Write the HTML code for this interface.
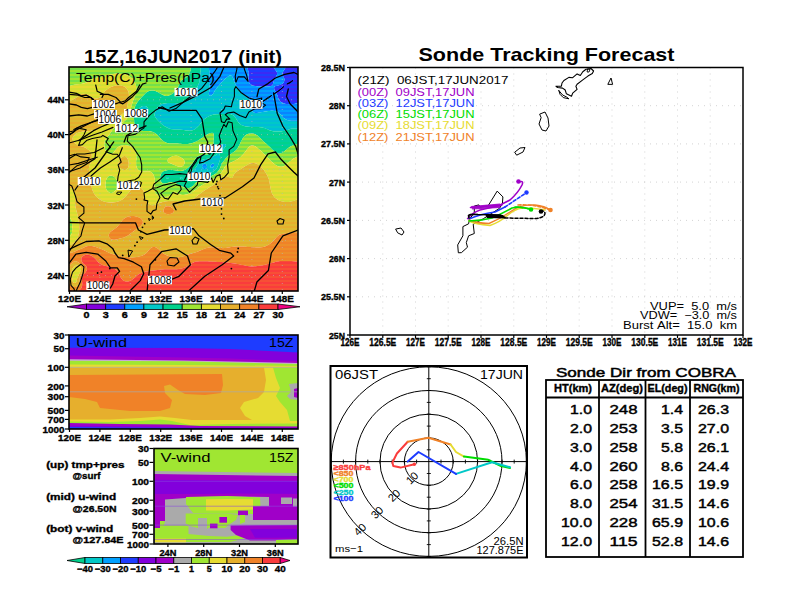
<!DOCTYPE html>
<html><head><meta charset="utf-8"><style>
html,body{margin:0;padding:0;background:#fff;width:792px;height:612px;overflow:hidden;position:relative}
text{font-family:"Liberation Sans", sans-serif}
</style></head><body>
<svg width="792" height="612" viewBox="0 0 792 612" style="position:absolute;left:0;top:0">
<g font-family='"Liberation Sans", sans-serif'>
<clipPath id="cm"><rect x="69" y="67" width="229" height="224"/></clipPath>
<g clip-path="url(#cm)">
<path d="M248.0,65.0L249.0,65.0L250.0,65.0L251.0,65.0L252.0,65.0L253.0,65.0L254.0,65.0L255.0,65.0L256.0,65.0L257.0,65.0L258.0,65.0L259.0,65.0L260.0,65.0L261.0,65.0L262.0,65.0L263.0,65.0L264.0,65.0L265.0,65.0L266.0,65.0L267.0,65.0L268.0,65.0L269.0,65.0L270.0,65.0L271.0,65.0L271.6,65.0L272.0,65.5L272.4,66.0L273.0,66.8L273.2,67.0L274.0,68.0L274.0,68.1L274.7,69.0L275.0,69.3L275.5,70.0L276.0,70.7L276.2,71.0L276.8,72.0L277.0,72.8L277.1,73.0L277.1,74.0L277.0,74.4L276.9,75.0L276.4,76.0L276.0,76.6L275.8,77.0L275.2,78.0L275.0,78.3L274.6,79.0L274.1,80.0L274.0,80.2L273.7,81.0L273.3,82.0L273.1,83.0L273.0,83.5L272.9,84.0L272.6,85.0L272.0,85.6L271.0,86.0L270.8,86.0L270.0,86.2L269.0,86.3L268.0,86.4L267.0,86.5L266.0,86.6L265.0,86.6L264.0,86.6L263.0,86.5L262.0,86.5L261.0,86.4L260.0,86.4L259.0,86.3L258.0,86.3L257.0,86.2L256.0,86.1L255.4,86.0L255.0,85.9L254.0,85.7L253.0,85.4L252.0,85.1L251.9,85.0L251.0,84.5L250.4,84.0L250.0,83.7L249.4,83.0L249.0,82.3L248.9,82.0L248.6,81.0L248.4,80.0L248.4,79.0L248.5,78.0L248.6,77.0L248.7,76.0L248.7,75.0L248.7,74.0L248.6,73.0L248.5,72.0L248.3,71.0L248.0,70.0L248.0,69.9L247.8,69.0L247.5,68.0L247.3,67.0L247.2,66.0L247.1,65.0ZM287.0,65.0L288.0,65.0L289.0,65.0L290.0,65.0L291.0,65.0L292.0,65.0L293.0,65.0L294.0,65.0L295.0,65.0L296.0,65.0L297.0,65.0L298.0,65.0L299.0,65.0L300.0,65.0L300.0,66.0L300.0,67.0L300.0,68.0L300.0,69.0L300.0,70.0L300.0,71.0L300.0,72.0L300.0,73.0L300.0,74.0L300.0,75.0L300.0,76.0L300.0,77.0L300.0,78.0L300.0,79.0L300.0,80.0L300.0,81.0L300.0,82.0L300.0,83.0L300.0,84.0L300.0,85.0L300.0,86.0L300.0,87.0L300.0,88.0L300.0,89.0L300.0,90.0L300.0,91.0L300.0,92.0L300.0,93.0L300.0,94.0L300.0,95.0L300.0,96.0L300.0,97.0L300.0,98.0L300.0,99.0L300.0,100.0L300.0,101.0L300.0,102.0L300.0,102.3L299.0,102.7L298.1,103.0L298.0,103.0L297.0,103.3L296.0,103.6L295.0,103.8L294.0,104.0L293.7,104.0L293.0,104.1L292.0,104.1L291.0,104.1L290.0,104.1L289.0,104.2L288.0,104.1L287.0,104.1L286.2,104.0L286.0,104.0L285.0,103.8L284.0,103.4L283.0,103.0L282.9,103.0L282.0,102.5L281.0,102.0L281.0,102.0L280.0,101.2L279.8,101.0L279.0,100.0L279.0,99.9L278.6,99.0L278.2,98.0L278.0,97.2L277.9,97.0L277.6,96.0L277.2,95.0L277.0,94.6L276.7,94.0L276.1,93.0L276.0,92.7L275.6,92.0L275.1,91.0L275.0,90.8L274.7,90.0L274.3,89.0L274.1,88.0L274.2,87.0L275.0,86.3L275.7,86.0L276.0,85.9L277.0,85.7L278.0,85.4L279.0,85.2L279.6,85.0L280.0,84.9L281.0,84.5L281.8,84.0L282.0,83.9L283.0,83.0L283.0,83.0L283.8,82.0L284.0,81.6L284.3,81.0L284.5,80.0L284.4,79.0L284.1,78.0L284.0,77.8L283.6,77.0L283.2,76.0L283.0,75.6L282.7,75.0L282.5,74.0L282.6,73.0L282.9,72.0L283.0,71.8L283.4,71.0L284.0,70.2L284.1,70.0L284.8,69.0L285.0,68.6L285.4,68.0L286.0,67.0L286.0,66.9L286.5,66.0L286.9,65.0Z" fill="#1e3cff" fill-rule="evenodd"/>
<path d="M210.0,65.0L211.0,65.0L212.0,65.0L213.0,65.0L214.0,65.0L215.0,65.0L216.0,65.0L217.0,65.0L218.0,65.0L219.0,65.0L220.0,65.0L221.0,65.0L222.0,65.0L223.0,65.0L224.0,65.0L225.0,65.0L226.0,65.0L227.0,65.0L228.0,65.0L229.0,65.0L230.0,65.0L231.0,65.0L232.0,65.0L233.0,65.0L234.0,65.0L235.0,65.0L236.0,65.0L237.0,65.0L238.0,65.0L239.0,65.0L240.0,65.0L241.0,65.0L242.0,65.0L243.0,65.0L244.0,65.0L245.0,65.0L246.0,65.0L247.0,65.0L247.1,65.0L247.2,66.0L247.3,67.0L247.5,68.0L247.8,69.0L248.0,69.9L248.0,70.0L248.3,71.0L248.5,72.0L248.6,73.0L248.7,74.0L248.7,75.0L248.7,76.0L248.6,77.0L248.5,78.0L248.4,79.0L248.4,80.0L248.6,81.0L248.9,82.0L249.0,82.3L249.4,83.0L250.0,83.7L250.4,84.0L251.0,84.5L251.9,85.0L252.0,85.1L253.0,85.4L254.0,85.7L255.0,85.9L255.4,86.0L256.0,86.1L257.0,86.2L258.0,86.3L259.0,86.3L260.0,86.4L261.0,86.4L262.0,86.5L263.0,86.5L264.0,86.6L265.0,86.6L266.0,86.6L267.0,86.5L268.0,86.4L269.0,86.3L270.0,86.2L270.8,86.0L271.0,86.0L272.0,85.6L272.6,85.0L272.9,84.0L273.0,83.5L273.1,83.0L273.3,82.0L273.7,81.0L274.0,80.2L274.1,80.0L274.6,79.0L275.0,78.3L275.2,78.0L275.8,77.0L276.0,76.6L276.4,76.0L276.9,75.0L277.0,74.4L277.1,74.0L277.1,73.0L277.0,72.8L276.8,72.0L276.2,71.0L276.0,70.7L275.5,70.0L275.0,69.3L274.7,69.0L274.0,68.1L274.0,68.0L273.2,67.0L273.0,66.8L272.4,66.0L272.0,65.5L271.6,65.0L272.0,65.0L273.0,65.0L274.0,65.0L275.0,65.0L276.0,65.0L277.0,65.0L278.0,65.0L279.0,65.0L280.0,65.0L281.0,65.0L282.0,65.0L283.0,65.0L284.0,65.0L285.0,65.0L286.0,65.0L286.9,65.0L286.5,66.0L286.0,66.9L286.0,67.0L285.4,68.0L285.0,68.6L284.8,69.0L284.1,70.0L284.0,70.2L283.4,71.0L283.0,71.8L282.9,72.0L282.6,73.0L282.5,74.0L282.7,75.0L283.0,75.6L283.2,76.0L283.6,77.0L284.0,77.8L284.1,78.0L284.4,79.0L284.5,80.0L284.3,81.0L284.0,81.6L283.8,82.0L283.0,83.0L283.0,83.0L282.0,83.9L281.8,84.0L281.0,84.5L280.0,84.9L279.6,85.0L279.0,85.2L278.0,85.4L277.0,85.7L276.0,85.9L275.7,86.0L275.0,86.3L274.2,87.0L274.1,88.0L274.3,89.0L274.7,90.0L275.0,90.8L275.1,91.0L275.6,92.0L276.0,92.7L276.1,93.0L276.7,94.0L277.0,94.6L277.2,95.0L277.6,96.0L277.9,97.0L278.0,97.2L278.2,98.0L278.6,99.0L279.0,99.9L279.0,100.0L279.8,101.0L280.0,101.2L281.0,102.0L281.0,102.0L282.0,102.5L282.9,103.0L283.0,103.0L284.0,103.4L285.0,103.8L286.0,104.0L286.2,104.0L287.0,104.1L288.0,104.1L289.0,104.2L290.0,104.1L291.0,104.1L292.0,104.1L293.0,104.1L293.7,104.0L294.0,104.0L295.0,103.8L296.0,103.6L297.0,103.3L298.0,103.0L298.1,103.0L299.0,102.7L300.0,102.3L300.0,103.0L300.0,104.0L300.0,105.0L300.0,106.0L300.0,107.0L300.0,108.0L300.0,109.0L300.0,110.0L300.0,111.0L300.0,112.0L300.0,113.0L300.0,114.0L300.0,115.0L300.0,116.0L300.0,117.0L300.0,118.0L300.0,119.0L300.0,120.0L300.0,120.4L299.0,120.6L298.0,120.7L297.0,120.8L296.0,120.8L295.0,120.8L294.0,120.8L293.0,120.7L292.0,120.7L291.0,120.7L290.0,120.6L289.0,120.4L288.0,120.2L287.3,120.0L287.0,119.9L286.0,119.5L285.1,119.0L285.0,118.9L284.0,118.2L283.7,118.0L283.0,117.4L282.6,117.0L282.0,116.3L281.7,116.0L281.0,115.2L280.9,115.0L280.0,114.0L280.0,113.9L279.1,113.0L279.0,112.9L278.0,112.1L277.9,112.0L277.0,111.6L276.0,111.2L275.0,111.0L274.7,111.0L274.0,110.9L273.0,110.8L272.0,110.8L271.0,110.8L270.0,110.9L269.0,111.0L268.8,111.0L268.0,111.1L267.0,111.3L266.0,111.4L265.0,111.6L264.0,111.8L263.0,111.9L262.4,112.0L262.0,112.1L261.0,112.2L260.0,112.4L259.0,112.5L258.0,112.7L257.0,112.9L256.0,112.9L255.0,112.9L254.0,112.6L253.0,112.1L252.9,112.0L252.0,111.1L251.9,111.0L251.4,110.0L251.0,109.0L251.0,109.0L250.9,108.0L250.9,107.0L250.9,106.0L250.9,105.0L250.8,104.0L250.7,103.0L250.5,102.0L250.0,101.0L250.0,100.9L249.5,100.0L249.0,99.4L248.7,99.0L248.0,98.3L247.7,98.0L247.0,97.4L246.6,97.0L246.0,96.5L245.4,96.0L245.0,95.7L244.1,95.0L244.0,94.9L243.0,94.0L243.0,94.0L242.0,93.1L241.9,93.0L241.0,92.1L240.9,92.0L240.0,91.1L239.9,91.0L239.1,90.0L239.0,89.9L238.3,89.0L238.0,88.6L237.6,88.0L237.0,87.1L237.0,87.0L236.3,86.0L236.0,85.3L235.8,85.0L235.3,84.0L235.0,83.3L234.9,83.0L234.4,82.0L234.1,81.0L234.0,80.8L233.7,80.0L233.3,79.0L233.0,78.0L233.0,78.0L232.5,77.0L232.0,76.2L231.7,76.0L231.0,75.5L230.0,75.5L229.0,75.8L228.8,76.0L228.0,76.5L227.4,77.0L227.0,77.3L226.2,78.0L226.0,78.1L225.1,79.0L225.0,79.1L224.0,80.0L224.0,80.0L223.0,81.0L223.0,81.0L222.1,82.0L222.0,82.1L221.1,83.0L221.0,83.2L220.2,84.0L220.0,84.2L219.3,85.0L219.0,85.4L218.4,86.0L218.0,86.5L217.6,87.0L217.0,87.7L216.7,88.0L216.0,89.0L216.0,89.0L215.3,90.0L215.0,90.5L214.6,91.0L214.1,92.0L214.0,92.2L213.5,93.0L213.0,94.0L213.0,94.0L212.2,95.0L212.0,95.2L211.0,95.8L210.0,95.8L209.0,95.0L209.0,95.0L208.9,94.0L208.9,93.0L209.0,92.6L209.1,92.0L209.3,91.0L209.4,90.0L209.5,89.0L209.5,88.0L209.5,87.0L209.5,86.0L209.4,85.0L209.3,84.0L209.1,83.0L209.0,82.0L209.0,81.0L209.1,80.0L209.2,79.0L209.3,78.0L209.4,77.0L209.4,76.0L209.4,75.0L209.4,74.0L209.4,73.0L209.3,72.0L209.2,71.0L209.1,70.0L209.0,69.0L209.0,69.0L209.0,68.0L209.0,67.0L209.0,67.0L209.3,66.0L209.6,65.0ZM204.0,163.8L205.0,163.7L205.7,164.0L206.0,164.2L206.5,165.0L206.9,166.0L207.0,166.6L207.1,167.0L207.0,167.5L206.8,168.0L206.0,168.6L205.0,169.0L204.0,169.0L203.0,168.6L202.4,168.0L202.0,167.0L202.1,166.0L202.5,165.0L203.0,164.4L203.6,164.0ZM212.0,163.9L213.0,163.6L213.7,164.0L214.0,164.4L214.1,165.0L214.0,166.0L214.0,166.0L213.4,167.0L213.0,167.4L212.0,167.8L211.0,167.7L210.3,167.0L210.5,166.0L211.0,165.0L211.0,165.0L211.9,164.0Z" fill="#00a0ff" fill-rule="evenodd"/>
<path d="M201.0,65.0L202.0,65.0L203.0,65.0L204.0,65.0L205.0,65.0L206.0,65.0L207.0,65.0L208.0,65.0L209.0,65.0L209.6,65.0L209.3,66.0L209.0,67.0L209.0,67.0L209.0,68.0L209.0,69.0L209.0,69.0L209.1,70.0L209.2,71.0L209.3,72.0L209.4,73.0L209.4,74.0L209.4,75.0L209.4,76.0L209.4,77.0L209.3,78.0L209.2,79.0L209.1,80.0L209.0,81.0L209.0,82.0L209.1,83.0L209.3,84.0L209.4,85.0L209.5,86.0L209.5,87.0L209.5,88.0L209.5,89.0L209.4,90.0L209.3,91.0L209.1,92.0L209.0,92.6L208.9,93.0L208.9,94.0L209.0,95.0L209.0,95.0L210.0,95.8L211.0,95.8L212.0,95.2L212.2,95.0L213.0,94.0L213.0,94.0L213.5,93.0L214.0,92.2L214.1,92.0L214.6,91.0L215.0,90.5L215.3,90.0L216.0,89.0L216.0,89.0L216.7,88.0L217.0,87.7L217.6,87.0L218.0,86.5L218.4,86.0L219.0,85.4L219.3,85.0L220.0,84.2L220.2,84.0L221.0,83.2L221.1,83.0L222.0,82.1L222.1,82.0L223.0,81.0L223.0,81.0L224.0,80.0L224.0,80.0L225.0,79.1L225.1,79.0L226.0,78.1L226.2,78.0L227.0,77.3L227.4,77.0L228.0,76.5L228.8,76.0L229.0,75.8L230.0,75.5L231.0,75.5L231.7,76.0L232.0,76.2L232.5,77.0L233.0,78.0L233.0,78.0L233.3,79.0L233.7,80.0L234.0,80.8L234.1,81.0L234.4,82.0L234.9,83.0L235.0,83.3L235.3,84.0L235.8,85.0L236.0,85.3L236.3,86.0L237.0,87.0L237.0,87.1L237.6,88.0L238.0,88.6L238.3,89.0L239.0,89.9L239.1,90.0L239.9,91.0L240.0,91.1L240.9,92.0L241.0,92.1L241.9,93.0L242.0,93.1L243.0,94.0L243.0,94.0L244.0,94.9L244.1,95.0L245.0,95.7L245.4,96.0L246.0,96.5L246.6,97.0L247.0,97.4L247.7,98.0L248.0,98.3L248.7,99.0L249.0,99.4L249.5,100.0L250.0,100.9L250.0,101.0L250.5,102.0L250.7,103.0L250.8,104.0L250.9,105.0L250.9,106.0L250.9,107.0L250.9,108.0L251.0,109.0L251.0,109.0L251.4,110.0L251.9,111.0L252.0,111.1L252.9,112.0L253.0,112.1L254.0,112.6L255.0,112.9L256.0,112.9L257.0,112.9L258.0,112.7L259.0,112.5L260.0,112.4L261.0,112.2L262.0,112.1L262.4,112.0L263.0,111.9L264.0,111.8L265.0,111.6L266.0,111.4L267.0,111.3L268.0,111.1L268.8,111.0L269.0,111.0L270.0,110.9L271.0,110.8L272.0,110.8L273.0,110.8L274.0,110.9L274.7,111.0L275.0,111.0L276.0,111.2L277.0,111.6L277.9,112.0L278.0,112.1L279.0,112.9L279.1,113.0L280.0,113.9L280.0,114.0L280.9,115.0L281.0,115.2L281.7,116.0L282.0,116.3L282.6,117.0L283.0,117.4L283.7,118.0L284.0,118.2L285.0,118.9L285.1,119.0L286.0,119.5L287.0,119.9L287.3,120.0L288.0,120.2L289.0,120.4L290.0,120.6L291.0,120.7L292.0,120.7L293.0,120.7L294.0,120.8L295.0,120.8L296.0,120.8L297.0,120.8L298.0,120.7L299.0,120.6L300.0,120.4L300.0,121.0L300.0,122.0L300.0,123.0L300.0,124.0L300.0,125.0L300.0,126.0L300.0,127.0L300.0,128.0L300.0,129.0L300.0,129.3L299.0,129.1L298.1,129.0L298.0,129.0L297.0,128.8L296.0,128.6L295.0,128.5L294.0,128.4L293.0,128.4L292.0,128.5L291.0,128.7L290.1,129.0L290.0,129.1L289.0,129.4L288.0,129.8L287.3,130.0L287.0,130.1L286.0,130.4L285.0,130.7L284.0,130.9L283.6,131.0L283.0,131.1L282.0,131.3L281.0,131.4L280.0,131.5L279.0,131.5L278.0,131.6L277.0,131.6L276.0,131.6L275.0,131.5L274.0,131.4L273.0,131.2L272.0,131.0L272.0,131.0L271.0,130.7L270.0,130.4L269.0,130.0L269.0,130.0L268.0,129.5L267.0,129.1L266.8,129.0L266.0,128.7L265.0,128.3L264.2,128.0L264.0,127.9L263.0,127.7L262.0,127.5L261.0,127.3L260.0,127.2L259.0,127.1L258.0,127.1L257.0,127.0L256.0,127.0L255.0,127.0L254.0,127.0L253.6,127.0L253.0,127.0L252.0,127.0L251.0,126.9L250.0,126.9L249.0,126.8L248.0,126.7L247.0,126.5L246.0,126.4L245.0,126.2L244.2,126.0L244.0,125.9L243.0,125.6L242.0,125.2L241.6,125.0L241.0,124.7L240.0,124.0L240.0,124.0L239.0,123.0L239.0,123.0L238.2,122.0L238.0,121.7L237.5,121.0L237.0,120.1L236.9,120.0L236.3,119.0L236.0,118.5L235.7,118.0L235.0,117.1L234.9,117.0L234.0,116.0L234.0,116.0L233.0,115.2L232.6,115.0L232.0,114.7L231.0,114.3L230.0,114.1L229.0,114.0L228.3,114.0L228.0,114.0L227.0,114.0L226.0,114.0L225.4,114.0L225.0,114.0L224.0,114.0L223.0,114.1L222.0,114.1L221.0,114.1L220.0,114.1L219.0,114.1L218.0,114.2L217.0,114.3L216.0,114.3L215.0,114.5L214.0,114.6L213.0,114.8L212.4,115.0L212.0,115.1L211.0,115.4L210.0,115.7L209.4,116.0L209.0,116.2L208.0,116.7L207.4,117.0L207.0,117.2L206.0,117.9L205.9,118.0L205.0,118.7L204.6,119.0L204.0,119.6L203.6,120.0L203.0,120.6L202.6,121.0L202.0,121.8L201.8,122.0L201.0,123.0L201.0,123.0L200.2,124.0L200.0,124.2L199.4,125.0L199.0,125.4L198.5,126.0L198.0,126.5L197.5,127.0L197.0,127.5L196.4,128.0L196.0,128.3L195.1,129.0L195.0,129.1L194.0,129.7L193.2,130.0L193.0,130.1L192.0,130.4L191.0,130.6L190.0,130.7L189.0,130.7L188.0,130.6L187.0,130.5L186.0,130.4L185.0,130.2L184.0,130.0L183.7,130.0L183.0,129.9L182.0,129.8L181.0,129.7L180.0,129.6L179.0,129.5L178.0,129.5L177.0,129.5L176.0,129.5L175.0,129.5L174.0,129.4L173.0,129.3L172.0,129.2L171.0,129.0L171.0,129.0L170.0,128.8L169.0,128.4L168.0,128.0L167.9,128.0L167.0,127.6L166.0,127.0L165.9,127.0L165.0,126.4L164.3,126.0L164.0,125.8L163.0,125.1L162.9,125.0L162.0,124.3L161.6,124.0L161.0,123.5L160.5,123.0L160.0,122.6L159.4,122.0L159.0,121.6L158.4,121.0L158.0,120.6L157.4,120.0L157.0,119.5L156.6,119.0L156.0,118.2L155.8,118.0L155.2,117.0L155.0,116.5L154.8,116.0L154.5,115.0L154.5,114.0L154.8,113.0L155.0,112.7L155.3,112.0L155.7,111.0L156.0,110.5L156.2,110.0L156.7,109.0L157.0,108.4L157.2,108.0L157.8,107.0L158.0,106.8L158.7,106.0L159.0,105.7L160.0,105.0L160.0,105.0L161.0,104.5L162.0,104.0L162.1,104.0L163.0,103.7L164.0,103.5L165.0,103.3L166.0,103.2L167.0,103.1L167.9,103.0L168.0,103.0L169.0,103.0L170.0,102.9L171.0,103.0L172.0,103.0L172.6,103.0L173.0,103.0L174.0,103.1L175.0,103.1L176.0,103.2L177.0,103.2L178.0,103.2L179.0,103.1L180.0,103.1L180.3,103.0L181.0,102.9L182.0,102.6L183.0,102.2L183.5,102.0L184.0,101.8L185.0,101.2L185.3,101.0L186.0,100.5L186.6,100.0L187.0,99.7L187.8,99.0L188.0,98.8L188.9,98.0L189.0,97.9L189.8,97.0L190.0,96.8L190.8,96.0L191.0,95.7L191.6,95.0L192.0,94.5L192.4,94.0L193.0,93.3L193.2,93.0L194.0,92.0L194.0,92.0L194.7,91.0L195.0,90.5L195.4,90.0L196.0,89.0L196.0,89.0L196.6,88.0L197.0,87.4L197.2,87.0L197.7,86.0L198.0,85.5L198.2,85.0L198.6,84.0L199.0,83.0L199.0,83.0L199.3,82.0L199.5,81.0L199.7,80.0L199.9,79.0L200.0,78.4L200.0,78.0L200.2,77.0L200.3,76.0L200.3,75.0L200.4,74.0L200.5,73.0L200.5,72.0L200.6,71.0L200.6,70.0L200.7,69.0L200.7,68.0L200.7,67.0L200.7,66.0L200.7,65.0ZM144.0,105.9L145.0,106.0L145.0,106.0L146.0,106.3L147.0,107.0L147.0,107.0L147.7,108.0L148.0,108.5L148.2,109.0L148.6,110.0L148.8,111.0L148.9,112.0L148.8,113.0L148.2,114.0L148.0,114.2L147.0,114.9L146.8,115.0L146.0,115.2L145.0,115.4L144.0,115.4L143.0,115.1L142.7,115.0L142.0,114.7L141.0,114.0L141.0,114.0L140.1,113.0L140.0,112.9L139.5,112.0L139.1,111.0L139.0,110.5L138.9,110.0L139.0,109.0L139.0,109.0L139.6,108.0L140.0,107.6L140.7,107.0L141.0,106.8L142.0,106.3L143.0,106.0L143.1,106.0ZM224.0,143.9L225.0,143.9L225.2,144.0L226.0,145.0L225.8,146.0L225.2,147.0L225.0,147.3L224.5,148.0L224.0,148.6L223.7,149.0L223.0,149.8L222.8,150.0L222.0,150.8L221.7,151.0L221.0,151.7L220.4,152.0L220.0,152.6L219.4,153.0L219.6,154.0L219.8,155.0L220.0,155.8L220.0,156.0L220.1,157.0L220.2,158.0L220.1,159.0L220.0,159.6L219.9,160.0L219.6,161.0L219.3,162.0L219.0,162.8L218.9,163.0L218.6,164.0L218.2,165.0L218.0,165.6L217.8,166.0L217.4,167.0L217.0,167.8L216.9,168.0L216.2,169.0L216.0,169.3L215.3,170.0L215.0,170.3L214.1,171.0L214.0,171.1L213.0,171.7L212.4,172.0L212.0,172.2L211.0,172.6L210.0,173.0L210.0,173.0L209.0,173.3L208.0,173.6L207.0,173.9L206.6,174.0L206.0,174.2L205.0,174.4L204.0,174.6L203.0,174.7L202.0,174.9L201.0,175.0L200.2,175.0L200.0,175.0L199.0,175.0L198.0,175.1L197.0,175.1L196.0,175.2L195.0,175.3L194.0,175.4L193.0,175.7L192.0,175.9L191.1,176.0L191.0,176.0L190.5,176.0L190.0,175.9L189.6,175.0L189.8,174.0L190.0,173.7L190.3,173.0L190.9,172.0L191.0,171.9L191.9,171.0L192.0,170.9L193.0,170.2L193.2,170.0L194.0,169.4L194.5,169.0L195.0,168.5L195.4,168.0L196.0,167.3L196.2,167.0L196.9,166.0L197.0,165.8L197.4,165.0L198.0,164.0L198.0,164.0L198.6,163.0L199.0,162.4L199.3,162.0L200.0,161.3L200.3,161.0L201.0,160.5L201.8,160.0L202.0,159.9L203.0,159.5L204.0,159.3L205.0,159.1L205.6,159.0L206.0,158.9L207.0,158.8L208.0,158.7L209.0,158.4L210.0,158.0L210.1,158.0L211.0,157.6L212.0,157.1L212.2,157.0L213.0,156.6L214.0,156.0L214.0,156.0L215.0,155.4L215.6,155.0L216.0,154.7L217.0,154.1L217.3,154.0L218.0,153.4L218.8,153.0L219.0,152.0L218.9,151.0L218.9,150.0L219.0,149.5L219.1,149.0L219.4,148.0L219.9,147.0L220.0,146.7L220.6,146.0L221.0,145.5L221.6,145.0L222.0,144.7L223.0,144.2L223.6,144.0ZM203.6,164.0L203.0,164.4L202.5,165.0L202.1,166.0L202.0,167.0L202.4,168.0L203.0,168.6L204.0,169.0L205.0,169.0L206.0,168.6L206.8,168.0L207.0,167.5L207.1,167.0L207.0,166.6L206.9,166.0L206.5,165.0L206.0,164.2L205.7,164.0L205.0,163.7L204.0,163.8ZM211.9,164.0L211.0,165.0L211.0,165.0L210.5,166.0L210.3,167.0L211.0,167.7L212.0,167.8L213.0,167.4L213.4,167.0L214.0,166.0L214.0,166.0L214.1,165.0L214.0,164.4L213.7,164.0L213.0,163.6L212.0,163.9ZM168.0,176.9L168.9,177.0L168.9,178.0L168.0,178.5L167.0,179.0L166.5,178.0L167.0,177.2L167.5,177.0ZM180.0,177.7L181.0,177.5L182.0,177.7L183.0,177.9L183.2,178.0L183.0,178.4L182.5,179.0L182.0,179.0L181.1,179.0L181.0,179.0L180.0,178.2L179.7,178.0Z" fill="#00c8c8" fill-rule="evenodd"/>
<path d="M93.0,65.0L94.0,65.0L95.0,65.0L96.0,65.0L97.0,65.0L98.0,65.0L99.0,65.0L100.0,65.0L101.0,65.0L101.4,65.0L101.0,65.3L100.0,65.9L99.8,66.0L99.0,66.4L98.0,66.8L97.0,67.0L96.0,66.8L95.0,66.4L94.2,66.0L94.0,65.9L93.0,65.0L93.0,65.0ZM191.0,65.0L192.0,65.0L193.0,65.0L194.0,65.0L195.0,65.0L196.0,65.0L197.0,65.0L198.0,65.0L199.0,65.0L200.0,65.0L200.7,65.0L200.7,66.0L200.7,67.0L200.7,68.0L200.7,69.0L200.6,70.0L200.6,71.0L200.5,72.0L200.5,73.0L200.4,74.0L200.3,75.0L200.3,76.0L200.2,77.0L200.0,78.0L200.0,78.4L199.9,79.0L199.7,80.0L199.5,81.0L199.3,82.0L199.0,83.0L199.0,83.0L198.6,84.0L198.2,85.0L198.0,85.5L197.7,86.0L197.2,87.0L197.0,87.4L196.6,88.0L196.0,89.0L196.0,89.0L195.4,90.0L195.0,90.5L194.7,91.0L194.0,92.0L194.0,92.0L193.2,93.0L193.0,93.3L192.4,94.0L192.0,94.5L191.6,95.0L191.0,95.7L190.8,96.0L190.0,96.8L189.8,97.0L189.0,97.9L188.9,98.0L188.0,98.8L187.8,99.0L187.0,99.7L186.6,100.0L186.0,100.5L185.3,101.0L185.0,101.2L184.0,101.8L183.5,102.0L183.0,102.2L182.0,102.6L181.0,102.9L180.3,103.0L180.0,103.1L179.0,103.1L178.0,103.2L177.0,103.2L176.0,103.2L175.0,103.1L174.0,103.1L173.0,103.0L172.6,103.0L172.0,103.0L171.0,103.0L170.0,102.9L169.0,103.0L168.0,103.0L167.9,103.0L167.0,103.1L166.0,103.2L165.0,103.3L164.0,103.5L163.0,103.7L162.1,104.0L162.0,104.0L161.0,104.5L160.0,105.0L160.0,105.0L159.0,105.7L158.7,106.0L158.0,106.8L157.8,107.0L157.2,108.0L157.0,108.4L156.7,109.0L156.2,110.0L156.0,110.5L155.7,111.0L155.3,112.0L155.0,112.7L154.8,113.0L154.5,114.0L154.5,115.0L154.8,116.0L155.0,116.5L155.2,117.0L155.8,118.0L156.0,118.2L156.6,119.0L157.0,119.5L157.4,120.0L158.0,120.6L158.4,121.0L159.0,121.6L159.4,122.0L160.0,122.6L160.5,123.0L161.0,123.5L161.6,124.0L162.0,124.3L162.9,125.0L163.0,125.1L164.0,125.8L164.3,126.0L165.0,126.4L165.9,127.0L166.0,127.0L167.0,127.6L167.9,128.0L168.0,128.0L169.0,128.4L170.0,128.8L171.0,129.0L171.0,129.0L172.0,129.2L173.0,129.3L174.0,129.4L175.0,129.5L176.0,129.5L177.0,129.5L178.0,129.5L179.0,129.5L180.0,129.6L181.0,129.7L182.0,129.8L183.0,129.9L183.7,130.0L184.0,130.0L185.0,130.2L186.0,130.4L187.0,130.5L188.0,130.6L189.0,130.7L190.0,130.7L191.0,130.6L192.0,130.4L193.0,130.1L193.2,130.0L194.0,129.7L195.0,129.1L195.1,129.0L196.0,128.3L196.4,128.0L197.0,127.5L197.5,127.0L198.0,126.5L198.5,126.0L199.0,125.4L199.4,125.0L200.0,124.2L200.2,124.0L201.0,123.0L201.0,123.0L201.8,122.0L202.0,121.8L202.6,121.0L203.0,120.6L203.6,120.0L204.0,119.6L204.6,119.0L205.0,118.7L205.9,118.0L206.0,117.9L207.0,117.2L207.4,117.0L208.0,116.7L209.0,116.2L209.4,116.0L210.0,115.7L211.0,115.4L212.0,115.1L212.4,115.0L213.0,114.8L214.0,114.6L215.0,114.5L216.0,114.3L217.0,114.3L218.0,114.2L219.0,114.1L220.0,114.1L221.0,114.1L222.0,114.1L223.0,114.1L224.0,114.0L225.0,114.0L225.4,114.0L226.0,114.0L227.0,114.0L228.0,114.0L228.3,114.0L229.0,114.0L230.0,114.1L231.0,114.3L232.0,114.7L232.6,115.0L233.0,115.2L234.0,116.0L234.0,116.0L234.9,117.0L235.0,117.1L235.7,118.0L236.0,118.5L236.3,119.0L236.9,120.0L237.0,120.1L237.5,121.0L238.0,121.7L238.2,122.0L239.0,123.0L239.0,123.0L240.0,124.0L240.0,124.0L241.0,124.7L241.6,125.0L242.0,125.2L243.0,125.6L244.0,125.9L244.2,126.0L245.0,126.2L246.0,126.4L247.0,126.5L248.0,126.7L249.0,126.8L250.0,126.9L251.0,126.9L252.0,127.0L253.0,127.0L253.6,127.0L254.0,127.0L255.0,127.0L256.0,127.0L257.0,127.0L258.0,127.1L259.0,127.1L260.0,127.2L261.0,127.3L262.0,127.5L263.0,127.7L264.0,127.9L264.2,128.0L265.0,128.3L266.0,128.7L266.8,129.0L267.0,129.1L268.0,129.5L269.0,130.0L269.0,130.0L270.0,130.4L271.0,130.7L272.0,131.0L272.0,131.0L273.0,131.2L274.0,131.4L275.0,131.5L276.0,131.6L277.0,131.6L278.0,131.6L279.0,131.5L280.0,131.5L281.0,131.4L282.0,131.3L283.0,131.1L283.6,131.0L284.0,130.9L285.0,130.7L286.0,130.4L287.0,130.1L287.3,130.0L288.0,129.8L289.0,129.4L290.0,129.1L290.1,129.0L291.0,128.7L292.0,128.5L293.0,128.4L294.0,128.4L295.0,128.5L296.0,128.6L297.0,128.8L298.0,129.0L298.1,129.0L299.0,129.1L300.0,129.3L300.0,130.0L300.0,131.0L300.0,132.0L300.0,133.0L300.0,134.0L300.0,135.0L300.0,136.0L300.0,137.0L300.0,138.0L300.0,139.0L300.0,140.0L300.0,141.0L300.0,142.0L300.0,143.0L300.0,143.1L299.0,143.4L298.0,143.7L297.0,143.9L296.8,144.0L296.0,144.3L295.0,144.6L294.0,144.9L293.9,145.0L293.0,145.3L292.0,145.8L291.5,146.0L291.0,146.3L290.0,146.8L289.7,147.0L289.0,147.5L288.3,148.0L288.0,148.2L287.0,149.0L287.0,149.0L286.0,149.9L285.9,150.0L285.0,150.7L284.7,151.0L284.0,151.5L283.4,152.0L283.0,152.2L282.0,152.8L281.5,153.0L281.0,153.2L280.0,153.4L279.0,153.5L278.0,153.4L277.0,153.0L276.9,153.0L276.0,152.5L275.2,152.0L275.0,151.9L274.0,151.1L273.9,151.0L273.0,150.2L272.8,150.0L272.0,149.2L271.8,149.0L271.0,148.2L270.8,148.0L270.0,147.2L269.7,147.0L269.0,146.3L268.7,146.0L268.0,145.4L267.6,145.0L267.0,144.5L266.5,144.0L266.0,143.6L265.3,143.0L265.0,142.7L264.2,142.0L264.0,141.8L263.1,141.0L263.0,140.9L262.1,140.0L262.0,139.9L261.1,139.0L261.0,138.9L260.1,138.0L260.0,137.9L259.1,137.0L259.0,136.9L258.0,136.0L258.0,136.0L257.0,135.3L256.5,135.0L256.0,134.7L255.0,134.2L254.5,134.0L254.0,133.8L253.0,133.6L252.0,133.4L251.0,133.4L250.0,133.4L249.0,133.6L248.0,133.9L247.7,134.0L247.0,134.3L246.0,134.9L245.8,135.0L245.0,135.7L244.6,136.0L244.0,136.7L243.7,137.0L243.0,138.0L243.0,138.0L242.4,139.0L242.0,139.7L241.8,140.0L241.3,141.0L241.0,141.6L240.8,142.0L240.3,143.0L240.0,143.7L239.8,144.0L239.4,145.0L239.0,145.7L238.8,146.0L238.3,147.0L238.0,147.5L237.7,148.0L237.0,149.0L237.0,149.0L236.2,150.0L236.0,150.2L235.2,151.0L235.0,151.1L234.0,151.9L233.9,152.0L233.0,152.6L232.4,153.0L232.0,153.2L231.0,153.9L230.8,154.0L230.0,154.5L229.3,155.0L229.0,155.2L228.0,156.0L228.0,156.0L227.0,156.9L226.9,157.0L226.0,158.0L226.0,158.0L225.2,159.0L225.0,159.3L224.5,160.0L224.0,160.6L223.7,161.0L223.0,162.0L223.0,162.0L222.3,163.0L222.0,163.5L221.8,164.0L221.3,165.0L221.0,165.7L220.9,166.0L220.5,167.0L220.1,168.0L220.0,168.2L219.6,169.0L219.0,170.0L219.0,170.0L218.3,171.0L218.0,171.3L217.4,172.0L217.0,172.4L216.3,173.0L216.0,173.3L215.1,174.0L215.0,174.1L214.0,174.7L213.5,175.0L213.0,175.3L212.0,175.8L211.5,176.0L211.0,176.2L210.0,176.7L209.1,177.0L209.0,177.1L208.0,177.4L207.0,177.8L206.5,178.0L206.0,178.2L205.0,178.6L204.0,179.0L203.9,179.0L203.0,179.3L202.0,179.7L201.1,180.0L201.0,180.0L200.0,180.4L199.0,180.8L198.5,181.0L198.0,181.3L197.0,181.9L196.8,182.0L196.0,182.6L195.6,183.0L195.0,183.6L194.6,184.0L194.0,184.6L193.7,185.0L193.0,185.7L192.7,186.0L192.0,186.6L191.4,187.0L191.0,187.3L190.0,187.8L189.2,188.0L189.0,188.1L188.0,188.2L187.0,188.2L186.0,188.1L185.6,188.0L185.0,187.8L184.0,187.4L183.1,187.0L183.0,187.0L182.0,186.4L181.2,186.0L181.0,185.9L180.0,185.4L179.2,185.0L179.0,184.9L178.0,184.4L177.3,184.0L177.0,183.9L176.0,183.4L175.1,183.0L175.0,183.0L174.0,182.6L173.0,182.3L172.0,182.2L171.0,182.1L170.0,182.2L169.0,182.4L168.0,182.7L167.2,183.0L167.0,183.1L166.0,183.4L165.0,183.6L164.0,183.6L163.0,183.4L162.3,183.0L162.0,182.8L161.4,182.0L161.0,181.4L160.8,181.0L160.5,180.0L160.3,179.0L160.2,178.0L160.2,177.0L160.3,176.0L160.5,175.0L160.9,174.0L161.0,173.9L161.6,173.0L162.0,172.5L162.5,172.0L163.0,171.6L164.0,171.1L164.2,171.0L165.0,170.7L166.0,170.4L167.0,170.3L168.0,170.1L169.0,170.0L170.0,170.0L170.0,170.0L171.0,170.0L171.3,170.0L172.0,170.0L173.0,170.1L174.0,170.2L175.0,170.3L176.0,170.5L177.0,170.6L178.0,170.8L179.0,170.9L180.0,170.9L181.0,170.9L182.0,170.8L183.0,170.6L184.0,170.3L184.6,170.0L185.0,169.8L186.0,169.2L186.3,169.0L187.0,168.5L187.6,168.0L188.0,167.7L188.8,167.0L189.0,166.8L189.9,166.0L190.0,165.9L191.0,165.0L191.0,165.0L192.0,164.0L192.0,164.0L192.8,163.0L193.0,162.6L193.4,162.0L193.9,161.0L194.0,160.9L194.5,160.0L195.0,159.2L195.2,159.0L196.0,158.0L196.0,158.0L197.0,157.1L197.1,157.0L198.0,156.4L198.7,156.0L199.0,155.8L200.0,155.4L201.0,155.1L201.6,155.0L202.0,154.9L203.0,154.8L204.0,154.7L205.0,154.6L206.0,154.5L207.0,154.4L208.0,154.2L208.5,154.0L209.0,153.8L210.0,153.3L210.4,153.0L211.0,152.5L211.5,152.0L212.0,151.2L212.2,151.0L212.6,150.0L212.9,149.0L213.0,148.4L213.1,148.0L213.2,147.0L213.3,146.0L213.3,145.0L213.4,144.0L213.4,143.0L213.5,142.0L213.5,141.0L213.6,140.0L213.6,139.0L213.7,138.0L213.7,137.0L213.8,136.0L213.8,135.0L213.7,134.0L213.2,133.0L213.0,132.9L212.0,132.7L211.0,132.9L210.7,133.0L210.0,133.2L209.0,133.6L208.1,134.0L208.0,134.1L207.0,134.6L206.3,135.0L206.0,135.2L205.0,135.8L204.7,136.0L204.0,136.5L203.2,137.0L203.0,137.2L202.0,137.9L201.8,138.0L201.0,138.6L200.4,139.0L200.0,139.3L199.0,140.0L198.9,140.0L198.0,140.6L197.3,141.0L197.0,141.1L196.0,141.6L195.2,142.0L195.0,142.1L194.0,142.5L193.0,142.8L192.3,143.0L192.0,143.1L191.0,143.4L190.0,143.6L189.0,143.8L188.0,143.9L187.5,144.0L187.0,144.1L186.0,144.1L185.0,144.1L184.0,144.1L183.0,144.0L183.0,144.0L182.0,143.9L181.0,143.8L180.0,143.7L179.0,143.7L178.0,143.6L177.0,143.6L176.0,143.6L175.0,143.6L174.0,143.6L173.0,143.6L172.0,143.6L171.0,143.5L170.0,143.5L169.0,143.4L168.0,143.2L167.3,143.0L167.0,142.9L166.0,142.6L165.0,142.1L164.8,142.0L164.0,141.5L163.3,141.0L163.0,140.8L162.1,140.0L162.0,139.9L161.1,139.0L161.0,138.9L160.2,138.0L160.0,137.8L159.3,137.0L159.0,136.6L158.4,136.0L158.0,135.5L157.5,135.0L157.0,134.6L156.3,134.0L156.0,133.8L155.0,133.1L154.9,133.0L154.0,132.5L153.0,132.0L152.9,132.0L152.0,131.7L151.0,131.4L150.0,131.2L149.0,131.1L148.1,131.0L148.0,131.0L147.0,130.9L146.0,130.9L145.0,130.9L144.0,130.9L143.0,130.9L142.0,130.8L141.0,130.8L140.0,130.6L139.0,130.4L138.0,130.1L137.7,130.0L137.0,129.7L136.2,129.0L136.0,128.8L135.5,128.0L135.1,127.0L135.0,126.8L134.8,126.0L134.6,125.0L134.5,124.0L134.3,123.0L134.2,122.0L134.2,121.0L134.1,120.0L134.0,119.0L134.0,118.7L134.0,118.0L133.9,117.0L133.9,116.0L133.9,115.0L133.9,114.0L133.9,113.0L134.0,112.0L134.0,112.0L134.1,111.0L134.2,110.0L134.4,109.0L134.6,108.0L134.9,107.0L135.0,106.8L135.3,106.0L135.7,105.0L136.0,104.5L136.3,104.0L136.9,103.0L137.0,102.8L137.6,102.0L138.0,101.4L138.3,101.0L139.0,100.2L139.2,100.0L140.0,99.0L140.0,99.0L141.0,98.0L141.0,98.0L141.9,97.0L142.0,96.9L142.8,96.0L143.0,95.8L143.8,95.0L144.0,94.8L144.8,94.0L145.0,93.8L145.9,93.0L146.0,92.9L147.0,92.1L147.2,92.0L148.0,91.5L149.0,91.0L149.0,91.0L150.0,90.7L151.0,90.5L152.0,90.4L153.0,90.4L154.0,90.6L155.0,90.9L155.4,91.0L156.0,91.2L157.0,91.7L157.6,92.0L158.0,92.2L159.0,92.8L159.3,93.0L160.0,93.4L161.0,94.0L161.0,94.0L162.0,94.5L163.0,95.0L163.0,95.0L164.0,95.4L165.0,95.7L166.0,95.9L167.0,95.9L168.0,95.8L169.0,95.5L170.0,95.1L170.3,95.0L171.0,94.6L172.0,94.0L172.1,94.0L173.0,93.3L173.4,93.0L174.0,92.4L174.4,92.0L175.0,91.4L175.3,91.0L176.0,90.2L176.1,90.0L176.8,89.0L177.0,88.7L177.4,88.0L178.0,87.0L178.0,86.9L178.5,86.0L178.9,85.0L179.0,84.8L179.4,84.0L179.8,83.0L180.0,82.7L180.4,82.0L181.0,81.0L181.0,81.0L182.0,80.1L182.2,80.0L183.0,79.5L183.8,79.0L184.0,78.9L185.0,78.3L185.5,78.0L186.0,77.6L186.9,77.0L187.0,76.9L187.9,76.0L188.0,75.9L188.6,75.0L189.0,74.4L189.2,74.0L189.7,73.0L190.0,72.1L190.0,72.0L190.3,71.0L190.5,70.0L190.7,69.0L190.7,68.0L190.7,67.0L190.5,66.0L190.2,65.0ZM143.1,106.0L143.0,106.0L142.0,106.3L141.0,106.8L140.7,107.0L140.0,107.6L139.6,108.0L139.0,109.0L139.0,109.0L138.9,110.0L139.0,110.5L139.1,111.0L139.5,112.0L140.0,112.9L140.1,113.0L141.0,114.0L141.0,114.0L142.0,114.7L142.7,115.0L143.0,115.1L144.0,115.4L145.0,115.4L146.0,115.2L146.8,115.0L147.0,114.9L148.0,114.2L148.2,114.0L148.8,113.0L148.9,112.0L148.8,111.0L148.6,110.0L148.2,109.0L148.0,108.5L147.7,108.0L147.0,107.0L147.0,107.0L146.0,106.3L145.0,106.0L145.0,106.0L144.0,105.9ZM223.6,144.0L223.0,144.2L222.0,144.7L221.6,145.0L221.0,145.5L220.6,146.0L220.0,146.7L219.9,147.0L219.4,148.0L219.1,149.0L219.0,149.5L218.9,150.0L218.9,151.0L219.0,152.0L218.8,153.0L218.0,153.4L217.3,154.0L217.0,154.1L216.0,154.7L215.6,155.0L215.0,155.4L214.0,156.0L214.0,156.0L213.0,156.6L212.2,157.0L212.0,157.1L211.0,157.6L210.1,158.0L210.0,158.0L209.0,158.4L208.0,158.7L207.0,158.8L206.0,158.9L205.6,159.0L205.0,159.1L204.0,159.3L203.0,159.5L202.0,159.9L201.8,160.0L201.0,160.5L200.3,161.0L200.0,161.3L199.3,162.0L199.0,162.4L198.6,163.0L198.0,164.0L198.0,164.0L197.4,165.0L197.0,165.8L196.9,166.0L196.2,167.0L196.0,167.3L195.4,168.0L195.0,168.5L194.5,169.0L194.0,169.4L193.2,170.0L193.0,170.2L192.0,170.9L191.9,171.0L191.0,171.9L190.9,172.0L190.3,173.0L190.0,173.7L189.8,174.0L189.6,175.0L190.0,175.9L190.5,176.0L191.0,176.0L191.1,176.0L192.0,175.9L193.0,175.7L194.0,175.4L195.0,175.3L196.0,175.2L197.0,175.1L198.0,175.1L199.0,175.0L200.0,175.0L200.2,175.0L201.0,175.0L202.0,174.9L203.0,174.7L204.0,174.6L205.0,174.4L206.0,174.2L206.6,174.0L207.0,173.9L208.0,173.6L209.0,173.3L210.0,173.0L210.0,173.0L211.0,172.6L212.0,172.2L212.4,172.0L213.0,171.7L214.0,171.1L214.1,171.0L215.0,170.3L215.3,170.0L216.0,169.3L216.2,169.0L216.9,168.0L217.0,167.8L217.4,167.0L217.8,166.0L218.0,165.6L218.2,165.0L218.6,164.0L218.9,163.0L219.0,162.8L219.3,162.0L219.6,161.0L219.9,160.0L220.0,159.6L220.1,159.0L220.2,158.0L220.1,157.0L220.0,156.0L220.0,155.8L219.8,155.0L219.6,154.0L219.4,153.0L220.0,152.6L220.4,152.0L221.0,151.7L221.7,151.0L222.0,150.8L222.8,150.0L223.0,149.8L223.7,149.0L224.0,148.6L224.5,148.0L225.0,147.3L225.2,147.0L225.8,146.0L226.0,145.0L225.2,144.0L225.0,143.9L224.0,143.9ZM167.5,177.0L167.0,177.2L166.5,178.0L167.0,179.0L168.0,178.5L168.9,178.0L168.9,177.0L168.0,176.9ZM179.7,178.0L180.0,178.2L181.0,179.0L181.1,179.0L182.0,179.0L182.5,179.0L183.0,178.4L183.2,178.0L183.0,177.9L182.0,177.7L181.0,177.5L180.0,177.7Z" fill="#00d28c" fill-rule="evenodd"/>
<path d="M68.0,65.0L69.0,65.0L70.0,65.0L71.0,65.0L72.0,65.0L73.0,65.0L74.0,65.0L75.0,65.0L76.0,65.0L77.0,65.0L78.0,65.0L79.0,65.0L80.0,65.0L81.0,65.0L82.0,65.0L83.0,65.0L84.0,65.0L85.0,65.0L86.0,65.0L87.0,65.0L88.0,65.0L89.0,65.0L90.0,65.0L91.0,65.0L92.0,65.0L93.0,65.0L93.0,65.0L94.0,65.9L94.2,66.0L95.0,66.4L96.0,66.8L97.0,67.0L98.0,66.8L99.0,66.4L99.8,66.0L100.0,65.9L101.0,65.3L101.4,65.0L102.0,65.0L103.0,65.0L104.0,65.0L105.0,65.0L106.0,65.0L107.0,65.0L108.0,65.0L109.0,65.0L110.0,65.0L111.0,65.0L112.0,65.0L113.0,65.0L114.0,65.0L115.0,65.0L116.0,65.0L117.0,65.0L118.0,65.0L119.0,65.0L120.0,65.0L121.0,65.0L122.0,65.0L123.0,65.0L124.0,65.0L125.0,65.0L126.0,65.0L127.0,65.0L128.0,65.0L129.0,65.0L130.0,65.0L131.0,65.0L132.0,65.0L133.0,65.0L134.0,65.0L135.0,65.0L136.0,65.0L137.0,65.0L138.0,65.0L139.0,65.0L140.0,65.0L141.0,65.0L142.0,65.0L143.0,65.0L144.0,65.0L145.0,65.0L146.0,65.0L147.0,65.0L148.0,65.0L149.0,65.0L150.0,65.0L151.0,65.0L152.0,65.0L153.0,65.0L154.0,65.0L155.0,65.0L156.0,65.0L157.0,65.0L158.0,65.0L159.0,65.0L160.0,65.0L161.0,65.0L162.0,65.0L163.0,65.0L164.0,65.0L165.0,65.0L166.0,65.0L167.0,65.0L168.0,65.0L169.0,65.0L170.0,65.0L171.0,65.0L172.0,65.0L173.0,65.0L174.0,65.0L175.0,65.0L176.0,65.0L177.0,65.0L178.0,65.0L179.0,65.0L180.0,65.0L181.0,65.0L182.0,65.0L183.0,65.0L184.0,65.0L185.0,65.0L186.0,65.0L187.0,65.0L188.0,65.0L189.0,65.0L190.0,65.0L190.2,65.0L190.5,66.0L190.7,67.0L190.7,68.0L190.7,69.0L190.5,70.0L190.3,71.0L190.0,72.0L190.0,72.1L189.7,73.0L189.2,74.0L189.0,74.4L188.6,75.0L188.0,75.9L187.9,76.0L187.0,76.9L186.9,77.0L186.0,77.6L185.5,78.0L185.0,78.3L184.0,78.9L183.8,79.0L183.0,79.5L182.2,80.0L182.0,80.1L181.0,81.0L181.0,81.0L180.4,82.0L180.0,82.7L179.8,83.0L179.4,84.0L179.0,84.8L178.9,85.0L178.5,86.0L178.0,86.9L178.0,87.0L177.4,88.0L177.0,88.7L176.8,89.0L176.1,90.0L176.0,90.2L175.3,91.0L175.0,91.4L174.4,92.0L174.0,92.4L173.4,93.0L173.0,93.3L172.1,94.0L172.0,94.0L171.0,94.6L170.3,95.0L170.0,95.1L169.0,95.5L168.0,95.8L167.0,95.9L166.0,95.9L165.0,95.7L164.0,95.4L163.0,95.0L163.0,95.0L162.0,94.5L161.0,94.0L161.0,94.0L160.0,93.4L159.3,93.0L159.0,92.8L158.0,92.2L157.6,92.0L157.0,91.7L156.0,91.2L155.4,91.0L155.0,90.9L154.0,90.6L153.0,90.4L152.0,90.4L151.0,90.5L150.0,90.7L149.0,91.0L149.0,91.0L148.0,91.5L147.2,92.0L147.0,92.1L146.0,92.9L145.9,93.0L145.0,93.8L144.8,94.0L144.0,94.8L143.8,95.0L143.0,95.8L142.8,96.0L142.0,96.9L141.9,97.0L141.0,98.0L141.0,98.0L140.0,99.0L140.0,99.0L139.2,100.0L139.0,100.2L138.3,101.0L138.0,101.4L137.6,102.0L137.0,102.8L136.9,103.0L136.3,104.0L136.0,104.5L135.7,105.0L135.3,106.0L135.0,106.8L134.9,107.0L134.6,108.0L134.4,109.0L134.2,110.0L134.1,111.0L134.0,112.0L134.0,112.0L133.9,113.0L133.9,114.0L133.9,115.0L133.9,116.0L133.9,117.0L134.0,118.0L134.0,118.7L134.0,119.0L134.1,120.0L134.2,121.0L134.2,122.0L134.3,123.0L134.5,124.0L134.6,125.0L134.8,126.0L135.0,126.8L135.1,127.0L135.5,128.0L136.0,128.8L136.2,129.0L137.0,129.7L137.7,130.0L138.0,130.1L139.0,130.4L140.0,130.6L141.0,130.8L142.0,130.8L143.0,130.9L144.0,130.9L145.0,130.9L146.0,130.9L147.0,130.9L148.0,131.0L148.1,131.0L149.0,131.1L150.0,131.2L151.0,131.4L152.0,131.7L152.9,132.0L153.0,132.0L154.0,132.5L154.9,133.0L155.0,133.1L156.0,133.8L156.3,134.0L157.0,134.6L157.5,135.0L158.0,135.5L158.4,136.0L159.0,136.6L159.3,137.0L160.0,137.8L160.2,138.0L161.0,138.9L161.1,139.0L162.0,139.9L162.1,140.0L163.0,140.8L163.3,141.0L164.0,141.5L164.8,142.0L165.0,142.1L166.0,142.6L167.0,142.9L167.3,143.0L168.0,143.2L169.0,143.4L170.0,143.5L171.0,143.5L172.0,143.6L173.0,143.6L174.0,143.6L175.0,143.6L176.0,143.6L177.0,143.6L178.0,143.6L179.0,143.7L180.0,143.7L181.0,143.8L182.0,143.9L183.0,144.0L183.0,144.0L184.0,144.1L185.0,144.1L186.0,144.1L187.0,144.1L187.5,144.0L188.0,143.9L189.0,143.8L190.0,143.6L191.0,143.4L192.0,143.1L192.3,143.0L193.0,142.8L194.0,142.5L195.0,142.1L195.2,142.0L196.0,141.6L197.0,141.1L197.3,141.0L198.0,140.6L198.9,140.0L199.0,140.0L200.0,139.3L200.4,139.0L201.0,138.6L201.8,138.0L202.0,137.9L203.0,137.2L203.2,137.0L204.0,136.5L204.7,136.0L205.0,135.8L206.0,135.2L206.3,135.0L207.0,134.6L208.0,134.1L208.1,134.0L209.0,133.6L210.0,133.2L210.7,133.0L211.0,132.9L212.0,132.7L213.0,132.9L213.2,133.0L213.7,134.0L213.8,135.0L213.8,136.0L213.7,137.0L213.7,138.0L213.6,139.0L213.6,140.0L213.5,141.0L213.5,142.0L213.4,143.0L213.4,144.0L213.3,145.0L213.3,146.0L213.2,147.0L213.1,148.0L213.0,148.4L212.9,149.0L212.6,150.0L212.2,151.0L212.0,151.2L211.5,152.0L211.0,152.5L210.4,153.0L210.0,153.3L209.0,153.8L208.5,154.0L208.0,154.2L207.0,154.4L206.0,154.5L205.0,154.6L204.0,154.7L203.0,154.8L202.0,154.9L201.6,155.0L201.0,155.1L200.0,155.4L199.0,155.8L198.7,156.0L198.0,156.4L197.1,157.0L197.0,157.1L196.0,158.0L196.0,158.0L195.2,159.0L195.0,159.2L194.5,160.0L194.0,160.9L193.9,161.0L193.4,162.0L193.0,162.6L192.8,163.0L192.0,164.0L192.0,164.0L191.0,165.0L191.0,165.0L190.0,165.9L189.9,166.0L189.0,166.8L188.8,167.0L188.0,167.7L187.6,168.0L187.0,168.5L186.3,169.0L186.0,169.2L185.0,169.8L184.6,170.0L184.0,170.3L183.0,170.6L182.0,170.8L181.0,170.9L180.0,170.9L179.0,170.9L178.0,170.8L177.0,170.6L176.0,170.5L175.0,170.3L174.0,170.2L173.0,170.1L172.0,170.0L171.3,170.0L171.0,170.0L170.0,170.0L170.0,170.0L169.0,170.0L168.0,170.1L167.0,170.3L166.0,170.4L165.0,170.7L164.2,171.0L164.0,171.1L163.0,171.6L162.5,172.0L162.0,172.5L161.6,173.0L161.0,173.9L160.9,174.0L160.5,175.0L160.3,176.0L160.2,177.0L160.2,178.0L160.3,179.0L160.5,180.0L160.8,181.0L161.0,181.4L161.4,182.0L162.0,182.8L162.3,183.0L163.0,183.4L164.0,183.6L165.0,183.6L166.0,183.4L167.0,183.1L167.2,183.0L168.0,182.7L169.0,182.4L170.0,182.2L171.0,182.1L172.0,182.2L173.0,182.3L174.0,182.6L175.0,183.0L175.1,183.0L176.0,183.4L177.0,183.9L177.3,184.0L178.0,184.4L179.0,184.9L179.2,185.0L180.0,185.4L181.0,185.9L181.2,186.0L182.0,186.4L183.0,187.0L183.1,187.0L184.0,187.4L185.0,187.8L185.6,188.0L186.0,188.1L187.0,188.2L188.0,188.2L189.0,188.1L189.2,188.0L190.0,187.8L191.0,187.3L191.4,187.0L192.0,186.6L192.7,186.0L193.0,185.7L193.7,185.0L194.0,184.6L194.6,184.0L195.0,183.6L195.6,183.0L196.0,182.6L196.8,182.0L197.0,181.9L198.0,181.3L198.5,181.0L199.0,180.8L200.0,180.4L201.0,180.0L201.1,180.0L202.0,179.7L203.0,179.3L203.9,179.0L204.0,179.0L205.0,178.6L206.0,178.2L206.5,178.0L207.0,177.8L208.0,177.4L209.0,177.1L209.1,177.0L210.0,176.7L211.0,176.2L211.5,176.0L212.0,175.8L213.0,175.3L213.5,175.0L214.0,174.7L215.0,174.1L215.1,174.0L216.0,173.3L216.3,173.0L217.0,172.4L217.4,172.0L218.0,171.3L218.3,171.0L219.0,170.0L219.0,170.0L219.6,169.0L220.0,168.2L220.1,168.0L220.5,167.0L220.9,166.0L221.0,165.7L221.3,165.0L221.8,164.0L222.0,163.5L222.3,163.0L223.0,162.0L223.0,162.0L223.7,161.0L224.0,160.6L224.5,160.0L225.0,159.3L225.2,159.0L226.0,158.0L226.0,158.0L226.9,157.0L227.0,156.9L228.0,156.0L228.0,156.0L229.0,155.2L229.3,155.0L230.0,154.5L230.8,154.0L231.0,153.9L232.0,153.2L232.4,153.0L233.0,152.6L233.9,152.0L234.0,151.9L235.0,151.1L235.2,151.0L236.0,150.2L236.2,150.0L237.0,149.0L237.0,149.0L237.7,148.0L238.0,147.5L238.3,147.0L238.8,146.0L239.0,145.7L239.4,145.0L239.8,144.0L240.0,143.7L240.3,143.0L240.8,142.0L241.0,141.6L241.3,141.0L241.8,140.0L242.0,139.7L242.4,139.0L243.0,138.0L243.0,138.0L243.7,137.0L244.0,136.7L244.6,136.0L245.0,135.7L245.8,135.0L246.0,134.9L247.0,134.3L247.7,134.0L248.0,133.9L249.0,133.6L250.0,133.4L251.0,133.4L252.0,133.4L253.0,133.6L254.0,133.8L254.5,134.0L255.0,134.2L256.0,134.7L256.5,135.0L257.0,135.3L258.0,136.0L258.0,136.0L259.0,136.9L259.1,137.0L260.0,137.9L260.1,138.0L261.0,138.9L261.1,139.0L262.0,139.9L262.1,140.0L263.0,140.9L263.1,141.0L264.0,141.8L264.2,142.0L265.0,142.7L265.3,143.0L266.0,143.6L266.5,144.0L267.0,144.5L267.6,145.0L268.0,145.4L268.7,146.0L269.0,146.3L269.7,147.0L270.0,147.2L270.8,148.0L271.0,148.2L271.8,149.0L272.0,149.2L272.8,150.0L273.0,150.2L273.9,151.0L274.0,151.1L275.0,151.9L275.2,152.0L276.0,152.5L276.9,153.0L277.0,153.0L278.0,153.4L279.0,153.5L280.0,153.4L281.0,153.2L281.5,153.0L282.0,152.8L283.0,152.2L283.4,152.0L284.0,151.5L284.7,151.0L285.0,150.7L285.9,150.0L286.0,149.9L287.0,149.0L287.0,149.0L288.0,148.2L288.3,148.0L289.0,147.5L289.7,147.0L290.0,146.8L291.0,146.3L291.5,146.0L292.0,145.8L293.0,145.3L293.9,145.0L294.0,144.9L295.0,144.6L296.0,144.3L296.8,144.0L297.0,143.9L298.0,143.7L299.0,143.4L300.0,143.1L300.0,144.0L300.0,145.0L300.0,146.0L300.0,147.0L300.0,148.0L300.0,149.0L300.0,150.0L300.0,151.0L300.0,152.0L300.0,153.0L300.0,154.0L300.0,155.0L300.0,156.0L300.0,156.0L299.0,156.2L298.0,156.5L297.0,156.8L296.5,157.0L296.0,157.2L295.0,157.7L294.5,158.0L294.0,158.3L293.0,158.9L292.9,159.0L292.0,159.7L291.6,160.0L291.0,160.5L290.4,161.0L290.0,161.3L289.2,162.0L289.0,162.2L288.1,163.0L288.0,163.1L287.0,164.0L287.0,164.0L286.0,164.8L285.6,165.0L285.0,165.4L284.0,166.0L283.9,166.0L283.0,166.4L282.0,166.7L281.0,166.8L280.0,166.7L279.0,166.6L278.0,166.2L277.6,166.0L277.0,165.7L276.0,165.1L275.8,165.0L275.0,164.5L274.4,164.0L274.0,163.7L273.2,163.0L273.0,162.8L272.0,162.0L272.0,162.0L271.0,161.0L271.0,161.0L270.0,160.1L269.9,160.0L269.0,159.1L268.9,159.0L268.0,158.1L267.9,158.0L267.0,157.0L267.0,157.0L266.0,156.0L266.0,156.0L265.0,155.0L265.0,155.0L264.1,154.0L264.0,153.9L263.1,153.0L263.0,152.9L262.1,152.0L262.0,151.9L261.0,151.0L261.0,151.0L260.0,150.1L259.9,150.0L259.0,149.2L258.8,149.0L258.0,148.4L257.5,148.0L257.0,147.6L256.2,147.0L256.0,146.8L255.0,146.2L254.6,146.0L254.0,145.7L253.0,145.4L252.0,145.3L251.0,145.6L250.3,146.0L250.0,146.2L249.0,147.0L249.0,147.0L248.1,148.0L248.0,148.1L247.3,149.0L247.0,149.3L246.5,150.0L246.0,150.7L245.8,151.0L245.0,152.0L245.0,152.0L244.2,153.0L244.0,153.3L243.4,154.0L243.0,154.4L242.5,155.0L242.0,155.5L241.5,156.0L241.0,156.5L240.4,157.0L240.0,157.3L239.2,158.0L239.0,158.1L238.0,158.8L237.8,159.0L237.0,159.5L236.1,160.0L236.0,160.1L235.0,160.6L234.2,161.0L234.0,161.1L233.0,161.5L232.0,162.0L231.9,162.0L231.0,162.4L230.0,162.9L229.8,163.0L229.0,163.4L228.0,163.9L227.9,164.0L227.0,164.6L226.4,165.0L226.0,165.4L225.4,166.0L225.0,166.5L224.7,167.0L224.1,168.0L224.0,168.2L223.6,169.0L223.1,170.0L223.0,170.1L222.4,171.0L222.0,171.6L221.7,172.0L221.0,172.8L220.8,173.0L220.0,173.8L219.8,174.0L219.0,174.8L218.8,175.0L218.0,175.7L217.6,176.0L217.0,176.5L216.4,177.0L216.0,177.3L215.0,178.0L215.0,178.0L214.0,178.6L213.4,179.0L213.0,179.2L212.0,179.8L211.6,180.0L211.0,180.3L210.0,180.8L209.6,181.0L209.0,181.3L208.0,181.8L207.7,182.0L207.0,182.4L206.0,182.9L205.8,183.0L205.0,183.4L204.0,184.0L204.0,184.0L203.0,184.6L202.2,185.0L202.0,185.1L201.0,185.8L200.7,186.0L200.0,186.4L199.2,187.0L199.0,187.1L198.0,187.9L197.8,188.0L197.0,188.6L196.5,189.0L196.0,189.3L195.1,190.0L195.0,190.0L194.0,190.7L193.6,191.0L193.0,191.4L192.1,192.0L192.0,192.0L191.0,192.6L190.3,193.0L190.0,193.2L189.0,193.6L188.1,194.0L188.0,194.0L187.0,194.4L186.0,194.6L185.0,194.8L184.0,194.9L183.0,195.0L182.0,194.9L181.0,194.8L180.0,194.4L179.2,194.0L179.0,193.9L178.0,193.2L177.7,193.0L177.0,192.5L176.0,192.0L176.0,192.0L175.0,191.7L174.0,191.7L173.7,192.0L173.0,192.6L172.8,193.0L172.0,193.8L171.8,194.0L171.0,194.7L170.6,195.0L170.0,195.4L169.0,195.9L168.8,196.0L168.0,196.3L167.0,196.5L166.0,196.7L165.0,196.7L164.0,196.7L163.0,196.6L162.0,196.5L161.0,196.3L160.0,196.1L159.8,196.0L159.0,195.7L158.0,195.2L157.6,195.0L157.0,194.6L156.3,194.0L156.0,193.6L155.5,193.0L155.0,192.0L155.0,191.9L154.7,191.0L154.6,190.0L154.5,189.0L154.5,188.0L154.5,187.0L154.5,186.0L154.6,185.0L154.7,184.0L154.7,183.0L154.8,182.0L154.9,181.0L154.9,180.0L154.8,179.0L154.6,178.0L154.4,177.0L154.0,176.0L154.0,175.9L153.6,175.0L153.0,174.0L153.0,174.0L152.3,173.0L152.0,172.7L151.1,172.0L151.0,171.9L150.0,171.5L149.0,171.3L148.0,171.3L147.0,171.3L146.0,171.4L145.0,171.5L144.0,171.5L143.0,171.6L142.0,171.5L141.0,171.3L140.1,171.0L140.0,171.0L139.0,170.4L138.6,170.0L138.0,169.5L137.6,169.0L137.0,168.0L137.0,168.0L136.6,167.0L136.3,166.0L136.2,165.0L136.1,164.0L136.1,163.0L136.1,162.0L136.2,161.0L136.3,160.0L136.3,159.0L136.4,158.0L136.4,157.0L136.3,156.0L136.2,155.0L136.0,154.2L136.0,154.0L135.7,153.0L135.4,152.0L135.0,151.1L135.0,151.0L134.4,150.0L134.0,149.4L133.7,149.0L133.0,148.2L132.8,148.0L132.0,147.3L131.6,147.0L131.0,146.7L130.0,146.1L129.6,146.0L129.0,145.8L128.0,145.5L127.0,145.3L126.0,145.2L125.0,145.1L124.0,145.1L123.0,145.2L122.0,145.4L121.0,145.6L120.1,146.0L120.0,146.0L119.0,146.5L118.3,147.0L118.0,147.2L117.2,148.0L117.0,148.2L116.2,149.0L116.0,149.3L115.4,150.0L115.0,150.6L114.7,151.0L114.0,151.8L113.8,152.0L113.0,152.8L112.7,153.0L112.0,153.5L111.0,153.9L110.2,154.0L110.0,154.0L109.6,154.0L109.0,153.9L108.0,153.5L107.3,153.0L107.0,152.7L106.5,152.0L106.0,151.3L105.9,151.0L105.4,150.0L105.1,149.0L105.0,148.7L104.8,148.0L104.6,147.0L104.5,146.0L104.4,145.0L104.3,144.0L104.4,143.0L104.5,142.0L104.8,141.0L105.0,140.5L105.2,140.0L105.8,139.0L106.0,138.7L106.5,138.0L107.0,137.4L107.3,137.0L108.0,136.2L108.1,136.0L108.9,135.0L109.0,134.9L109.6,134.0L110.0,133.4L110.3,133.0L111.0,132.0L111.0,132.0L111.7,131.0L112.0,130.6L112.4,130.0L113.0,129.3L113.3,129.0L114.0,128.3L114.3,128.0L115.0,127.4L115.5,127.0L116.0,126.6L116.9,126.0L117.0,126.0L118.0,125.4L118.6,125.0L119.0,124.8L120.0,124.2L120.4,124.0L121.0,123.7L122.0,123.1L122.1,123.0L123.0,122.4L123.5,122.0L124.0,121.6L124.7,121.0L125.0,120.7L125.7,120.0L126.0,119.7L126.5,119.0L127.0,118.4L127.3,118.0L127.9,117.0L128.0,116.8L128.4,116.0L128.8,115.0L129.0,114.6L129.2,114.0L129.6,113.0L129.9,112.0L130.0,111.7L130.2,111.0L130.4,110.0L130.7,109.0L130.9,108.0L131.0,107.7L131.2,107.0L131.4,106.0L131.7,105.0L132.0,104.0L132.0,104.0L132.3,103.0L132.7,102.0L133.0,101.1L133.0,101.0L133.4,100.0L133.8,99.0L134.0,98.5L134.2,98.0L134.6,97.0L135.0,96.0L135.0,96.0L135.3,95.0L135.6,94.0L135.9,93.0L136.0,92.5L136.1,92.0L136.3,91.0L136.3,90.0L136.4,89.0L136.3,88.0L136.2,87.0L136.0,86.0L136.0,85.9L135.8,85.0L135.4,84.0L135.0,83.0L135.0,82.9L134.6,82.0L134.0,81.0L134.0,80.9L133.4,80.0L133.0,79.5L132.6,79.0L132.0,78.3L131.7,78.0L131.0,77.4L130.4,77.0L130.0,76.7L129.0,76.1L128.8,76.0L128.0,75.6L127.0,75.2L126.4,75.0L126.0,74.9L125.0,74.6L124.0,74.3L123.0,74.1L122.5,74.0L122.0,73.9L121.0,73.8L120.0,73.7L119.0,73.6L118.0,73.5L117.0,73.5L116.0,73.6L115.0,73.7L114.0,73.8L113.0,74.0L112.9,74.0L112.0,74.2L111.0,74.4L110.0,74.7L109.0,75.0L109.0,75.0L108.0,75.3L107.0,75.6L106.0,75.8L105.3,76.0L105.0,76.1L104.0,76.3L103.0,76.5L102.0,76.7L101.0,76.9L100.3,77.0L100.0,77.0L99.0,77.2L98.0,77.4L97.0,77.6L96.0,77.8L95.4,78.0L95.0,78.1L94.0,78.5L93.0,78.9L92.8,79.0L92.0,79.4L91.0,79.9L90.9,80.0L90.0,80.5L89.1,81.0L89.0,81.1L88.0,81.6L87.3,82.0L87.0,82.2L86.0,82.6L85.1,83.0L85.0,83.0L84.0,83.3L83.0,83.6L82.0,83.7L81.0,83.9L80.0,84.0L79.7,84.0L79.0,84.1L78.0,84.2L77.0,84.3L76.0,84.4L75.0,84.6L74.0,84.7L73.0,85.0L72.8,85.0L72.0,85.2L71.0,85.4L70.0,85.7L69.0,85.9L68.5,86.0L68.0,86.1L67.0,86.3L67.0,86.0L67.0,85.0L67.0,84.0L67.0,83.0L67.0,82.0L67.0,81.0L67.0,80.0L67.0,79.0L67.0,78.0L67.0,77.0L67.0,76.0L67.0,75.0L67.0,74.0L67.0,73.0L67.0,72.0L67.0,71.0L67.0,70.0L67.0,69.0L67.0,68.0L67.0,67.0L67.0,66.0L67.0,65.0ZM173.4,156.0L173.0,156.1L172.0,156.5L171.0,156.9L170.8,157.0L170.0,157.5L169.2,158.0L169.0,158.2L168.1,159.0L168.0,159.2L167.6,160.0L167.5,161.0L168.0,162.0L168.0,162.0L169.0,162.7L169.5,163.0L170.0,163.2L171.0,163.6L171.9,164.0L172.0,164.0L173.0,164.4L174.0,164.9L174.3,165.0L175.0,165.3L176.0,165.7L176.7,166.0L177.0,166.1L178.0,166.4L179.0,166.7L180.0,166.8L181.0,166.7L182.0,166.4L182.7,166.0L183.0,165.8L183.8,165.0L184.0,164.6L184.3,164.0L184.6,163.0L184.7,162.0L184.5,161.0L184.0,160.1L183.9,160.0L183.0,159.0L183.0,159.0L182.0,158.2L181.8,158.0L181.0,157.5L180.2,157.0L180.0,156.9L179.0,156.4L178.0,156.0L177.8,156.0L177.0,155.8L176.0,155.7L175.0,155.7L174.0,155.9ZM110.0,175.7L111.0,175.7L112.0,175.8L112.4,176.0L113.0,176.2L114.0,176.8L114.2,177.0L115.0,177.6L115.4,178.0L116.0,178.7L116.2,179.0L116.9,180.0L117.0,180.3L117.3,181.0L117.7,182.0L117.9,183.0L117.9,184.0L117.9,185.0L117.7,186.0L117.4,187.0L117.0,188.0L117.0,188.0L116.5,189.0L116.0,189.7L115.8,190.0L115.0,191.0L115.0,191.0L114.0,191.8L113.7,192.0L113.0,192.4L112.0,192.8L111.0,193.0L110.0,192.8L109.0,192.3L108.6,192.0L108.0,191.5L107.5,191.0L107.0,190.4L106.8,190.0L106.2,189.0L106.0,188.4L105.9,188.0L105.7,187.0L105.5,186.0L105.5,185.0L105.5,184.0L105.5,183.0L105.7,182.0L105.9,181.0L106.0,180.5L106.1,180.0L106.5,179.0L107.0,178.1L107.0,178.0L107.8,177.0L108.0,176.8L109.0,176.1L109.2,176.0ZM67.5,214.0L68.0,214.6L68.3,215.0L69.0,215.9L69.1,216.0L69.7,217.0L70.0,217.4L70.3,218.0L70.8,219.0L71.0,219.4L71.2,220.0L71.5,221.0L71.8,222.0L71.9,223.0L72.0,223.4L72.1,224.0L72.2,225.0L72.2,226.0L72.3,227.0L72.3,228.0L72.3,229.0L72.2,230.0L72.1,231.0L72.0,231.8L72.0,232.0L71.8,233.0L71.4,234.0L71.0,235.0L71.0,235.0L70.4,236.0L70.0,236.4L69.3,237.0L69.0,237.2L68.0,237.8L67.4,238.0L67.0,238.1L67.0,238.0L67.0,237.0L67.0,236.0L67.0,235.0L67.0,234.0L67.0,233.0L67.0,232.0L67.0,231.0L67.0,230.0L67.0,229.0L67.0,228.0L67.0,227.0L67.0,226.0L67.0,225.0L67.0,224.0L67.0,223.0L67.0,222.0L67.0,221.0L67.0,220.0L67.0,219.0L67.0,218.0L67.0,217.0L67.0,216.0L67.0,215.0L67.0,214.0L67.0,213.4Z" fill="#a0e632" fill-rule="evenodd"/>
<path d="M113.0,74.0L114.0,73.8L115.0,73.7L116.0,73.6L117.0,73.5L118.0,73.5L119.0,73.6L120.0,73.7L121.0,73.8L122.0,73.9L122.5,74.0L123.0,74.1L124.0,74.3L125.0,74.6L126.0,74.9L126.4,75.0L127.0,75.2L128.0,75.6L128.8,76.0L129.0,76.1L130.0,76.7L130.4,77.0L131.0,77.4L131.7,78.0L132.0,78.3L132.6,79.0L133.0,79.5L133.4,80.0L134.0,80.9L134.0,81.0L134.6,82.0L135.0,82.9L135.0,83.0L135.4,84.0L135.8,85.0L136.0,85.9L136.0,86.0L136.2,87.0L136.3,88.0L136.4,89.0L136.3,90.0L136.3,91.0L136.1,92.0L136.0,92.5L135.9,93.0L135.6,94.0L135.3,95.0L135.0,96.0L135.0,96.0L134.6,97.0L134.2,98.0L134.0,98.5L133.8,99.0L133.4,100.0L133.0,101.0L133.0,101.1L132.7,102.0L132.3,103.0L132.0,104.0L132.0,104.0L131.7,105.0L131.4,106.0L131.2,107.0L131.0,107.7L130.9,108.0L130.7,109.0L130.4,110.0L130.2,111.0L130.0,111.7L129.9,112.0L129.6,113.0L129.2,114.0L129.0,114.6L128.8,115.0L128.4,116.0L128.0,116.8L127.9,117.0L127.3,118.0L127.0,118.4L126.5,119.0L126.0,119.7L125.7,120.0L125.0,120.7L124.7,121.0L124.0,121.6L123.5,122.0L123.0,122.4L122.1,123.0L122.0,123.1L121.0,123.7L120.4,124.0L120.0,124.2L119.0,124.8L118.6,125.0L118.0,125.4L117.0,126.0L116.9,126.0L116.0,126.6L115.5,127.0L115.0,127.4L114.3,128.0L114.0,128.3L113.3,129.0L113.0,129.3L112.4,130.0L112.0,130.6L111.7,131.0L111.0,132.0L111.0,132.0L110.3,133.0L110.0,133.4L109.6,134.0L109.0,134.9L108.9,135.0L108.1,136.0L108.0,136.2L107.3,137.0L107.0,137.4L106.5,138.0L106.0,138.7L105.8,139.0L105.2,140.0L105.0,140.5L104.8,141.0L104.5,142.0L104.4,143.0L104.3,144.0L104.4,145.0L104.5,146.0L104.6,147.0L104.8,148.0L105.0,148.7L105.1,149.0L105.4,150.0L105.9,151.0L106.0,151.3L106.5,152.0L107.0,152.7L107.3,153.0L108.0,153.5L109.0,153.9L109.6,154.0L110.0,154.0L110.2,154.0L111.0,153.9L112.0,153.5L112.7,153.0L113.0,152.8L113.8,152.0L114.0,151.8L114.7,151.0L115.0,150.6L115.4,150.0L116.0,149.3L116.2,149.0L117.0,148.2L117.2,148.0L118.0,147.2L118.3,147.0L119.0,146.5L120.0,146.0L120.1,146.0L121.0,145.6L122.0,145.4L123.0,145.2L124.0,145.1L125.0,145.1L126.0,145.2L127.0,145.3L128.0,145.5L129.0,145.8L129.6,146.0L130.0,146.1L131.0,146.7L131.6,147.0L132.0,147.3L132.8,148.0L133.0,148.2L133.7,149.0L134.0,149.4L134.4,150.0L135.0,151.0L135.0,151.1L135.4,152.0L135.7,153.0L136.0,154.0L136.0,154.2L136.2,155.0L136.3,156.0L136.4,157.0L136.4,158.0L136.3,159.0L136.3,160.0L136.2,161.0L136.1,162.0L136.1,163.0L136.1,164.0L136.2,165.0L136.3,166.0L136.6,167.0L137.0,168.0L137.0,168.0L137.6,169.0L138.0,169.5L138.6,170.0L139.0,170.4L140.0,171.0L140.1,171.0L141.0,171.3L142.0,171.5L143.0,171.6L144.0,171.5L145.0,171.5L146.0,171.4L147.0,171.3L148.0,171.3L149.0,171.3L150.0,171.5L151.0,171.9L151.1,172.0L152.0,172.7L152.3,173.0L153.0,174.0L153.0,174.0L153.6,175.0L154.0,175.9L154.0,176.0L154.4,177.0L154.6,178.0L154.8,179.0L154.9,180.0L154.9,181.0L154.8,182.0L154.7,183.0L154.7,184.0L154.6,185.0L154.5,186.0L154.5,187.0L154.5,188.0L154.5,189.0L154.6,190.0L154.7,191.0L155.0,191.9L155.0,192.0L155.5,193.0L156.0,193.6L156.3,194.0L157.0,194.6L157.6,195.0L158.0,195.2L159.0,195.7L159.8,196.0L160.0,196.1L161.0,196.3L162.0,196.5L163.0,196.6L164.0,196.7L165.0,196.7L166.0,196.7L167.0,196.5L168.0,196.3L168.8,196.0L169.0,195.9L170.0,195.4L170.6,195.0L171.0,194.7L171.8,194.0L172.0,193.8L172.8,193.0L173.0,192.6L173.7,192.0L174.0,191.7L175.0,191.7L176.0,192.0L176.0,192.0L177.0,192.5L177.7,193.0L178.0,193.2L179.0,193.9L179.2,194.0L180.0,194.4L181.0,194.8L182.0,194.9L183.0,195.0L184.0,194.9L185.0,194.8L186.0,194.6L187.0,194.4L188.0,194.0L188.1,194.0L189.0,193.6L190.0,193.2L190.3,193.0L191.0,192.6L192.0,192.0L192.1,192.0L193.0,191.4L193.6,191.0L194.0,190.7L195.0,190.0L195.1,190.0L196.0,189.3L196.5,189.0L197.0,188.6L197.8,188.0L198.0,187.9L199.0,187.1L199.2,187.0L200.0,186.4L200.7,186.0L201.0,185.8L202.0,185.1L202.2,185.0L203.0,184.6L204.0,184.0L204.0,184.0L205.0,183.4L205.8,183.0L206.0,182.9L207.0,182.4L207.7,182.0L208.0,181.8L209.0,181.3L209.6,181.0L210.0,180.8L211.0,180.3L211.6,180.0L212.0,179.8L213.0,179.2L213.4,179.0L214.0,178.6L215.0,178.0L215.0,178.0L216.0,177.3L216.4,177.0L217.0,176.5L217.6,176.0L218.0,175.7L218.8,175.0L219.0,174.8L219.8,174.0L220.0,173.8L220.8,173.0L221.0,172.8L221.7,172.0L222.0,171.6L222.4,171.0L223.0,170.1L223.1,170.0L223.6,169.0L224.0,168.2L224.1,168.0L224.7,167.0L225.0,166.5L225.4,166.0L226.0,165.4L226.4,165.0L227.0,164.6L227.9,164.0L228.0,163.9L229.0,163.4L229.8,163.0L230.0,162.9L231.0,162.4L231.9,162.0L232.0,162.0L233.0,161.5L234.0,161.1L234.2,161.0L235.0,160.6L236.0,160.1L236.1,160.0L237.0,159.5L237.8,159.0L238.0,158.8L239.0,158.1L239.2,158.0L240.0,157.3L240.4,157.0L241.0,156.5L241.5,156.0L242.0,155.5L242.5,155.0L243.0,154.4L243.4,154.0L244.0,153.3L244.2,153.0L245.0,152.0L245.0,152.0L245.8,151.0L246.0,150.7L246.5,150.0L247.0,149.3L247.3,149.0L248.0,148.1L248.1,148.0L249.0,147.0L249.0,147.0L250.0,146.2L250.3,146.0L251.0,145.6L252.0,145.3L253.0,145.4L254.0,145.7L254.6,146.0L255.0,146.2L256.0,146.8L256.2,147.0L257.0,147.6L257.5,148.0L258.0,148.4L258.8,149.0L259.0,149.2L259.9,150.0L260.0,150.1L261.0,151.0L261.0,151.0L262.0,151.9L262.1,152.0L263.0,152.9L263.1,153.0L264.0,153.9L264.1,154.0L265.0,155.0L265.0,155.0L266.0,156.0L266.0,156.0L267.0,157.0L267.0,157.0L267.9,158.0L268.0,158.1L268.9,159.0L269.0,159.1L269.9,160.0L270.0,160.1L271.0,161.0L271.0,161.0L272.0,162.0L272.0,162.0L273.0,162.8L273.2,163.0L274.0,163.7L274.4,164.0L275.0,164.5L275.8,165.0L276.0,165.1L277.0,165.7L277.6,166.0L278.0,166.2L279.0,166.6L280.0,166.7L281.0,166.8L282.0,166.7L283.0,166.4L283.9,166.0L284.0,166.0L285.0,165.4L285.6,165.0L286.0,164.8L287.0,164.0L287.0,164.0L288.0,163.1L288.1,163.0L289.0,162.2L289.2,162.0L290.0,161.3L290.4,161.0L291.0,160.5L291.6,160.0L292.0,159.7L292.9,159.0L293.0,158.9L294.0,158.3L294.5,158.0L295.0,157.7L296.0,157.2L296.5,157.0L297.0,156.8L298.0,156.5L299.0,156.2L300.0,156.0L300.0,157.0L300.0,158.0L300.0,159.0L300.0,160.0L300.0,161.0L300.0,162.0L300.0,163.0L300.0,164.0L300.0,165.0L300.0,166.0L300.0,167.0L300.0,168.0L300.0,169.0L300.0,170.0L300.0,171.0L300.0,172.0L300.0,173.0L300.0,174.0L300.0,175.0L300.0,176.0L300.0,177.0L300.0,178.0L300.0,179.0L300.0,180.0L300.0,181.0L300.0,182.0L300.0,183.0L300.0,184.0L300.0,185.0L300.0,186.0L300.0,187.0L300.0,188.0L300.0,189.0L300.0,190.0L300.0,191.0L300.0,192.0L300.0,193.0L300.0,194.0L300.0,195.0L300.0,196.0L300.0,197.0L300.0,198.0L300.0,198.2L299.0,198.7L298.3,199.0L298.0,199.1L297.0,199.6L296.0,200.0L295.9,200.0L295.0,200.3L294.0,200.7L293.1,201.0L293.0,201.0L292.0,201.3L291.0,201.6L290.0,201.8L289.0,201.9L288.1,202.0L288.0,202.0L287.0,202.0L286.0,202.0L285.7,202.0L285.0,201.9L284.0,201.8L283.0,201.6L282.0,201.4L281.0,201.1L280.7,201.0L280.0,200.8L279.0,200.4L278.3,200.0L278.0,199.9L277.0,199.3L276.6,199.0L276.0,198.6L275.3,198.0L275.0,197.7L274.3,197.0L274.0,196.6L273.5,196.0L273.0,195.2L272.9,195.0L272.3,194.0L272.0,193.3L271.9,193.0L271.5,192.0L271.2,191.0L271.0,190.3L270.9,190.0L270.7,189.0L270.5,188.0L270.3,187.0L270.1,186.0L270.0,185.0L270.0,185.0L269.8,184.0L269.7,183.0L269.5,182.0L269.3,181.0L269.0,180.0L269.0,179.8L268.8,179.0L268.4,178.0L268.0,177.0L268.0,177.0L267.5,176.0L267.0,175.0L267.0,175.0L266.4,174.0L266.0,173.3L265.8,173.0L265.2,172.0L265.0,171.7L264.5,171.0L264.0,170.3L263.8,170.0L263.0,169.0L263.0,169.0L262.1,168.0L262.0,167.9L261.1,167.0L261.0,166.9L260.0,166.0L260.0,166.0L259.0,165.2L258.7,165.0L258.0,164.5L257.1,164.0L257.0,164.0L256.0,163.5L255.0,163.2L254.1,163.0L254.0,163.0L253.0,162.9L252.0,163.0L251.9,163.0L251.0,163.2L250.0,163.5L249.0,163.9L248.9,164.0L248.0,164.5L247.1,165.0L247.0,165.1L246.0,165.7L245.5,166.0L245.0,166.3L244.0,167.0L244.0,167.0L243.0,167.6L242.4,168.0L242.0,168.2L241.0,168.8L240.7,169.0L240.0,169.4L239.0,170.0L239.0,170.0L238.0,170.7L237.5,171.0L237.0,171.4L236.2,172.0L236.0,172.2L235.1,173.0L235.0,173.2L234.3,174.0L234.0,174.5L233.7,175.0L233.2,176.0L233.0,176.5L232.7,177.0L232.0,178.0L231.9,178.0L231.0,178.0L230.9,178.0L230.0,177.6L229.0,177.0L229.0,177.0L228.0,176.5L227.0,176.2L226.0,176.1L225.0,176.2L224.0,176.5L223.0,176.9L222.8,177.0L222.0,177.5L221.3,178.0L221.0,178.3L220.2,179.0L220.0,179.2L219.2,180.0L219.0,180.2L218.2,181.0L218.0,181.2L217.2,182.0L217.0,182.1L216.0,183.0L216.0,183.0L215.0,183.8L214.7,184.0L214.0,184.5L213.3,185.0L213.0,185.2L212.0,185.8L211.7,186.0L211.0,186.4L210.0,187.0L210.0,187.0L209.0,187.6L208.3,188.0L208.0,188.2L207.0,188.8L206.7,189.0L206.0,189.5L205.2,190.0L205.0,190.1L204.0,190.9L203.8,191.0L203.0,191.6L202.4,192.0L202.0,192.3L201.1,193.0L201.0,193.0L200.0,193.8L199.7,194.0L199.0,194.5L198.3,195.0L198.0,195.2L197.0,196.0L197.0,196.0L196.0,196.8L195.7,197.0L195.0,197.6L194.5,198.0L194.0,198.4L193.2,199.0L193.0,199.1L192.0,199.8L191.6,200.0L191.0,200.3L190.0,200.8L189.3,201.0L189.0,201.1L188.0,201.4L187.0,201.6L186.0,201.7L185.0,201.8L184.0,201.8L183.0,201.8L182.0,201.7L181.0,201.6L180.0,201.5L179.0,201.4L178.0,201.2L177.0,201.1L176.4,201.0L176.0,201.0L175.0,200.9L174.0,200.8L173.0,200.8L172.0,200.8L171.0,200.8L170.0,200.9L169.0,200.9L168.3,201.0L168.0,201.0L167.0,201.2L166.0,201.3L165.0,201.5L164.0,201.7L163.0,201.9L162.6,202.0L162.0,202.2L161.0,202.5L160.0,202.8L159.4,203.0L159.0,203.2L158.0,203.6L157.0,204.0L156.9,204.0L156.0,204.4L155.0,204.7L154.1,205.0L154.0,205.0L153.0,205.2L152.0,205.2L151.2,205.0L151.0,204.9L150.0,204.5L149.3,204.0L149.0,203.8L148.1,203.0L148.0,202.9L147.3,202.0L147.0,201.6L146.6,201.0L146.1,200.0L146.0,199.7L145.7,199.0L145.4,198.0L145.1,197.0L145.0,196.4L144.9,196.0L144.7,195.0L144.4,194.0L144.2,193.0L144.0,192.3L143.9,192.0L143.5,191.0L143.0,190.0L143.0,189.9L142.3,189.0L142.0,188.6L141.2,188.0L141.0,187.9L140.0,187.4L139.0,187.1L138.2,187.0L138.0,187.0L137.0,187.0L136.7,187.0L136.0,187.1L135.0,187.3L134.0,187.7L133.5,188.0L133.0,188.3L132.0,189.0L132.0,189.0L131.0,189.9L130.9,190.0L130.0,191.0L130.0,191.0L129.1,192.0L129.0,192.2L128.3,193.0L128.0,193.4L127.6,194.0L127.0,194.7L126.8,195.0L126.0,195.9L126.0,196.0L125.1,197.0L125.0,197.1L124.1,198.0L124.0,198.1L123.0,198.9L122.9,199.0L122.0,199.7L121.5,200.0L121.0,200.3L120.0,200.8L119.5,201.0L119.0,201.2L118.0,201.6L117.0,201.8L116.1,202.0L116.0,202.0L115.0,202.2L114.0,202.3L113.0,202.4L112.0,202.4L111.0,202.4L110.0,202.4L109.0,202.4L108.0,202.3L107.0,202.2L106.0,202.0L105.9,202.0L105.0,201.8L104.0,201.5L103.0,201.2L102.7,201.0L102.0,200.7L101.0,200.2L100.7,200.0L100.0,199.6L99.2,199.0L99.0,198.9L98.0,198.1L97.9,198.0L97.0,197.2L96.8,197.0L96.0,196.1L95.9,196.0L95.1,195.0L95.0,194.9L94.4,194.0L94.0,193.4L93.8,193.0L93.3,192.0L93.0,191.4L92.8,191.0L92.5,190.0L92.1,189.0L92.0,188.5L91.9,188.0L91.6,187.0L91.5,186.0L91.3,185.0L91.2,184.0L91.2,183.0L91.1,182.0L91.1,181.0L91.1,180.0L91.0,179.0L91.0,178.8L90.9,178.0L90.6,177.0L90.3,176.0L90.0,175.0L90.0,174.9L89.7,174.0L89.5,173.0L89.2,172.0L89.1,171.0L89.0,170.5L88.9,170.0L88.9,169.0L88.9,168.0L89.0,167.4L89.1,167.0L89.3,166.0L89.7,165.0L90.0,164.2L90.1,164.0L90.5,163.0L90.9,162.0L91.0,161.6L91.2,161.0L91.4,160.0L91.6,159.0L91.8,158.0L91.9,157.0L91.9,156.0L91.7,155.0L91.5,154.0L91.1,153.0L91.0,152.8L90.5,152.0L90.0,151.4L89.7,151.0L89.0,150.3L88.7,150.0L88.0,149.4L87.4,149.0L87.0,148.7L86.0,148.1L85.8,148.0L85.0,147.6L84.0,147.2L83.5,147.0L83.0,146.8L82.0,146.5L81.0,146.2L80.4,146.0L80.0,145.9L79.0,145.5L78.0,145.1L77.7,145.0L77.0,144.6L76.0,144.1L75.9,144.0L75.0,143.3L74.6,143.0L74.0,142.3L73.7,142.0L73.1,141.0L73.0,140.8L72.7,140.0L72.6,139.0L72.6,138.0L73.0,137.0L73.0,136.9L73.6,136.0L74.0,135.5L74.5,135.0L75.0,134.6L75.7,134.0L76.0,133.8L77.0,133.3L77.6,133.0L78.0,132.8L79.0,132.5L80.0,132.2L80.7,132.0L81.0,131.9L82.0,131.7L83.0,131.6L84.0,131.5L85.0,131.4L86.0,131.3L87.0,131.2L88.0,131.2L89.0,131.0L89.3,131.0L90.0,130.9L91.0,130.7L92.0,130.5L93.0,130.3L94.0,130.0L94.1,130.0L95.0,129.7L96.0,129.4L96.8,129.0L97.0,128.9L98.0,128.4L98.8,128.0L99.0,127.9L100.0,127.2L100.2,127.0L101.0,126.4L101.4,126.0L102.0,125.4L102.4,125.0L103.0,124.3L103.2,124.0L104.0,123.1L104.1,123.0L104.9,122.0L105.0,121.8L105.7,121.0L106.0,120.7L106.7,120.0L107.0,119.7L107.8,119.0L108.0,118.8L109.0,118.1L109.3,118.0L110.0,117.6L111.0,117.2L111.7,117.0L112.0,116.9L113.0,116.7L114.0,116.5L115.0,116.3L116.0,116.1L116.7,116.0L117.0,116.0L118.0,115.7L119.0,115.5L120.0,115.2L120.4,115.0L121.0,114.8L122.0,114.3L122.4,114.0L123.0,113.6L123.8,113.0L124.0,112.9L124.8,112.0L125.0,111.8L125.6,111.0L126.0,110.4L126.2,110.0L126.6,109.0L126.9,108.0L127.0,107.6L127.1,107.0L127.3,106.0L127.5,105.0L127.7,104.0L127.8,103.0L128.0,102.1L128.0,102.0L128.2,101.0L128.4,100.0L128.6,99.0L128.7,98.0L128.8,97.0L128.9,96.0L128.9,95.0L128.9,94.0L128.7,93.0L128.5,92.0L128.1,91.0L128.0,90.7L127.6,90.0L127.0,89.1L126.9,89.0L126.0,88.0L126.0,88.0L125.0,87.1L124.8,87.0L124.0,86.5L123.0,86.1L122.8,86.0L122.0,85.7L121.0,85.5L120.0,85.3L119.0,85.3L118.0,85.3L117.0,85.4L116.0,85.5L115.0,85.7L114.0,86.0L114.0,86.0L113.0,86.3L112.0,86.7L111.2,87.0L111.0,87.1L110.0,87.5L109.1,88.0L109.0,88.1L108.0,88.7L107.5,89.0L107.0,89.4L106.3,90.0L106.0,90.2L105.2,91.0L105.0,91.3L104.4,92.0L104.0,92.5L103.6,93.0L103.0,93.8L102.9,94.0L102.1,95.0L102.0,95.2L101.3,96.0L101.0,96.4L100.3,97.0L100.0,97.3L99.0,97.9L98.8,98.0L98.0,98.3L97.0,98.5L96.0,98.6L95.0,98.5L94.0,98.2L93.4,98.0L93.0,97.8L92.0,97.3L91.4,97.0L91.0,96.8L90.0,96.1L89.8,96.0L89.0,95.5L88.1,95.0L88.0,95.0L87.0,94.5L86.0,94.1L85.6,94.0L85.0,93.9L84.0,93.7L83.0,93.7L82.0,93.9L81.9,94.0L81.0,94.3L80.0,94.9L79.8,95.0L79.0,95.5L78.3,96.0L78.0,96.2L77.0,97.0L76.9,97.0L76.0,97.7L75.6,98.0L75.0,98.4L74.0,99.0L74.0,99.0L73.0,99.6L72.2,100.0L72.0,100.1L71.0,100.5L70.0,100.9L69.8,101.0L69.0,101.3L68.0,101.6L67.0,101.9L67.0,101.0L67.0,100.0L67.0,99.0L67.0,98.0L67.0,97.0L67.0,96.0L67.0,95.0L67.0,94.0L67.0,93.0L67.0,92.0L67.0,91.0L67.0,90.0L67.0,89.0L67.0,88.0L67.0,87.0L67.0,86.3L68.0,86.1L68.5,86.0L69.0,85.9L70.0,85.7L71.0,85.4L72.0,85.2L72.8,85.0L73.0,85.0L74.0,84.7L75.0,84.6L76.0,84.4L77.0,84.3L78.0,84.2L79.0,84.1L79.7,84.0L80.0,84.0L81.0,83.9L82.0,83.7L83.0,83.6L84.0,83.3L85.0,83.0L85.1,83.0L86.0,82.6L87.0,82.2L87.3,82.0L88.0,81.6L89.0,81.1L89.1,81.0L90.0,80.5L90.9,80.0L91.0,79.9L92.0,79.4L92.8,79.0L93.0,78.9L94.0,78.5L95.0,78.1L95.4,78.0L96.0,77.8L97.0,77.6L98.0,77.4L99.0,77.2L100.0,77.0L100.3,77.0L101.0,76.9L102.0,76.7L103.0,76.5L104.0,76.3L105.0,76.1L105.3,76.0L106.0,75.8L107.0,75.6L108.0,75.3L109.0,75.0L109.0,75.0L110.0,74.7L111.0,74.4L112.0,74.2L112.9,74.0ZM122.2,157.0L122.0,157.1L121.1,158.0L121.0,158.1L120.3,159.0L120.0,159.4L119.6,160.0L119.1,161.0L119.0,161.3L118.8,162.0L118.6,163.0L118.5,164.0L118.7,165.0L119.0,166.0L119.0,166.1L119.5,167.0L120.0,167.7L120.3,168.0L121.0,168.7L121.5,169.0L122.0,169.3L123.0,169.8L124.0,170.0L124.0,170.0L125.0,170.0L125.0,170.0L126.0,169.7L127.0,169.0L127.0,169.0L127.8,168.0L128.0,167.7L128.3,167.0L128.6,166.0L128.7,165.0L128.8,164.0L128.7,163.0L128.6,162.0L128.4,161.0L128.1,160.0L128.0,159.7L127.7,159.0L127.2,158.0L127.0,157.7L126.4,157.0L126.0,156.6L125.0,156.1L124.0,156.0L123.0,156.4ZM109.2,176.0L109.0,176.1L108.0,176.8L107.8,177.0L107.0,178.0L107.0,178.1L106.5,179.0L106.1,180.0L106.0,180.5L105.9,181.0L105.7,182.0L105.5,183.0L105.5,184.0L105.5,185.0L105.5,186.0L105.7,187.0L105.9,188.0L106.0,188.4L106.2,189.0L106.8,190.0L107.0,190.4L107.5,191.0L108.0,191.5L108.6,192.0L109.0,192.3L110.0,192.8L111.0,193.0L112.0,192.8L113.0,192.4L113.7,192.0L114.0,191.8L115.0,191.0L115.0,191.0L115.8,190.0L116.0,189.7L116.5,189.0L117.0,188.0L117.0,188.0L117.4,187.0L117.7,186.0L117.9,185.0L117.9,184.0L117.9,183.0L117.7,182.0L117.3,181.0L117.0,180.3L116.9,180.0L116.2,179.0L116.0,178.7L115.4,178.0L115.0,177.6L114.2,177.0L114.0,176.8L113.0,176.2L112.4,176.0L112.0,175.8L111.0,175.7L110.0,175.7ZM174.0,155.9L175.0,155.7L176.0,155.7L177.0,155.8L177.8,156.0L178.0,156.0L179.0,156.4L180.0,156.9L180.2,157.0L181.0,157.5L181.8,158.0L182.0,158.2L183.0,159.0L183.0,159.0L183.9,160.0L184.0,160.1L184.5,161.0L184.7,162.0L184.6,163.0L184.3,164.0L184.0,164.6L183.8,165.0L183.0,165.8L182.7,166.0L182.0,166.4L181.0,166.7L180.0,166.8L179.0,166.7L178.0,166.4L177.0,166.1L176.7,166.0L176.0,165.7L175.0,165.3L174.3,165.0L174.0,164.9L173.0,164.4L172.0,164.0L171.9,164.0L171.0,163.6L170.0,163.2L169.5,163.0L169.0,162.7L168.0,162.0L168.0,162.0L167.5,161.0L167.6,160.0L168.0,159.2L168.1,159.0L169.0,158.2L169.2,158.0L170.0,157.5L170.8,157.0L171.0,156.9L172.0,156.5L173.0,156.1L173.4,156.0ZM68.0,187.3L69.0,187.6L70.0,187.9L70.2,188.0L71.0,188.4L72.0,188.9L72.1,189.0L73.0,189.7L73.3,190.0L74.0,191.0L74.0,191.0L74.5,192.0L74.8,193.0L75.0,193.8L75.0,194.0L75.2,195.0L75.2,196.0L75.2,197.0L75.2,198.0L75.2,199.0L75.1,200.0L75.1,201.0L75.1,202.0L75.1,203.0L75.1,204.0L75.2,205.0L75.3,206.0L75.5,207.0L75.7,208.0L75.9,209.0L76.0,209.2L76.2,210.0L76.5,211.0L76.7,212.0L77.0,213.0L77.0,213.0L77.3,214.0L77.5,215.0L77.7,216.0L77.9,217.0L78.0,217.6L78.1,218.0L78.2,219.0L78.4,220.0L78.5,221.0L78.7,222.0L78.8,223.0L79.0,224.0L79.0,224.3L79.1,225.0L79.2,226.0L79.3,227.0L79.3,228.0L79.3,229.0L79.2,230.0L79.1,231.0L79.0,231.9L79.0,232.0L78.8,233.0L78.7,234.0L78.4,235.0L78.2,236.0L78.0,236.8L77.9,237.0L77.6,238.0L77.2,239.0L77.0,239.3L76.6,240.0L76.0,240.9L75.9,241.0L75.1,242.0L75.0,242.1L74.0,242.9L73.9,243.0L73.0,243.6L72.4,244.0L72.0,244.2L71.0,244.7L70.1,245.0L70.0,245.0L69.0,245.3L68.0,245.5L67.0,245.7L67.0,245.0L67.0,244.0L67.0,243.0L67.0,242.0L67.0,241.0L67.0,240.0L67.0,239.0L67.0,238.1L67.4,238.0L68.0,237.8L69.0,237.2L69.3,237.0L70.0,236.4L70.4,236.0L71.0,235.0L71.0,235.0L71.4,234.0L71.8,233.0L72.0,232.0L72.0,231.8L72.1,231.0L72.2,230.0L72.3,229.0L72.3,228.0L72.3,227.0L72.2,226.0L72.2,225.0L72.1,224.0L72.0,223.4L71.9,223.0L71.8,222.0L71.5,221.0L71.2,220.0L71.0,219.4L70.8,219.0L70.3,218.0L70.0,217.4L69.7,217.0L69.1,216.0L69.0,215.9L68.3,215.0L68.0,214.6L67.5,214.0L67.0,213.4L67.0,213.0L67.0,212.0L67.0,211.0L67.0,210.0L67.0,209.0L67.0,208.0L67.0,207.0L67.0,206.0L67.0,205.0L67.0,204.0L67.0,203.0L67.0,202.0L67.0,201.0L67.0,200.0L67.0,199.0L67.0,198.0L67.0,197.0L67.0,196.0L67.0,195.0L67.0,194.0L67.0,193.0L67.0,192.0L67.0,191.0L67.0,190.0L67.0,189.0L67.0,188.0L67.0,187.1ZM75.0,265.9L76.0,265.5L77.0,265.3L78.0,265.4L79.0,265.7L79.5,266.0L80.0,266.3L80.6,267.0L80.9,268.0L81.0,269.0L81.0,269.0L81.0,269.0L80.8,270.0L80.5,271.0L80.1,272.0L80.0,272.2L79.6,273.0L79.2,274.0L79.0,274.4L78.7,275.0L78.2,276.0L78.0,276.4L77.7,277.0L77.3,278.0L77.1,279.0L77.0,279.3L76.8,280.0L76.6,281.0L76.3,282.0L76.0,282.4L75.2,283.0L75.0,283.1L74.0,283.0L74.0,283.0L73.0,282.1L72.9,282.0L72.6,281.0L72.4,280.0L72.3,279.0L72.3,278.0L72.2,277.0L72.0,276.0L72.0,276.0L71.9,275.0L71.7,274.0L71.6,273.0L71.6,272.0L71.7,271.0L72.0,270.0L72.0,269.9L72.3,269.0L72.9,268.0L73.0,267.8L73.6,267.0L74.0,266.6L74.8,266.0Z" fill="#e6dc32" fill-rule="evenodd"/>
<path d="M115.0,85.7L116.0,85.5L117.0,85.4L118.0,85.3L119.0,85.3L120.0,85.3L121.0,85.5L122.0,85.7L122.8,86.0L123.0,86.1L124.0,86.5L124.8,87.0L125.0,87.1L126.0,88.0L126.0,88.0L126.9,89.0L127.0,89.1L127.6,90.0L128.0,90.7L128.1,91.0L128.5,92.0L128.7,93.0L128.9,94.0L128.9,95.0L128.9,96.0L128.8,97.0L128.7,98.0L128.6,99.0L128.4,100.0L128.2,101.0L128.0,102.0L128.0,102.1L127.8,103.0L127.7,104.0L127.5,105.0L127.3,106.0L127.1,107.0L127.0,107.6L126.9,108.0L126.6,109.0L126.2,110.0L126.0,110.4L125.6,111.0L125.0,111.8L124.8,112.0L124.0,112.9L123.8,113.0L123.0,113.6L122.4,114.0L122.0,114.3L121.0,114.8L120.4,115.0L120.0,115.2L119.0,115.5L118.0,115.7L117.0,116.0L116.7,116.0L116.0,116.1L115.0,116.3L114.0,116.5L113.0,116.7L112.0,116.9L111.7,117.0L111.0,117.2L110.0,117.6L109.3,118.0L109.0,118.1L108.0,118.8L107.8,119.0L107.0,119.7L106.7,120.0L106.0,120.7L105.7,121.0L105.0,121.8L104.9,122.0L104.1,123.0L104.0,123.1L103.2,124.0L103.0,124.3L102.4,125.0L102.0,125.4L101.4,126.0L101.0,126.4L100.2,127.0L100.0,127.2L99.0,127.9L98.8,128.0L98.0,128.4L97.0,128.9L96.8,129.0L96.0,129.4L95.0,129.7L94.1,130.0L94.0,130.0L93.0,130.3L92.0,130.5L91.0,130.7L90.0,130.9L89.3,131.0L89.0,131.0L88.0,131.2L87.0,131.2L86.0,131.3L85.0,131.4L84.0,131.5L83.0,131.6L82.0,131.7L81.0,131.9L80.7,132.0L80.0,132.2L79.0,132.5L78.0,132.8L77.6,133.0L77.0,133.3L76.0,133.8L75.7,134.0L75.0,134.6L74.5,135.0L74.0,135.5L73.6,136.0L73.0,136.9L73.0,137.0L72.6,138.0L72.6,139.0L72.7,140.0L73.0,140.8L73.1,141.0L73.7,142.0L74.0,142.3L74.6,143.0L75.0,143.3L75.9,144.0L76.0,144.1L77.0,144.6L77.7,145.0L78.0,145.1L79.0,145.5L80.0,145.9L80.4,146.0L81.0,146.2L82.0,146.5L83.0,146.8L83.5,147.0L84.0,147.2L85.0,147.6L85.8,148.0L86.0,148.1L87.0,148.7L87.4,149.0L88.0,149.4L88.7,150.0L89.0,150.3L89.7,151.0L90.0,151.4L90.5,152.0L91.0,152.8L91.1,153.0L91.5,154.0L91.7,155.0L91.9,156.0L91.9,157.0L91.8,158.0L91.6,159.0L91.4,160.0L91.2,161.0L91.0,161.6L90.9,162.0L90.5,163.0L90.1,164.0L90.0,164.2L89.7,165.0L89.3,166.0L89.1,167.0L89.0,167.4L88.9,168.0L88.9,169.0L88.9,170.0L89.0,170.5L89.1,171.0L89.2,172.0L89.5,173.0L89.7,174.0L90.0,174.9L90.0,175.0L90.3,176.0L90.6,177.0L90.9,178.0L91.0,178.8L91.0,179.0L91.1,180.0L91.1,181.0L91.1,182.0L91.2,183.0L91.2,184.0L91.3,185.0L91.5,186.0L91.6,187.0L91.9,188.0L92.0,188.5L92.1,189.0L92.5,190.0L92.8,191.0L93.0,191.4L93.3,192.0L93.8,193.0L94.0,193.4L94.4,194.0L95.0,194.9L95.1,195.0L95.9,196.0L96.0,196.1L96.8,197.0L97.0,197.2L97.9,198.0L98.0,198.1L99.0,198.9L99.2,199.0L100.0,199.6L100.7,200.0L101.0,200.2L102.0,200.7L102.7,201.0L103.0,201.2L104.0,201.5L105.0,201.8L105.9,202.0L106.0,202.0L107.0,202.2L108.0,202.3L109.0,202.4L110.0,202.4L111.0,202.4L112.0,202.4L113.0,202.4L114.0,202.3L115.0,202.2L116.0,202.0L116.1,202.0L117.0,201.8L118.0,201.6L119.0,201.2L119.5,201.0L120.0,200.8L121.0,200.3L121.5,200.0L122.0,199.7L122.9,199.0L123.0,198.9L124.0,198.1L124.1,198.0L125.0,197.1L125.1,197.0L126.0,196.0L126.0,195.9L126.8,195.0L127.0,194.7L127.6,194.0L128.0,193.4L128.3,193.0L129.0,192.2L129.1,192.0L130.0,191.0L130.0,191.0L130.9,190.0L131.0,189.9L132.0,189.0L132.0,189.0L133.0,188.3L133.5,188.0L134.0,187.7L135.0,187.3L136.0,187.1L136.7,187.0L137.0,187.0L138.0,187.0L138.2,187.0L139.0,187.1L140.0,187.4L141.0,187.9L141.2,188.0L142.0,188.6L142.3,189.0L143.0,189.9L143.0,190.0L143.5,191.0L143.9,192.0L144.0,192.3L144.2,193.0L144.4,194.0L144.7,195.0L144.9,196.0L145.0,196.4L145.1,197.0L145.4,198.0L145.7,199.0L146.0,199.7L146.1,200.0L146.6,201.0L147.0,201.6L147.3,202.0L148.0,202.9L148.1,203.0L149.0,203.8L149.3,204.0L150.0,204.5L151.0,204.9L151.2,205.0L152.0,205.2L153.0,205.2L154.0,205.0L154.1,205.0L155.0,204.7L156.0,204.4L156.9,204.0L157.0,204.0L158.0,203.6L159.0,203.2L159.4,203.0L160.0,202.8L161.0,202.5L162.0,202.2L162.6,202.0L163.0,201.9L164.0,201.7L165.0,201.5L166.0,201.3L167.0,201.2L168.0,201.0L168.3,201.0L169.0,200.9L170.0,200.9L171.0,200.8L172.0,200.8L173.0,200.8L174.0,200.8L175.0,200.9L176.0,201.0L176.4,201.0L177.0,201.1L178.0,201.2L179.0,201.4L180.0,201.5L181.0,201.6L182.0,201.7L183.0,201.8L184.0,201.8L185.0,201.8L186.0,201.7L187.0,201.6L188.0,201.4L189.0,201.1L189.3,201.0L190.0,200.8L191.0,200.3L191.6,200.0L192.0,199.8L193.0,199.1L193.2,199.0L194.0,198.4L194.5,198.0L195.0,197.6L195.7,197.0L196.0,196.8L197.0,196.0L197.0,196.0L198.0,195.2L198.3,195.0L199.0,194.5L199.7,194.0L200.0,193.8L201.0,193.0L201.1,193.0L202.0,192.3L202.4,192.0L203.0,191.6L203.8,191.0L204.0,190.9L205.0,190.1L205.2,190.0L206.0,189.5L206.7,189.0L207.0,188.8L208.0,188.2L208.3,188.0L209.0,187.6L210.0,187.0L210.0,187.0L211.0,186.4L211.7,186.0L212.0,185.8L213.0,185.2L213.3,185.0L214.0,184.5L214.7,184.0L215.0,183.8L216.0,183.0L216.0,183.0L217.0,182.1L217.2,182.0L218.0,181.2L218.2,181.0L219.0,180.2L219.2,180.0L220.0,179.2L220.2,179.0L221.0,178.3L221.3,178.0L222.0,177.5L222.8,177.0L223.0,176.9L224.0,176.5L225.0,176.2L226.0,176.1L227.0,176.2L228.0,176.5L229.0,177.0L229.0,177.0L230.0,177.6L230.9,178.0L231.0,178.0L231.9,178.0L232.0,178.0L232.7,177.0L233.0,176.5L233.2,176.0L233.7,175.0L234.0,174.5L234.3,174.0L235.0,173.2L235.1,173.0L236.0,172.2L236.2,172.0L237.0,171.4L237.5,171.0L238.0,170.7L239.0,170.0L239.0,170.0L240.0,169.4L240.7,169.0L241.0,168.8L242.0,168.2L242.4,168.0L243.0,167.6L244.0,167.0L244.0,167.0L245.0,166.3L245.5,166.0L246.0,165.7L247.0,165.1L247.1,165.0L248.0,164.5L248.9,164.0L249.0,163.9L250.0,163.5L251.0,163.2L251.9,163.0L252.0,163.0L253.0,162.9L254.0,163.0L254.1,163.0L255.0,163.2L256.0,163.5L257.0,164.0L257.1,164.0L258.0,164.5L258.7,165.0L259.0,165.2L260.0,166.0L260.0,166.0L261.0,166.9L261.1,167.0L262.0,167.9L262.1,168.0L263.0,169.0L263.0,169.0L263.8,170.0L264.0,170.3L264.5,171.0L265.0,171.7L265.2,172.0L265.8,173.0L266.0,173.3L266.4,174.0L267.0,175.0L267.0,175.0L267.5,176.0L268.0,177.0L268.0,177.0L268.4,178.0L268.8,179.0L269.0,179.8L269.0,180.0L269.3,181.0L269.5,182.0L269.7,183.0L269.8,184.0L270.0,185.0L270.0,185.0L270.1,186.0L270.3,187.0L270.5,188.0L270.7,189.0L270.9,190.0L271.0,190.3L271.2,191.0L271.5,192.0L271.9,193.0L272.0,193.3L272.3,194.0L272.9,195.0L273.0,195.2L273.5,196.0L274.0,196.6L274.3,197.0L275.0,197.7L275.3,198.0L276.0,198.6L276.6,199.0L277.0,199.3L278.0,199.9L278.3,200.0L279.0,200.4L280.0,200.8L280.7,201.0L281.0,201.1L282.0,201.4L283.0,201.6L284.0,201.8L285.0,201.9L285.7,202.0L286.0,202.0L287.0,202.0L288.0,202.0L288.1,202.0L289.0,201.9L290.0,201.8L291.0,201.6L292.0,201.3L293.0,201.0L293.1,201.0L294.0,200.7L295.0,200.3L295.9,200.0L296.0,200.0L297.0,199.6L298.0,199.1L298.3,199.0L299.0,198.7L300.0,198.2L300.0,199.0L300.0,200.0L300.0,201.0L300.0,202.0L300.0,203.0L300.0,204.0L300.0,205.0L300.0,206.0L300.0,207.0L300.0,208.0L300.0,209.0L300.0,210.0L300.0,211.0L300.0,212.0L300.0,213.0L300.0,214.0L300.0,215.0L300.0,216.0L300.0,217.0L300.0,218.0L300.0,219.0L300.0,220.0L300.0,221.0L300.0,222.0L300.0,223.0L300.0,224.0L300.0,225.0L300.0,226.0L300.0,227.0L300.0,228.0L300.0,229.0L300.0,230.0L300.0,231.0L300.0,232.0L300.0,232.9L299.0,232.7L298.0,232.6L297.0,232.5L296.0,232.3L295.0,232.2L294.0,232.1L293.0,232.1L292.0,232.2L291.0,232.3L290.0,232.4L289.0,232.6L288.0,232.8L287.0,232.9L286.7,233.0L286.0,233.1L285.0,233.4L284.0,233.6L283.0,233.8L282.0,234.0L281.9,234.0L281.0,234.3L280.0,234.6L279.0,235.0L279.0,235.0L278.0,235.7L277.7,236.0L277.0,236.7L276.7,237.0L276.0,237.8L275.8,238.0L275.0,238.9L274.9,239.0L274.1,240.0L274.0,240.1L273.1,241.0L273.0,241.1L272.1,242.0L272.0,242.1L271.0,242.9L270.9,243.0L270.0,243.7L269.6,244.0L269.0,244.4L268.0,245.0L268.0,245.0L267.0,245.6L266.1,246.0L266.0,246.1L265.0,246.5L264.0,246.8L263.1,247.0L263.0,247.0L262.0,247.2L261.0,247.3L260.0,247.4L259.0,247.4L258.0,247.4L257.0,247.4L256.0,247.4L255.0,247.3L254.0,247.3L253.0,247.2L252.0,247.1L251.0,247.1L250.0,247.0L249.8,247.0L249.0,247.0L248.0,246.9L247.0,246.9L246.0,246.8L245.0,246.7L244.0,246.7L243.0,246.6L242.0,246.6L241.0,246.5L240.0,246.5L239.0,246.4L238.0,246.4L237.0,246.5L236.0,246.5L235.0,246.6L234.0,246.7L233.0,246.8L232.0,247.0L232.0,247.0L231.0,247.1L230.0,247.3L229.0,247.5L228.0,247.6L227.0,247.8L226.0,247.9L225.4,248.0L225.0,248.1L224.0,248.1L223.0,248.2L222.0,248.1L221.0,248.1L220.4,248.0L220.0,248.0L219.0,247.8L218.0,247.7L217.0,247.6L216.0,247.5L215.0,247.4L214.0,247.3L213.0,247.3L212.0,247.3L211.0,247.3L210.0,247.4L209.0,247.5L208.0,247.7L207.0,247.9L206.7,248.0L206.0,248.2L205.0,248.5L204.0,248.9L203.8,249.0L203.0,249.3L202.0,249.8L201.5,250.0L201.0,250.2L200.0,250.6L199.2,251.0L199.0,251.1L198.0,251.5L197.0,251.9L196.6,252.0L196.0,252.2L195.0,252.5L194.0,252.8L193.4,253.0L193.0,253.1L192.0,253.4L191.0,253.7L190.0,254.0L190.0,254.0L189.0,254.3L188.0,254.7L187.1,255.0L187.0,255.0L186.0,255.4L185.0,255.8L184.3,256.0L184.0,256.1L183.0,256.4L182.0,256.7L181.0,257.0L180.8,257.0L180.0,257.1L179.0,257.3L178.0,257.4L177.0,257.4L176.0,257.4L175.0,257.3L174.0,257.2L173.0,257.1L172.6,257.0L172.0,256.9L171.0,256.7L170.0,256.4L169.0,256.2L168.5,256.0L168.0,255.8L167.0,255.4L166.0,255.0L166.0,255.0L165.0,254.5L164.2,254.0L164.0,253.9L163.0,253.2L162.7,253.0L162.0,252.4L161.5,252.0L161.0,251.5L160.5,251.0L160.0,250.5L159.5,250.0L159.0,249.6L158.4,249.0L158.0,248.7L157.0,248.0L157.0,248.0L156.0,247.5L155.0,247.1L154.4,247.0L154.0,246.9L153.1,247.0L153.0,247.0L152.0,247.3L151.0,247.9L150.8,248.0L150.0,248.7L149.7,249.0L149.0,249.9L148.9,250.0L148.1,251.0L148.0,251.1L147.3,252.0L147.0,252.3L146.3,253.0L146.0,253.3L145.1,254.0L145.0,254.1L144.0,254.7L143.5,255.0L143.0,255.2L142.0,255.7L141.1,256.0L141.0,256.0L140.0,256.3L139.0,256.6L138.0,256.8L137.0,257.0L136.7,257.0L136.0,257.1L135.0,257.2L134.0,257.3L133.0,257.4L132.0,257.4L131.0,257.4L130.0,257.4L129.0,257.3L128.0,257.2L127.0,257.1L126.0,257.0L125.7,257.0L125.0,256.9L124.0,256.8L123.0,256.6L122.0,256.5L121.0,256.3L120.0,256.1L119.7,256.0L119.0,255.8L118.0,255.6L117.0,255.3L116.0,255.1L115.7,255.0L115.0,254.8L114.0,254.5L113.0,254.2L112.3,254.0L112.0,253.9L111.0,253.5L110.0,253.2L109.6,253.0L109.0,252.7L108.0,252.3L107.4,252.0L107.0,251.8L106.0,251.2L105.5,251.0L105.0,250.7L104.0,250.2L103.5,250.0L103.0,249.7L102.0,249.3L101.2,249.0L101.0,248.9L100.0,248.5L99.0,248.2L98.4,248.0L98.0,247.9L97.0,247.5L96.0,247.1L95.6,247.0L95.0,246.8L94.0,246.5L93.0,246.2L92.0,246.0L91.9,246.0L91.0,245.9L90.0,245.8L89.0,245.9L88.2,246.0L88.0,246.0L87.0,246.3L86.0,246.6L85.1,247.0L85.0,247.1L84.0,247.5L83.0,248.0L83.0,248.0L82.0,248.4L81.0,248.8L80.6,249.0L80.0,249.2L79.0,249.6L78.2,250.0L78.0,250.1L77.0,250.6L76.0,251.0L76.0,251.0L75.0,251.5L74.0,251.9L73.6,252.0L73.0,252.2L72.0,252.5L71.0,252.6L70.0,252.7L69.0,252.8L68.0,252.8L67.0,252.7L67.0,252.0L67.0,251.0L67.0,250.0L67.0,249.0L67.0,248.0L67.0,247.0L67.0,246.0L67.0,245.7L68.0,245.5L69.0,245.3L70.0,245.0L70.1,245.0L71.0,244.7L72.0,244.2L72.4,244.0L73.0,243.6L73.9,243.0L74.0,242.9L75.0,242.1L75.1,242.0L75.9,241.0L76.0,240.9L76.6,240.0L77.0,239.3L77.2,239.0L77.6,238.0L77.9,237.0L78.0,236.8L78.2,236.0L78.4,235.0L78.7,234.0L78.8,233.0L79.0,232.0L79.0,231.9L79.1,231.0L79.2,230.0L79.3,229.0L79.3,228.0L79.3,227.0L79.2,226.0L79.1,225.0L79.0,224.3L79.0,224.0L78.8,223.0L78.7,222.0L78.5,221.0L78.4,220.0L78.2,219.0L78.1,218.0L78.0,217.6L77.9,217.0L77.7,216.0L77.5,215.0L77.3,214.0L77.0,213.0L77.0,213.0L76.7,212.0L76.5,211.0L76.2,210.0L76.0,209.2L75.9,209.0L75.7,208.0L75.5,207.0L75.3,206.0L75.2,205.0L75.1,204.0L75.1,203.0L75.1,202.0L75.1,201.0L75.1,200.0L75.2,199.0L75.2,198.0L75.2,197.0L75.2,196.0L75.2,195.0L75.0,194.0L75.0,193.8L74.8,193.0L74.5,192.0L74.0,191.0L74.0,191.0L73.3,190.0L73.0,189.7L72.1,189.0L72.0,188.9L71.0,188.4L70.2,188.0L70.0,187.9L69.0,187.6L68.0,187.3L67.0,187.1L67.0,187.0L67.0,186.0L67.0,185.0L67.0,184.0L67.0,183.0L67.0,182.0L67.0,181.0L67.0,180.0L67.0,179.0L67.0,178.0L67.0,177.0L67.0,176.0L67.0,175.0L67.0,174.0L67.0,173.0L67.0,172.0L67.0,171.0L67.0,170.0L67.0,169.0L67.0,168.0L67.0,167.0L67.0,166.0L67.0,165.0L67.0,164.0L67.0,163.0L67.0,162.0L67.0,161.0L67.0,160.0L67.0,159.0L67.0,158.0L67.0,157.0L67.0,156.0L67.0,155.0L67.0,154.0L67.0,153.0L67.0,152.0L67.0,151.0L67.0,150.0L67.0,149.0L67.0,148.0L67.0,147.0L67.0,146.0L67.0,145.0L67.0,144.0L67.0,143.0L67.0,142.0L67.0,141.0L67.0,140.0L67.0,139.0L67.0,138.0L67.0,137.0L67.0,136.0L67.0,135.0L67.0,134.0L67.0,133.0L67.0,132.0L67.0,131.0L67.0,130.0L67.0,129.0L67.0,128.0L67.0,127.0L67.0,126.0L67.0,125.0L67.0,124.0L67.0,123.0L67.0,122.0L67.0,121.0L67.0,120.0L67.0,119.0L67.0,118.0L67.0,117.0L67.0,116.0L67.0,115.0L67.0,114.0L67.0,113.0L67.0,112.0L67.0,111.0L67.0,110.0L67.0,109.0L67.0,108.0L67.0,107.0L67.0,106.0L67.0,105.0L67.0,104.0L67.0,103.0L67.0,102.0L67.0,101.9L68.0,101.6L69.0,101.3L69.8,101.0L70.0,100.9L71.0,100.5L72.0,100.1L72.2,100.0L73.0,99.6L74.0,99.0L74.0,99.0L75.0,98.4L75.6,98.0L76.0,97.7L76.9,97.0L77.0,97.0L78.0,96.2L78.3,96.0L79.0,95.5L79.8,95.0L80.0,94.9L81.0,94.3L81.9,94.0L82.0,93.9L83.0,93.7L84.0,93.7L85.0,93.9L85.6,94.0L86.0,94.1L87.0,94.5L88.0,95.0L88.1,95.0L89.0,95.5L89.8,96.0L90.0,96.1L91.0,96.8L91.4,97.0L92.0,97.3L93.0,97.8L93.4,98.0L94.0,98.2L95.0,98.5L96.0,98.6L97.0,98.5L98.0,98.3L98.8,98.0L99.0,97.9L100.0,97.3L100.3,97.0L101.0,96.4L101.3,96.0L102.0,95.2L102.1,95.0L102.9,94.0L103.0,93.8L103.6,93.0L104.0,92.5L104.4,92.0L105.0,91.3L105.2,91.0L106.0,90.2L106.3,90.0L107.0,89.4L107.5,89.0L108.0,88.7L109.0,88.1L109.1,88.0L110.0,87.5L111.0,87.1L111.2,87.0L112.0,86.7L113.0,86.3L114.0,86.0L114.0,86.0ZM165.3,207.0L165.0,207.3L164.4,208.0L164.0,208.7L163.8,209.0L163.5,210.0L163.4,211.0L163.7,212.0L164.0,212.6L164.4,213.0L165.0,213.4L166.0,213.8L166.6,214.0L167.0,214.1L168.0,214.2L169.0,214.1L170.0,214.0L170.1,214.0L171.0,213.8L172.0,213.4L172.6,213.0L173.0,212.7L173.6,212.0L174.0,211.0L173.9,210.0L173.4,209.0L173.0,208.6L172.4,208.0L172.0,207.7L171.0,207.0L170.9,207.0L170.0,206.6L169.0,206.3L168.0,206.2L167.0,206.2L166.0,206.6ZM131.9,216.0L131.0,216.1L130.0,216.2L129.0,216.4L128.0,216.6L127.0,217.0L126.9,217.0L126.0,217.4L125.0,217.9L124.9,218.0L124.0,218.7L123.6,219.0L123.0,219.6L122.6,220.0L122.0,220.7L121.8,221.0L121.0,222.0L121.0,222.0L120.3,223.0L120.0,223.5L119.6,224.0L119.0,224.8L118.8,225.0L118.0,225.9L118.0,226.0L117.0,227.0L117.0,227.0L116.0,227.8L115.8,228.0L115.0,228.6L114.5,229.0L114.0,229.3L113.0,230.0L113.0,230.0L112.0,230.7L111.6,231.0L111.0,231.4L110.4,232.0L110.0,232.4L109.6,233.0L109.0,234.0L109.0,234.1L108.8,235.0L108.8,236.0L109.0,237.0L109.0,237.0L109.6,238.0L110.0,238.5L110.7,239.0L111.0,239.2L112.0,239.6L113.0,239.7L114.0,239.7L115.0,239.7L116.0,239.5L117.0,239.3L118.0,239.0L118.2,239.0L119.0,238.8L120.0,238.5L121.0,238.2L122.0,238.0L122.0,238.0L123.0,237.7L124.0,237.4L125.0,237.1L125.1,237.0L126.0,236.6L127.0,236.1L127.1,236.0L128.0,235.4L128.7,235.0L129.0,234.7L130.0,234.0L130.0,234.0L131.0,233.2L131.3,233.0L132.0,232.5L132.6,232.0L133.0,231.7L134.0,231.0L134.0,231.0L135.0,230.2L135.4,230.0L136.0,229.5L136.8,229.0L137.0,228.9L138.0,228.2L138.2,228.0L139.0,227.4L139.6,227.0L140.0,226.6L140.7,226.0L141.0,225.7L141.6,225.0L142.0,224.5L142.3,224.0L142.8,223.0L142.9,222.0L142.8,221.0L142.3,220.0L142.0,219.7L141.4,219.0L141.0,218.6L140.1,218.0L140.0,217.9L139.0,217.4L138.0,217.0L138.0,217.0L137.0,216.7L136.0,216.4L135.0,216.2L134.0,216.1L133.0,216.0L132.8,216.0L132.0,216.0ZM123.0,156.4L124.0,156.0L125.0,156.1L126.0,156.6L126.4,157.0L127.0,157.7L127.2,158.0L127.7,159.0L128.0,159.7L128.1,160.0L128.4,161.0L128.6,162.0L128.7,163.0L128.8,164.0L128.7,165.0L128.6,166.0L128.3,167.0L128.0,167.7L127.8,168.0L127.0,169.0L127.0,169.0L126.0,169.7L125.0,170.0L125.0,170.0L124.0,170.0L124.0,170.0L123.0,169.8L122.0,169.3L121.5,169.0L121.0,168.7L120.3,168.0L120.0,167.7L119.5,167.0L119.0,166.1L119.0,166.0L118.7,165.0L118.5,164.0L118.6,163.0L118.8,162.0L119.0,161.3L119.1,161.0L119.6,160.0L120.0,159.4L120.3,159.0L121.0,158.1L121.1,158.0L122.0,157.1L122.2,157.0ZM74.0,261.5L75.0,261.3L76.0,261.3L77.0,261.6L77.7,262.0L78.0,262.1L79.0,262.7L79.3,263.0L80.0,263.5L80.5,264.0L81.0,264.4L81.6,265.0L82.0,265.5L82.5,266.0L83.0,266.9L83.1,267.0L83.4,268.0L83.5,269.0L83.4,270.0L83.0,271.0L83.0,271.1L82.6,272.0L82.0,272.9L82.0,273.0L81.4,274.0L81.0,274.6L80.8,275.0L80.3,276.0L80.0,277.0L80.0,277.0L79.7,278.0L79.6,279.0L79.5,280.0L79.5,281.0L79.4,282.0L79.2,283.0L79.0,283.8L78.9,284.0L78.4,285.0L78.0,285.6L77.6,286.0L77.0,286.5L76.0,286.9L75.6,287.0L75.0,287.1L74.0,287.0L73.8,287.0L73.0,286.8L72.0,286.3L71.6,286.0L71.0,285.5L70.5,285.0L70.0,284.3L69.8,284.0L69.3,283.0L69.0,282.0L69.0,281.7L68.9,281.0L68.9,280.0L68.9,279.0L69.0,278.0L69.0,277.0L68.8,276.0L68.6,275.0L68.4,274.0L68.3,273.0L68.2,272.0L68.2,271.0L68.3,270.0L68.5,269.0L68.8,268.0L69.0,267.6L69.3,267.0L69.8,266.0L70.0,265.7L70.5,265.0L71.0,264.3L71.2,264.0L72.0,263.1L72.1,263.0L73.0,262.1L73.2,262.0ZM74.8,266.0L74.0,266.6L73.6,267.0L73.0,267.8L72.9,268.0L72.3,269.0L72.0,269.9L72.0,270.0L71.7,271.0L71.6,272.0L71.6,273.0L71.7,274.0L71.9,275.0L72.0,276.0L72.0,276.0L72.2,277.0L72.3,278.0L72.3,279.0L72.4,280.0L72.6,281.0L72.9,282.0L73.0,282.1L74.0,283.0L74.0,283.0L75.0,283.1L75.2,283.0L76.0,282.4L76.3,282.0L76.6,281.0L76.8,280.0L77.0,279.3L77.1,279.0L77.3,278.0L77.7,277.0L78.0,276.4L78.2,276.0L78.7,275.0L79.0,274.4L79.2,274.0L79.6,273.0L80.0,272.2L80.1,272.0L80.5,271.0L80.8,270.0L81.0,269.0L81.0,269.0L81.0,269.0L80.9,268.0L80.6,267.0L80.0,266.3L79.5,266.0L79.0,265.7L78.0,265.4L77.0,265.3L76.0,265.5L75.0,265.9Z" fill="#e6af2d" fill-rule="evenodd"/>
<path d="M166.0,206.6L167.0,206.2L168.0,206.2L169.0,206.3L170.0,206.6L170.9,207.0L171.0,207.0L172.0,207.7L172.4,208.0L173.0,208.6L173.4,209.0L173.9,210.0L174.0,211.0L173.6,212.0L173.0,212.7L172.6,213.0L172.0,213.4L171.0,213.8L170.1,214.0L170.0,214.0L169.0,214.1L168.0,214.2L167.0,214.1L166.6,214.0L166.0,213.8L165.0,213.4L164.4,213.0L164.0,212.6L163.7,212.0L163.4,211.0L163.5,210.0L163.8,209.0L164.0,208.7L164.4,208.0L165.0,207.3L165.3,207.0ZM132.0,216.0L132.8,216.0L133.0,216.0L134.0,216.1L135.0,216.2L136.0,216.4L137.0,216.7L138.0,217.0L138.0,217.0L139.0,217.4L140.0,217.9L140.1,218.0L141.0,218.6L141.4,219.0L142.0,219.7L142.3,220.0L142.8,221.0L142.9,222.0L142.8,223.0L142.3,224.0L142.0,224.5L141.6,225.0L141.0,225.7L140.7,226.0L140.0,226.6L139.6,227.0L139.0,227.4L138.2,228.0L138.0,228.2L137.0,228.9L136.8,229.0L136.0,229.5L135.4,230.0L135.0,230.2L134.0,231.0L134.0,231.0L133.0,231.7L132.6,232.0L132.0,232.5L131.3,233.0L131.0,233.2L130.0,234.0L130.0,234.0L129.0,234.7L128.7,235.0L128.0,235.4L127.1,236.0L127.0,236.1L126.0,236.6L125.1,237.0L125.0,237.1L124.0,237.4L123.0,237.7L122.0,238.0L122.0,238.0L121.0,238.2L120.0,238.5L119.0,238.8L118.2,239.0L118.0,239.0L117.0,239.3L116.0,239.5L115.0,239.7L114.0,239.7L113.0,239.7L112.0,239.6L111.0,239.2L110.7,239.0L110.0,238.5L109.6,238.0L109.0,237.0L109.0,237.0L108.8,236.0L108.8,235.0L109.0,234.1L109.0,234.0L109.6,233.0L110.0,232.4L110.4,232.0L111.0,231.4L111.6,231.0L112.0,230.7L113.0,230.0L113.0,230.0L114.0,229.3L114.5,229.0L115.0,228.6L115.8,228.0L116.0,227.8L117.0,227.0L117.0,227.0L118.0,226.0L118.0,225.9L118.8,225.0L119.0,224.8L119.6,224.0L120.0,223.5L120.3,223.0L121.0,222.0L121.0,222.0L121.8,221.0L122.0,220.7L122.6,220.0L123.0,219.6L123.6,219.0L124.0,218.7L124.9,218.0L125.0,217.9L126.0,217.4L126.9,217.0L127.0,217.0L128.0,216.6L129.0,216.4L130.0,216.2L131.0,216.1L131.9,216.0ZM287.0,232.9L288.0,232.8L289.0,232.6L290.0,232.4L291.0,232.3L292.0,232.2L293.0,232.1L294.0,232.1L295.0,232.2L296.0,232.3L297.0,232.5L298.0,232.6L299.0,232.7L300.0,232.9L300.0,233.0L300.0,234.0L300.0,235.0L300.0,236.0L300.0,237.0L300.0,238.0L300.0,239.0L300.0,240.0L300.0,241.0L300.0,242.0L300.0,243.0L300.0,244.0L300.0,245.0L300.0,246.0L300.0,247.0L300.0,248.0L300.0,249.0L300.0,250.0L300.0,251.0L300.0,252.0L300.0,253.0L300.0,254.0L300.0,255.0L300.0,256.0L300.0,257.0L300.0,258.0L300.0,259.0L300.0,260.0L300.0,261.0L300.0,262.0L300.0,262.3L299.0,262.1L298.5,262.0L298.0,261.9L297.0,261.7L296.0,261.6L295.0,261.4L294.0,261.3L293.0,261.2L292.0,261.1L291.0,261.1L290.0,261.0L289.0,261.0L288.1,261.0L288.0,261.0L287.0,261.0L286.0,261.0L285.0,261.0L284.0,261.0L283.0,261.0L282.0,261.0L281.9,261.0L281.0,261.0L280.0,261.1L279.0,261.2L278.0,261.4L277.0,261.6L276.0,261.8L275.4,262.0L275.0,262.1L274.0,262.4L273.0,262.7L272.0,263.0L271.9,263.0L271.0,263.3L270.0,263.5L269.0,263.8L268.2,264.0L268.0,264.1L267.0,264.3L266.0,264.5L265.0,264.8L264.0,265.0L263.8,265.0L263.0,265.2L262.0,265.4L261.0,265.5L260.0,265.7L259.0,265.8L258.0,266.0L257.8,266.0L257.0,266.1L256.0,266.2L255.0,266.3L254.0,266.3L253.0,266.4L252.0,266.4L251.0,266.4L250.0,266.3L249.0,266.2L248.0,266.1L247.5,266.0L247.0,265.9L246.0,265.7L245.0,265.5L244.0,265.3L243.0,265.1L242.4,265.0L242.0,264.9L241.0,264.7L240.0,264.5L239.0,264.3L238.0,264.1L237.4,264.0L237.0,263.9L236.0,263.8L235.0,263.6L234.0,263.5L233.0,263.3L232.0,263.2L231.0,263.1L230.4,263.0L230.0,262.9L229.0,262.8L228.0,262.7L227.0,262.6L226.0,262.5L225.0,262.4L224.0,262.3L223.0,262.2L222.0,262.1L221.0,262.1L220.0,262.0L219.2,262.0L219.0,262.0L218.0,262.0L217.0,261.9L216.0,261.8L215.0,261.8L214.0,261.7L213.0,261.7L212.0,261.6L211.0,261.5L210.0,261.5L209.0,261.4L208.0,261.3L207.0,261.3L206.0,261.3L205.0,261.3L204.0,261.2L203.0,261.2L202.0,261.2L201.0,261.2L200.0,261.3L199.0,261.3L198.0,261.4L197.0,261.5L196.0,261.6L195.0,261.9L194.6,262.0L194.0,262.2L193.0,262.7L192.5,263.0L192.0,263.3L191.0,263.9L190.9,264.0L190.0,264.6L189.3,265.0L189.0,265.2L188.0,265.8L187.7,266.0L187.0,266.4L186.0,266.9L185.9,267.0L185.0,267.4L184.0,267.8L183.4,268.0L183.0,268.1L182.0,268.4L181.0,268.7L180.0,268.8L179.0,269.0L179.0,269.0L178.0,269.1L177.0,269.2L176.0,269.3L175.0,269.3L174.0,269.3L173.0,269.3L172.0,269.3L171.0,269.3L170.0,269.3L169.0,269.2L168.0,269.2L167.0,269.2L166.0,269.3L165.0,269.3L164.0,269.3L163.0,269.4L162.0,269.5L161.0,269.6L160.0,269.7L159.0,269.8L158.0,269.9L157.6,270.0L157.0,270.1L156.0,270.2L155.0,270.3L154.0,270.5L153.0,270.6L152.0,270.7L151.0,270.8L150.0,271.0L149.7,271.0L149.0,271.1L148.0,271.3L147.0,271.4L146.0,271.6L145.0,271.8L144.1,272.0L144.0,272.0L143.0,272.3L142.0,272.7L141.1,273.0L141.0,273.1L140.0,273.5L139.2,274.0L139.0,274.1L138.0,274.8L137.7,275.0L137.0,275.6L136.5,276.0L136.0,276.5L135.4,277.0L135.0,277.4L134.3,278.0L134.0,278.3L133.2,279.0L133.0,279.1L132.0,279.8L131.7,280.0L131.0,280.4L130.0,280.8L129.6,281.0L129.0,281.2L128.0,281.4L127.0,281.4L126.0,281.4L125.0,281.2L124.5,281.0L124.0,280.8L123.0,280.2L122.7,280.0L122.0,279.3L121.8,279.0L121.1,278.0L121.0,277.9L120.5,277.0L120.1,276.0L120.0,275.8L119.7,275.0L119.2,274.0L119.0,273.6L118.7,273.0L118.1,272.0L118.0,271.9L117.3,271.0L117.0,270.7L116.2,270.0L116.0,269.8L115.0,269.1L114.8,269.0L114.0,268.6L113.0,268.1L112.8,268.0L112.0,267.7L111.0,267.4L110.0,267.1L109.7,267.0L109.0,266.8L108.0,266.6L107.0,266.3L106.0,266.1L105.6,266.0L105.0,265.8L104.0,265.5L103.0,265.2L102.6,265.0L102.0,264.7L101.0,264.2L100.7,264.0L100.0,263.6L99.2,263.0L99.0,262.9L98.1,262.0L98.0,261.9L97.2,261.0L97.0,260.8L96.4,260.0L96.0,259.6L95.5,259.0L95.0,258.5L94.5,258.0L94.0,257.5L93.4,257.0L93.0,256.7L92.0,256.1L91.9,256.0L91.0,255.6L90.0,255.2L89.3,255.0L89.0,254.9L88.0,254.8L87.0,254.7L86.0,254.8L85.2,255.0L85.0,255.0L84.0,255.4L83.0,255.9L82.9,256.0L82.0,256.9L81.9,257.0L81.4,258.0L81.3,259.0L81.4,260.0L81.6,261.0L82.0,261.9L82.1,262.0L82.7,263.0L83.0,263.4L83.8,264.0L84.0,264.2L85.0,265.0L85.0,265.0L85.9,266.0L86.0,266.1L86.6,267.0L86.9,268.0L87.0,269.0L86.8,270.0L86.4,271.0L86.0,271.5L85.7,272.0L85.0,272.7L84.8,273.0L84.0,273.8L83.9,274.0L83.0,275.0L83.0,275.0L82.3,276.0L82.0,276.7L81.9,277.0L81.7,278.0L81.7,279.0L81.8,280.0L81.9,281.0L82.0,281.7L82.1,282.0L82.2,283.0L82.2,284.0L82.2,285.0L82.0,286.0L82.0,286.0L81.7,287.0L81.3,288.0L81.0,288.4L80.6,289.0L80.0,289.6L79.5,290.0L79.0,290.3L78.0,290.9L77.5,291.0L77.0,291.2L76.0,291.3L75.0,291.3L74.0,291.1L73.5,291.0L73.0,290.9L72.0,290.5L71.2,290.0L71.0,289.9L70.0,289.3L69.6,289.0L69.0,288.5L68.4,288.0L68.0,287.6L67.4,287.0L67.0,286.4L67.0,286.0L67.0,285.0L67.0,284.0L67.0,283.0L67.0,282.0L67.0,281.0L67.0,280.0L67.0,279.0L67.0,278.0L67.0,277.0L67.0,276.0L67.0,275.0L67.0,274.0L67.0,273.0L67.0,272.0L67.0,271.0L67.0,270.0L67.0,269.0L67.0,268.0L67.0,267.0L67.0,266.0L67.0,265.0L67.0,264.0L67.0,263.0L67.0,262.0L67.0,261.0L67.0,260.0L67.0,259.0L67.0,258.0L67.0,257.0L67.0,256.0L67.0,255.0L67.0,254.0L67.0,253.0L67.0,252.7L68.0,252.8L69.0,252.8L70.0,252.7L71.0,252.6L72.0,252.5L73.0,252.2L73.6,252.0L74.0,251.9L75.0,251.5L76.0,251.0L76.0,251.0L77.0,250.6L78.0,250.1L78.2,250.0L79.0,249.6L80.0,249.2L80.6,249.0L81.0,248.8L82.0,248.4L83.0,248.0L83.0,248.0L84.0,247.5L85.0,247.1L85.1,247.0L86.0,246.6L87.0,246.3L88.0,246.0L88.2,246.0L89.0,245.9L90.0,245.8L91.0,245.9L91.9,246.0L92.0,246.0L93.0,246.2L94.0,246.5L95.0,246.8L95.6,247.0L96.0,247.1L97.0,247.5L98.0,247.9L98.4,248.0L99.0,248.2L100.0,248.5L101.0,248.9L101.2,249.0L102.0,249.3L103.0,249.7L103.5,250.0L104.0,250.2L105.0,250.7L105.5,251.0L106.0,251.2L107.0,251.8L107.4,252.0L108.0,252.3L109.0,252.7L109.6,253.0L110.0,253.2L111.0,253.5L112.0,253.9L112.3,254.0L113.0,254.2L114.0,254.5L115.0,254.8L115.7,255.0L116.0,255.1L117.0,255.3L118.0,255.6L119.0,255.8L119.7,256.0L120.0,256.1L121.0,256.3L122.0,256.5L123.0,256.6L124.0,256.8L125.0,256.9L125.7,257.0L126.0,257.0L127.0,257.1L128.0,257.2L129.0,257.3L130.0,257.4L131.0,257.4L132.0,257.4L133.0,257.4L134.0,257.3L135.0,257.2L136.0,257.1L136.7,257.0L137.0,257.0L138.0,256.8L139.0,256.6L140.0,256.3L141.0,256.0L141.1,256.0L142.0,255.7L143.0,255.2L143.5,255.0L144.0,254.7L145.0,254.1L145.1,254.0L146.0,253.3L146.3,253.0L147.0,252.3L147.3,252.0L148.0,251.1L148.1,251.0L148.9,250.0L149.0,249.9L149.7,249.0L150.0,248.7L150.8,248.0L151.0,247.9L152.0,247.3L153.0,247.0L153.1,247.0L154.0,246.9L154.4,247.0L155.0,247.1L156.0,247.5L157.0,248.0L157.0,248.0L158.0,248.7L158.4,249.0L159.0,249.6L159.5,250.0L160.0,250.5L160.5,251.0L161.0,251.5L161.5,252.0L162.0,252.4L162.7,253.0L163.0,253.2L164.0,253.9L164.2,254.0L165.0,254.5L166.0,255.0L166.0,255.0L167.0,255.4L168.0,255.8L168.5,256.0L169.0,256.2L170.0,256.4L171.0,256.7L172.0,256.9L172.6,257.0L173.0,257.1L174.0,257.2L175.0,257.3L176.0,257.4L177.0,257.4L178.0,257.4L179.0,257.3L180.0,257.1L180.8,257.0L181.0,257.0L182.0,256.7L183.0,256.4L184.0,256.1L184.3,256.0L185.0,255.8L186.0,255.4L187.0,255.0L187.1,255.0L188.0,254.7L189.0,254.3L190.0,254.0L190.0,254.0L191.0,253.7L192.0,253.4L193.0,253.1L193.4,253.0L194.0,252.8L195.0,252.5L196.0,252.2L196.6,252.0L197.0,251.9L198.0,251.5L199.0,251.1L199.2,251.0L200.0,250.6L201.0,250.2L201.5,250.0L202.0,249.8L203.0,249.3L203.8,249.0L204.0,248.9L205.0,248.5L206.0,248.2L206.7,248.0L207.0,247.9L208.0,247.7L209.0,247.5L210.0,247.4L211.0,247.3L212.0,247.3L213.0,247.3L214.0,247.3L215.0,247.4L216.0,247.5L217.0,247.6L218.0,247.7L219.0,247.8L220.0,248.0L220.4,248.0L221.0,248.1L222.0,248.1L223.0,248.2L224.0,248.1L225.0,248.1L225.4,248.0L226.0,247.9L227.0,247.8L228.0,247.6L229.0,247.5L230.0,247.3L231.0,247.1L232.0,247.0L232.0,247.0L233.0,246.8L234.0,246.7L235.0,246.6L236.0,246.5L237.0,246.5L238.0,246.4L239.0,246.4L240.0,246.5L241.0,246.5L242.0,246.6L243.0,246.6L244.0,246.7L245.0,246.7L246.0,246.8L247.0,246.9L248.0,246.9L249.0,247.0L249.8,247.0L250.0,247.0L251.0,247.1L252.0,247.1L253.0,247.2L254.0,247.3L255.0,247.3L256.0,247.4L257.0,247.4L258.0,247.4L259.0,247.4L260.0,247.4L261.0,247.3L262.0,247.2L263.0,247.0L263.1,247.0L264.0,246.8L265.0,246.5L266.0,246.1L266.1,246.0L267.0,245.6L268.0,245.0L268.0,245.0L269.0,244.4L269.6,244.0L270.0,243.7L270.9,243.0L271.0,242.9L272.0,242.1L272.1,242.0L273.0,241.1L273.1,241.0L274.0,240.1L274.1,240.0L274.9,239.0L275.0,238.9L275.8,238.0L276.0,237.8L276.7,237.0L277.0,236.7L277.7,236.0L278.0,235.7L279.0,235.0L279.0,235.0L280.0,234.6L281.0,234.3L281.9,234.0L282.0,234.0L283.0,233.8L284.0,233.6L285.0,233.4L286.0,233.1L286.7,233.0ZM73.2,262.0L73.0,262.1L72.1,263.0L72.0,263.1L71.2,264.0L71.0,264.3L70.5,265.0L70.0,265.7L69.8,266.0L69.3,267.0L69.0,267.6L68.8,268.0L68.5,269.0L68.3,270.0L68.2,271.0L68.2,272.0L68.3,273.0L68.4,274.0L68.6,275.0L68.8,276.0L69.0,277.0L69.0,278.0L68.9,279.0L68.9,280.0L68.9,281.0L69.0,281.7L69.0,282.0L69.3,283.0L69.8,284.0L70.0,284.3L70.5,285.0L71.0,285.5L71.6,286.0L72.0,286.3L73.0,286.8L73.8,287.0L74.0,287.0L75.0,287.1L75.6,287.0L76.0,286.9L77.0,286.5L77.6,286.0L78.0,285.6L78.4,285.0L78.9,284.0L79.0,283.8L79.2,283.0L79.4,282.0L79.5,281.0L79.5,280.0L79.6,279.0L79.7,278.0L80.0,277.0L80.0,277.0L80.3,276.0L80.8,275.0L81.0,274.6L81.4,274.0L82.0,273.0L82.0,272.9L82.6,272.0L83.0,271.1L83.0,271.0L83.4,270.0L83.5,269.0L83.4,268.0L83.1,267.0L83.0,266.9L82.5,266.0L82.0,265.5L81.6,265.0L81.0,264.4L80.5,264.0L80.0,263.5L79.3,263.0L79.0,262.7L78.0,262.1L77.7,262.0L77.0,261.6L76.0,261.3L75.0,261.3L74.0,261.5Z" fill="#f08228" fill-rule="evenodd"/>
<path d="M86.0,254.8L87.0,254.7L88.0,254.8L89.0,254.9L89.3,255.0L90.0,255.2L91.0,255.6L91.9,256.0L92.0,256.1L93.0,256.7L93.4,257.0L94.0,257.5L94.5,258.0L95.0,258.5L95.5,259.0L96.0,259.6L96.4,260.0L97.0,260.8L97.2,261.0L98.0,261.9L98.1,262.0L99.0,262.9L99.2,263.0L100.0,263.6L100.7,264.0L101.0,264.2L102.0,264.7L102.6,265.0L103.0,265.2L104.0,265.5L105.0,265.8L105.6,266.0L106.0,266.1L107.0,266.3L108.0,266.6L109.0,266.8L109.7,267.0L110.0,267.1L111.0,267.4L112.0,267.7L112.8,268.0L113.0,268.1L114.0,268.6L114.8,269.0L115.0,269.1L116.0,269.8L116.2,270.0L117.0,270.7L117.3,271.0L118.0,271.9L118.1,272.0L118.7,273.0L119.0,273.6L119.2,274.0L119.7,275.0L120.0,275.8L120.1,276.0L120.5,277.0L121.0,277.9L121.1,278.0L121.8,279.0L122.0,279.3L122.7,280.0L123.0,280.2L124.0,280.8L124.5,281.0L125.0,281.2L126.0,281.4L127.0,281.4L128.0,281.4L129.0,281.2L129.6,281.0L130.0,280.8L131.0,280.4L131.7,280.0L132.0,279.8L133.0,279.1L133.2,279.0L134.0,278.3L134.3,278.0L135.0,277.4L135.4,277.0L136.0,276.5L136.5,276.0L137.0,275.6L137.7,275.0L138.0,274.8L139.0,274.1L139.2,274.0L140.0,273.5L141.0,273.1L141.1,273.0L142.0,272.7L143.0,272.3L144.0,272.0L144.1,272.0L145.0,271.8L146.0,271.6L147.0,271.4L148.0,271.3L149.0,271.1L149.7,271.0L150.0,271.0L151.0,270.8L152.0,270.7L153.0,270.6L154.0,270.5L155.0,270.3L156.0,270.2L157.0,270.1L157.6,270.0L158.0,269.9L159.0,269.8L160.0,269.7L161.0,269.6L162.0,269.5L163.0,269.4L164.0,269.3L165.0,269.3L166.0,269.3L167.0,269.2L168.0,269.2L169.0,269.2L170.0,269.3L171.0,269.3L172.0,269.3L173.0,269.3L174.0,269.3L175.0,269.3L176.0,269.3L177.0,269.2L178.0,269.1L179.0,269.0L179.0,269.0L180.0,268.8L181.0,268.7L182.0,268.4L183.0,268.1L183.4,268.0L184.0,267.8L185.0,267.4L185.9,267.0L186.0,266.9L187.0,266.4L187.7,266.0L188.0,265.8L189.0,265.2L189.3,265.0L190.0,264.6L190.9,264.0L191.0,263.9L192.0,263.3L192.5,263.0L193.0,262.7L194.0,262.2L194.6,262.0L195.0,261.9L196.0,261.6L197.0,261.5L198.0,261.4L199.0,261.3L200.0,261.3L201.0,261.2L202.0,261.2L203.0,261.2L204.0,261.2L205.0,261.3L206.0,261.3L207.0,261.3L208.0,261.3L209.0,261.4L210.0,261.5L211.0,261.5L212.0,261.6L213.0,261.7L214.0,261.7L215.0,261.8L216.0,261.8L217.0,261.9L218.0,262.0L219.0,262.0L219.2,262.0L220.0,262.0L221.0,262.1L222.0,262.1L223.0,262.2L224.0,262.3L225.0,262.4L226.0,262.5L227.0,262.6L228.0,262.7L229.0,262.8L230.0,262.9L230.4,263.0L231.0,263.1L232.0,263.2L233.0,263.3L234.0,263.5L235.0,263.6L236.0,263.8L237.0,263.9L237.4,264.0L238.0,264.1L239.0,264.3L240.0,264.5L241.0,264.7L242.0,264.9L242.4,265.0L243.0,265.1L244.0,265.3L245.0,265.5L246.0,265.7L247.0,265.9L247.5,266.0L248.0,266.1L249.0,266.2L250.0,266.3L251.0,266.4L252.0,266.4L253.0,266.4L254.0,266.3L255.0,266.3L256.0,266.2L257.0,266.1L257.8,266.0L258.0,266.0L259.0,265.8L260.0,265.7L261.0,265.5L262.0,265.4L263.0,265.2L263.8,265.0L264.0,265.0L265.0,264.8L266.0,264.5L267.0,264.3L268.0,264.1L268.2,264.0L269.0,263.8L270.0,263.5L271.0,263.3L271.9,263.0L272.0,263.0L273.0,262.7L274.0,262.4L275.0,262.1L275.4,262.0L276.0,261.8L277.0,261.6L278.0,261.4L279.0,261.2L280.0,261.1L281.0,261.0L281.9,261.0L282.0,261.0L283.0,261.0L284.0,261.0L285.0,261.0L286.0,261.0L287.0,261.0L288.0,261.0L288.1,261.0L289.0,261.0L290.0,261.0L291.0,261.1L292.0,261.1L293.0,261.2L294.0,261.3L295.0,261.4L296.0,261.6L297.0,261.7L298.0,261.9L298.5,262.0L299.0,262.1L300.0,262.3L300.0,263.0L300.0,264.0L300.0,265.0L300.0,266.0L300.0,267.0L300.0,268.0L300.0,269.0L300.0,270.0L300.0,271.0L300.0,272.0L300.0,273.0L300.0,274.0L300.0,275.0L300.0,276.0L300.0,277.0L300.0,278.0L300.0,279.0L300.0,280.0L300.0,281.0L300.0,282.0L300.0,283.0L300.0,284.0L300.0,285.0L300.0,286.0L300.0,287.0L300.0,288.0L300.0,289.0L300.0,290.0L300.0,291.0L300.0,292.0L300.0,293.0L299.0,293.0L298.0,293.0L297.0,293.0L296.0,293.0L295.0,293.0L294.0,293.0L293.0,293.0L292.0,293.0L291.0,293.0L290.0,293.0L289.0,293.0L288.0,293.0L287.0,293.0L286.0,293.0L285.0,293.0L284.0,293.0L283.0,293.0L282.0,293.0L281.0,293.0L280.0,293.0L279.0,293.0L278.0,293.0L277.0,293.0L276.0,293.0L275.0,293.0L274.0,293.0L273.0,293.0L272.0,293.0L271.0,293.0L270.0,293.0L269.0,293.0L268.0,293.0L267.0,293.0L266.0,293.0L265.0,293.0L264.0,293.0L263.0,293.0L262.0,293.0L261.0,293.0L260.0,293.0L259.0,293.0L258.0,293.0L257.0,293.0L256.0,293.0L255.0,293.0L254.0,293.0L253.0,293.0L252.0,293.0L251.0,293.0L250.0,293.0L249.0,293.0L248.0,293.0L247.0,293.0L246.0,293.0L245.0,293.0L244.0,293.0L243.0,293.0L242.0,293.0L241.0,293.0L240.0,293.0L239.0,293.0L238.0,293.0L237.0,293.0L236.0,293.0L235.0,293.0L234.0,293.0L233.0,293.0L232.0,293.0L231.0,293.0L230.0,293.0L229.0,293.0L228.0,293.0L227.0,293.0L226.0,293.0L225.0,293.0L224.0,293.0L223.0,293.0L222.0,293.0L221.0,293.0L220.0,293.0L219.0,293.0L218.0,293.0L217.0,293.0L216.0,293.0L215.0,293.0L214.0,293.0L213.0,293.0L212.0,293.0L211.0,293.0L210.0,293.0L209.0,293.0L208.0,293.0L207.0,293.0L206.0,293.0L205.0,293.0L204.0,293.0L203.0,293.0L202.0,293.0L201.0,293.0L200.0,293.0L199.0,293.0L198.0,293.0L197.0,293.0L196.0,293.0L195.0,293.0L194.0,293.0L193.0,293.0L192.0,293.0L191.0,293.0L190.0,293.0L189.0,293.0L188.0,293.0L187.0,293.0L186.0,293.0L185.0,293.0L184.0,293.0L183.0,293.0L182.0,293.0L181.0,293.0L180.0,293.0L179.0,293.0L178.0,293.0L177.0,293.0L176.0,293.0L175.0,293.0L174.0,293.0L173.0,293.0L172.0,293.0L171.0,293.0L170.0,293.0L169.0,293.0L168.0,293.0L167.0,293.0L166.0,293.0L165.0,293.0L164.0,293.0L163.0,293.0L162.0,293.0L161.0,293.0L160.0,293.0L159.0,293.0L158.0,293.0L157.0,293.0L156.0,293.0L155.0,293.0L154.0,293.0L153.0,293.0L152.0,293.0L151.0,293.0L150.0,293.0L149.0,293.0L148.0,293.0L147.0,293.0L146.0,293.0L145.0,293.0L144.0,293.0L143.0,293.0L142.0,293.0L141.0,293.0L140.0,293.0L139.0,293.0L138.0,293.0L137.0,293.0L136.0,293.0L135.0,293.0L134.0,293.0L133.0,293.0L132.0,293.0L131.0,293.0L130.0,293.0L129.0,293.0L128.0,293.0L127.0,293.0L126.0,293.0L125.0,293.0L124.0,293.0L123.0,293.0L122.0,293.0L121.0,293.0L120.0,293.0L119.0,293.0L118.0,293.0L117.0,293.0L116.0,293.0L115.0,293.0L114.0,293.0L113.0,293.0L112.0,293.0L111.0,293.0L110.0,293.0L109.0,293.0L108.0,293.0L107.0,293.0L106.0,293.0L105.0,293.0L104.0,293.0L103.0,293.0L102.0,293.0L101.0,293.0L100.0,293.0L99.0,293.0L98.0,293.0L97.0,293.0L96.0,293.0L95.0,293.0L94.0,293.0L93.0,293.0L92.0,293.0L91.0,293.0L90.0,293.0L89.0,293.0L88.0,293.0L87.0,293.0L86.0,293.0L85.0,293.0L84.0,293.0L83.0,293.0L82.0,293.0L81.0,293.0L80.0,293.0L79.0,293.0L78.0,293.0L77.0,293.0L76.0,293.0L75.0,293.0L74.0,293.0L73.0,293.0L72.0,293.0L71.0,293.0L70.0,293.0L69.0,293.0L68.0,293.0L67.0,293.0L67.0,292.0L67.0,291.0L67.0,290.0L67.0,289.0L67.0,288.0L67.0,287.0L67.0,286.4L67.4,287.0L68.0,287.6L68.4,288.0L69.0,288.5L69.6,289.0L70.0,289.3L71.0,289.9L71.2,290.0L72.0,290.5L73.0,290.9L73.5,291.0L74.0,291.1L75.0,291.3L76.0,291.3L77.0,291.2L77.5,291.0L78.0,290.9L79.0,290.3L79.5,290.0L80.0,289.6L80.6,289.0L81.0,288.4L81.3,288.0L81.7,287.0L82.0,286.0L82.0,286.0L82.2,285.0L82.2,284.0L82.2,283.0L82.1,282.0L82.0,281.7L81.9,281.0L81.8,280.0L81.7,279.0L81.7,278.0L81.9,277.0L82.0,276.7L82.3,276.0L83.0,275.0L83.0,275.0L83.9,274.0L84.0,273.8L84.8,273.0L85.0,272.7L85.7,272.0L86.0,271.5L86.4,271.0L86.8,270.0L87.0,269.0L86.9,268.0L86.6,267.0L86.0,266.1L85.9,266.0L85.0,265.0L85.0,265.0L84.0,264.2L83.8,264.0L83.0,263.4L82.7,263.0L82.1,262.0L82.0,261.9L81.6,261.0L81.4,260.0L81.3,259.0L81.4,258.0L81.9,257.0L82.0,256.9L82.9,256.0L83.0,255.9L84.0,255.4L85.0,255.0L85.2,255.0Z" fill="#fa3c3c" fill-rule="evenodd"/>
<pattern id="stp" width="8" height="4" patternUnits="userSpaceOnUse" y="0.5"><rect x="0" y="0" width="8" height="1" fill="#fff"/></pattern>
<mask id="stm"><rect x="69" y="67" width="229" height="224" fill="url(#stp)"/></mask>
<g mask="url(#stm)" opacity="0.55">
<path d="M248.0,65.0L249.0,65.0L250.0,65.0L251.0,65.0L252.0,65.0L253.0,65.0L254.0,65.0L255.0,65.0L256.0,65.0L257.0,65.0L258.0,65.0L259.0,65.0L260.0,65.0L261.0,65.0L262.0,65.0L263.0,65.0L264.0,65.0L265.0,65.0L266.0,65.0L267.0,65.0L268.0,65.0L269.0,65.0L270.0,65.0L271.0,65.0L271.6,65.0L272.0,65.5L272.4,66.0L273.0,66.8L273.2,67.0L274.0,68.0L274.0,68.1L274.7,69.0L275.0,69.3L275.5,70.0L276.0,70.7L276.2,71.0L276.8,72.0L277.0,72.8L277.1,73.0L277.1,74.0L277.0,74.4L276.9,75.0L276.4,76.0L276.0,76.6L275.8,77.0L275.2,78.0L275.0,78.3L274.6,79.0L274.1,80.0L274.0,80.2L273.7,81.0L273.3,82.0L273.1,83.0L273.0,83.5L272.9,84.0L272.6,85.0L272.0,85.6L271.0,86.0L270.8,86.0L270.0,86.2L269.0,86.3L268.0,86.4L267.0,86.5L266.0,86.6L265.0,86.6L264.0,86.6L263.0,86.5L262.0,86.5L261.0,86.4L260.0,86.4L259.0,86.3L258.0,86.3L257.0,86.2L256.0,86.1L255.4,86.0L255.0,85.9L254.0,85.7L253.0,85.4L252.0,85.1L251.9,85.0L251.0,84.5L250.4,84.0L250.0,83.7L249.4,83.0L249.0,82.3L248.9,82.0L248.6,81.0L248.4,80.0L248.4,79.0L248.5,78.0L248.6,77.0L248.7,76.0L248.7,75.0L248.7,74.0L248.6,73.0L248.5,72.0L248.3,71.0L248.0,70.0L248.0,69.9L247.8,69.0L247.5,68.0L247.3,67.0L247.2,66.0L247.1,65.0ZM287.0,65.0L288.0,65.0L289.0,65.0L290.0,65.0L291.0,65.0L292.0,65.0L293.0,65.0L294.0,65.0L295.0,65.0L296.0,65.0L297.0,65.0L298.0,65.0L299.0,65.0L300.0,65.0L300.0,66.0L300.0,67.0L300.0,68.0L300.0,69.0L300.0,70.0L300.0,71.0L300.0,72.0L300.0,73.0L300.0,74.0L300.0,75.0L300.0,76.0L300.0,77.0L300.0,78.0L300.0,79.0L300.0,80.0L300.0,81.0L300.0,82.0L300.0,83.0L300.0,84.0L300.0,85.0L300.0,86.0L300.0,87.0L300.0,88.0L300.0,89.0L300.0,90.0L300.0,91.0L300.0,92.0L300.0,93.0L300.0,94.0L300.0,95.0L300.0,96.0L300.0,97.0L300.0,98.0L300.0,99.0L300.0,100.0L300.0,101.0L300.0,102.0L300.0,102.3L299.0,102.7L298.1,103.0L298.0,103.0L297.0,103.3L296.0,103.6L295.0,103.8L294.0,104.0L293.7,104.0L293.0,104.1L292.0,104.1L291.0,104.1L290.0,104.1L289.0,104.2L288.0,104.1L287.0,104.1L286.2,104.0L286.0,104.0L285.0,103.8L284.0,103.4L283.0,103.0L282.9,103.0L282.0,102.5L281.0,102.0L281.0,102.0L280.0,101.2L279.8,101.0L279.0,100.0L279.0,99.9L278.6,99.0L278.2,98.0L278.0,97.2L277.9,97.0L277.6,96.0L277.2,95.0L277.0,94.6L276.7,94.0L276.1,93.0L276.0,92.7L275.6,92.0L275.1,91.0L275.0,90.8L274.7,90.0L274.3,89.0L274.1,88.0L274.2,87.0L275.0,86.3L275.7,86.0L276.0,85.9L277.0,85.7L278.0,85.4L279.0,85.2L279.6,85.0L280.0,84.9L281.0,84.5L281.8,84.0L282.0,83.9L283.0,83.0L283.0,83.0L283.8,82.0L284.0,81.6L284.3,81.0L284.5,80.0L284.4,79.0L284.1,78.0L284.0,77.8L283.6,77.0L283.2,76.0L283.0,75.6L282.7,75.0L282.5,74.0L282.6,73.0L282.9,72.0L283.0,71.8L283.4,71.0L284.0,70.2L284.1,70.0L284.8,69.0L285.0,68.6L285.4,68.0L286.0,67.0L286.0,66.9L286.5,66.0L286.9,65.0Z" fill="#8200dc" fill-rule="evenodd"/>
<path d="M210.0,65.0L211.0,65.0L212.0,65.0L213.0,65.0L214.0,65.0L215.0,65.0L216.0,65.0L217.0,65.0L218.0,65.0L219.0,65.0L220.0,65.0L221.0,65.0L222.0,65.0L223.0,65.0L224.0,65.0L225.0,65.0L226.0,65.0L227.0,65.0L228.0,65.0L229.0,65.0L230.0,65.0L231.0,65.0L232.0,65.0L233.0,65.0L234.0,65.0L235.0,65.0L236.0,65.0L237.0,65.0L238.0,65.0L239.0,65.0L240.0,65.0L241.0,65.0L242.0,65.0L243.0,65.0L244.0,65.0L245.0,65.0L246.0,65.0L247.0,65.0L247.1,65.0L247.2,66.0L247.3,67.0L247.5,68.0L247.8,69.0L248.0,69.9L248.0,70.0L248.3,71.0L248.5,72.0L248.6,73.0L248.7,74.0L248.7,75.0L248.7,76.0L248.6,77.0L248.5,78.0L248.4,79.0L248.4,80.0L248.6,81.0L248.9,82.0L249.0,82.3L249.4,83.0L250.0,83.7L250.4,84.0L251.0,84.5L251.9,85.0L252.0,85.1L253.0,85.4L254.0,85.7L255.0,85.9L255.4,86.0L256.0,86.1L257.0,86.2L258.0,86.3L259.0,86.3L260.0,86.4L261.0,86.4L262.0,86.5L263.0,86.5L264.0,86.6L265.0,86.6L266.0,86.6L267.0,86.5L268.0,86.4L269.0,86.3L270.0,86.2L270.8,86.0L271.0,86.0L272.0,85.6L272.6,85.0L272.9,84.0L273.0,83.5L273.1,83.0L273.3,82.0L273.7,81.0L274.0,80.2L274.1,80.0L274.6,79.0L275.0,78.3L275.2,78.0L275.8,77.0L276.0,76.6L276.4,76.0L276.9,75.0L277.0,74.4L277.1,74.0L277.1,73.0L277.0,72.8L276.8,72.0L276.2,71.0L276.0,70.7L275.5,70.0L275.0,69.3L274.7,69.0L274.0,68.1L274.0,68.0L273.2,67.0L273.0,66.8L272.4,66.0L272.0,65.5L271.6,65.0L272.0,65.0L273.0,65.0L274.0,65.0L275.0,65.0L276.0,65.0L277.0,65.0L278.0,65.0L279.0,65.0L280.0,65.0L281.0,65.0L282.0,65.0L283.0,65.0L284.0,65.0L285.0,65.0L286.0,65.0L286.9,65.0L286.5,66.0L286.0,66.9L286.0,67.0L285.4,68.0L285.0,68.6L284.8,69.0L284.1,70.0L284.0,70.2L283.4,71.0L283.0,71.8L282.9,72.0L282.6,73.0L282.5,74.0L282.7,75.0L283.0,75.6L283.2,76.0L283.6,77.0L284.0,77.8L284.1,78.0L284.4,79.0L284.5,80.0L284.3,81.0L284.0,81.6L283.8,82.0L283.0,83.0L283.0,83.0L282.0,83.9L281.8,84.0L281.0,84.5L280.0,84.9L279.6,85.0L279.0,85.2L278.0,85.4L277.0,85.7L276.0,85.9L275.7,86.0L275.0,86.3L274.2,87.0L274.1,88.0L274.3,89.0L274.7,90.0L275.0,90.8L275.1,91.0L275.6,92.0L276.0,92.7L276.1,93.0L276.7,94.0L277.0,94.6L277.2,95.0L277.6,96.0L277.9,97.0L278.0,97.2L278.2,98.0L278.6,99.0L279.0,99.9L279.0,100.0L279.8,101.0L280.0,101.2L281.0,102.0L281.0,102.0L282.0,102.5L282.9,103.0L283.0,103.0L284.0,103.4L285.0,103.8L286.0,104.0L286.2,104.0L287.0,104.1L288.0,104.1L289.0,104.2L290.0,104.1L291.0,104.1L292.0,104.1L293.0,104.1L293.7,104.0L294.0,104.0L295.0,103.8L296.0,103.6L297.0,103.3L298.0,103.0L298.1,103.0L299.0,102.7L300.0,102.3L300.0,103.0L300.0,104.0L300.0,105.0L300.0,106.0L300.0,107.0L300.0,108.0L300.0,109.0L300.0,110.0L300.0,111.0L300.0,112.0L300.0,113.0L300.0,114.0L300.0,115.0L300.0,116.0L300.0,117.0L300.0,118.0L300.0,119.0L300.0,120.0L300.0,120.4L299.0,120.6L298.0,120.7L297.0,120.8L296.0,120.8L295.0,120.8L294.0,120.8L293.0,120.7L292.0,120.7L291.0,120.7L290.0,120.6L289.0,120.4L288.0,120.2L287.3,120.0L287.0,119.9L286.0,119.5L285.1,119.0L285.0,118.9L284.0,118.2L283.7,118.0L283.0,117.4L282.6,117.0L282.0,116.3L281.7,116.0L281.0,115.2L280.9,115.0L280.0,114.0L280.0,113.9L279.1,113.0L279.0,112.9L278.0,112.1L277.9,112.0L277.0,111.6L276.0,111.2L275.0,111.0L274.7,111.0L274.0,110.9L273.0,110.8L272.0,110.8L271.0,110.8L270.0,110.9L269.0,111.0L268.8,111.0L268.0,111.1L267.0,111.3L266.0,111.4L265.0,111.6L264.0,111.8L263.0,111.9L262.4,112.0L262.0,112.1L261.0,112.2L260.0,112.4L259.0,112.5L258.0,112.7L257.0,112.9L256.0,112.9L255.0,112.9L254.0,112.6L253.0,112.1L252.9,112.0L252.0,111.1L251.9,111.0L251.4,110.0L251.0,109.0L251.0,109.0L250.9,108.0L250.9,107.0L250.9,106.0L250.9,105.0L250.8,104.0L250.7,103.0L250.5,102.0L250.0,101.0L250.0,100.9L249.5,100.0L249.0,99.4L248.7,99.0L248.0,98.3L247.7,98.0L247.0,97.4L246.6,97.0L246.0,96.5L245.4,96.0L245.0,95.7L244.1,95.0L244.0,94.9L243.0,94.0L243.0,94.0L242.0,93.1L241.9,93.0L241.0,92.1L240.9,92.0L240.0,91.1L239.9,91.0L239.1,90.0L239.0,89.9L238.3,89.0L238.0,88.6L237.6,88.0L237.0,87.1L237.0,87.0L236.3,86.0L236.0,85.3L235.8,85.0L235.3,84.0L235.0,83.3L234.9,83.0L234.4,82.0L234.1,81.0L234.0,80.8L233.7,80.0L233.3,79.0L233.0,78.0L233.0,78.0L232.5,77.0L232.0,76.2L231.7,76.0L231.0,75.5L230.0,75.5L229.0,75.8L228.8,76.0L228.0,76.5L227.4,77.0L227.0,77.3L226.2,78.0L226.0,78.1L225.1,79.0L225.0,79.1L224.0,80.0L224.0,80.0L223.0,81.0L223.0,81.0L222.1,82.0L222.0,82.1L221.1,83.0L221.0,83.2L220.2,84.0L220.0,84.2L219.3,85.0L219.0,85.4L218.4,86.0L218.0,86.5L217.6,87.0L217.0,87.7L216.7,88.0L216.0,89.0L216.0,89.0L215.3,90.0L215.0,90.5L214.6,91.0L214.1,92.0L214.0,92.2L213.5,93.0L213.0,94.0L213.0,94.0L212.2,95.0L212.0,95.2L211.0,95.8L210.0,95.8L209.0,95.0L209.0,95.0L208.9,94.0L208.9,93.0L209.0,92.6L209.1,92.0L209.3,91.0L209.4,90.0L209.5,89.0L209.5,88.0L209.5,87.0L209.5,86.0L209.4,85.0L209.3,84.0L209.1,83.0L209.0,82.0L209.0,81.0L209.1,80.0L209.2,79.0L209.3,78.0L209.4,77.0L209.4,76.0L209.4,75.0L209.4,74.0L209.4,73.0L209.3,72.0L209.2,71.0L209.1,70.0L209.0,69.0L209.0,69.0L209.0,68.0L209.0,67.0L209.0,67.0L209.3,66.0L209.6,65.0ZM204.0,163.8L205.0,163.7L205.7,164.0L206.0,164.2L206.5,165.0L206.9,166.0L207.0,166.6L207.1,167.0L207.0,167.5L206.8,168.0L206.0,168.6L205.0,169.0L204.0,169.0L203.0,168.6L202.4,168.0L202.0,167.0L202.1,166.0L202.5,165.0L203.0,164.4L203.6,164.0ZM212.0,163.9L213.0,163.6L213.7,164.0L214.0,164.4L214.1,165.0L214.0,166.0L214.0,166.0L213.4,167.0L213.0,167.4L212.0,167.8L211.0,167.7L210.3,167.0L210.5,166.0L211.0,165.0L211.0,165.0L211.9,164.0Z" fill="#1e3cff" fill-rule="evenodd"/>
<path d="M201.0,65.0L202.0,65.0L203.0,65.0L204.0,65.0L205.0,65.0L206.0,65.0L207.0,65.0L208.0,65.0L209.0,65.0L209.6,65.0L209.3,66.0L209.0,67.0L209.0,67.0L209.0,68.0L209.0,69.0L209.0,69.0L209.1,70.0L209.2,71.0L209.3,72.0L209.4,73.0L209.4,74.0L209.4,75.0L209.4,76.0L209.4,77.0L209.3,78.0L209.2,79.0L209.1,80.0L209.0,81.0L209.0,82.0L209.1,83.0L209.3,84.0L209.4,85.0L209.5,86.0L209.5,87.0L209.5,88.0L209.5,89.0L209.4,90.0L209.3,91.0L209.1,92.0L209.0,92.6L208.9,93.0L208.9,94.0L209.0,95.0L209.0,95.0L210.0,95.8L211.0,95.8L212.0,95.2L212.2,95.0L213.0,94.0L213.0,94.0L213.5,93.0L214.0,92.2L214.1,92.0L214.6,91.0L215.0,90.5L215.3,90.0L216.0,89.0L216.0,89.0L216.7,88.0L217.0,87.7L217.6,87.0L218.0,86.5L218.4,86.0L219.0,85.4L219.3,85.0L220.0,84.2L220.2,84.0L221.0,83.2L221.1,83.0L222.0,82.1L222.1,82.0L223.0,81.0L223.0,81.0L224.0,80.0L224.0,80.0L225.0,79.1L225.1,79.0L226.0,78.1L226.2,78.0L227.0,77.3L227.4,77.0L228.0,76.5L228.8,76.0L229.0,75.8L230.0,75.5L231.0,75.5L231.7,76.0L232.0,76.2L232.5,77.0L233.0,78.0L233.0,78.0L233.3,79.0L233.7,80.0L234.0,80.8L234.1,81.0L234.4,82.0L234.9,83.0L235.0,83.3L235.3,84.0L235.8,85.0L236.0,85.3L236.3,86.0L237.0,87.0L237.0,87.1L237.6,88.0L238.0,88.6L238.3,89.0L239.0,89.9L239.1,90.0L239.9,91.0L240.0,91.1L240.9,92.0L241.0,92.1L241.9,93.0L242.0,93.1L243.0,94.0L243.0,94.0L244.0,94.9L244.1,95.0L245.0,95.7L245.4,96.0L246.0,96.5L246.6,97.0L247.0,97.4L247.7,98.0L248.0,98.3L248.7,99.0L249.0,99.4L249.5,100.0L250.0,100.9L250.0,101.0L250.5,102.0L250.7,103.0L250.8,104.0L250.9,105.0L250.9,106.0L250.9,107.0L250.9,108.0L251.0,109.0L251.0,109.0L251.4,110.0L251.9,111.0L252.0,111.1L252.9,112.0L253.0,112.1L254.0,112.6L255.0,112.9L256.0,112.9L257.0,112.9L258.0,112.7L259.0,112.5L260.0,112.4L261.0,112.2L262.0,112.1L262.4,112.0L263.0,111.9L264.0,111.8L265.0,111.6L266.0,111.4L267.0,111.3L268.0,111.1L268.8,111.0L269.0,111.0L270.0,110.9L271.0,110.8L272.0,110.8L273.0,110.8L274.0,110.9L274.7,111.0L275.0,111.0L276.0,111.2L277.0,111.6L277.9,112.0L278.0,112.1L279.0,112.9L279.1,113.0L280.0,113.9L280.0,114.0L280.9,115.0L281.0,115.2L281.7,116.0L282.0,116.3L282.6,117.0L283.0,117.4L283.7,118.0L284.0,118.2L285.0,118.9L285.1,119.0L286.0,119.5L287.0,119.9L287.3,120.0L288.0,120.2L289.0,120.4L290.0,120.6L291.0,120.7L292.0,120.7L293.0,120.7L294.0,120.8L295.0,120.8L296.0,120.8L297.0,120.8L298.0,120.7L299.0,120.6L300.0,120.4L300.0,121.0L300.0,122.0L300.0,123.0L300.0,124.0L300.0,125.0L300.0,126.0L300.0,127.0L300.0,128.0L300.0,129.0L300.0,129.3L299.0,129.1L298.1,129.0L298.0,129.0L297.0,128.8L296.0,128.6L295.0,128.5L294.0,128.4L293.0,128.4L292.0,128.5L291.0,128.7L290.1,129.0L290.0,129.1L289.0,129.4L288.0,129.8L287.3,130.0L287.0,130.1L286.0,130.4L285.0,130.7L284.0,130.9L283.6,131.0L283.0,131.1L282.0,131.3L281.0,131.4L280.0,131.5L279.0,131.5L278.0,131.6L277.0,131.6L276.0,131.6L275.0,131.5L274.0,131.4L273.0,131.2L272.0,131.0L272.0,131.0L271.0,130.7L270.0,130.4L269.0,130.0L269.0,130.0L268.0,129.5L267.0,129.1L266.8,129.0L266.0,128.7L265.0,128.3L264.2,128.0L264.0,127.9L263.0,127.7L262.0,127.5L261.0,127.3L260.0,127.2L259.0,127.1L258.0,127.1L257.0,127.0L256.0,127.0L255.0,127.0L254.0,127.0L253.6,127.0L253.0,127.0L252.0,127.0L251.0,126.9L250.0,126.9L249.0,126.8L248.0,126.7L247.0,126.5L246.0,126.4L245.0,126.2L244.2,126.0L244.0,125.9L243.0,125.6L242.0,125.2L241.6,125.0L241.0,124.7L240.0,124.0L240.0,124.0L239.0,123.0L239.0,123.0L238.2,122.0L238.0,121.7L237.5,121.0L237.0,120.1L236.9,120.0L236.3,119.0L236.0,118.5L235.7,118.0L235.0,117.1L234.9,117.0L234.0,116.0L234.0,116.0L233.0,115.2L232.6,115.0L232.0,114.7L231.0,114.3L230.0,114.1L229.0,114.0L228.3,114.0L228.0,114.0L227.0,114.0L226.0,114.0L225.4,114.0L225.0,114.0L224.0,114.0L223.0,114.1L222.0,114.1L221.0,114.1L220.0,114.1L219.0,114.1L218.0,114.2L217.0,114.3L216.0,114.3L215.0,114.5L214.0,114.6L213.0,114.8L212.4,115.0L212.0,115.1L211.0,115.4L210.0,115.7L209.4,116.0L209.0,116.2L208.0,116.7L207.4,117.0L207.0,117.2L206.0,117.9L205.9,118.0L205.0,118.7L204.6,119.0L204.0,119.6L203.6,120.0L203.0,120.6L202.6,121.0L202.0,121.8L201.8,122.0L201.0,123.0L201.0,123.0L200.2,124.0L200.0,124.2L199.4,125.0L199.0,125.4L198.5,126.0L198.0,126.5L197.5,127.0L197.0,127.5L196.4,128.0L196.0,128.3L195.1,129.0L195.0,129.1L194.0,129.7L193.2,130.0L193.0,130.1L192.0,130.4L191.0,130.6L190.0,130.7L189.0,130.7L188.0,130.6L187.0,130.5L186.0,130.4L185.0,130.2L184.0,130.0L183.7,130.0L183.0,129.9L182.0,129.8L181.0,129.7L180.0,129.6L179.0,129.5L178.0,129.5L177.0,129.5L176.0,129.5L175.0,129.5L174.0,129.4L173.0,129.3L172.0,129.2L171.0,129.0L171.0,129.0L170.0,128.8L169.0,128.4L168.0,128.0L167.9,128.0L167.0,127.6L166.0,127.0L165.9,127.0L165.0,126.4L164.3,126.0L164.0,125.8L163.0,125.1L162.9,125.0L162.0,124.3L161.6,124.0L161.0,123.5L160.5,123.0L160.0,122.6L159.4,122.0L159.0,121.6L158.4,121.0L158.0,120.6L157.4,120.0L157.0,119.5L156.6,119.0L156.0,118.2L155.8,118.0L155.2,117.0L155.0,116.5L154.8,116.0L154.5,115.0L154.5,114.0L154.8,113.0L155.0,112.7L155.3,112.0L155.7,111.0L156.0,110.5L156.2,110.0L156.7,109.0L157.0,108.4L157.2,108.0L157.8,107.0L158.0,106.8L158.7,106.0L159.0,105.7L160.0,105.0L160.0,105.0L161.0,104.5L162.0,104.0L162.1,104.0L163.0,103.7L164.0,103.5L165.0,103.3L166.0,103.2L167.0,103.1L167.9,103.0L168.0,103.0L169.0,103.0L170.0,102.9L171.0,103.0L172.0,103.0L172.6,103.0L173.0,103.0L174.0,103.1L175.0,103.1L176.0,103.2L177.0,103.2L178.0,103.2L179.0,103.1L180.0,103.1L180.3,103.0L181.0,102.9L182.0,102.6L183.0,102.2L183.5,102.0L184.0,101.8L185.0,101.2L185.3,101.0L186.0,100.5L186.6,100.0L187.0,99.7L187.8,99.0L188.0,98.8L188.9,98.0L189.0,97.9L189.8,97.0L190.0,96.8L190.8,96.0L191.0,95.7L191.6,95.0L192.0,94.5L192.4,94.0L193.0,93.3L193.2,93.0L194.0,92.0L194.0,92.0L194.7,91.0L195.0,90.5L195.4,90.0L196.0,89.0L196.0,89.0L196.6,88.0L197.0,87.4L197.2,87.0L197.7,86.0L198.0,85.5L198.2,85.0L198.6,84.0L199.0,83.0L199.0,83.0L199.3,82.0L199.5,81.0L199.7,80.0L199.9,79.0L200.0,78.4L200.0,78.0L200.2,77.0L200.3,76.0L200.3,75.0L200.4,74.0L200.5,73.0L200.5,72.0L200.6,71.0L200.6,70.0L200.7,69.0L200.7,68.0L200.7,67.0L200.7,66.0L200.7,65.0ZM144.0,105.9L145.0,106.0L145.0,106.0L146.0,106.3L147.0,107.0L147.0,107.0L147.7,108.0L148.0,108.5L148.2,109.0L148.6,110.0L148.8,111.0L148.9,112.0L148.8,113.0L148.2,114.0L148.0,114.2L147.0,114.9L146.8,115.0L146.0,115.2L145.0,115.4L144.0,115.4L143.0,115.1L142.7,115.0L142.0,114.7L141.0,114.0L141.0,114.0L140.1,113.0L140.0,112.9L139.5,112.0L139.1,111.0L139.0,110.5L138.9,110.0L139.0,109.0L139.0,109.0L139.6,108.0L140.0,107.6L140.7,107.0L141.0,106.8L142.0,106.3L143.0,106.0L143.1,106.0ZM224.0,143.9L225.0,143.9L225.2,144.0L226.0,145.0L225.8,146.0L225.2,147.0L225.0,147.3L224.5,148.0L224.0,148.6L223.7,149.0L223.0,149.8L222.8,150.0L222.0,150.8L221.7,151.0L221.0,151.7L220.4,152.0L220.0,152.6L219.4,153.0L219.6,154.0L219.8,155.0L220.0,155.8L220.0,156.0L220.1,157.0L220.2,158.0L220.1,159.0L220.0,159.6L219.9,160.0L219.6,161.0L219.3,162.0L219.0,162.8L218.9,163.0L218.6,164.0L218.2,165.0L218.0,165.6L217.8,166.0L217.4,167.0L217.0,167.8L216.9,168.0L216.2,169.0L216.0,169.3L215.3,170.0L215.0,170.3L214.1,171.0L214.0,171.1L213.0,171.7L212.4,172.0L212.0,172.2L211.0,172.6L210.0,173.0L210.0,173.0L209.0,173.3L208.0,173.6L207.0,173.9L206.6,174.0L206.0,174.2L205.0,174.4L204.0,174.6L203.0,174.7L202.0,174.9L201.0,175.0L200.2,175.0L200.0,175.0L199.0,175.0L198.0,175.1L197.0,175.1L196.0,175.2L195.0,175.3L194.0,175.4L193.0,175.7L192.0,175.9L191.1,176.0L191.0,176.0L190.5,176.0L190.0,175.9L189.6,175.0L189.8,174.0L190.0,173.7L190.3,173.0L190.9,172.0L191.0,171.9L191.9,171.0L192.0,170.9L193.0,170.2L193.2,170.0L194.0,169.4L194.5,169.0L195.0,168.5L195.4,168.0L196.0,167.3L196.2,167.0L196.9,166.0L197.0,165.8L197.4,165.0L198.0,164.0L198.0,164.0L198.6,163.0L199.0,162.4L199.3,162.0L200.0,161.3L200.3,161.0L201.0,160.5L201.8,160.0L202.0,159.9L203.0,159.5L204.0,159.3L205.0,159.1L205.6,159.0L206.0,158.9L207.0,158.8L208.0,158.7L209.0,158.4L210.0,158.0L210.1,158.0L211.0,157.6L212.0,157.1L212.2,157.0L213.0,156.6L214.0,156.0L214.0,156.0L215.0,155.4L215.6,155.0L216.0,154.7L217.0,154.1L217.3,154.0L218.0,153.4L218.8,153.0L219.0,152.0L218.9,151.0L218.9,150.0L219.0,149.5L219.1,149.0L219.4,148.0L219.9,147.0L220.0,146.7L220.6,146.0L221.0,145.5L221.6,145.0L222.0,144.7L223.0,144.2L223.6,144.0ZM203.6,164.0L203.0,164.4L202.5,165.0L202.1,166.0L202.0,167.0L202.4,168.0L203.0,168.6L204.0,169.0L205.0,169.0L206.0,168.6L206.8,168.0L207.0,167.5L207.1,167.0L207.0,166.6L206.9,166.0L206.5,165.0L206.0,164.2L205.7,164.0L205.0,163.7L204.0,163.8ZM211.9,164.0L211.0,165.0L211.0,165.0L210.5,166.0L210.3,167.0L211.0,167.7L212.0,167.8L213.0,167.4L213.4,167.0L214.0,166.0L214.0,166.0L214.1,165.0L214.0,164.4L213.7,164.0L213.0,163.6L212.0,163.9ZM168.0,176.9L168.9,177.0L168.9,178.0L168.0,178.5L167.0,179.0L166.5,178.0L167.0,177.2L167.5,177.0ZM180.0,177.7L181.0,177.5L182.0,177.7L183.0,177.9L183.2,178.0L183.0,178.4L182.5,179.0L182.0,179.0L181.1,179.0L181.0,179.0L180.0,178.2L179.7,178.0Z" fill="#00a0ff" fill-rule="evenodd"/>
<path d="M93.0,65.0L94.0,65.0L95.0,65.0L96.0,65.0L97.0,65.0L98.0,65.0L99.0,65.0L100.0,65.0L101.0,65.0L101.4,65.0L101.0,65.3L100.0,65.9L99.8,66.0L99.0,66.4L98.0,66.8L97.0,67.0L96.0,66.8L95.0,66.4L94.2,66.0L94.0,65.9L93.0,65.0L93.0,65.0ZM191.0,65.0L192.0,65.0L193.0,65.0L194.0,65.0L195.0,65.0L196.0,65.0L197.0,65.0L198.0,65.0L199.0,65.0L200.0,65.0L200.7,65.0L200.7,66.0L200.7,67.0L200.7,68.0L200.7,69.0L200.6,70.0L200.6,71.0L200.5,72.0L200.5,73.0L200.4,74.0L200.3,75.0L200.3,76.0L200.2,77.0L200.0,78.0L200.0,78.4L199.9,79.0L199.7,80.0L199.5,81.0L199.3,82.0L199.0,83.0L199.0,83.0L198.6,84.0L198.2,85.0L198.0,85.5L197.7,86.0L197.2,87.0L197.0,87.4L196.6,88.0L196.0,89.0L196.0,89.0L195.4,90.0L195.0,90.5L194.7,91.0L194.0,92.0L194.0,92.0L193.2,93.0L193.0,93.3L192.4,94.0L192.0,94.5L191.6,95.0L191.0,95.7L190.8,96.0L190.0,96.8L189.8,97.0L189.0,97.9L188.9,98.0L188.0,98.8L187.8,99.0L187.0,99.7L186.6,100.0L186.0,100.5L185.3,101.0L185.0,101.2L184.0,101.8L183.5,102.0L183.0,102.2L182.0,102.6L181.0,102.9L180.3,103.0L180.0,103.1L179.0,103.1L178.0,103.2L177.0,103.2L176.0,103.2L175.0,103.1L174.0,103.1L173.0,103.0L172.6,103.0L172.0,103.0L171.0,103.0L170.0,102.9L169.0,103.0L168.0,103.0L167.9,103.0L167.0,103.1L166.0,103.2L165.0,103.3L164.0,103.5L163.0,103.7L162.1,104.0L162.0,104.0L161.0,104.5L160.0,105.0L160.0,105.0L159.0,105.7L158.7,106.0L158.0,106.8L157.8,107.0L157.2,108.0L157.0,108.4L156.7,109.0L156.2,110.0L156.0,110.5L155.7,111.0L155.3,112.0L155.0,112.7L154.8,113.0L154.5,114.0L154.5,115.0L154.8,116.0L155.0,116.5L155.2,117.0L155.8,118.0L156.0,118.2L156.6,119.0L157.0,119.5L157.4,120.0L158.0,120.6L158.4,121.0L159.0,121.6L159.4,122.0L160.0,122.6L160.5,123.0L161.0,123.5L161.6,124.0L162.0,124.3L162.9,125.0L163.0,125.1L164.0,125.8L164.3,126.0L165.0,126.4L165.9,127.0L166.0,127.0L167.0,127.6L167.9,128.0L168.0,128.0L169.0,128.4L170.0,128.8L171.0,129.0L171.0,129.0L172.0,129.2L173.0,129.3L174.0,129.4L175.0,129.5L176.0,129.5L177.0,129.5L178.0,129.5L179.0,129.5L180.0,129.6L181.0,129.7L182.0,129.8L183.0,129.9L183.7,130.0L184.0,130.0L185.0,130.2L186.0,130.4L187.0,130.5L188.0,130.6L189.0,130.7L190.0,130.7L191.0,130.6L192.0,130.4L193.0,130.1L193.2,130.0L194.0,129.7L195.0,129.1L195.1,129.0L196.0,128.3L196.4,128.0L197.0,127.5L197.5,127.0L198.0,126.5L198.5,126.0L199.0,125.4L199.4,125.0L200.0,124.2L200.2,124.0L201.0,123.0L201.0,123.0L201.8,122.0L202.0,121.8L202.6,121.0L203.0,120.6L203.6,120.0L204.0,119.6L204.6,119.0L205.0,118.7L205.9,118.0L206.0,117.9L207.0,117.2L207.4,117.0L208.0,116.7L209.0,116.2L209.4,116.0L210.0,115.7L211.0,115.4L212.0,115.1L212.4,115.0L213.0,114.8L214.0,114.6L215.0,114.5L216.0,114.3L217.0,114.3L218.0,114.2L219.0,114.1L220.0,114.1L221.0,114.1L222.0,114.1L223.0,114.1L224.0,114.0L225.0,114.0L225.4,114.0L226.0,114.0L227.0,114.0L228.0,114.0L228.3,114.0L229.0,114.0L230.0,114.1L231.0,114.3L232.0,114.7L232.6,115.0L233.0,115.2L234.0,116.0L234.0,116.0L234.9,117.0L235.0,117.1L235.7,118.0L236.0,118.5L236.3,119.0L236.9,120.0L237.0,120.1L237.5,121.0L238.0,121.7L238.2,122.0L239.0,123.0L239.0,123.0L240.0,124.0L240.0,124.0L241.0,124.7L241.6,125.0L242.0,125.2L243.0,125.6L244.0,125.9L244.2,126.0L245.0,126.2L246.0,126.4L247.0,126.5L248.0,126.7L249.0,126.8L250.0,126.9L251.0,126.9L252.0,127.0L253.0,127.0L253.6,127.0L254.0,127.0L255.0,127.0L256.0,127.0L257.0,127.0L258.0,127.1L259.0,127.1L260.0,127.2L261.0,127.3L262.0,127.5L263.0,127.7L264.0,127.9L264.2,128.0L265.0,128.3L266.0,128.7L266.8,129.0L267.0,129.1L268.0,129.5L269.0,130.0L269.0,130.0L270.0,130.4L271.0,130.7L272.0,131.0L272.0,131.0L273.0,131.2L274.0,131.4L275.0,131.5L276.0,131.6L277.0,131.6L278.0,131.6L279.0,131.5L280.0,131.5L281.0,131.4L282.0,131.3L283.0,131.1L283.6,131.0L284.0,130.9L285.0,130.7L286.0,130.4L287.0,130.1L287.3,130.0L288.0,129.8L289.0,129.4L290.0,129.1L290.1,129.0L291.0,128.7L292.0,128.5L293.0,128.4L294.0,128.4L295.0,128.5L296.0,128.6L297.0,128.8L298.0,129.0L298.1,129.0L299.0,129.1L300.0,129.3L300.0,130.0L300.0,131.0L300.0,132.0L300.0,133.0L300.0,134.0L300.0,135.0L300.0,136.0L300.0,137.0L300.0,138.0L300.0,139.0L300.0,140.0L300.0,141.0L300.0,142.0L300.0,143.0L300.0,143.1L299.0,143.4L298.0,143.7L297.0,143.9L296.8,144.0L296.0,144.3L295.0,144.6L294.0,144.9L293.9,145.0L293.0,145.3L292.0,145.8L291.5,146.0L291.0,146.3L290.0,146.8L289.7,147.0L289.0,147.5L288.3,148.0L288.0,148.2L287.0,149.0L287.0,149.0L286.0,149.9L285.9,150.0L285.0,150.7L284.7,151.0L284.0,151.5L283.4,152.0L283.0,152.2L282.0,152.8L281.5,153.0L281.0,153.2L280.0,153.4L279.0,153.5L278.0,153.4L277.0,153.0L276.9,153.0L276.0,152.5L275.2,152.0L275.0,151.9L274.0,151.1L273.9,151.0L273.0,150.2L272.8,150.0L272.0,149.2L271.8,149.0L271.0,148.2L270.8,148.0L270.0,147.2L269.7,147.0L269.0,146.3L268.7,146.0L268.0,145.4L267.6,145.0L267.0,144.5L266.5,144.0L266.0,143.6L265.3,143.0L265.0,142.7L264.2,142.0L264.0,141.8L263.1,141.0L263.0,140.9L262.1,140.0L262.0,139.9L261.1,139.0L261.0,138.9L260.1,138.0L260.0,137.9L259.1,137.0L259.0,136.9L258.0,136.0L258.0,136.0L257.0,135.3L256.5,135.0L256.0,134.7L255.0,134.2L254.5,134.0L254.0,133.8L253.0,133.6L252.0,133.4L251.0,133.4L250.0,133.4L249.0,133.6L248.0,133.9L247.7,134.0L247.0,134.3L246.0,134.9L245.8,135.0L245.0,135.7L244.6,136.0L244.0,136.7L243.7,137.0L243.0,138.0L243.0,138.0L242.4,139.0L242.0,139.7L241.8,140.0L241.3,141.0L241.0,141.6L240.8,142.0L240.3,143.0L240.0,143.7L239.8,144.0L239.4,145.0L239.0,145.7L238.8,146.0L238.3,147.0L238.0,147.5L237.7,148.0L237.0,149.0L237.0,149.0L236.2,150.0L236.0,150.2L235.2,151.0L235.0,151.1L234.0,151.9L233.9,152.0L233.0,152.6L232.4,153.0L232.0,153.2L231.0,153.9L230.8,154.0L230.0,154.5L229.3,155.0L229.0,155.2L228.0,156.0L228.0,156.0L227.0,156.9L226.9,157.0L226.0,158.0L226.0,158.0L225.2,159.0L225.0,159.3L224.5,160.0L224.0,160.6L223.7,161.0L223.0,162.0L223.0,162.0L222.3,163.0L222.0,163.5L221.8,164.0L221.3,165.0L221.0,165.7L220.9,166.0L220.5,167.0L220.1,168.0L220.0,168.2L219.6,169.0L219.0,170.0L219.0,170.0L218.3,171.0L218.0,171.3L217.4,172.0L217.0,172.4L216.3,173.0L216.0,173.3L215.1,174.0L215.0,174.1L214.0,174.7L213.5,175.0L213.0,175.3L212.0,175.8L211.5,176.0L211.0,176.2L210.0,176.7L209.1,177.0L209.0,177.1L208.0,177.4L207.0,177.8L206.5,178.0L206.0,178.2L205.0,178.6L204.0,179.0L203.9,179.0L203.0,179.3L202.0,179.7L201.1,180.0L201.0,180.0L200.0,180.4L199.0,180.8L198.5,181.0L198.0,181.3L197.0,181.9L196.8,182.0L196.0,182.6L195.6,183.0L195.0,183.6L194.6,184.0L194.0,184.6L193.7,185.0L193.0,185.7L192.7,186.0L192.0,186.6L191.4,187.0L191.0,187.3L190.0,187.8L189.2,188.0L189.0,188.1L188.0,188.2L187.0,188.2L186.0,188.1L185.6,188.0L185.0,187.8L184.0,187.4L183.1,187.0L183.0,187.0L182.0,186.4L181.2,186.0L181.0,185.9L180.0,185.4L179.2,185.0L179.0,184.9L178.0,184.4L177.3,184.0L177.0,183.9L176.0,183.4L175.1,183.0L175.0,183.0L174.0,182.6L173.0,182.3L172.0,182.2L171.0,182.1L170.0,182.2L169.0,182.4L168.0,182.7L167.2,183.0L167.0,183.1L166.0,183.4L165.0,183.6L164.0,183.6L163.0,183.4L162.3,183.0L162.0,182.8L161.4,182.0L161.0,181.4L160.8,181.0L160.5,180.0L160.3,179.0L160.2,178.0L160.2,177.0L160.3,176.0L160.5,175.0L160.9,174.0L161.0,173.9L161.6,173.0L162.0,172.5L162.5,172.0L163.0,171.6L164.0,171.1L164.2,171.0L165.0,170.7L166.0,170.4L167.0,170.3L168.0,170.1L169.0,170.0L170.0,170.0L170.0,170.0L171.0,170.0L171.3,170.0L172.0,170.0L173.0,170.1L174.0,170.2L175.0,170.3L176.0,170.5L177.0,170.6L178.0,170.8L179.0,170.9L180.0,170.9L181.0,170.9L182.0,170.8L183.0,170.6L184.0,170.3L184.6,170.0L185.0,169.8L186.0,169.2L186.3,169.0L187.0,168.5L187.6,168.0L188.0,167.7L188.8,167.0L189.0,166.8L189.9,166.0L190.0,165.9L191.0,165.0L191.0,165.0L192.0,164.0L192.0,164.0L192.8,163.0L193.0,162.6L193.4,162.0L193.9,161.0L194.0,160.9L194.5,160.0L195.0,159.2L195.2,159.0L196.0,158.0L196.0,158.0L197.0,157.1L197.1,157.0L198.0,156.4L198.7,156.0L199.0,155.8L200.0,155.4L201.0,155.1L201.6,155.0L202.0,154.9L203.0,154.8L204.0,154.7L205.0,154.6L206.0,154.5L207.0,154.4L208.0,154.2L208.5,154.0L209.0,153.8L210.0,153.3L210.4,153.0L211.0,152.5L211.5,152.0L212.0,151.2L212.2,151.0L212.6,150.0L212.9,149.0L213.0,148.4L213.1,148.0L213.2,147.0L213.3,146.0L213.3,145.0L213.4,144.0L213.4,143.0L213.5,142.0L213.5,141.0L213.6,140.0L213.6,139.0L213.7,138.0L213.7,137.0L213.8,136.0L213.8,135.0L213.7,134.0L213.2,133.0L213.0,132.9L212.0,132.7L211.0,132.9L210.7,133.0L210.0,133.2L209.0,133.6L208.1,134.0L208.0,134.1L207.0,134.6L206.3,135.0L206.0,135.2L205.0,135.8L204.7,136.0L204.0,136.5L203.2,137.0L203.0,137.2L202.0,137.9L201.8,138.0L201.0,138.6L200.4,139.0L200.0,139.3L199.0,140.0L198.9,140.0L198.0,140.6L197.3,141.0L197.0,141.1L196.0,141.6L195.2,142.0L195.0,142.1L194.0,142.5L193.0,142.8L192.3,143.0L192.0,143.1L191.0,143.4L190.0,143.6L189.0,143.8L188.0,143.9L187.5,144.0L187.0,144.1L186.0,144.1L185.0,144.1L184.0,144.1L183.0,144.0L183.0,144.0L182.0,143.9L181.0,143.8L180.0,143.7L179.0,143.7L178.0,143.6L177.0,143.6L176.0,143.6L175.0,143.6L174.0,143.6L173.0,143.6L172.0,143.6L171.0,143.5L170.0,143.5L169.0,143.4L168.0,143.2L167.3,143.0L167.0,142.9L166.0,142.6L165.0,142.1L164.8,142.0L164.0,141.5L163.3,141.0L163.0,140.8L162.1,140.0L162.0,139.9L161.1,139.0L161.0,138.9L160.2,138.0L160.0,137.8L159.3,137.0L159.0,136.6L158.4,136.0L158.0,135.5L157.5,135.0L157.0,134.6L156.3,134.0L156.0,133.8L155.0,133.1L154.9,133.0L154.0,132.5L153.0,132.0L152.9,132.0L152.0,131.7L151.0,131.4L150.0,131.2L149.0,131.1L148.1,131.0L148.0,131.0L147.0,130.9L146.0,130.9L145.0,130.9L144.0,130.9L143.0,130.9L142.0,130.8L141.0,130.8L140.0,130.6L139.0,130.4L138.0,130.1L137.7,130.0L137.0,129.7L136.2,129.0L136.0,128.8L135.5,128.0L135.1,127.0L135.0,126.8L134.8,126.0L134.6,125.0L134.5,124.0L134.3,123.0L134.2,122.0L134.2,121.0L134.1,120.0L134.0,119.0L134.0,118.7L134.0,118.0L133.9,117.0L133.9,116.0L133.9,115.0L133.9,114.0L133.9,113.0L134.0,112.0L134.0,112.0L134.1,111.0L134.2,110.0L134.4,109.0L134.6,108.0L134.9,107.0L135.0,106.8L135.3,106.0L135.7,105.0L136.0,104.5L136.3,104.0L136.9,103.0L137.0,102.8L137.6,102.0L138.0,101.4L138.3,101.0L139.0,100.2L139.2,100.0L140.0,99.0L140.0,99.0L141.0,98.0L141.0,98.0L141.9,97.0L142.0,96.9L142.8,96.0L143.0,95.8L143.8,95.0L144.0,94.8L144.8,94.0L145.0,93.8L145.9,93.0L146.0,92.9L147.0,92.1L147.2,92.0L148.0,91.5L149.0,91.0L149.0,91.0L150.0,90.7L151.0,90.5L152.0,90.4L153.0,90.4L154.0,90.6L155.0,90.9L155.4,91.0L156.0,91.2L157.0,91.7L157.6,92.0L158.0,92.2L159.0,92.8L159.3,93.0L160.0,93.4L161.0,94.0L161.0,94.0L162.0,94.5L163.0,95.0L163.0,95.0L164.0,95.4L165.0,95.7L166.0,95.9L167.0,95.9L168.0,95.8L169.0,95.5L170.0,95.1L170.3,95.0L171.0,94.6L172.0,94.0L172.1,94.0L173.0,93.3L173.4,93.0L174.0,92.4L174.4,92.0L175.0,91.4L175.3,91.0L176.0,90.2L176.1,90.0L176.8,89.0L177.0,88.7L177.4,88.0L178.0,87.0L178.0,86.9L178.5,86.0L178.9,85.0L179.0,84.8L179.4,84.0L179.8,83.0L180.0,82.7L180.4,82.0L181.0,81.0L181.0,81.0L182.0,80.1L182.2,80.0L183.0,79.5L183.8,79.0L184.0,78.9L185.0,78.3L185.5,78.0L186.0,77.6L186.9,77.0L187.0,76.9L187.9,76.0L188.0,75.9L188.6,75.0L189.0,74.4L189.2,74.0L189.7,73.0L190.0,72.1L190.0,72.0L190.3,71.0L190.5,70.0L190.7,69.0L190.7,68.0L190.7,67.0L190.5,66.0L190.2,65.0ZM143.1,106.0L143.0,106.0L142.0,106.3L141.0,106.8L140.7,107.0L140.0,107.6L139.6,108.0L139.0,109.0L139.0,109.0L138.9,110.0L139.0,110.5L139.1,111.0L139.5,112.0L140.0,112.9L140.1,113.0L141.0,114.0L141.0,114.0L142.0,114.7L142.7,115.0L143.0,115.1L144.0,115.4L145.0,115.4L146.0,115.2L146.8,115.0L147.0,114.9L148.0,114.2L148.2,114.0L148.8,113.0L148.9,112.0L148.8,111.0L148.6,110.0L148.2,109.0L148.0,108.5L147.7,108.0L147.0,107.0L147.0,107.0L146.0,106.3L145.0,106.0L145.0,106.0L144.0,105.9ZM223.6,144.0L223.0,144.2L222.0,144.7L221.6,145.0L221.0,145.5L220.6,146.0L220.0,146.7L219.9,147.0L219.4,148.0L219.1,149.0L219.0,149.5L218.9,150.0L218.9,151.0L219.0,152.0L218.8,153.0L218.0,153.4L217.3,154.0L217.0,154.1L216.0,154.7L215.6,155.0L215.0,155.4L214.0,156.0L214.0,156.0L213.0,156.6L212.2,157.0L212.0,157.1L211.0,157.6L210.1,158.0L210.0,158.0L209.0,158.4L208.0,158.7L207.0,158.8L206.0,158.9L205.6,159.0L205.0,159.1L204.0,159.3L203.0,159.5L202.0,159.9L201.8,160.0L201.0,160.5L200.3,161.0L200.0,161.3L199.3,162.0L199.0,162.4L198.6,163.0L198.0,164.0L198.0,164.0L197.4,165.0L197.0,165.8L196.9,166.0L196.2,167.0L196.0,167.3L195.4,168.0L195.0,168.5L194.5,169.0L194.0,169.4L193.2,170.0L193.0,170.2L192.0,170.9L191.9,171.0L191.0,171.9L190.9,172.0L190.3,173.0L190.0,173.7L189.8,174.0L189.6,175.0L190.0,175.9L190.5,176.0L191.0,176.0L191.1,176.0L192.0,175.9L193.0,175.7L194.0,175.4L195.0,175.3L196.0,175.2L197.0,175.1L198.0,175.1L199.0,175.0L200.0,175.0L200.2,175.0L201.0,175.0L202.0,174.9L203.0,174.7L204.0,174.6L205.0,174.4L206.0,174.2L206.6,174.0L207.0,173.9L208.0,173.6L209.0,173.3L210.0,173.0L210.0,173.0L211.0,172.6L212.0,172.2L212.4,172.0L213.0,171.7L214.0,171.1L214.1,171.0L215.0,170.3L215.3,170.0L216.0,169.3L216.2,169.0L216.9,168.0L217.0,167.8L217.4,167.0L217.8,166.0L218.0,165.6L218.2,165.0L218.6,164.0L218.9,163.0L219.0,162.8L219.3,162.0L219.6,161.0L219.9,160.0L220.0,159.6L220.1,159.0L220.2,158.0L220.1,157.0L220.0,156.0L220.0,155.8L219.8,155.0L219.6,154.0L219.4,153.0L220.0,152.6L220.4,152.0L221.0,151.7L221.7,151.0L222.0,150.8L222.8,150.0L223.0,149.8L223.7,149.0L224.0,148.6L224.5,148.0L225.0,147.3L225.2,147.0L225.8,146.0L226.0,145.0L225.2,144.0L225.0,143.9L224.0,143.9ZM167.5,177.0L167.0,177.2L166.5,178.0L167.0,179.0L168.0,178.5L168.9,178.0L168.9,177.0L168.0,176.9ZM179.7,178.0L180.0,178.2L181.0,179.0L181.1,179.0L182.0,179.0L182.5,179.0L183.0,178.4L183.2,178.0L183.0,177.9L182.0,177.7L181.0,177.5L180.0,177.7Z" fill="#00c8c8" fill-rule="evenodd"/>
<path d="M68.0,65.0L69.0,65.0L70.0,65.0L71.0,65.0L72.0,65.0L73.0,65.0L74.0,65.0L75.0,65.0L76.0,65.0L77.0,65.0L78.0,65.0L79.0,65.0L80.0,65.0L81.0,65.0L82.0,65.0L83.0,65.0L84.0,65.0L85.0,65.0L86.0,65.0L87.0,65.0L88.0,65.0L89.0,65.0L90.0,65.0L91.0,65.0L92.0,65.0L93.0,65.0L93.0,65.0L94.0,65.9L94.2,66.0L95.0,66.4L96.0,66.8L97.0,67.0L98.0,66.8L99.0,66.4L99.8,66.0L100.0,65.9L101.0,65.3L101.4,65.0L102.0,65.0L103.0,65.0L104.0,65.0L105.0,65.0L106.0,65.0L107.0,65.0L108.0,65.0L109.0,65.0L110.0,65.0L111.0,65.0L112.0,65.0L113.0,65.0L114.0,65.0L115.0,65.0L116.0,65.0L117.0,65.0L118.0,65.0L119.0,65.0L120.0,65.0L121.0,65.0L122.0,65.0L123.0,65.0L124.0,65.0L125.0,65.0L126.0,65.0L127.0,65.0L128.0,65.0L129.0,65.0L130.0,65.0L131.0,65.0L132.0,65.0L133.0,65.0L134.0,65.0L135.0,65.0L136.0,65.0L137.0,65.0L138.0,65.0L139.0,65.0L140.0,65.0L141.0,65.0L142.0,65.0L143.0,65.0L144.0,65.0L145.0,65.0L146.0,65.0L147.0,65.0L148.0,65.0L149.0,65.0L150.0,65.0L151.0,65.0L152.0,65.0L153.0,65.0L154.0,65.0L155.0,65.0L156.0,65.0L157.0,65.0L158.0,65.0L159.0,65.0L160.0,65.0L161.0,65.0L162.0,65.0L163.0,65.0L164.0,65.0L165.0,65.0L166.0,65.0L167.0,65.0L168.0,65.0L169.0,65.0L170.0,65.0L171.0,65.0L172.0,65.0L173.0,65.0L174.0,65.0L175.0,65.0L176.0,65.0L177.0,65.0L178.0,65.0L179.0,65.0L180.0,65.0L181.0,65.0L182.0,65.0L183.0,65.0L184.0,65.0L185.0,65.0L186.0,65.0L187.0,65.0L188.0,65.0L189.0,65.0L190.0,65.0L190.2,65.0L190.5,66.0L190.7,67.0L190.7,68.0L190.7,69.0L190.5,70.0L190.3,71.0L190.0,72.0L190.0,72.1L189.7,73.0L189.2,74.0L189.0,74.4L188.6,75.0L188.0,75.9L187.9,76.0L187.0,76.9L186.9,77.0L186.0,77.6L185.5,78.0L185.0,78.3L184.0,78.9L183.8,79.0L183.0,79.5L182.2,80.0L182.0,80.1L181.0,81.0L181.0,81.0L180.4,82.0L180.0,82.7L179.8,83.0L179.4,84.0L179.0,84.8L178.9,85.0L178.5,86.0L178.0,86.9L178.0,87.0L177.4,88.0L177.0,88.7L176.8,89.0L176.1,90.0L176.0,90.2L175.3,91.0L175.0,91.4L174.4,92.0L174.0,92.4L173.4,93.0L173.0,93.3L172.1,94.0L172.0,94.0L171.0,94.6L170.3,95.0L170.0,95.1L169.0,95.5L168.0,95.8L167.0,95.9L166.0,95.9L165.0,95.7L164.0,95.4L163.0,95.0L163.0,95.0L162.0,94.5L161.0,94.0L161.0,94.0L160.0,93.4L159.3,93.0L159.0,92.8L158.0,92.2L157.6,92.0L157.0,91.7L156.0,91.2L155.4,91.0L155.0,90.9L154.0,90.6L153.0,90.4L152.0,90.4L151.0,90.5L150.0,90.7L149.0,91.0L149.0,91.0L148.0,91.5L147.2,92.0L147.0,92.1L146.0,92.9L145.9,93.0L145.0,93.8L144.8,94.0L144.0,94.8L143.8,95.0L143.0,95.8L142.8,96.0L142.0,96.9L141.9,97.0L141.0,98.0L141.0,98.0L140.0,99.0L140.0,99.0L139.2,100.0L139.0,100.2L138.3,101.0L138.0,101.4L137.6,102.0L137.0,102.8L136.9,103.0L136.3,104.0L136.0,104.5L135.7,105.0L135.3,106.0L135.0,106.8L134.9,107.0L134.6,108.0L134.4,109.0L134.2,110.0L134.1,111.0L134.0,112.0L134.0,112.0L133.9,113.0L133.9,114.0L133.9,115.0L133.9,116.0L133.9,117.0L134.0,118.0L134.0,118.7L134.0,119.0L134.1,120.0L134.2,121.0L134.2,122.0L134.3,123.0L134.5,124.0L134.6,125.0L134.8,126.0L135.0,126.8L135.1,127.0L135.5,128.0L136.0,128.8L136.2,129.0L137.0,129.7L137.7,130.0L138.0,130.1L139.0,130.4L140.0,130.6L141.0,130.8L142.0,130.8L143.0,130.9L144.0,130.9L145.0,130.9L146.0,130.9L147.0,130.9L148.0,131.0L148.1,131.0L149.0,131.1L150.0,131.2L151.0,131.4L152.0,131.7L152.9,132.0L153.0,132.0L154.0,132.5L154.9,133.0L155.0,133.1L156.0,133.8L156.3,134.0L157.0,134.6L157.5,135.0L158.0,135.5L158.4,136.0L159.0,136.6L159.3,137.0L160.0,137.8L160.2,138.0L161.0,138.9L161.1,139.0L162.0,139.9L162.1,140.0L163.0,140.8L163.3,141.0L164.0,141.5L164.8,142.0L165.0,142.1L166.0,142.6L167.0,142.9L167.3,143.0L168.0,143.2L169.0,143.4L170.0,143.5L171.0,143.5L172.0,143.6L173.0,143.6L174.0,143.6L175.0,143.6L176.0,143.6L177.0,143.6L178.0,143.6L179.0,143.7L180.0,143.7L181.0,143.8L182.0,143.9L183.0,144.0L183.0,144.0L184.0,144.1L185.0,144.1L186.0,144.1L187.0,144.1L187.5,144.0L188.0,143.9L189.0,143.8L190.0,143.6L191.0,143.4L192.0,143.1L192.3,143.0L193.0,142.8L194.0,142.5L195.0,142.1L195.2,142.0L196.0,141.6L197.0,141.1L197.3,141.0L198.0,140.6L198.9,140.0L199.0,140.0L200.0,139.3L200.4,139.0L201.0,138.6L201.8,138.0L202.0,137.9L203.0,137.2L203.2,137.0L204.0,136.5L204.7,136.0L205.0,135.8L206.0,135.2L206.3,135.0L207.0,134.6L208.0,134.1L208.1,134.0L209.0,133.6L210.0,133.2L210.7,133.0L211.0,132.9L212.0,132.7L213.0,132.9L213.2,133.0L213.7,134.0L213.8,135.0L213.8,136.0L213.7,137.0L213.7,138.0L213.6,139.0L213.6,140.0L213.5,141.0L213.5,142.0L213.4,143.0L213.4,144.0L213.3,145.0L213.3,146.0L213.2,147.0L213.1,148.0L213.0,148.4L212.9,149.0L212.6,150.0L212.2,151.0L212.0,151.2L211.5,152.0L211.0,152.5L210.4,153.0L210.0,153.3L209.0,153.8L208.5,154.0L208.0,154.2L207.0,154.4L206.0,154.5L205.0,154.6L204.0,154.7L203.0,154.8L202.0,154.9L201.6,155.0L201.0,155.1L200.0,155.4L199.0,155.8L198.7,156.0L198.0,156.4L197.1,157.0L197.0,157.1L196.0,158.0L196.0,158.0L195.2,159.0L195.0,159.2L194.5,160.0L194.0,160.9L193.9,161.0L193.4,162.0L193.0,162.6L192.8,163.0L192.0,164.0L192.0,164.0L191.0,165.0L191.0,165.0L190.0,165.9L189.9,166.0L189.0,166.8L188.8,167.0L188.0,167.7L187.6,168.0L187.0,168.5L186.3,169.0L186.0,169.2L185.0,169.8L184.6,170.0L184.0,170.3L183.0,170.6L182.0,170.8L181.0,170.9L180.0,170.9L179.0,170.9L178.0,170.8L177.0,170.6L176.0,170.5L175.0,170.3L174.0,170.2L173.0,170.1L172.0,170.0L171.3,170.0L171.0,170.0L170.0,170.0L170.0,170.0L169.0,170.0L168.0,170.1L167.0,170.3L166.0,170.4L165.0,170.7L164.2,171.0L164.0,171.1L163.0,171.6L162.5,172.0L162.0,172.5L161.6,173.0L161.0,173.9L160.9,174.0L160.5,175.0L160.3,176.0L160.2,177.0L160.2,178.0L160.3,179.0L160.5,180.0L160.8,181.0L161.0,181.4L161.4,182.0L162.0,182.8L162.3,183.0L163.0,183.4L164.0,183.6L165.0,183.6L166.0,183.4L167.0,183.1L167.2,183.0L168.0,182.7L169.0,182.4L170.0,182.2L171.0,182.1L172.0,182.2L173.0,182.3L174.0,182.6L175.0,183.0L175.1,183.0L176.0,183.4L177.0,183.9L177.3,184.0L178.0,184.4L179.0,184.9L179.2,185.0L180.0,185.4L181.0,185.9L181.2,186.0L182.0,186.4L183.0,187.0L183.1,187.0L184.0,187.4L185.0,187.8L185.6,188.0L186.0,188.1L187.0,188.2L188.0,188.2L189.0,188.1L189.2,188.0L190.0,187.8L191.0,187.3L191.4,187.0L192.0,186.6L192.7,186.0L193.0,185.7L193.7,185.0L194.0,184.6L194.6,184.0L195.0,183.6L195.6,183.0L196.0,182.6L196.8,182.0L197.0,181.9L198.0,181.3L198.5,181.0L199.0,180.8L200.0,180.4L201.0,180.0L201.1,180.0L202.0,179.7L203.0,179.3L203.9,179.0L204.0,179.0L205.0,178.6L206.0,178.2L206.5,178.0L207.0,177.8L208.0,177.4L209.0,177.1L209.1,177.0L210.0,176.7L211.0,176.2L211.5,176.0L212.0,175.8L213.0,175.3L213.5,175.0L214.0,174.7L215.0,174.1L215.1,174.0L216.0,173.3L216.3,173.0L217.0,172.4L217.4,172.0L218.0,171.3L218.3,171.0L219.0,170.0L219.0,170.0L219.6,169.0L220.0,168.2L220.1,168.0L220.5,167.0L220.9,166.0L221.0,165.7L221.3,165.0L221.8,164.0L222.0,163.5L222.3,163.0L223.0,162.0L223.0,162.0L223.7,161.0L224.0,160.6L224.5,160.0L225.0,159.3L225.2,159.0L226.0,158.0L226.0,158.0L226.9,157.0L227.0,156.9L228.0,156.0L228.0,156.0L229.0,155.2L229.3,155.0L230.0,154.5L230.8,154.0L231.0,153.9L232.0,153.2L232.4,153.0L233.0,152.6L233.9,152.0L234.0,151.9L235.0,151.1L235.2,151.0L236.0,150.2L236.2,150.0L237.0,149.0L237.0,149.0L237.7,148.0L238.0,147.5L238.3,147.0L238.8,146.0L239.0,145.7L239.4,145.0L239.8,144.0L240.0,143.7L240.3,143.0L240.8,142.0L241.0,141.6L241.3,141.0L241.8,140.0L242.0,139.7L242.4,139.0L243.0,138.0L243.0,138.0L243.7,137.0L244.0,136.7L244.6,136.0L245.0,135.7L245.8,135.0L246.0,134.9L247.0,134.3L247.7,134.0L248.0,133.9L249.0,133.6L250.0,133.4L251.0,133.4L252.0,133.4L253.0,133.6L254.0,133.8L254.5,134.0L255.0,134.2L256.0,134.7L256.5,135.0L257.0,135.3L258.0,136.0L258.0,136.0L259.0,136.9L259.1,137.0L260.0,137.9L260.1,138.0L261.0,138.9L261.1,139.0L262.0,139.9L262.1,140.0L263.0,140.9L263.1,141.0L264.0,141.8L264.2,142.0L265.0,142.7L265.3,143.0L266.0,143.6L266.5,144.0L267.0,144.5L267.6,145.0L268.0,145.4L268.7,146.0L269.0,146.3L269.7,147.0L270.0,147.2L270.8,148.0L271.0,148.2L271.8,149.0L272.0,149.2L272.8,150.0L273.0,150.2L273.9,151.0L274.0,151.1L275.0,151.9L275.2,152.0L276.0,152.5L276.9,153.0L277.0,153.0L278.0,153.4L279.0,153.5L280.0,153.4L281.0,153.2L281.5,153.0L282.0,152.8L283.0,152.2L283.4,152.0L284.0,151.5L284.7,151.0L285.0,150.7L285.9,150.0L286.0,149.9L287.0,149.0L287.0,149.0L288.0,148.2L288.3,148.0L289.0,147.5L289.7,147.0L290.0,146.8L291.0,146.3L291.5,146.0L292.0,145.8L293.0,145.3L293.9,145.0L294.0,144.9L295.0,144.6L296.0,144.3L296.8,144.0L297.0,143.9L298.0,143.7L299.0,143.4L300.0,143.1L300.0,144.0L300.0,145.0L300.0,146.0L300.0,147.0L300.0,148.0L300.0,149.0L300.0,150.0L300.0,151.0L300.0,152.0L300.0,153.0L300.0,154.0L300.0,155.0L300.0,156.0L300.0,156.0L299.0,156.2L298.0,156.5L297.0,156.8L296.5,157.0L296.0,157.2L295.0,157.7L294.5,158.0L294.0,158.3L293.0,158.9L292.9,159.0L292.0,159.7L291.6,160.0L291.0,160.5L290.4,161.0L290.0,161.3L289.2,162.0L289.0,162.2L288.1,163.0L288.0,163.1L287.0,164.0L287.0,164.0L286.0,164.8L285.6,165.0L285.0,165.4L284.0,166.0L283.9,166.0L283.0,166.4L282.0,166.7L281.0,166.8L280.0,166.7L279.0,166.6L278.0,166.2L277.6,166.0L277.0,165.7L276.0,165.1L275.8,165.0L275.0,164.5L274.4,164.0L274.0,163.7L273.2,163.0L273.0,162.8L272.0,162.0L272.0,162.0L271.0,161.0L271.0,161.0L270.0,160.1L269.9,160.0L269.0,159.1L268.9,159.0L268.0,158.1L267.9,158.0L267.0,157.0L267.0,157.0L266.0,156.0L266.0,156.0L265.0,155.0L265.0,155.0L264.1,154.0L264.0,153.9L263.1,153.0L263.0,152.9L262.1,152.0L262.0,151.9L261.0,151.0L261.0,151.0L260.0,150.1L259.9,150.0L259.0,149.2L258.8,149.0L258.0,148.4L257.5,148.0L257.0,147.6L256.2,147.0L256.0,146.8L255.0,146.2L254.6,146.0L254.0,145.7L253.0,145.4L252.0,145.3L251.0,145.6L250.3,146.0L250.0,146.2L249.0,147.0L249.0,147.0L248.1,148.0L248.0,148.1L247.3,149.0L247.0,149.3L246.5,150.0L246.0,150.7L245.8,151.0L245.0,152.0L245.0,152.0L244.2,153.0L244.0,153.3L243.4,154.0L243.0,154.4L242.5,155.0L242.0,155.5L241.5,156.0L241.0,156.5L240.4,157.0L240.0,157.3L239.2,158.0L239.0,158.1L238.0,158.8L237.8,159.0L237.0,159.5L236.1,160.0L236.0,160.1L235.0,160.6L234.2,161.0L234.0,161.1L233.0,161.5L232.0,162.0L231.9,162.0L231.0,162.4L230.0,162.9L229.8,163.0L229.0,163.4L228.0,163.9L227.9,164.0L227.0,164.6L226.4,165.0L226.0,165.4L225.4,166.0L225.0,166.5L224.7,167.0L224.1,168.0L224.0,168.2L223.6,169.0L223.1,170.0L223.0,170.1L222.4,171.0L222.0,171.6L221.7,172.0L221.0,172.8L220.8,173.0L220.0,173.8L219.8,174.0L219.0,174.8L218.8,175.0L218.0,175.7L217.6,176.0L217.0,176.5L216.4,177.0L216.0,177.3L215.0,178.0L215.0,178.0L214.0,178.6L213.4,179.0L213.0,179.2L212.0,179.8L211.6,180.0L211.0,180.3L210.0,180.8L209.6,181.0L209.0,181.3L208.0,181.8L207.7,182.0L207.0,182.4L206.0,182.9L205.8,183.0L205.0,183.4L204.0,184.0L204.0,184.0L203.0,184.6L202.2,185.0L202.0,185.1L201.0,185.8L200.7,186.0L200.0,186.4L199.2,187.0L199.0,187.1L198.0,187.9L197.8,188.0L197.0,188.6L196.5,189.0L196.0,189.3L195.1,190.0L195.0,190.0L194.0,190.7L193.6,191.0L193.0,191.4L192.1,192.0L192.0,192.0L191.0,192.6L190.3,193.0L190.0,193.2L189.0,193.6L188.1,194.0L188.0,194.0L187.0,194.4L186.0,194.6L185.0,194.8L184.0,194.9L183.0,195.0L182.0,194.9L181.0,194.8L180.0,194.4L179.2,194.0L179.0,193.9L178.0,193.2L177.7,193.0L177.0,192.5L176.0,192.0L176.0,192.0L175.0,191.7L174.0,191.7L173.7,192.0L173.0,192.6L172.8,193.0L172.0,193.8L171.8,194.0L171.0,194.7L170.6,195.0L170.0,195.4L169.0,195.9L168.8,196.0L168.0,196.3L167.0,196.5L166.0,196.7L165.0,196.7L164.0,196.7L163.0,196.6L162.0,196.5L161.0,196.3L160.0,196.1L159.8,196.0L159.0,195.7L158.0,195.2L157.6,195.0L157.0,194.6L156.3,194.0L156.0,193.6L155.5,193.0L155.0,192.0L155.0,191.9L154.7,191.0L154.6,190.0L154.5,189.0L154.5,188.0L154.5,187.0L154.5,186.0L154.6,185.0L154.7,184.0L154.7,183.0L154.8,182.0L154.9,181.0L154.9,180.0L154.8,179.0L154.6,178.0L154.4,177.0L154.0,176.0L154.0,175.9L153.6,175.0L153.0,174.0L153.0,174.0L152.3,173.0L152.0,172.7L151.1,172.0L151.0,171.9L150.0,171.5L149.0,171.3L148.0,171.3L147.0,171.3L146.0,171.4L145.0,171.5L144.0,171.5L143.0,171.6L142.0,171.5L141.0,171.3L140.1,171.0L140.0,171.0L139.0,170.4L138.6,170.0L138.0,169.5L137.6,169.0L137.0,168.0L137.0,168.0L136.6,167.0L136.3,166.0L136.2,165.0L136.1,164.0L136.1,163.0L136.1,162.0L136.2,161.0L136.3,160.0L136.3,159.0L136.4,158.0L136.4,157.0L136.3,156.0L136.2,155.0L136.0,154.2L136.0,154.0L135.7,153.0L135.4,152.0L135.0,151.1L135.0,151.0L134.4,150.0L134.0,149.4L133.7,149.0L133.0,148.2L132.8,148.0L132.0,147.3L131.6,147.0L131.0,146.7L130.0,146.1L129.6,146.0L129.0,145.8L128.0,145.5L127.0,145.3L126.0,145.2L125.0,145.1L124.0,145.1L123.0,145.2L122.0,145.4L121.0,145.6L120.1,146.0L120.0,146.0L119.0,146.5L118.3,147.0L118.0,147.2L117.2,148.0L117.0,148.2L116.2,149.0L116.0,149.3L115.4,150.0L115.0,150.6L114.7,151.0L114.0,151.8L113.8,152.0L113.0,152.8L112.7,153.0L112.0,153.5L111.0,153.9L110.2,154.0L110.0,154.0L109.6,154.0L109.0,153.9L108.0,153.5L107.3,153.0L107.0,152.7L106.5,152.0L106.0,151.3L105.9,151.0L105.4,150.0L105.1,149.0L105.0,148.7L104.8,148.0L104.6,147.0L104.5,146.0L104.4,145.0L104.3,144.0L104.4,143.0L104.5,142.0L104.8,141.0L105.0,140.5L105.2,140.0L105.8,139.0L106.0,138.7L106.5,138.0L107.0,137.4L107.3,137.0L108.0,136.2L108.1,136.0L108.9,135.0L109.0,134.9L109.6,134.0L110.0,133.4L110.3,133.0L111.0,132.0L111.0,132.0L111.7,131.0L112.0,130.6L112.4,130.0L113.0,129.3L113.3,129.0L114.0,128.3L114.3,128.0L115.0,127.4L115.5,127.0L116.0,126.6L116.9,126.0L117.0,126.0L118.0,125.4L118.6,125.0L119.0,124.8L120.0,124.2L120.4,124.0L121.0,123.7L122.0,123.1L122.1,123.0L123.0,122.4L123.5,122.0L124.0,121.6L124.7,121.0L125.0,120.7L125.7,120.0L126.0,119.7L126.5,119.0L127.0,118.4L127.3,118.0L127.9,117.0L128.0,116.8L128.4,116.0L128.8,115.0L129.0,114.6L129.2,114.0L129.6,113.0L129.9,112.0L130.0,111.7L130.2,111.0L130.4,110.0L130.7,109.0L130.9,108.0L131.0,107.7L131.2,107.0L131.4,106.0L131.7,105.0L132.0,104.0L132.0,104.0L132.3,103.0L132.7,102.0L133.0,101.1L133.0,101.0L133.4,100.0L133.8,99.0L134.0,98.5L134.2,98.0L134.6,97.0L135.0,96.0L135.0,96.0L135.3,95.0L135.6,94.0L135.9,93.0L136.0,92.5L136.1,92.0L136.3,91.0L136.3,90.0L136.4,89.0L136.3,88.0L136.2,87.0L136.0,86.0L136.0,85.9L135.8,85.0L135.4,84.0L135.0,83.0L135.0,82.9L134.6,82.0L134.0,81.0L134.0,80.9L133.4,80.0L133.0,79.5L132.6,79.0L132.0,78.3L131.7,78.0L131.0,77.4L130.4,77.0L130.0,76.7L129.0,76.1L128.8,76.0L128.0,75.6L127.0,75.2L126.4,75.0L126.0,74.9L125.0,74.6L124.0,74.3L123.0,74.1L122.5,74.0L122.0,73.9L121.0,73.8L120.0,73.7L119.0,73.6L118.0,73.5L117.0,73.5L116.0,73.6L115.0,73.7L114.0,73.8L113.0,74.0L112.9,74.0L112.0,74.2L111.0,74.4L110.0,74.7L109.0,75.0L109.0,75.0L108.0,75.3L107.0,75.6L106.0,75.8L105.3,76.0L105.0,76.1L104.0,76.3L103.0,76.5L102.0,76.7L101.0,76.9L100.3,77.0L100.0,77.0L99.0,77.2L98.0,77.4L97.0,77.6L96.0,77.8L95.4,78.0L95.0,78.1L94.0,78.5L93.0,78.9L92.8,79.0L92.0,79.4L91.0,79.9L90.9,80.0L90.0,80.5L89.1,81.0L89.0,81.1L88.0,81.6L87.3,82.0L87.0,82.2L86.0,82.6L85.1,83.0L85.0,83.0L84.0,83.3L83.0,83.6L82.0,83.7L81.0,83.9L80.0,84.0L79.7,84.0L79.0,84.1L78.0,84.2L77.0,84.3L76.0,84.4L75.0,84.6L74.0,84.7L73.0,85.0L72.8,85.0L72.0,85.2L71.0,85.4L70.0,85.7L69.0,85.9L68.5,86.0L68.0,86.1L67.0,86.3L67.0,86.0L67.0,85.0L67.0,84.0L67.0,83.0L67.0,82.0L67.0,81.0L67.0,80.0L67.0,79.0L67.0,78.0L67.0,77.0L67.0,76.0L67.0,75.0L67.0,74.0L67.0,73.0L67.0,72.0L67.0,71.0L67.0,70.0L67.0,69.0L67.0,68.0L67.0,67.0L67.0,66.0L67.0,65.0ZM173.4,156.0L173.0,156.1L172.0,156.5L171.0,156.9L170.8,157.0L170.0,157.5L169.2,158.0L169.0,158.2L168.1,159.0L168.0,159.2L167.6,160.0L167.5,161.0L168.0,162.0L168.0,162.0L169.0,162.7L169.5,163.0L170.0,163.2L171.0,163.6L171.9,164.0L172.0,164.0L173.0,164.4L174.0,164.9L174.3,165.0L175.0,165.3L176.0,165.7L176.7,166.0L177.0,166.1L178.0,166.4L179.0,166.7L180.0,166.8L181.0,166.7L182.0,166.4L182.7,166.0L183.0,165.8L183.8,165.0L184.0,164.6L184.3,164.0L184.6,163.0L184.7,162.0L184.5,161.0L184.0,160.1L183.9,160.0L183.0,159.0L183.0,159.0L182.0,158.2L181.8,158.0L181.0,157.5L180.2,157.0L180.0,156.9L179.0,156.4L178.0,156.0L177.8,156.0L177.0,155.8L176.0,155.7L175.0,155.7L174.0,155.9ZM110.0,175.7L111.0,175.7L112.0,175.8L112.4,176.0L113.0,176.2L114.0,176.8L114.2,177.0L115.0,177.6L115.4,178.0L116.0,178.7L116.2,179.0L116.9,180.0L117.0,180.3L117.3,181.0L117.7,182.0L117.9,183.0L117.9,184.0L117.9,185.0L117.7,186.0L117.4,187.0L117.0,188.0L117.0,188.0L116.5,189.0L116.0,189.7L115.8,190.0L115.0,191.0L115.0,191.0L114.0,191.8L113.7,192.0L113.0,192.4L112.0,192.8L111.0,193.0L110.0,192.8L109.0,192.3L108.6,192.0L108.0,191.5L107.5,191.0L107.0,190.4L106.8,190.0L106.2,189.0L106.0,188.4L105.9,188.0L105.7,187.0L105.5,186.0L105.5,185.0L105.5,184.0L105.5,183.0L105.7,182.0L105.9,181.0L106.0,180.5L106.1,180.0L106.5,179.0L107.0,178.1L107.0,178.0L107.8,177.0L108.0,176.8L109.0,176.1L109.2,176.0ZM67.5,214.0L68.0,214.6L68.3,215.0L69.0,215.9L69.1,216.0L69.7,217.0L70.0,217.4L70.3,218.0L70.8,219.0L71.0,219.4L71.2,220.0L71.5,221.0L71.8,222.0L71.9,223.0L72.0,223.4L72.1,224.0L72.2,225.0L72.2,226.0L72.3,227.0L72.3,228.0L72.3,229.0L72.2,230.0L72.1,231.0L72.0,231.8L72.0,232.0L71.8,233.0L71.4,234.0L71.0,235.0L71.0,235.0L70.4,236.0L70.0,236.4L69.3,237.0L69.0,237.2L68.0,237.8L67.4,238.0L67.0,238.1L67.0,238.0L67.0,237.0L67.0,236.0L67.0,235.0L67.0,234.0L67.0,233.0L67.0,232.0L67.0,231.0L67.0,230.0L67.0,229.0L67.0,228.0L67.0,227.0L67.0,226.0L67.0,225.0L67.0,224.0L67.0,223.0L67.0,222.0L67.0,221.0L67.0,220.0L67.0,219.0L67.0,218.0L67.0,217.0L67.0,216.0L67.0,215.0L67.0,214.0L67.0,213.4Z" fill="#00d28c" fill-rule="evenodd"/>
<path d="M113.0,74.0L114.0,73.8L115.0,73.7L116.0,73.6L117.0,73.5L118.0,73.5L119.0,73.6L120.0,73.7L121.0,73.8L122.0,73.9L122.5,74.0L123.0,74.1L124.0,74.3L125.0,74.6L126.0,74.9L126.4,75.0L127.0,75.2L128.0,75.6L128.8,76.0L129.0,76.1L130.0,76.7L130.4,77.0L131.0,77.4L131.7,78.0L132.0,78.3L132.6,79.0L133.0,79.5L133.4,80.0L134.0,80.9L134.0,81.0L134.6,82.0L135.0,82.9L135.0,83.0L135.4,84.0L135.8,85.0L136.0,85.9L136.0,86.0L136.2,87.0L136.3,88.0L136.4,89.0L136.3,90.0L136.3,91.0L136.1,92.0L136.0,92.5L135.9,93.0L135.6,94.0L135.3,95.0L135.0,96.0L135.0,96.0L134.6,97.0L134.2,98.0L134.0,98.5L133.8,99.0L133.4,100.0L133.0,101.0L133.0,101.1L132.7,102.0L132.3,103.0L132.0,104.0L132.0,104.0L131.7,105.0L131.4,106.0L131.2,107.0L131.0,107.7L130.9,108.0L130.7,109.0L130.4,110.0L130.2,111.0L130.0,111.7L129.9,112.0L129.6,113.0L129.2,114.0L129.0,114.6L128.8,115.0L128.4,116.0L128.0,116.8L127.9,117.0L127.3,118.0L127.0,118.4L126.5,119.0L126.0,119.7L125.7,120.0L125.0,120.7L124.7,121.0L124.0,121.6L123.5,122.0L123.0,122.4L122.1,123.0L122.0,123.1L121.0,123.7L120.4,124.0L120.0,124.2L119.0,124.8L118.6,125.0L118.0,125.4L117.0,126.0L116.9,126.0L116.0,126.6L115.5,127.0L115.0,127.4L114.3,128.0L114.0,128.3L113.3,129.0L113.0,129.3L112.4,130.0L112.0,130.6L111.7,131.0L111.0,132.0L111.0,132.0L110.3,133.0L110.0,133.4L109.6,134.0L109.0,134.9L108.9,135.0L108.1,136.0L108.0,136.2L107.3,137.0L107.0,137.4L106.5,138.0L106.0,138.7L105.8,139.0L105.2,140.0L105.0,140.5L104.8,141.0L104.5,142.0L104.4,143.0L104.3,144.0L104.4,145.0L104.5,146.0L104.6,147.0L104.8,148.0L105.0,148.7L105.1,149.0L105.4,150.0L105.9,151.0L106.0,151.3L106.5,152.0L107.0,152.7L107.3,153.0L108.0,153.5L109.0,153.9L109.6,154.0L110.0,154.0L110.2,154.0L111.0,153.9L112.0,153.5L112.7,153.0L113.0,152.8L113.8,152.0L114.0,151.8L114.7,151.0L115.0,150.6L115.4,150.0L116.0,149.3L116.2,149.0L117.0,148.2L117.2,148.0L118.0,147.2L118.3,147.0L119.0,146.5L120.0,146.0L120.1,146.0L121.0,145.6L122.0,145.4L123.0,145.2L124.0,145.1L125.0,145.1L126.0,145.2L127.0,145.3L128.0,145.5L129.0,145.8L129.6,146.0L130.0,146.1L131.0,146.7L131.6,147.0L132.0,147.3L132.8,148.0L133.0,148.2L133.7,149.0L134.0,149.4L134.4,150.0L135.0,151.0L135.0,151.1L135.4,152.0L135.7,153.0L136.0,154.0L136.0,154.2L136.2,155.0L136.3,156.0L136.4,157.0L136.4,158.0L136.3,159.0L136.3,160.0L136.2,161.0L136.1,162.0L136.1,163.0L136.1,164.0L136.2,165.0L136.3,166.0L136.6,167.0L137.0,168.0L137.0,168.0L137.6,169.0L138.0,169.5L138.6,170.0L139.0,170.4L140.0,171.0L140.1,171.0L141.0,171.3L142.0,171.5L143.0,171.6L144.0,171.5L145.0,171.5L146.0,171.4L147.0,171.3L148.0,171.3L149.0,171.3L150.0,171.5L151.0,171.9L151.1,172.0L152.0,172.7L152.3,173.0L153.0,174.0L153.0,174.0L153.6,175.0L154.0,175.9L154.0,176.0L154.4,177.0L154.6,178.0L154.8,179.0L154.9,180.0L154.9,181.0L154.8,182.0L154.7,183.0L154.7,184.0L154.6,185.0L154.5,186.0L154.5,187.0L154.5,188.0L154.5,189.0L154.6,190.0L154.7,191.0L155.0,191.9L155.0,192.0L155.5,193.0L156.0,193.6L156.3,194.0L157.0,194.6L157.6,195.0L158.0,195.2L159.0,195.7L159.8,196.0L160.0,196.1L161.0,196.3L162.0,196.5L163.0,196.6L164.0,196.7L165.0,196.7L166.0,196.7L167.0,196.5L168.0,196.3L168.8,196.0L169.0,195.9L170.0,195.4L170.6,195.0L171.0,194.7L171.8,194.0L172.0,193.8L172.8,193.0L173.0,192.6L173.7,192.0L174.0,191.7L175.0,191.7L176.0,192.0L176.0,192.0L177.0,192.5L177.7,193.0L178.0,193.2L179.0,193.9L179.2,194.0L180.0,194.4L181.0,194.8L182.0,194.9L183.0,195.0L184.0,194.9L185.0,194.8L186.0,194.6L187.0,194.4L188.0,194.0L188.1,194.0L189.0,193.6L190.0,193.2L190.3,193.0L191.0,192.6L192.0,192.0L192.1,192.0L193.0,191.4L193.6,191.0L194.0,190.7L195.0,190.0L195.1,190.0L196.0,189.3L196.5,189.0L197.0,188.6L197.8,188.0L198.0,187.9L199.0,187.1L199.2,187.0L200.0,186.4L200.7,186.0L201.0,185.8L202.0,185.1L202.2,185.0L203.0,184.6L204.0,184.0L204.0,184.0L205.0,183.4L205.8,183.0L206.0,182.9L207.0,182.4L207.7,182.0L208.0,181.8L209.0,181.3L209.6,181.0L210.0,180.8L211.0,180.3L211.6,180.0L212.0,179.8L213.0,179.2L213.4,179.0L214.0,178.6L215.0,178.0L215.0,178.0L216.0,177.3L216.4,177.0L217.0,176.5L217.6,176.0L218.0,175.7L218.8,175.0L219.0,174.8L219.8,174.0L220.0,173.8L220.8,173.0L221.0,172.8L221.7,172.0L222.0,171.6L222.4,171.0L223.0,170.1L223.1,170.0L223.6,169.0L224.0,168.2L224.1,168.0L224.7,167.0L225.0,166.5L225.4,166.0L226.0,165.4L226.4,165.0L227.0,164.6L227.9,164.0L228.0,163.9L229.0,163.4L229.8,163.0L230.0,162.9L231.0,162.4L231.9,162.0L232.0,162.0L233.0,161.5L234.0,161.1L234.2,161.0L235.0,160.6L236.0,160.1L236.1,160.0L237.0,159.5L237.8,159.0L238.0,158.8L239.0,158.1L239.2,158.0L240.0,157.3L240.4,157.0L241.0,156.5L241.5,156.0L242.0,155.5L242.5,155.0L243.0,154.4L243.4,154.0L244.0,153.3L244.2,153.0L245.0,152.0L245.0,152.0L245.8,151.0L246.0,150.7L246.5,150.0L247.0,149.3L247.3,149.0L248.0,148.1L248.1,148.0L249.0,147.0L249.0,147.0L250.0,146.2L250.3,146.0L251.0,145.6L252.0,145.3L253.0,145.4L254.0,145.7L254.6,146.0L255.0,146.2L256.0,146.8L256.2,147.0L257.0,147.6L257.5,148.0L258.0,148.4L258.8,149.0L259.0,149.2L259.9,150.0L260.0,150.1L261.0,151.0L261.0,151.0L262.0,151.9L262.1,152.0L263.0,152.9L263.1,153.0L264.0,153.9L264.1,154.0L265.0,155.0L265.0,155.0L266.0,156.0L266.0,156.0L267.0,157.0L267.0,157.0L267.9,158.0L268.0,158.1L268.9,159.0L269.0,159.1L269.9,160.0L270.0,160.1L271.0,161.0L271.0,161.0L272.0,162.0L272.0,162.0L273.0,162.8L273.2,163.0L274.0,163.7L274.4,164.0L275.0,164.5L275.8,165.0L276.0,165.1L277.0,165.7L277.6,166.0L278.0,166.2L279.0,166.6L280.0,166.7L281.0,166.8L282.0,166.7L283.0,166.4L283.9,166.0L284.0,166.0L285.0,165.4L285.6,165.0L286.0,164.8L287.0,164.0L287.0,164.0L288.0,163.1L288.1,163.0L289.0,162.2L289.2,162.0L290.0,161.3L290.4,161.0L291.0,160.5L291.6,160.0L292.0,159.7L292.9,159.0L293.0,158.9L294.0,158.3L294.5,158.0L295.0,157.7L296.0,157.2L296.5,157.0L297.0,156.8L298.0,156.5L299.0,156.2L300.0,156.0L300.0,157.0L300.0,158.0L300.0,159.0L300.0,160.0L300.0,161.0L300.0,162.0L300.0,163.0L300.0,164.0L300.0,165.0L300.0,166.0L300.0,167.0L300.0,168.0L300.0,169.0L300.0,170.0L300.0,171.0L300.0,172.0L300.0,173.0L300.0,174.0L300.0,175.0L300.0,176.0L300.0,177.0L300.0,178.0L300.0,179.0L300.0,180.0L300.0,181.0L300.0,182.0L300.0,183.0L300.0,184.0L300.0,185.0L300.0,186.0L300.0,187.0L300.0,188.0L300.0,189.0L300.0,190.0L300.0,191.0L300.0,192.0L300.0,193.0L300.0,194.0L300.0,195.0L300.0,196.0L300.0,197.0L300.0,198.0L300.0,198.2L299.0,198.7L298.3,199.0L298.0,199.1L297.0,199.6L296.0,200.0L295.9,200.0L295.0,200.3L294.0,200.7L293.1,201.0L293.0,201.0L292.0,201.3L291.0,201.6L290.0,201.8L289.0,201.9L288.1,202.0L288.0,202.0L287.0,202.0L286.0,202.0L285.7,202.0L285.0,201.9L284.0,201.8L283.0,201.6L282.0,201.4L281.0,201.1L280.7,201.0L280.0,200.8L279.0,200.4L278.3,200.0L278.0,199.9L277.0,199.3L276.6,199.0L276.0,198.6L275.3,198.0L275.0,197.7L274.3,197.0L274.0,196.6L273.5,196.0L273.0,195.2L272.9,195.0L272.3,194.0L272.0,193.3L271.9,193.0L271.5,192.0L271.2,191.0L271.0,190.3L270.9,190.0L270.7,189.0L270.5,188.0L270.3,187.0L270.1,186.0L270.0,185.0L270.0,185.0L269.8,184.0L269.7,183.0L269.5,182.0L269.3,181.0L269.0,180.0L269.0,179.8L268.8,179.0L268.4,178.0L268.0,177.0L268.0,177.0L267.5,176.0L267.0,175.0L267.0,175.0L266.4,174.0L266.0,173.3L265.8,173.0L265.2,172.0L265.0,171.7L264.5,171.0L264.0,170.3L263.8,170.0L263.0,169.0L263.0,169.0L262.1,168.0L262.0,167.9L261.1,167.0L261.0,166.9L260.0,166.0L260.0,166.0L259.0,165.2L258.7,165.0L258.0,164.5L257.1,164.0L257.0,164.0L256.0,163.5L255.0,163.2L254.1,163.0L254.0,163.0L253.0,162.9L252.0,163.0L251.9,163.0L251.0,163.2L250.0,163.5L249.0,163.9L248.9,164.0L248.0,164.5L247.1,165.0L247.0,165.1L246.0,165.7L245.5,166.0L245.0,166.3L244.0,167.0L244.0,167.0L243.0,167.6L242.4,168.0L242.0,168.2L241.0,168.8L240.7,169.0L240.0,169.4L239.0,170.0L239.0,170.0L238.0,170.7L237.5,171.0L237.0,171.4L236.2,172.0L236.0,172.2L235.1,173.0L235.0,173.2L234.3,174.0L234.0,174.5L233.7,175.0L233.2,176.0L233.0,176.5L232.7,177.0L232.0,178.0L231.9,178.0L231.0,178.0L230.9,178.0L230.0,177.6L229.0,177.0L229.0,177.0L228.0,176.5L227.0,176.2L226.0,176.1L225.0,176.2L224.0,176.5L223.0,176.9L222.8,177.0L222.0,177.5L221.3,178.0L221.0,178.3L220.2,179.0L220.0,179.2L219.2,180.0L219.0,180.2L218.2,181.0L218.0,181.2L217.2,182.0L217.0,182.1L216.0,183.0L216.0,183.0L215.0,183.8L214.7,184.0L214.0,184.5L213.3,185.0L213.0,185.2L212.0,185.8L211.7,186.0L211.0,186.4L210.0,187.0L210.0,187.0L209.0,187.6L208.3,188.0L208.0,188.2L207.0,188.8L206.7,189.0L206.0,189.5L205.2,190.0L205.0,190.1L204.0,190.9L203.8,191.0L203.0,191.6L202.4,192.0L202.0,192.3L201.1,193.0L201.0,193.0L200.0,193.8L199.7,194.0L199.0,194.5L198.3,195.0L198.0,195.2L197.0,196.0L197.0,196.0L196.0,196.8L195.7,197.0L195.0,197.6L194.5,198.0L194.0,198.4L193.2,199.0L193.0,199.1L192.0,199.8L191.6,200.0L191.0,200.3L190.0,200.8L189.3,201.0L189.0,201.1L188.0,201.4L187.0,201.6L186.0,201.7L185.0,201.8L184.0,201.8L183.0,201.8L182.0,201.7L181.0,201.6L180.0,201.5L179.0,201.4L178.0,201.2L177.0,201.1L176.4,201.0L176.0,201.0L175.0,200.9L174.0,200.8L173.0,200.8L172.0,200.8L171.0,200.8L170.0,200.9L169.0,200.9L168.3,201.0L168.0,201.0L167.0,201.2L166.0,201.3L165.0,201.5L164.0,201.7L163.0,201.9L162.6,202.0L162.0,202.2L161.0,202.5L160.0,202.8L159.4,203.0L159.0,203.2L158.0,203.6L157.0,204.0L156.9,204.0L156.0,204.4L155.0,204.7L154.1,205.0L154.0,205.0L153.0,205.2L152.0,205.2L151.2,205.0L151.0,204.9L150.0,204.5L149.3,204.0L149.0,203.8L148.1,203.0L148.0,202.9L147.3,202.0L147.0,201.6L146.6,201.0L146.1,200.0L146.0,199.7L145.7,199.0L145.4,198.0L145.1,197.0L145.0,196.4L144.9,196.0L144.7,195.0L144.4,194.0L144.2,193.0L144.0,192.3L143.9,192.0L143.5,191.0L143.0,190.0L143.0,189.9L142.3,189.0L142.0,188.6L141.2,188.0L141.0,187.9L140.0,187.4L139.0,187.1L138.2,187.0L138.0,187.0L137.0,187.0L136.7,187.0L136.0,187.1L135.0,187.3L134.0,187.7L133.5,188.0L133.0,188.3L132.0,189.0L132.0,189.0L131.0,189.9L130.9,190.0L130.0,191.0L130.0,191.0L129.1,192.0L129.0,192.2L128.3,193.0L128.0,193.4L127.6,194.0L127.0,194.7L126.8,195.0L126.0,195.9L126.0,196.0L125.1,197.0L125.0,197.1L124.1,198.0L124.0,198.1L123.0,198.9L122.9,199.0L122.0,199.7L121.5,200.0L121.0,200.3L120.0,200.8L119.5,201.0L119.0,201.2L118.0,201.6L117.0,201.8L116.1,202.0L116.0,202.0L115.0,202.2L114.0,202.3L113.0,202.4L112.0,202.4L111.0,202.4L110.0,202.4L109.0,202.4L108.0,202.3L107.0,202.2L106.0,202.0L105.9,202.0L105.0,201.8L104.0,201.5L103.0,201.2L102.7,201.0L102.0,200.7L101.0,200.2L100.7,200.0L100.0,199.6L99.2,199.0L99.0,198.9L98.0,198.1L97.9,198.0L97.0,197.2L96.8,197.0L96.0,196.1L95.9,196.0L95.1,195.0L95.0,194.9L94.4,194.0L94.0,193.4L93.8,193.0L93.3,192.0L93.0,191.4L92.8,191.0L92.5,190.0L92.1,189.0L92.0,188.5L91.9,188.0L91.6,187.0L91.5,186.0L91.3,185.0L91.2,184.0L91.2,183.0L91.1,182.0L91.1,181.0L91.1,180.0L91.0,179.0L91.0,178.8L90.9,178.0L90.6,177.0L90.3,176.0L90.0,175.0L90.0,174.9L89.7,174.0L89.5,173.0L89.2,172.0L89.1,171.0L89.0,170.5L88.9,170.0L88.9,169.0L88.9,168.0L89.0,167.4L89.1,167.0L89.3,166.0L89.7,165.0L90.0,164.2L90.1,164.0L90.5,163.0L90.9,162.0L91.0,161.6L91.2,161.0L91.4,160.0L91.6,159.0L91.8,158.0L91.9,157.0L91.9,156.0L91.7,155.0L91.5,154.0L91.1,153.0L91.0,152.8L90.5,152.0L90.0,151.4L89.7,151.0L89.0,150.3L88.7,150.0L88.0,149.4L87.4,149.0L87.0,148.7L86.0,148.1L85.8,148.0L85.0,147.6L84.0,147.2L83.5,147.0L83.0,146.8L82.0,146.5L81.0,146.2L80.4,146.0L80.0,145.9L79.0,145.5L78.0,145.1L77.7,145.0L77.0,144.6L76.0,144.1L75.9,144.0L75.0,143.3L74.6,143.0L74.0,142.3L73.7,142.0L73.1,141.0L73.0,140.8L72.7,140.0L72.6,139.0L72.6,138.0L73.0,137.0L73.0,136.9L73.6,136.0L74.0,135.5L74.5,135.0L75.0,134.6L75.7,134.0L76.0,133.8L77.0,133.3L77.6,133.0L78.0,132.8L79.0,132.5L80.0,132.2L80.7,132.0L81.0,131.9L82.0,131.7L83.0,131.6L84.0,131.5L85.0,131.4L86.0,131.3L87.0,131.2L88.0,131.2L89.0,131.0L89.3,131.0L90.0,130.9L91.0,130.7L92.0,130.5L93.0,130.3L94.0,130.0L94.1,130.0L95.0,129.7L96.0,129.4L96.8,129.0L97.0,128.9L98.0,128.4L98.8,128.0L99.0,127.9L100.0,127.2L100.2,127.0L101.0,126.4L101.4,126.0L102.0,125.4L102.4,125.0L103.0,124.3L103.2,124.0L104.0,123.1L104.1,123.0L104.9,122.0L105.0,121.8L105.7,121.0L106.0,120.7L106.7,120.0L107.0,119.7L107.8,119.0L108.0,118.8L109.0,118.1L109.3,118.0L110.0,117.6L111.0,117.2L111.7,117.0L112.0,116.9L113.0,116.7L114.0,116.5L115.0,116.3L116.0,116.1L116.7,116.0L117.0,116.0L118.0,115.7L119.0,115.5L120.0,115.2L120.4,115.0L121.0,114.8L122.0,114.3L122.4,114.0L123.0,113.6L123.8,113.0L124.0,112.9L124.8,112.0L125.0,111.8L125.6,111.0L126.0,110.4L126.2,110.0L126.6,109.0L126.9,108.0L127.0,107.6L127.1,107.0L127.3,106.0L127.5,105.0L127.7,104.0L127.8,103.0L128.0,102.1L128.0,102.0L128.2,101.0L128.4,100.0L128.6,99.0L128.7,98.0L128.8,97.0L128.9,96.0L128.9,95.0L128.9,94.0L128.7,93.0L128.5,92.0L128.1,91.0L128.0,90.7L127.6,90.0L127.0,89.1L126.9,89.0L126.0,88.0L126.0,88.0L125.0,87.1L124.8,87.0L124.0,86.5L123.0,86.1L122.8,86.0L122.0,85.7L121.0,85.5L120.0,85.3L119.0,85.3L118.0,85.3L117.0,85.4L116.0,85.5L115.0,85.7L114.0,86.0L114.0,86.0L113.0,86.3L112.0,86.7L111.2,87.0L111.0,87.1L110.0,87.5L109.1,88.0L109.0,88.1L108.0,88.7L107.5,89.0L107.0,89.4L106.3,90.0L106.0,90.2L105.2,91.0L105.0,91.3L104.4,92.0L104.0,92.5L103.6,93.0L103.0,93.8L102.9,94.0L102.1,95.0L102.0,95.2L101.3,96.0L101.0,96.4L100.3,97.0L100.0,97.3L99.0,97.9L98.8,98.0L98.0,98.3L97.0,98.5L96.0,98.6L95.0,98.5L94.0,98.2L93.4,98.0L93.0,97.8L92.0,97.3L91.4,97.0L91.0,96.8L90.0,96.1L89.8,96.0L89.0,95.5L88.1,95.0L88.0,95.0L87.0,94.5L86.0,94.1L85.6,94.0L85.0,93.9L84.0,93.7L83.0,93.7L82.0,93.9L81.9,94.0L81.0,94.3L80.0,94.9L79.8,95.0L79.0,95.5L78.3,96.0L78.0,96.2L77.0,97.0L76.9,97.0L76.0,97.7L75.6,98.0L75.0,98.4L74.0,99.0L74.0,99.0L73.0,99.6L72.2,100.0L72.0,100.1L71.0,100.5L70.0,100.9L69.8,101.0L69.0,101.3L68.0,101.6L67.0,101.9L67.0,101.0L67.0,100.0L67.0,99.0L67.0,98.0L67.0,97.0L67.0,96.0L67.0,95.0L67.0,94.0L67.0,93.0L67.0,92.0L67.0,91.0L67.0,90.0L67.0,89.0L67.0,88.0L67.0,87.0L67.0,86.3L68.0,86.1L68.5,86.0L69.0,85.9L70.0,85.7L71.0,85.4L72.0,85.2L72.8,85.0L73.0,85.0L74.0,84.7L75.0,84.6L76.0,84.4L77.0,84.3L78.0,84.2L79.0,84.1L79.7,84.0L80.0,84.0L81.0,83.9L82.0,83.7L83.0,83.6L84.0,83.3L85.0,83.0L85.1,83.0L86.0,82.6L87.0,82.2L87.3,82.0L88.0,81.6L89.0,81.1L89.1,81.0L90.0,80.5L90.9,80.0L91.0,79.9L92.0,79.4L92.8,79.0L93.0,78.9L94.0,78.5L95.0,78.1L95.4,78.0L96.0,77.8L97.0,77.6L98.0,77.4L99.0,77.2L100.0,77.0L100.3,77.0L101.0,76.9L102.0,76.7L103.0,76.5L104.0,76.3L105.0,76.1L105.3,76.0L106.0,75.8L107.0,75.6L108.0,75.3L109.0,75.0L109.0,75.0L110.0,74.7L111.0,74.4L112.0,74.2L112.9,74.0ZM122.2,157.0L122.0,157.1L121.1,158.0L121.0,158.1L120.3,159.0L120.0,159.4L119.6,160.0L119.1,161.0L119.0,161.3L118.8,162.0L118.6,163.0L118.5,164.0L118.7,165.0L119.0,166.0L119.0,166.1L119.5,167.0L120.0,167.7L120.3,168.0L121.0,168.7L121.5,169.0L122.0,169.3L123.0,169.8L124.0,170.0L124.0,170.0L125.0,170.0L125.0,170.0L126.0,169.7L127.0,169.0L127.0,169.0L127.8,168.0L128.0,167.7L128.3,167.0L128.6,166.0L128.7,165.0L128.8,164.0L128.7,163.0L128.6,162.0L128.4,161.0L128.1,160.0L128.0,159.7L127.7,159.0L127.2,158.0L127.0,157.7L126.4,157.0L126.0,156.6L125.0,156.1L124.0,156.0L123.0,156.4ZM109.2,176.0L109.0,176.1L108.0,176.8L107.8,177.0L107.0,178.0L107.0,178.1L106.5,179.0L106.1,180.0L106.0,180.5L105.9,181.0L105.7,182.0L105.5,183.0L105.5,184.0L105.5,185.0L105.5,186.0L105.7,187.0L105.9,188.0L106.0,188.4L106.2,189.0L106.8,190.0L107.0,190.4L107.5,191.0L108.0,191.5L108.6,192.0L109.0,192.3L110.0,192.8L111.0,193.0L112.0,192.8L113.0,192.4L113.7,192.0L114.0,191.8L115.0,191.0L115.0,191.0L115.8,190.0L116.0,189.7L116.5,189.0L117.0,188.0L117.0,188.0L117.4,187.0L117.7,186.0L117.9,185.0L117.9,184.0L117.9,183.0L117.7,182.0L117.3,181.0L117.0,180.3L116.9,180.0L116.2,179.0L116.0,178.7L115.4,178.0L115.0,177.6L114.2,177.0L114.0,176.8L113.0,176.2L112.4,176.0L112.0,175.8L111.0,175.7L110.0,175.7ZM174.0,155.9L175.0,155.7L176.0,155.7L177.0,155.8L177.8,156.0L178.0,156.0L179.0,156.4L180.0,156.9L180.2,157.0L181.0,157.5L181.8,158.0L182.0,158.2L183.0,159.0L183.0,159.0L183.9,160.0L184.0,160.1L184.5,161.0L184.7,162.0L184.6,163.0L184.3,164.0L184.0,164.6L183.8,165.0L183.0,165.8L182.7,166.0L182.0,166.4L181.0,166.7L180.0,166.8L179.0,166.7L178.0,166.4L177.0,166.1L176.7,166.0L176.0,165.7L175.0,165.3L174.3,165.0L174.0,164.9L173.0,164.4L172.0,164.0L171.9,164.0L171.0,163.6L170.0,163.2L169.5,163.0L169.0,162.7L168.0,162.0L168.0,162.0L167.5,161.0L167.6,160.0L168.0,159.2L168.1,159.0L169.0,158.2L169.2,158.0L170.0,157.5L170.8,157.0L171.0,156.9L172.0,156.5L173.0,156.1L173.4,156.0ZM68.0,187.3L69.0,187.6L70.0,187.9L70.2,188.0L71.0,188.4L72.0,188.9L72.1,189.0L73.0,189.7L73.3,190.0L74.0,191.0L74.0,191.0L74.5,192.0L74.8,193.0L75.0,193.8L75.0,194.0L75.2,195.0L75.2,196.0L75.2,197.0L75.2,198.0L75.2,199.0L75.1,200.0L75.1,201.0L75.1,202.0L75.1,203.0L75.1,204.0L75.2,205.0L75.3,206.0L75.5,207.0L75.7,208.0L75.9,209.0L76.0,209.2L76.2,210.0L76.5,211.0L76.7,212.0L77.0,213.0L77.0,213.0L77.3,214.0L77.5,215.0L77.7,216.0L77.9,217.0L78.0,217.6L78.1,218.0L78.2,219.0L78.4,220.0L78.5,221.0L78.7,222.0L78.8,223.0L79.0,224.0L79.0,224.3L79.1,225.0L79.2,226.0L79.3,227.0L79.3,228.0L79.3,229.0L79.2,230.0L79.1,231.0L79.0,231.9L79.0,232.0L78.8,233.0L78.7,234.0L78.4,235.0L78.2,236.0L78.0,236.8L77.9,237.0L77.6,238.0L77.2,239.0L77.0,239.3L76.6,240.0L76.0,240.9L75.9,241.0L75.1,242.0L75.0,242.1L74.0,242.9L73.9,243.0L73.0,243.6L72.4,244.0L72.0,244.2L71.0,244.7L70.1,245.0L70.0,245.0L69.0,245.3L68.0,245.5L67.0,245.7L67.0,245.0L67.0,244.0L67.0,243.0L67.0,242.0L67.0,241.0L67.0,240.0L67.0,239.0L67.0,238.1L67.4,238.0L68.0,237.8L69.0,237.2L69.3,237.0L70.0,236.4L70.4,236.0L71.0,235.0L71.0,235.0L71.4,234.0L71.8,233.0L72.0,232.0L72.0,231.8L72.1,231.0L72.2,230.0L72.3,229.0L72.3,228.0L72.3,227.0L72.2,226.0L72.2,225.0L72.1,224.0L72.0,223.4L71.9,223.0L71.8,222.0L71.5,221.0L71.2,220.0L71.0,219.4L70.8,219.0L70.3,218.0L70.0,217.4L69.7,217.0L69.1,216.0L69.0,215.9L68.3,215.0L68.0,214.6L67.5,214.0L67.0,213.4L67.0,213.0L67.0,212.0L67.0,211.0L67.0,210.0L67.0,209.0L67.0,208.0L67.0,207.0L67.0,206.0L67.0,205.0L67.0,204.0L67.0,203.0L67.0,202.0L67.0,201.0L67.0,200.0L67.0,199.0L67.0,198.0L67.0,197.0L67.0,196.0L67.0,195.0L67.0,194.0L67.0,193.0L67.0,192.0L67.0,191.0L67.0,190.0L67.0,189.0L67.0,188.0L67.0,187.1ZM75.0,265.9L76.0,265.5L77.0,265.3L78.0,265.4L79.0,265.7L79.5,266.0L80.0,266.3L80.6,267.0L80.9,268.0L81.0,269.0L81.0,269.0L81.0,269.0L80.8,270.0L80.5,271.0L80.1,272.0L80.0,272.2L79.6,273.0L79.2,274.0L79.0,274.4L78.7,275.0L78.2,276.0L78.0,276.4L77.7,277.0L77.3,278.0L77.1,279.0L77.0,279.3L76.8,280.0L76.6,281.0L76.3,282.0L76.0,282.4L75.2,283.0L75.0,283.1L74.0,283.0L74.0,283.0L73.0,282.1L72.9,282.0L72.6,281.0L72.4,280.0L72.3,279.0L72.3,278.0L72.2,277.0L72.0,276.0L72.0,276.0L71.9,275.0L71.7,274.0L71.6,273.0L71.6,272.0L71.7,271.0L72.0,270.0L72.0,269.9L72.3,269.0L72.9,268.0L73.0,267.8L73.6,267.0L74.0,266.6L74.8,266.0Z" fill="#a0e632" fill-rule="evenodd"/>
<path d="M115.0,85.7L116.0,85.5L117.0,85.4L118.0,85.3L119.0,85.3L120.0,85.3L121.0,85.5L122.0,85.7L122.8,86.0L123.0,86.1L124.0,86.5L124.8,87.0L125.0,87.1L126.0,88.0L126.0,88.0L126.9,89.0L127.0,89.1L127.6,90.0L128.0,90.7L128.1,91.0L128.5,92.0L128.7,93.0L128.9,94.0L128.9,95.0L128.9,96.0L128.8,97.0L128.7,98.0L128.6,99.0L128.4,100.0L128.2,101.0L128.0,102.0L128.0,102.1L127.8,103.0L127.7,104.0L127.5,105.0L127.3,106.0L127.1,107.0L127.0,107.6L126.9,108.0L126.6,109.0L126.2,110.0L126.0,110.4L125.6,111.0L125.0,111.8L124.8,112.0L124.0,112.9L123.8,113.0L123.0,113.6L122.4,114.0L122.0,114.3L121.0,114.8L120.4,115.0L120.0,115.2L119.0,115.5L118.0,115.7L117.0,116.0L116.7,116.0L116.0,116.1L115.0,116.3L114.0,116.5L113.0,116.7L112.0,116.9L111.7,117.0L111.0,117.2L110.0,117.6L109.3,118.0L109.0,118.1L108.0,118.8L107.8,119.0L107.0,119.7L106.7,120.0L106.0,120.7L105.7,121.0L105.0,121.8L104.9,122.0L104.1,123.0L104.0,123.1L103.2,124.0L103.0,124.3L102.4,125.0L102.0,125.4L101.4,126.0L101.0,126.4L100.2,127.0L100.0,127.2L99.0,127.9L98.8,128.0L98.0,128.4L97.0,128.9L96.8,129.0L96.0,129.4L95.0,129.7L94.1,130.0L94.0,130.0L93.0,130.3L92.0,130.5L91.0,130.7L90.0,130.9L89.3,131.0L89.0,131.0L88.0,131.2L87.0,131.2L86.0,131.3L85.0,131.4L84.0,131.5L83.0,131.6L82.0,131.7L81.0,131.9L80.7,132.0L80.0,132.2L79.0,132.5L78.0,132.8L77.6,133.0L77.0,133.3L76.0,133.8L75.7,134.0L75.0,134.6L74.5,135.0L74.0,135.5L73.6,136.0L73.0,136.9L73.0,137.0L72.6,138.0L72.6,139.0L72.7,140.0L73.0,140.8L73.1,141.0L73.7,142.0L74.0,142.3L74.6,143.0L75.0,143.3L75.9,144.0L76.0,144.1L77.0,144.6L77.7,145.0L78.0,145.1L79.0,145.5L80.0,145.9L80.4,146.0L81.0,146.2L82.0,146.5L83.0,146.8L83.5,147.0L84.0,147.2L85.0,147.6L85.8,148.0L86.0,148.1L87.0,148.7L87.4,149.0L88.0,149.4L88.7,150.0L89.0,150.3L89.7,151.0L90.0,151.4L90.5,152.0L91.0,152.8L91.1,153.0L91.5,154.0L91.7,155.0L91.9,156.0L91.9,157.0L91.8,158.0L91.6,159.0L91.4,160.0L91.2,161.0L91.0,161.6L90.9,162.0L90.5,163.0L90.1,164.0L90.0,164.2L89.7,165.0L89.3,166.0L89.1,167.0L89.0,167.4L88.9,168.0L88.9,169.0L88.9,170.0L89.0,170.5L89.1,171.0L89.2,172.0L89.5,173.0L89.7,174.0L90.0,174.9L90.0,175.0L90.3,176.0L90.6,177.0L90.9,178.0L91.0,178.8L91.0,179.0L91.1,180.0L91.1,181.0L91.1,182.0L91.2,183.0L91.2,184.0L91.3,185.0L91.5,186.0L91.6,187.0L91.9,188.0L92.0,188.5L92.1,189.0L92.5,190.0L92.8,191.0L93.0,191.4L93.3,192.0L93.8,193.0L94.0,193.4L94.4,194.0L95.0,194.9L95.1,195.0L95.9,196.0L96.0,196.1L96.8,197.0L97.0,197.2L97.9,198.0L98.0,198.1L99.0,198.9L99.2,199.0L100.0,199.6L100.7,200.0L101.0,200.2L102.0,200.7L102.7,201.0L103.0,201.2L104.0,201.5L105.0,201.8L105.9,202.0L106.0,202.0L107.0,202.2L108.0,202.3L109.0,202.4L110.0,202.4L111.0,202.4L112.0,202.4L113.0,202.4L114.0,202.3L115.0,202.2L116.0,202.0L116.1,202.0L117.0,201.8L118.0,201.6L119.0,201.2L119.5,201.0L120.0,200.8L121.0,200.3L121.5,200.0L122.0,199.7L122.9,199.0L123.0,198.9L124.0,198.1L124.1,198.0L125.0,197.1L125.1,197.0L126.0,196.0L126.0,195.9L126.8,195.0L127.0,194.7L127.6,194.0L128.0,193.4L128.3,193.0L129.0,192.2L129.1,192.0L130.0,191.0L130.0,191.0L130.9,190.0L131.0,189.9L132.0,189.0L132.0,189.0L133.0,188.3L133.5,188.0L134.0,187.7L135.0,187.3L136.0,187.1L136.7,187.0L137.0,187.0L138.0,187.0L138.2,187.0L139.0,187.1L140.0,187.4L141.0,187.9L141.2,188.0L142.0,188.6L142.3,189.0L143.0,189.9L143.0,190.0L143.5,191.0L143.9,192.0L144.0,192.3L144.2,193.0L144.4,194.0L144.7,195.0L144.9,196.0L145.0,196.4L145.1,197.0L145.4,198.0L145.7,199.0L146.0,199.7L146.1,200.0L146.6,201.0L147.0,201.6L147.3,202.0L148.0,202.9L148.1,203.0L149.0,203.8L149.3,204.0L150.0,204.5L151.0,204.9L151.2,205.0L152.0,205.2L153.0,205.2L154.0,205.0L154.1,205.0L155.0,204.7L156.0,204.4L156.9,204.0L157.0,204.0L158.0,203.6L159.0,203.2L159.4,203.0L160.0,202.8L161.0,202.5L162.0,202.2L162.6,202.0L163.0,201.9L164.0,201.7L165.0,201.5L166.0,201.3L167.0,201.2L168.0,201.0L168.3,201.0L169.0,200.9L170.0,200.9L171.0,200.8L172.0,200.8L173.0,200.8L174.0,200.8L175.0,200.9L176.0,201.0L176.4,201.0L177.0,201.1L178.0,201.2L179.0,201.4L180.0,201.5L181.0,201.6L182.0,201.7L183.0,201.8L184.0,201.8L185.0,201.8L186.0,201.7L187.0,201.6L188.0,201.4L189.0,201.1L189.3,201.0L190.0,200.8L191.0,200.3L191.6,200.0L192.0,199.8L193.0,199.1L193.2,199.0L194.0,198.4L194.5,198.0L195.0,197.6L195.7,197.0L196.0,196.8L197.0,196.0L197.0,196.0L198.0,195.2L198.3,195.0L199.0,194.5L199.7,194.0L200.0,193.8L201.0,193.0L201.1,193.0L202.0,192.3L202.4,192.0L203.0,191.6L203.8,191.0L204.0,190.9L205.0,190.1L205.2,190.0L206.0,189.5L206.7,189.0L207.0,188.8L208.0,188.2L208.3,188.0L209.0,187.6L210.0,187.0L210.0,187.0L211.0,186.4L211.7,186.0L212.0,185.8L213.0,185.2L213.3,185.0L214.0,184.5L214.7,184.0L215.0,183.8L216.0,183.0L216.0,183.0L217.0,182.1L217.2,182.0L218.0,181.2L218.2,181.0L219.0,180.2L219.2,180.0L220.0,179.2L220.2,179.0L221.0,178.3L221.3,178.0L222.0,177.5L222.8,177.0L223.0,176.9L224.0,176.5L225.0,176.2L226.0,176.1L227.0,176.2L228.0,176.5L229.0,177.0L229.0,177.0L230.0,177.6L230.9,178.0L231.0,178.0L231.9,178.0L232.0,178.0L232.7,177.0L233.0,176.5L233.2,176.0L233.7,175.0L234.0,174.5L234.3,174.0L235.0,173.2L235.1,173.0L236.0,172.2L236.2,172.0L237.0,171.4L237.5,171.0L238.0,170.7L239.0,170.0L239.0,170.0L240.0,169.4L240.7,169.0L241.0,168.8L242.0,168.2L242.4,168.0L243.0,167.6L244.0,167.0L244.0,167.0L245.0,166.3L245.5,166.0L246.0,165.7L247.0,165.1L247.1,165.0L248.0,164.5L248.9,164.0L249.0,163.9L250.0,163.5L251.0,163.2L251.9,163.0L252.0,163.0L253.0,162.9L254.0,163.0L254.1,163.0L255.0,163.2L256.0,163.5L257.0,164.0L257.1,164.0L258.0,164.5L258.7,165.0L259.0,165.2L260.0,166.0L260.0,166.0L261.0,166.9L261.1,167.0L262.0,167.9L262.1,168.0L263.0,169.0L263.0,169.0L263.8,170.0L264.0,170.3L264.5,171.0L265.0,171.7L265.2,172.0L265.8,173.0L266.0,173.3L266.4,174.0L267.0,175.0L267.0,175.0L267.5,176.0L268.0,177.0L268.0,177.0L268.4,178.0L268.8,179.0L269.0,179.8L269.0,180.0L269.3,181.0L269.5,182.0L269.7,183.0L269.8,184.0L270.0,185.0L270.0,185.0L270.1,186.0L270.3,187.0L270.5,188.0L270.7,189.0L270.9,190.0L271.0,190.3L271.2,191.0L271.5,192.0L271.9,193.0L272.0,193.3L272.3,194.0L272.9,195.0L273.0,195.2L273.5,196.0L274.0,196.6L274.3,197.0L275.0,197.7L275.3,198.0L276.0,198.6L276.6,199.0L277.0,199.3L278.0,199.9L278.3,200.0L279.0,200.4L280.0,200.8L280.7,201.0L281.0,201.1L282.0,201.4L283.0,201.6L284.0,201.8L285.0,201.9L285.7,202.0L286.0,202.0L287.0,202.0L288.0,202.0L288.1,202.0L289.0,201.9L290.0,201.8L291.0,201.6L292.0,201.3L293.0,201.0L293.1,201.0L294.0,200.7L295.0,200.3L295.9,200.0L296.0,200.0L297.0,199.6L298.0,199.1L298.3,199.0L299.0,198.7L300.0,198.2L300.0,199.0L300.0,200.0L300.0,201.0L300.0,202.0L300.0,203.0L300.0,204.0L300.0,205.0L300.0,206.0L300.0,207.0L300.0,208.0L300.0,209.0L300.0,210.0L300.0,211.0L300.0,212.0L300.0,213.0L300.0,214.0L300.0,215.0L300.0,216.0L300.0,217.0L300.0,218.0L300.0,219.0L300.0,220.0L300.0,221.0L300.0,222.0L300.0,223.0L300.0,224.0L300.0,225.0L300.0,226.0L300.0,227.0L300.0,228.0L300.0,229.0L300.0,230.0L300.0,231.0L300.0,232.0L300.0,232.9L299.0,232.7L298.0,232.6L297.0,232.5L296.0,232.3L295.0,232.2L294.0,232.1L293.0,232.1L292.0,232.2L291.0,232.3L290.0,232.4L289.0,232.6L288.0,232.8L287.0,232.9L286.7,233.0L286.0,233.1L285.0,233.4L284.0,233.6L283.0,233.8L282.0,234.0L281.9,234.0L281.0,234.3L280.0,234.6L279.0,235.0L279.0,235.0L278.0,235.7L277.7,236.0L277.0,236.7L276.7,237.0L276.0,237.8L275.8,238.0L275.0,238.9L274.9,239.0L274.1,240.0L274.0,240.1L273.1,241.0L273.0,241.1L272.1,242.0L272.0,242.1L271.0,242.9L270.9,243.0L270.0,243.7L269.6,244.0L269.0,244.4L268.0,245.0L268.0,245.0L267.0,245.6L266.1,246.0L266.0,246.1L265.0,246.5L264.0,246.8L263.1,247.0L263.0,247.0L262.0,247.2L261.0,247.3L260.0,247.4L259.0,247.4L258.0,247.4L257.0,247.4L256.0,247.4L255.0,247.3L254.0,247.3L253.0,247.2L252.0,247.1L251.0,247.1L250.0,247.0L249.8,247.0L249.0,247.0L248.0,246.9L247.0,246.9L246.0,246.8L245.0,246.7L244.0,246.7L243.0,246.6L242.0,246.6L241.0,246.5L240.0,246.5L239.0,246.4L238.0,246.4L237.0,246.5L236.0,246.5L235.0,246.6L234.0,246.7L233.0,246.8L232.0,247.0L232.0,247.0L231.0,247.1L230.0,247.3L229.0,247.5L228.0,247.6L227.0,247.8L226.0,247.9L225.4,248.0L225.0,248.1L224.0,248.1L223.0,248.2L222.0,248.1L221.0,248.1L220.4,248.0L220.0,248.0L219.0,247.8L218.0,247.7L217.0,247.6L216.0,247.5L215.0,247.4L214.0,247.3L213.0,247.3L212.0,247.3L211.0,247.3L210.0,247.4L209.0,247.5L208.0,247.7L207.0,247.9L206.7,248.0L206.0,248.2L205.0,248.5L204.0,248.9L203.8,249.0L203.0,249.3L202.0,249.8L201.5,250.0L201.0,250.2L200.0,250.6L199.2,251.0L199.0,251.1L198.0,251.5L197.0,251.9L196.6,252.0L196.0,252.2L195.0,252.5L194.0,252.8L193.4,253.0L193.0,253.1L192.0,253.4L191.0,253.7L190.0,254.0L190.0,254.0L189.0,254.3L188.0,254.7L187.1,255.0L187.0,255.0L186.0,255.4L185.0,255.8L184.3,256.0L184.0,256.1L183.0,256.4L182.0,256.7L181.0,257.0L180.8,257.0L180.0,257.1L179.0,257.3L178.0,257.4L177.0,257.4L176.0,257.4L175.0,257.3L174.0,257.2L173.0,257.1L172.6,257.0L172.0,256.9L171.0,256.7L170.0,256.4L169.0,256.2L168.5,256.0L168.0,255.8L167.0,255.4L166.0,255.0L166.0,255.0L165.0,254.5L164.2,254.0L164.0,253.9L163.0,253.2L162.7,253.0L162.0,252.4L161.5,252.0L161.0,251.5L160.5,251.0L160.0,250.5L159.5,250.0L159.0,249.6L158.4,249.0L158.0,248.7L157.0,248.0L157.0,248.0L156.0,247.5L155.0,247.1L154.4,247.0L154.0,246.9L153.1,247.0L153.0,247.0L152.0,247.3L151.0,247.9L150.8,248.0L150.0,248.7L149.7,249.0L149.0,249.9L148.9,250.0L148.1,251.0L148.0,251.1L147.3,252.0L147.0,252.3L146.3,253.0L146.0,253.3L145.1,254.0L145.0,254.1L144.0,254.7L143.5,255.0L143.0,255.2L142.0,255.7L141.1,256.0L141.0,256.0L140.0,256.3L139.0,256.6L138.0,256.8L137.0,257.0L136.7,257.0L136.0,257.1L135.0,257.2L134.0,257.3L133.0,257.4L132.0,257.4L131.0,257.4L130.0,257.4L129.0,257.3L128.0,257.2L127.0,257.1L126.0,257.0L125.7,257.0L125.0,256.9L124.0,256.8L123.0,256.6L122.0,256.5L121.0,256.3L120.0,256.1L119.7,256.0L119.0,255.8L118.0,255.6L117.0,255.3L116.0,255.1L115.7,255.0L115.0,254.8L114.0,254.5L113.0,254.2L112.3,254.0L112.0,253.9L111.0,253.5L110.0,253.2L109.6,253.0L109.0,252.7L108.0,252.3L107.4,252.0L107.0,251.8L106.0,251.2L105.5,251.0L105.0,250.7L104.0,250.2L103.5,250.0L103.0,249.7L102.0,249.3L101.2,249.0L101.0,248.9L100.0,248.5L99.0,248.2L98.4,248.0L98.0,247.9L97.0,247.5L96.0,247.1L95.6,247.0L95.0,246.8L94.0,246.5L93.0,246.2L92.0,246.0L91.9,246.0L91.0,245.9L90.0,245.8L89.0,245.9L88.2,246.0L88.0,246.0L87.0,246.3L86.0,246.6L85.1,247.0L85.0,247.1L84.0,247.5L83.0,248.0L83.0,248.0L82.0,248.4L81.0,248.8L80.6,249.0L80.0,249.2L79.0,249.6L78.2,250.0L78.0,250.1L77.0,250.6L76.0,251.0L76.0,251.0L75.0,251.5L74.0,251.9L73.6,252.0L73.0,252.2L72.0,252.5L71.0,252.6L70.0,252.7L69.0,252.8L68.0,252.8L67.0,252.7L67.0,252.0L67.0,251.0L67.0,250.0L67.0,249.0L67.0,248.0L67.0,247.0L67.0,246.0L67.0,245.7L68.0,245.5L69.0,245.3L70.0,245.0L70.1,245.0L71.0,244.7L72.0,244.2L72.4,244.0L73.0,243.6L73.9,243.0L74.0,242.9L75.0,242.1L75.1,242.0L75.9,241.0L76.0,240.9L76.6,240.0L77.0,239.3L77.2,239.0L77.6,238.0L77.9,237.0L78.0,236.8L78.2,236.0L78.4,235.0L78.7,234.0L78.8,233.0L79.0,232.0L79.0,231.9L79.1,231.0L79.2,230.0L79.3,229.0L79.3,228.0L79.3,227.0L79.2,226.0L79.1,225.0L79.0,224.3L79.0,224.0L78.8,223.0L78.7,222.0L78.5,221.0L78.4,220.0L78.2,219.0L78.1,218.0L78.0,217.6L77.9,217.0L77.7,216.0L77.5,215.0L77.3,214.0L77.0,213.0L77.0,213.0L76.7,212.0L76.5,211.0L76.2,210.0L76.0,209.2L75.9,209.0L75.7,208.0L75.5,207.0L75.3,206.0L75.2,205.0L75.1,204.0L75.1,203.0L75.1,202.0L75.1,201.0L75.1,200.0L75.2,199.0L75.2,198.0L75.2,197.0L75.2,196.0L75.2,195.0L75.0,194.0L75.0,193.8L74.8,193.0L74.5,192.0L74.0,191.0L74.0,191.0L73.3,190.0L73.0,189.7L72.1,189.0L72.0,188.9L71.0,188.4L70.2,188.0L70.0,187.9L69.0,187.6L68.0,187.3L67.0,187.1L67.0,187.0L67.0,186.0L67.0,185.0L67.0,184.0L67.0,183.0L67.0,182.0L67.0,181.0L67.0,180.0L67.0,179.0L67.0,178.0L67.0,177.0L67.0,176.0L67.0,175.0L67.0,174.0L67.0,173.0L67.0,172.0L67.0,171.0L67.0,170.0L67.0,169.0L67.0,168.0L67.0,167.0L67.0,166.0L67.0,165.0L67.0,164.0L67.0,163.0L67.0,162.0L67.0,161.0L67.0,160.0L67.0,159.0L67.0,158.0L67.0,157.0L67.0,156.0L67.0,155.0L67.0,154.0L67.0,153.0L67.0,152.0L67.0,151.0L67.0,150.0L67.0,149.0L67.0,148.0L67.0,147.0L67.0,146.0L67.0,145.0L67.0,144.0L67.0,143.0L67.0,142.0L67.0,141.0L67.0,140.0L67.0,139.0L67.0,138.0L67.0,137.0L67.0,136.0L67.0,135.0L67.0,134.0L67.0,133.0L67.0,132.0L67.0,131.0L67.0,130.0L67.0,129.0L67.0,128.0L67.0,127.0L67.0,126.0L67.0,125.0L67.0,124.0L67.0,123.0L67.0,122.0L67.0,121.0L67.0,120.0L67.0,119.0L67.0,118.0L67.0,117.0L67.0,116.0L67.0,115.0L67.0,114.0L67.0,113.0L67.0,112.0L67.0,111.0L67.0,110.0L67.0,109.0L67.0,108.0L67.0,107.0L67.0,106.0L67.0,105.0L67.0,104.0L67.0,103.0L67.0,102.0L67.0,101.9L68.0,101.6L69.0,101.3L69.8,101.0L70.0,100.9L71.0,100.5L72.0,100.1L72.2,100.0L73.0,99.6L74.0,99.0L74.0,99.0L75.0,98.4L75.6,98.0L76.0,97.7L76.9,97.0L77.0,97.0L78.0,96.2L78.3,96.0L79.0,95.5L79.8,95.0L80.0,94.9L81.0,94.3L81.9,94.0L82.0,93.9L83.0,93.7L84.0,93.7L85.0,93.9L85.6,94.0L86.0,94.1L87.0,94.5L88.0,95.0L88.1,95.0L89.0,95.5L89.8,96.0L90.0,96.1L91.0,96.8L91.4,97.0L92.0,97.3L93.0,97.8L93.4,98.0L94.0,98.2L95.0,98.5L96.0,98.6L97.0,98.5L98.0,98.3L98.8,98.0L99.0,97.9L100.0,97.3L100.3,97.0L101.0,96.4L101.3,96.0L102.0,95.2L102.1,95.0L102.9,94.0L103.0,93.8L103.6,93.0L104.0,92.5L104.4,92.0L105.0,91.3L105.2,91.0L106.0,90.2L106.3,90.0L107.0,89.4L107.5,89.0L108.0,88.7L109.0,88.1L109.1,88.0L110.0,87.5L111.0,87.1L111.2,87.0L112.0,86.7L113.0,86.3L114.0,86.0L114.0,86.0ZM165.3,207.0L165.0,207.3L164.4,208.0L164.0,208.7L163.8,209.0L163.5,210.0L163.4,211.0L163.7,212.0L164.0,212.6L164.4,213.0L165.0,213.4L166.0,213.8L166.6,214.0L167.0,214.1L168.0,214.2L169.0,214.1L170.0,214.0L170.1,214.0L171.0,213.8L172.0,213.4L172.6,213.0L173.0,212.7L173.6,212.0L174.0,211.0L173.9,210.0L173.4,209.0L173.0,208.6L172.4,208.0L172.0,207.7L171.0,207.0L170.9,207.0L170.0,206.6L169.0,206.3L168.0,206.2L167.0,206.2L166.0,206.6ZM131.9,216.0L131.0,216.1L130.0,216.2L129.0,216.4L128.0,216.6L127.0,217.0L126.9,217.0L126.0,217.4L125.0,217.9L124.9,218.0L124.0,218.7L123.6,219.0L123.0,219.6L122.6,220.0L122.0,220.7L121.8,221.0L121.0,222.0L121.0,222.0L120.3,223.0L120.0,223.5L119.6,224.0L119.0,224.8L118.8,225.0L118.0,225.9L118.0,226.0L117.0,227.0L117.0,227.0L116.0,227.8L115.8,228.0L115.0,228.6L114.5,229.0L114.0,229.3L113.0,230.0L113.0,230.0L112.0,230.7L111.6,231.0L111.0,231.4L110.4,232.0L110.0,232.4L109.6,233.0L109.0,234.0L109.0,234.1L108.8,235.0L108.8,236.0L109.0,237.0L109.0,237.0L109.6,238.0L110.0,238.5L110.7,239.0L111.0,239.2L112.0,239.6L113.0,239.7L114.0,239.7L115.0,239.7L116.0,239.5L117.0,239.3L118.0,239.0L118.2,239.0L119.0,238.8L120.0,238.5L121.0,238.2L122.0,238.0L122.0,238.0L123.0,237.7L124.0,237.4L125.0,237.1L125.1,237.0L126.0,236.6L127.0,236.1L127.1,236.0L128.0,235.4L128.7,235.0L129.0,234.7L130.0,234.0L130.0,234.0L131.0,233.2L131.3,233.0L132.0,232.5L132.6,232.0L133.0,231.7L134.0,231.0L134.0,231.0L135.0,230.2L135.4,230.0L136.0,229.5L136.8,229.0L137.0,228.9L138.0,228.2L138.2,228.0L139.0,227.4L139.6,227.0L140.0,226.6L140.7,226.0L141.0,225.7L141.6,225.0L142.0,224.5L142.3,224.0L142.8,223.0L142.9,222.0L142.8,221.0L142.3,220.0L142.0,219.7L141.4,219.0L141.0,218.6L140.1,218.0L140.0,217.9L139.0,217.4L138.0,217.0L138.0,217.0L137.0,216.7L136.0,216.4L135.0,216.2L134.0,216.1L133.0,216.0L132.8,216.0L132.0,216.0ZM123.0,156.4L124.0,156.0L125.0,156.1L126.0,156.6L126.4,157.0L127.0,157.7L127.2,158.0L127.7,159.0L128.0,159.7L128.1,160.0L128.4,161.0L128.6,162.0L128.7,163.0L128.8,164.0L128.7,165.0L128.6,166.0L128.3,167.0L128.0,167.7L127.8,168.0L127.0,169.0L127.0,169.0L126.0,169.7L125.0,170.0L125.0,170.0L124.0,170.0L124.0,170.0L123.0,169.8L122.0,169.3L121.5,169.0L121.0,168.7L120.3,168.0L120.0,167.7L119.5,167.0L119.0,166.1L119.0,166.0L118.7,165.0L118.5,164.0L118.6,163.0L118.8,162.0L119.0,161.3L119.1,161.0L119.6,160.0L120.0,159.4L120.3,159.0L121.0,158.1L121.1,158.0L122.0,157.1L122.2,157.0ZM74.0,261.5L75.0,261.3L76.0,261.3L77.0,261.6L77.7,262.0L78.0,262.1L79.0,262.7L79.3,263.0L80.0,263.5L80.5,264.0L81.0,264.4L81.6,265.0L82.0,265.5L82.5,266.0L83.0,266.9L83.1,267.0L83.4,268.0L83.5,269.0L83.4,270.0L83.0,271.0L83.0,271.1L82.6,272.0L82.0,272.9L82.0,273.0L81.4,274.0L81.0,274.6L80.8,275.0L80.3,276.0L80.0,277.0L80.0,277.0L79.7,278.0L79.6,279.0L79.5,280.0L79.5,281.0L79.4,282.0L79.2,283.0L79.0,283.8L78.9,284.0L78.4,285.0L78.0,285.6L77.6,286.0L77.0,286.5L76.0,286.9L75.6,287.0L75.0,287.1L74.0,287.0L73.8,287.0L73.0,286.8L72.0,286.3L71.6,286.0L71.0,285.5L70.5,285.0L70.0,284.3L69.8,284.0L69.3,283.0L69.0,282.0L69.0,281.7L68.9,281.0L68.9,280.0L68.9,279.0L69.0,278.0L69.0,277.0L68.8,276.0L68.6,275.0L68.4,274.0L68.3,273.0L68.2,272.0L68.2,271.0L68.3,270.0L68.5,269.0L68.8,268.0L69.0,267.6L69.3,267.0L69.8,266.0L70.0,265.7L70.5,265.0L71.0,264.3L71.2,264.0L72.0,263.1L72.1,263.0L73.0,262.1L73.2,262.0ZM74.8,266.0L74.0,266.6L73.6,267.0L73.0,267.8L72.9,268.0L72.3,269.0L72.0,269.9L72.0,270.0L71.7,271.0L71.6,272.0L71.6,273.0L71.7,274.0L71.9,275.0L72.0,276.0L72.0,276.0L72.2,277.0L72.3,278.0L72.3,279.0L72.4,280.0L72.6,281.0L72.9,282.0L73.0,282.1L74.0,283.0L74.0,283.0L75.0,283.1L75.2,283.0L76.0,282.4L76.3,282.0L76.6,281.0L76.8,280.0L77.0,279.3L77.1,279.0L77.3,278.0L77.7,277.0L78.0,276.4L78.2,276.0L78.7,275.0L79.0,274.4L79.2,274.0L79.6,273.0L80.0,272.2L80.1,272.0L80.5,271.0L80.8,270.0L81.0,269.0L81.0,269.0L81.0,269.0L80.9,268.0L80.6,267.0L80.0,266.3L79.5,266.0L79.0,265.7L78.0,265.4L77.0,265.3L76.0,265.5L75.0,265.9Z" fill="#c8dc3c" fill-rule="evenodd"/>
<path d="M166.0,206.6L167.0,206.2L168.0,206.2L169.0,206.3L170.0,206.6L170.9,207.0L171.0,207.0L172.0,207.7L172.4,208.0L173.0,208.6L173.4,209.0L173.9,210.0L174.0,211.0L173.6,212.0L173.0,212.7L172.6,213.0L172.0,213.4L171.0,213.8L170.1,214.0L170.0,214.0L169.0,214.1L168.0,214.2L167.0,214.1L166.6,214.0L166.0,213.8L165.0,213.4L164.4,213.0L164.0,212.6L163.7,212.0L163.4,211.0L163.5,210.0L163.8,209.0L164.0,208.7L164.4,208.0L165.0,207.3L165.3,207.0ZM132.0,216.0L132.8,216.0L133.0,216.0L134.0,216.1L135.0,216.2L136.0,216.4L137.0,216.7L138.0,217.0L138.0,217.0L139.0,217.4L140.0,217.9L140.1,218.0L141.0,218.6L141.4,219.0L142.0,219.7L142.3,220.0L142.8,221.0L142.9,222.0L142.8,223.0L142.3,224.0L142.0,224.5L141.6,225.0L141.0,225.7L140.7,226.0L140.0,226.6L139.6,227.0L139.0,227.4L138.2,228.0L138.0,228.2L137.0,228.9L136.8,229.0L136.0,229.5L135.4,230.0L135.0,230.2L134.0,231.0L134.0,231.0L133.0,231.7L132.6,232.0L132.0,232.5L131.3,233.0L131.0,233.2L130.0,234.0L130.0,234.0L129.0,234.7L128.7,235.0L128.0,235.4L127.1,236.0L127.0,236.1L126.0,236.6L125.1,237.0L125.0,237.1L124.0,237.4L123.0,237.7L122.0,238.0L122.0,238.0L121.0,238.2L120.0,238.5L119.0,238.8L118.2,239.0L118.0,239.0L117.0,239.3L116.0,239.5L115.0,239.7L114.0,239.7L113.0,239.7L112.0,239.6L111.0,239.2L110.7,239.0L110.0,238.5L109.6,238.0L109.0,237.0L109.0,237.0L108.8,236.0L108.8,235.0L109.0,234.1L109.0,234.0L109.6,233.0L110.0,232.4L110.4,232.0L111.0,231.4L111.6,231.0L112.0,230.7L113.0,230.0L113.0,230.0L114.0,229.3L114.5,229.0L115.0,228.6L115.8,228.0L116.0,227.8L117.0,227.0L117.0,227.0L118.0,226.0L118.0,225.9L118.8,225.0L119.0,224.8L119.6,224.0L120.0,223.5L120.3,223.0L121.0,222.0L121.0,222.0L121.8,221.0L122.0,220.7L122.6,220.0L123.0,219.6L123.6,219.0L124.0,218.7L124.9,218.0L125.0,217.9L126.0,217.4L126.9,217.0L127.0,217.0L128.0,216.6L129.0,216.4L130.0,216.2L131.0,216.1L131.9,216.0ZM287.0,232.9L288.0,232.8L289.0,232.6L290.0,232.4L291.0,232.3L292.0,232.2L293.0,232.1L294.0,232.1L295.0,232.2L296.0,232.3L297.0,232.5L298.0,232.6L299.0,232.7L300.0,232.9L300.0,233.0L300.0,234.0L300.0,235.0L300.0,236.0L300.0,237.0L300.0,238.0L300.0,239.0L300.0,240.0L300.0,241.0L300.0,242.0L300.0,243.0L300.0,244.0L300.0,245.0L300.0,246.0L300.0,247.0L300.0,248.0L300.0,249.0L300.0,250.0L300.0,251.0L300.0,252.0L300.0,253.0L300.0,254.0L300.0,255.0L300.0,256.0L300.0,257.0L300.0,258.0L300.0,259.0L300.0,260.0L300.0,261.0L300.0,262.0L300.0,262.3L299.0,262.1L298.5,262.0L298.0,261.9L297.0,261.7L296.0,261.6L295.0,261.4L294.0,261.3L293.0,261.2L292.0,261.1L291.0,261.1L290.0,261.0L289.0,261.0L288.1,261.0L288.0,261.0L287.0,261.0L286.0,261.0L285.0,261.0L284.0,261.0L283.0,261.0L282.0,261.0L281.9,261.0L281.0,261.0L280.0,261.1L279.0,261.2L278.0,261.4L277.0,261.6L276.0,261.8L275.4,262.0L275.0,262.1L274.0,262.4L273.0,262.7L272.0,263.0L271.9,263.0L271.0,263.3L270.0,263.5L269.0,263.8L268.2,264.0L268.0,264.1L267.0,264.3L266.0,264.5L265.0,264.8L264.0,265.0L263.8,265.0L263.0,265.2L262.0,265.4L261.0,265.5L260.0,265.7L259.0,265.8L258.0,266.0L257.8,266.0L257.0,266.1L256.0,266.2L255.0,266.3L254.0,266.3L253.0,266.4L252.0,266.4L251.0,266.4L250.0,266.3L249.0,266.2L248.0,266.1L247.5,266.0L247.0,265.9L246.0,265.7L245.0,265.5L244.0,265.3L243.0,265.1L242.4,265.0L242.0,264.9L241.0,264.7L240.0,264.5L239.0,264.3L238.0,264.1L237.4,264.0L237.0,263.9L236.0,263.8L235.0,263.6L234.0,263.5L233.0,263.3L232.0,263.2L231.0,263.1L230.4,263.0L230.0,262.9L229.0,262.8L228.0,262.7L227.0,262.6L226.0,262.5L225.0,262.4L224.0,262.3L223.0,262.2L222.0,262.1L221.0,262.1L220.0,262.0L219.2,262.0L219.0,262.0L218.0,262.0L217.0,261.9L216.0,261.8L215.0,261.8L214.0,261.7L213.0,261.7L212.0,261.6L211.0,261.5L210.0,261.5L209.0,261.4L208.0,261.3L207.0,261.3L206.0,261.3L205.0,261.3L204.0,261.2L203.0,261.2L202.0,261.2L201.0,261.2L200.0,261.3L199.0,261.3L198.0,261.4L197.0,261.5L196.0,261.6L195.0,261.9L194.6,262.0L194.0,262.2L193.0,262.7L192.5,263.0L192.0,263.3L191.0,263.9L190.9,264.0L190.0,264.6L189.3,265.0L189.0,265.2L188.0,265.8L187.7,266.0L187.0,266.4L186.0,266.9L185.9,267.0L185.0,267.4L184.0,267.8L183.4,268.0L183.0,268.1L182.0,268.4L181.0,268.7L180.0,268.8L179.0,269.0L179.0,269.0L178.0,269.1L177.0,269.2L176.0,269.3L175.0,269.3L174.0,269.3L173.0,269.3L172.0,269.3L171.0,269.3L170.0,269.3L169.0,269.2L168.0,269.2L167.0,269.2L166.0,269.3L165.0,269.3L164.0,269.3L163.0,269.4L162.0,269.5L161.0,269.6L160.0,269.7L159.0,269.8L158.0,269.9L157.6,270.0L157.0,270.1L156.0,270.2L155.0,270.3L154.0,270.5L153.0,270.6L152.0,270.7L151.0,270.8L150.0,271.0L149.7,271.0L149.0,271.1L148.0,271.3L147.0,271.4L146.0,271.6L145.0,271.8L144.1,272.0L144.0,272.0L143.0,272.3L142.0,272.7L141.1,273.0L141.0,273.1L140.0,273.5L139.2,274.0L139.0,274.1L138.0,274.8L137.7,275.0L137.0,275.6L136.5,276.0L136.0,276.5L135.4,277.0L135.0,277.4L134.3,278.0L134.0,278.3L133.2,279.0L133.0,279.1L132.0,279.8L131.7,280.0L131.0,280.4L130.0,280.8L129.6,281.0L129.0,281.2L128.0,281.4L127.0,281.4L126.0,281.4L125.0,281.2L124.5,281.0L124.0,280.8L123.0,280.2L122.7,280.0L122.0,279.3L121.8,279.0L121.1,278.0L121.0,277.9L120.5,277.0L120.1,276.0L120.0,275.8L119.7,275.0L119.2,274.0L119.0,273.6L118.7,273.0L118.1,272.0L118.0,271.9L117.3,271.0L117.0,270.7L116.2,270.0L116.0,269.8L115.0,269.1L114.8,269.0L114.0,268.6L113.0,268.1L112.8,268.0L112.0,267.7L111.0,267.4L110.0,267.1L109.7,267.0L109.0,266.8L108.0,266.6L107.0,266.3L106.0,266.1L105.6,266.0L105.0,265.8L104.0,265.5L103.0,265.2L102.6,265.0L102.0,264.7L101.0,264.2L100.7,264.0L100.0,263.6L99.2,263.0L99.0,262.9L98.1,262.0L98.0,261.9L97.2,261.0L97.0,260.8L96.4,260.0L96.0,259.6L95.5,259.0L95.0,258.5L94.5,258.0L94.0,257.5L93.4,257.0L93.0,256.7L92.0,256.1L91.9,256.0L91.0,255.6L90.0,255.2L89.3,255.0L89.0,254.9L88.0,254.8L87.0,254.7L86.0,254.8L85.2,255.0L85.0,255.0L84.0,255.4L83.0,255.9L82.9,256.0L82.0,256.9L81.9,257.0L81.4,258.0L81.3,259.0L81.4,260.0L81.6,261.0L82.0,261.9L82.1,262.0L82.7,263.0L83.0,263.4L83.8,264.0L84.0,264.2L85.0,265.0L85.0,265.0L85.9,266.0L86.0,266.1L86.6,267.0L86.9,268.0L87.0,269.0L86.8,270.0L86.4,271.0L86.0,271.5L85.7,272.0L85.0,272.7L84.8,273.0L84.0,273.8L83.9,274.0L83.0,275.0L83.0,275.0L82.3,276.0L82.0,276.7L81.9,277.0L81.7,278.0L81.7,279.0L81.8,280.0L81.9,281.0L82.0,281.7L82.1,282.0L82.2,283.0L82.2,284.0L82.2,285.0L82.0,286.0L82.0,286.0L81.7,287.0L81.3,288.0L81.0,288.4L80.6,289.0L80.0,289.6L79.5,290.0L79.0,290.3L78.0,290.9L77.5,291.0L77.0,291.2L76.0,291.3L75.0,291.3L74.0,291.1L73.5,291.0L73.0,290.9L72.0,290.5L71.2,290.0L71.0,289.9L70.0,289.3L69.6,289.0L69.0,288.5L68.4,288.0L68.0,287.6L67.4,287.0L67.0,286.4L67.0,286.0L67.0,285.0L67.0,284.0L67.0,283.0L67.0,282.0L67.0,281.0L67.0,280.0L67.0,279.0L67.0,278.0L67.0,277.0L67.0,276.0L67.0,275.0L67.0,274.0L67.0,273.0L67.0,272.0L67.0,271.0L67.0,270.0L67.0,269.0L67.0,268.0L67.0,267.0L67.0,266.0L67.0,265.0L67.0,264.0L67.0,263.0L67.0,262.0L67.0,261.0L67.0,260.0L67.0,259.0L67.0,258.0L67.0,257.0L67.0,256.0L67.0,255.0L67.0,254.0L67.0,253.0L67.0,252.7L68.0,252.8L69.0,252.8L70.0,252.7L71.0,252.6L72.0,252.5L73.0,252.2L73.6,252.0L74.0,251.9L75.0,251.5L76.0,251.0L76.0,251.0L77.0,250.6L78.0,250.1L78.2,250.0L79.0,249.6L80.0,249.2L80.6,249.0L81.0,248.8L82.0,248.4L83.0,248.0L83.0,248.0L84.0,247.5L85.0,247.1L85.1,247.0L86.0,246.6L87.0,246.3L88.0,246.0L88.2,246.0L89.0,245.9L90.0,245.8L91.0,245.9L91.9,246.0L92.0,246.0L93.0,246.2L94.0,246.5L95.0,246.8L95.6,247.0L96.0,247.1L97.0,247.5L98.0,247.9L98.4,248.0L99.0,248.2L100.0,248.5L101.0,248.9L101.2,249.0L102.0,249.3L103.0,249.7L103.5,250.0L104.0,250.2L105.0,250.7L105.5,251.0L106.0,251.2L107.0,251.8L107.4,252.0L108.0,252.3L109.0,252.7L109.6,253.0L110.0,253.2L111.0,253.5L112.0,253.9L112.3,254.0L113.0,254.2L114.0,254.5L115.0,254.8L115.7,255.0L116.0,255.1L117.0,255.3L118.0,255.6L119.0,255.8L119.7,256.0L120.0,256.1L121.0,256.3L122.0,256.5L123.0,256.6L124.0,256.8L125.0,256.9L125.7,257.0L126.0,257.0L127.0,257.1L128.0,257.2L129.0,257.3L130.0,257.4L131.0,257.4L132.0,257.4L133.0,257.4L134.0,257.3L135.0,257.2L136.0,257.1L136.7,257.0L137.0,257.0L138.0,256.8L139.0,256.6L140.0,256.3L141.0,256.0L141.1,256.0L142.0,255.7L143.0,255.2L143.5,255.0L144.0,254.7L145.0,254.1L145.1,254.0L146.0,253.3L146.3,253.0L147.0,252.3L147.3,252.0L148.0,251.1L148.1,251.0L148.9,250.0L149.0,249.9L149.7,249.0L150.0,248.7L150.8,248.0L151.0,247.9L152.0,247.3L153.0,247.0L153.1,247.0L154.0,246.9L154.4,247.0L155.0,247.1L156.0,247.5L157.0,248.0L157.0,248.0L158.0,248.7L158.4,249.0L159.0,249.6L159.5,250.0L160.0,250.5L160.5,251.0L161.0,251.5L161.5,252.0L162.0,252.4L162.7,253.0L163.0,253.2L164.0,253.9L164.2,254.0L165.0,254.5L166.0,255.0L166.0,255.0L167.0,255.4L168.0,255.8L168.5,256.0L169.0,256.2L170.0,256.4L171.0,256.7L172.0,256.9L172.6,257.0L173.0,257.1L174.0,257.2L175.0,257.3L176.0,257.4L177.0,257.4L178.0,257.4L179.0,257.3L180.0,257.1L180.8,257.0L181.0,257.0L182.0,256.7L183.0,256.4L184.0,256.1L184.3,256.0L185.0,255.8L186.0,255.4L187.0,255.0L187.1,255.0L188.0,254.7L189.0,254.3L190.0,254.0L190.0,254.0L191.0,253.7L192.0,253.4L193.0,253.1L193.4,253.0L194.0,252.8L195.0,252.5L196.0,252.2L196.6,252.0L197.0,251.9L198.0,251.5L199.0,251.1L199.2,251.0L200.0,250.6L201.0,250.2L201.5,250.0L202.0,249.8L203.0,249.3L203.8,249.0L204.0,248.9L205.0,248.5L206.0,248.2L206.7,248.0L207.0,247.9L208.0,247.7L209.0,247.5L210.0,247.4L211.0,247.3L212.0,247.3L213.0,247.3L214.0,247.3L215.0,247.4L216.0,247.5L217.0,247.6L218.0,247.7L219.0,247.8L220.0,248.0L220.4,248.0L221.0,248.1L222.0,248.1L223.0,248.2L224.0,248.1L225.0,248.1L225.4,248.0L226.0,247.9L227.0,247.8L228.0,247.6L229.0,247.5L230.0,247.3L231.0,247.1L232.0,247.0L232.0,247.0L233.0,246.8L234.0,246.7L235.0,246.6L236.0,246.5L237.0,246.5L238.0,246.4L239.0,246.4L240.0,246.5L241.0,246.5L242.0,246.6L243.0,246.6L244.0,246.7L245.0,246.7L246.0,246.8L247.0,246.9L248.0,246.9L249.0,247.0L249.8,247.0L250.0,247.0L251.0,247.1L252.0,247.1L253.0,247.2L254.0,247.3L255.0,247.3L256.0,247.4L257.0,247.4L258.0,247.4L259.0,247.4L260.0,247.4L261.0,247.3L262.0,247.2L263.0,247.0L263.1,247.0L264.0,246.8L265.0,246.5L266.0,246.1L266.1,246.0L267.0,245.6L268.0,245.0L268.0,245.0L269.0,244.4L269.6,244.0L270.0,243.7L270.9,243.0L271.0,242.9L272.0,242.1L272.1,242.0L273.0,241.1L273.1,241.0L274.0,240.1L274.1,240.0L274.9,239.0L275.0,238.9L275.8,238.0L276.0,237.8L276.7,237.0L277.0,236.7L277.7,236.0L278.0,235.7L279.0,235.0L279.0,235.0L280.0,234.6L281.0,234.3L281.9,234.0L282.0,234.0L283.0,233.8L284.0,233.6L285.0,233.4L286.0,233.1L286.7,233.0ZM73.2,262.0L73.0,262.1L72.1,263.0L72.0,263.1L71.2,264.0L71.0,264.3L70.5,265.0L70.0,265.7L69.8,266.0L69.3,267.0L69.0,267.6L68.8,268.0L68.5,269.0L68.3,270.0L68.2,271.0L68.2,272.0L68.3,273.0L68.4,274.0L68.6,275.0L68.8,276.0L69.0,277.0L69.0,278.0L68.9,279.0L68.9,280.0L68.9,281.0L69.0,281.7L69.0,282.0L69.3,283.0L69.8,284.0L70.0,284.3L70.5,285.0L71.0,285.5L71.6,286.0L72.0,286.3L73.0,286.8L73.8,287.0L74.0,287.0L75.0,287.1L75.6,287.0L76.0,286.9L77.0,286.5L77.6,286.0L78.0,285.6L78.4,285.0L78.9,284.0L79.0,283.8L79.2,283.0L79.4,282.0L79.5,281.0L79.5,280.0L79.6,279.0L79.7,278.0L80.0,277.0L80.0,277.0L80.3,276.0L80.8,275.0L81.0,274.6L81.4,274.0L82.0,273.0L82.0,272.9L82.6,272.0L83.0,271.1L83.0,271.0L83.4,270.0L83.5,269.0L83.4,268.0L83.1,267.0L83.0,266.9L82.5,266.0L82.0,265.5L81.6,265.0L81.0,264.4L80.5,264.0L80.0,263.5L79.3,263.0L79.0,262.7L78.0,262.1L77.7,262.0L77.0,261.6L76.0,261.3L75.0,261.3L74.0,261.5Z" fill="#e6af2d" fill-rule="evenodd"/>
<path d="M86.0,254.8L87.0,254.7L88.0,254.8L89.0,254.9L89.3,255.0L90.0,255.2L91.0,255.6L91.9,256.0L92.0,256.1L93.0,256.7L93.4,257.0L94.0,257.5L94.5,258.0L95.0,258.5L95.5,259.0L96.0,259.6L96.4,260.0L97.0,260.8L97.2,261.0L98.0,261.9L98.1,262.0L99.0,262.9L99.2,263.0L100.0,263.6L100.7,264.0L101.0,264.2L102.0,264.7L102.6,265.0L103.0,265.2L104.0,265.5L105.0,265.8L105.6,266.0L106.0,266.1L107.0,266.3L108.0,266.6L109.0,266.8L109.7,267.0L110.0,267.1L111.0,267.4L112.0,267.7L112.8,268.0L113.0,268.1L114.0,268.6L114.8,269.0L115.0,269.1L116.0,269.8L116.2,270.0L117.0,270.7L117.3,271.0L118.0,271.9L118.1,272.0L118.7,273.0L119.0,273.6L119.2,274.0L119.7,275.0L120.0,275.8L120.1,276.0L120.5,277.0L121.0,277.9L121.1,278.0L121.8,279.0L122.0,279.3L122.7,280.0L123.0,280.2L124.0,280.8L124.5,281.0L125.0,281.2L126.0,281.4L127.0,281.4L128.0,281.4L129.0,281.2L129.6,281.0L130.0,280.8L131.0,280.4L131.7,280.0L132.0,279.8L133.0,279.1L133.2,279.0L134.0,278.3L134.3,278.0L135.0,277.4L135.4,277.0L136.0,276.5L136.5,276.0L137.0,275.6L137.7,275.0L138.0,274.8L139.0,274.1L139.2,274.0L140.0,273.5L141.0,273.1L141.1,273.0L142.0,272.7L143.0,272.3L144.0,272.0L144.1,272.0L145.0,271.8L146.0,271.6L147.0,271.4L148.0,271.3L149.0,271.1L149.7,271.0L150.0,271.0L151.0,270.8L152.0,270.7L153.0,270.6L154.0,270.5L155.0,270.3L156.0,270.2L157.0,270.1L157.6,270.0L158.0,269.9L159.0,269.8L160.0,269.7L161.0,269.6L162.0,269.5L163.0,269.4L164.0,269.3L165.0,269.3L166.0,269.3L167.0,269.2L168.0,269.2L169.0,269.2L170.0,269.3L171.0,269.3L172.0,269.3L173.0,269.3L174.0,269.3L175.0,269.3L176.0,269.3L177.0,269.2L178.0,269.1L179.0,269.0L179.0,269.0L180.0,268.8L181.0,268.7L182.0,268.4L183.0,268.1L183.4,268.0L184.0,267.8L185.0,267.4L185.9,267.0L186.0,266.9L187.0,266.4L187.7,266.0L188.0,265.8L189.0,265.2L189.3,265.0L190.0,264.6L190.9,264.0L191.0,263.9L192.0,263.3L192.5,263.0L193.0,262.7L194.0,262.2L194.6,262.0L195.0,261.9L196.0,261.6L197.0,261.5L198.0,261.4L199.0,261.3L200.0,261.3L201.0,261.2L202.0,261.2L203.0,261.2L204.0,261.2L205.0,261.3L206.0,261.3L207.0,261.3L208.0,261.3L209.0,261.4L210.0,261.5L211.0,261.5L212.0,261.6L213.0,261.7L214.0,261.7L215.0,261.8L216.0,261.8L217.0,261.9L218.0,262.0L219.0,262.0L219.2,262.0L220.0,262.0L221.0,262.1L222.0,262.1L223.0,262.2L224.0,262.3L225.0,262.4L226.0,262.5L227.0,262.6L228.0,262.7L229.0,262.8L230.0,262.9L230.4,263.0L231.0,263.1L232.0,263.2L233.0,263.3L234.0,263.5L235.0,263.6L236.0,263.8L237.0,263.9L237.4,264.0L238.0,264.1L239.0,264.3L240.0,264.5L241.0,264.7L242.0,264.9L242.4,265.0L243.0,265.1L244.0,265.3L245.0,265.5L246.0,265.7L247.0,265.9L247.5,266.0L248.0,266.1L249.0,266.2L250.0,266.3L251.0,266.4L252.0,266.4L253.0,266.4L254.0,266.3L255.0,266.3L256.0,266.2L257.0,266.1L257.8,266.0L258.0,266.0L259.0,265.8L260.0,265.7L261.0,265.5L262.0,265.4L263.0,265.2L263.8,265.0L264.0,265.0L265.0,264.8L266.0,264.5L267.0,264.3L268.0,264.1L268.2,264.0L269.0,263.8L270.0,263.5L271.0,263.3L271.9,263.0L272.0,263.0L273.0,262.7L274.0,262.4L275.0,262.1L275.4,262.0L276.0,261.8L277.0,261.6L278.0,261.4L279.0,261.2L280.0,261.1L281.0,261.0L281.9,261.0L282.0,261.0L283.0,261.0L284.0,261.0L285.0,261.0L286.0,261.0L287.0,261.0L288.0,261.0L288.1,261.0L289.0,261.0L290.0,261.0L291.0,261.1L292.0,261.1L293.0,261.2L294.0,261.3L295.0,261.4L296.0,261.6L297.0,261.7L298.0,261.9L298.5,262.0L299.0,262.1L300.0,262.3L300.0,263.0L300.0,264.0L300.0,265.0L300.0,266.0L300.0,267.0L300.0,268.0L300.0,269.0L300.0,270.0L300.0,271.0L300.0,272.0L300.0,273.0L300.0,274.0L300.0,275.0L300.0,276.0L300.0,277.0L300.0,278.0L300.0,279.0L300.0,280.0L300.0,281.0L300.0,282.0L300.0,283.0L300.0,284.0L300.0,285.0L300.0,286.0L300.0,287.0L300.0,288.0L300.0,289.0L300.0,290.0L300.0,291.0L300.0,292.0L300.0,293.0L299.0,293.0L298.0,293.0L297.0,293.0L296.0,293.0L295.0,293.0L294.0,293.0L293.0,293.0L292.0,293.0L291.0,293.0L290.0,293.0L289.0,293.0L288.0,293.0L287.0,293.0L286.0,293.0L285.0,293.0L284.0,293.0L283.0,293.0L282.0,293.0L281.0,293.0L280.0,293.0L279.0,293.0L278.0,293.0L277.0,293.0L276.0,293.0L275.0,293.0L274.0,293.0L273.0,293.0L272.0,293.0L271.0,293.0L270.0,293.0L269.0,293.0L268.0,293.0L267.0,293.0L266.0,293.0L265.0,293.0L264.0,293.0L263.0,293.0L262.0,293.0L261.0,293.0L260.0,293.0L259.0,293.0L258.0,293.0L257.0,293.0L256.0,293.0L255.0,293.0L254.0,293.0L253.0,293.0L252.0,293.0L251.0,293.0L250.0,293.0L249.0,293.0L248.0,293.0L247.0,293.0L246.0,293.0L245.0,293.0L244.0,293.0L243.0,293.0L242.0,293.0L241.0,293.0L240.0,293.0L239.0,293.0L238.0,293.0L237.0,293.0L236.0,293.0L235.0,293.0L234.0,293.0L233.0,293.0L232.0,293.0L231.0,293.0L230.0,293.0L229.0,293.0L228.0,293.0L227.0,293.0L226.0,293.0L225.0,293.0L224.0,293.0L223.0,293.0L222.0,293.0L221.0,293.0L220.0,293.0L219.0,293.0L218.0,293.0L217.0,293.0L216.0,293.0L215.0,293.0L214.0,293.0L213.0,293.0L212.0,293.0L211.0,293.0L210.0,293.0L209.0,293.0L208.0,293.0L207.0,293.0L206.0,293.0L205.0,293.0L204.0,293.0L203.0,293.0L202.0,293.0L201.0,293.0L200.0,293.0L199.0,293.0L198.0,293.0L197.0,293.0L196.0,293.0L195.0,293.0L194.0,293.0L193.0,293.0L192.0,293.0L191.0,293.0L190.0,293.0L189.0,293.0L188.0,293.0L187.0,293.0L186.0,293.0L185.0,293.0L184.0,293.0L183.0,293.0L182.0,293.0L181.0,293.0L180.0,293.0L179.0,293.0L178.0,293.0L177.0,293.0L176.0,293.0L175.0,293.0L174.0,293.0L173.0,293.0L172.0,293.0L171.0,293.0L170.0,293.0L169.0,293.0L168.0,293.0L167.0,293.0L166.0,293.0L165.0,293.0L164.0,293.0L163.0,293.0L162.0,293.0L161.0,293.0L160.0,293.0L159.0,293.0L158.0,293.0L157.0,293.0L156.0,293.0L155.0,293.0L154.0,293.0L153.0,293.0L152.0,293.0L151.0,293.0L150.0,293.0L149.0,293.0L148.0,293.0L147.0,293.0L146.0,293.0L145.0,293.0L144.0,293.0L143.0,293.0L142.0,293.0L141.0,293.0L140.0,293.0L139.0,293.0L138.0,293.0L137.0,293.0L136.0,293.0L135.0,293.0L134.0,293.0L133.0,293.0L132.0,293.0L131.0,293.0L130.0,293.0L129.0,293.0L128.0,293.0L127.0,293.0L126.0,293.0L125.0,293.0L124.0,293.0L123.0,293.0L122.0,293.0L121.0,293.0L120.0,293.0L119.0,293.0L118.0,293.0L117.0,293.0L116.0,293.0L115.0,293.0L114.0,293.0L113.0,293.0L112.0,293.0L111.0,293.0L110.0,293.0L109.0,293.0L108.0,293.0L107.0,293.0L106.0,293.0L105.0,293.0L104.0,293.0L103.0,293.0L102.0,293.0L101.0,293.0L100.0,293.0L99.0,293.0L98.0,293.0L97.0,293.0L96.0,293.0L95.0,293.0L94.0,293.0L93.0,293.0L92.0,293.0L91.0,293.0L90.0,293.0L89.0,293.0L88.0,293.0L87.0,293.0L86.0,293.0L85.0,293.0L84.0,293.0L83.0,293.0L82.0,293.0L81.0,293.0L80.0,293.0L79.0,293.0L78.0,293.0L77.0,293.0L76.0,293.0L75.0,293.0L74.0,293.0L73.0,293.0L72.0,293.0L71.0,293.0L70.0,293.0L69.0,293.0L68.0,293.0L67.0,293.0L67.0,292.0L67.0,291.0L67.0,290.0L67.0,289.0L67.0,288.0L67.0,287.0L67.0,286.4L67.4,287.0L68.0,287.6L68.4,288.0L69.0,288.5L69.6,289.0L70.0,289.3L71.0,289.9L71.2,290.0L72.0,290.5L73.0,290.9L73.5,291.0L74.0,291.1L75.0,291.3L76.0,291.3L77.0,291.2L77.5,291.0L78.0,290.9L79.0,290.3L79.5,290.0L80.0,289.6L80.6,289.0L81.0,288.4L81.3,288.0L81.7,287.0L82.0,286.0L82.0,286.0L82.2,285.0L82.2,284.0L82.2,283.0L82.1,282.0L82.0,281.7L81.9,281.0L81.8,280.0L81.7,279.0L81.7,278.0L81.9,277.0L82.0,276.7L82.3,276.0L83.0,275.0L83.0,275.0L83.9,274.0L84.0,273.8L84.8,273.0L85.0,272.7L85.7,272.0L86.0,271.5L86.4,271.0L86.8,270.0L87.0,269.0L86.9,268.0L86.6,267.0L86.0,266.1L85.9,266.0L85.0,265.0L85.0,265.0L84.0,264.2L83.8,264.0L83.0,263.4L82.7,263.0L82.1,262.0L82.0,261.9L81.6,261.0L81.4,260.0L81.3,259.0L81.4,258.0L81.9,257.0L82.0,256.9L82.9,256.0L83.0,255.9L84.0,255.4L85.0,255.0L85.2,255.0Z" fill="#f08228" fill-rule="evenodd"/>
</g>
<line x1="99.9" y1="67" x2="99.9" y2="291" stroke="#b8b8b8" stroke-width="0.8" stroke-dasharray="1,5" opacity="0.8"/>
<line x1="130.3" y1="67" x2="130.3" y2="291" stroke="#b8b8b8" stroke-width="0.8" stroke-dasharray="1,5" opacity="0.8"/>
<line x1="160.7" y1="67" x2="160.7" y2="291" stroke="#b8b8b8" stroke-width="0.8" stroke-dasharray="1,5" opacity="0.8"/>
<line x1="191.1" y1="67" x2="191.1" y2="291" stroke="#b8b8b8" stroke-width="0.8" stroke-dasharray="1,5" opacity="0.8"/>
<line x1="221.5" y1="67" x2="221.5" y2="291" stroke="#b8b8b8" stroke-width="0.8" stroke-dasharray="1,5" opacity="0.8"/>
<line x1="251.9" y1="67" x2="251.9" y2="291" stroke="#b8b8b8" stroke-width="0.8" stroke-dasharray="1,5" opacity="0.8"/>
<line x1="282.3" y1="67" x2="282.3" y2="291" stroke="#b8b8b8" stroke-width="0.8" stroke-dasharray="1,5" opacity="0.8"/>
<line x1="69" y1="99.8" x2="298" y2="99.8" stroke="#b8b8b8" stroke-width="0.8" stroke-dasharray="1,5" opacity="0.8"/>
<line x1="69" y1="134.6" x2="298" y2="134.6" stroke="#b8b8b8" stroke-width="0.8" stroke-dasharray="1,5" opacity="0.8"/>
<line x1="69" y1="169.8" x2="298" y2="169.8" stroke="#b8b8b8" stroke-width="0.8" stroke-dasharray="1,5" opacity="0.8"/>
<line x1="69" y1="205" x2="298" y2="205" stroke="#b8b8b8" stroke-width="0.8" stroke-dasharray="1,5" opacity="0.8"/>
<line x1="69" y1="240.3" x2="298" y2="240.3" stroke="#b8b8b8" stroke-width="0.8" stroke-dasharray="1,5" opacity="0.8"/>
<line x1="69" y1="275.6" x2="298" y2="275.6" stroke="#b8b8b8" stroke-width="0.8" stroke-dasharray="1,5" opacity="0.8"/>
<path d="M52.8,143.8 L58.1,142.9 L66.5,135.8 L73.3,132.3 L77.1,127.9 L86.2,129.7 L83.9,135.0 L80.9,139.4 L78.6,145.5 L82.4,144.6 L87.0,140.2 L92.3,138.5 L101.4,136.7 L102.9,135.4 L108.3,138.5 L106.0,142.0 L110.5,147.3 L106.0,151.7 L112.8,154.3 L117.4,154.3 L119.7,157.8 L121.2,162.2 L118.1,164.8 L119.7,170.1 L118.1,176.3 L117.4,182.4 L123.5,182.4 L128.8,180.7 L134.9,179.8 L138.7,177.2 L141.7,171.9 L141.7,164.8 L140.2,157.8 L134.9,149.9 L132.6,146.4 L127.3,141.1 L128.0,135.8 L135.6,134.1 L144.0,127.9 L144.0,121.8 L150.1,114.7 L155.4,110.3 L162.2,106.8 L169.1,111.2 L175.9,108.6 L185.0,100.7 L193.4,94.5 L201.7,88.4 L208.6,79.6 L214.7,71.7 L219.2,64.6" fill="none" stroke="#000" stroke-width="1.1" stroke-linejoin="round"/>
<path d="M75.6,130.6 L69.5,135.0" fill="none" stroke="#000" stroke-width="1.1" stroke-linejoin="round"/>
<path d="M61.9,159.6 L68.7,156.1 L74.8,154.3 L80.9,156.9 L89.3,157.8 L87.0,162.2 L77.1,165.7 L71.8,170.1 L64.9,177.2 L64.2,181.5 L71.8,185.9 L75.6,196.5 L77.1,201.8 L83.9,207.0 L83.9,213.2 L78.6,217.6 L84.7,222.9 L82.4,229.9 L80.9,236.0 L75.6,242.2 L71.8,247.5 L68.0,253.6 L66.5,259.8 L63.4,265.1 L58.9,270.3" fill="none" stroke="#000" stroke-width="1.1" stroke-linejoin="round"/>
<path d="M235.9,82.2 L238.2,76.9 L241.3,76.9 L244.3,76.9 L248.1,81.3 L246.6,75.2 L244.3,69.0 L243.5,64.6" fill="none" stroke="#000" stroke-width="1.1" stroke-linejoin="round"/>
<path d="M235.9,82.2 L235.2,76.1 L236.7,69.9 L237.5,64.6" fill="none" stroke="#000" stroke-width="1.1" stroke-linejoin="round"/>
<path d="M80.9,264.2 L83.9,266.8 L83.2,273.0 L80.1,282.6 L76.3,290.5 L74.8,293.2 L74.1,288.8 L71.0,285.3 L70.3,279.1 L72.5,272.1 L76.3,267.7 L80.9,264.2 Z" fill="none" stroke="#000" stroke-width="1.1" stroke-linejoin="round"/>
<path d="M235.9,86.6 L234.4,89.3 L234.4,96.3 L232.1,103.3 L231.4,106.8 L225.3,106.0 L223.8,109.5 L220.0,113.0 L221.5,121.8 L224.5,122.7 L226.8,119.1 L229.9,119.1 L225.3,114.7 L227.6,113.0 L233.7,112.1 L239.7,115.6 L245.8,117.8 L248.9,112.1 L254.9,108.8 L261.0,108.6 L265.6,105.1 L261.0,102.4 L261.8,98.0 L254.9,99.8 L248.9,98.0 L241.3,92.8 L235.9,86.6 Z" fill="none" stroke="#000" stroke-width="1.1" stroke-linejoin="round"/>
<path d="M228.3,121.8 L232.1,122.7 L232.9,130.6 L236.7,139.4 L233.7,146.4 L229.1,149.9 L229.1,156.9 L227.6,164.8 L228.3,172.8 L224.5,177.2 L220.7,179.8 L220.0,174.5 L216.2,176.3 L213.1,182.4 L211.6,178.0 L207.8,182.4 L201.0,181.5 L197.9,181.5 L197.2,185.1 L189.6,192.1 L184.3,185.9 L186.5,181.5 L179.7,181.1 L172.1,183.3 L163.7,185.1 L156.9,187.7 L152.7,188.1 L153.9,184.2 L160.7,178.9 L165.3,174.5 L172.1,174.5 L179.7,173.6 L187.3,174.5 L191.1,171.9 L191.9,167.5 L196.4,161.3 L197.2,157.8 L201.0,156.9 L199.5,163.1 L203.3,162.2 L210.1,158.7 L213.9,153.4 L217.7,148.1 L220.7,142.0 L219.2,135.8 L221.5,129.7 L223.8,124.4 L226.1,127.0 L228.3,121.8 Z" fill="none" stroke="#000" stroke-width="1.1" stroke-linejoin="round"/>
<path d="M160.7,193.4 L164.5,198.2 L168.3,199.1 L172.9,192.5 L177.4,194.3 L181.2,189.5 L180.5,185.9 L175.9,184.6 L168.3,187.7 L166.0,189.5 L160.7,193.4 Z" fill="none" stroke="#000" stroke-width="1.1" stroke-linejoin="round"/>
<path d="M152.7,188.6 L147.8,191.2 L144.0,193.0 L144.7,198.2 L144.0,200.0 L147.8,200.9 L147.0,205.3 L147.0,211.4 L150.8,214.1 L153.1,210.6 L156.1,209.7 L156.9,203.5 L159.9,197.4 L158.4,193.9 L156.9,191.2 L152.7,188.6 Z" fill="none" stroke="#000" stroke-width="1.1" stroke-linejoin="round"/>
<path d="M117.4,192.1 L121.9,192.1 L119.7,194.7 L116.6,193.9 L117.4,192.1 Z" fill="none" stroke="#000" stroke-width="1.0" stroke-linejoin="round"/>
<path d="M139.4,181.5 L141.7,182.4 L140.2,186.8 L139.4,181.5 Z" fill="none" stroke="#000" stroke-width="1.0" stroke-linejoin="round"/>
<path d="M207.8,149.9 L210.1,149.9 L210.1,154.3 L207.8,153.4 L207.8,149.9 Z" fill="none" stroke="#000" stroke-width="1.0" stroke-linejoin="round"/>
<path d="M262.5,101.6 L267.1,98.0 L271.7,95.4 L268.6,98.0 L262.5,101.6 Z" fill="none" stroke="#000" stroke-width="1.0" stroke-linejoin="round"/>
<path d="M273.2,94.5 L278.5,91.0 L283.8,86.6 L280.8,89.3 L273.2,94.5 Z" fill="none" stroke="#000" stroke-width="1.0" stroke-linejoin="round"/>
<path d="M286.9,84.0 L292.9,80.5 L289.9,83.1 L286.9,84.0 Z" fill="none" stroke="#000" stroke-width="1.0" stroke-linejoin="round"/>
<path d="M148.5,218.5 L150.4,219.3 L149.3,220.7 L148.5,218.5 Z" fill="none" stroke="#000" stroke-width="1.0" stroke-linejoin="round"/>
<path d="M152.3,215.8 L153.9,218.0 L152.3,219.3 L152.3,215.8 Z" fill="none" stroke="#000" stroke-width="1.0" stroke-linejoin="round"/>
<path d="M139.4,236.5 L143.2,237.8 L140.9,239.6 L139.4,236.5 Z" fill="none" stroke="#000" stroke-width="1.0" stroke-linejoin="round"/>
<path d="M128.0,250.1 L132.6,251.0 L128.8,257.1 L128.0,250.1 Z" fill="none" stroke="#000" stroke-width="1.0" stroke-linejoin="round"/>
<circle cx="144.7" cy="223.7" r="0.9" fill="#000"/>
<circle cx="142.5" cy="227.3" r="0.9" fill="#000"/>
<circle cx="140.9" cy="231.7" r="0.9" fill="#000"/>
<circle cx="137.1" cy="242.2" r="0.9" fill="#000"/>
<circle cx="134.9" cy="245.7" r="0.9" fill="#000"/>
<circle cx="122.7" cy="255.4" r="0.9" fill="#000"/>
<circle cx="109.8" cy="268.6" r="0.9" fill="#000"/>
<circle cx="101.4" cy="272.1" r="0.9" fill="#000"/>
<circle cx="97.6" cy="273.0" r="0.9" fill="#000"/>
<circle cx="216.9" cy="181.5" r="0.9" fill="#000"/>
<circle cx="216.2" cy="184.2" r="0.9" fill="#000"/>
<circle cx="217.7" cy="186.8" r="0.9" fill="#000"/>
<circle cx="218.5" cy="188.6" r="0.9" fill="#000"/>
<circle cx="220.0" cy="195.6" r="0.9" fill="#000"/>
<circle cx="220.7" cy="200.9" r="0.9" fill="#000"/>
<circle cx="221.5" cy="208.8" r="0.9" fill="#000"/>
<circle cx="223.8" cy="218.5" r="0.9" fill="#000"/>
<circle cx="238.2" cy="248.4" r="0.9" fill="#000"/>
<circle cx="237.5" cy="251.9" r="0.9" fill="#000"/>
<circle cx="231.4" cy="268.6" r="0.9" fill="#000"/>
<circle cx="155.4" cy="259.8" r="0.9" fill="#000"/>
<circle cx="136.4" cy="199.1" r="0.9" fill="#000"/>
<circle cx="221.5" cy="214.1" r="0.9" fill="#000"/>
<path d="M176.0,209.8 L173.0,204.0 L184.6,201.0 L200.5,199.0 L225.0,198.0 L242.4,186.7 L254.0,178.0 L260.6,164.9 L268.0,153.8 L275.4,152.0 L281.0,159.3 L288.3,166.7 L293.9,172.3 L298.0,176.0" fill="none" stroke="#000" stroke-width="1.3" stroke-linejoin="round" stroke-linecap="round"/>
<path d="M69.0,222.5 L83.5,222.8 L112.4,222.8 L135.5,222.8 L138.4,230.0 L147.0,234.4 L164.4,230.0 L193.3,228.6 L199.0,235.8 L210.6,244.5 L219.3,250.3 L230.8,253.1 L233.7,256.0 L222.2,264.7 L204.8,276.3 L187.5,292.0" fill="none" stroke="#000" stroke-width="1.3" stroke-linejoin="round" stroke-linecap="round"/>
<path d="M69.0,249.5 L75.9,246.1 L86.2,241.5 L98.9,240.9 L106.9,243.8 L112.7,248.4 L115.0,253.0 L118.4,257.6 L124.2,258.7 L133.4,262.2 L141.4,266.8 L143.7,273.7 L140.3,280.6 L133.4,287.5 L128.8,292.0" fill="none" stroke="#000" stroke-width="1.3" stroke-linejoin="round" stroke-linecap="round"/>
<path d="M69.0,263.3 L75.9,254.1 L86.2,252.4 L97.7,254.1 L105.8,261.0 L110.4,267.9 L117.3,267.9 L119.6,271.4 L115.0,276.0 L112.7,284.0 L110.4,288.0" fill="none" stroke="#000" stroke-width="1.3" stroke-linejoin="round" stroke-linecap="round"/>
<path d="M147.0,292.0 L150.0,264.7 L161.5,251.7 L176.0,248.8 L187.5,256.0 L190.4,264.7 L179.0,276.3 L170.0,280.0" fill="none" stroke="#000" stroke-width="1.3" stroke-linejoin="round" stroke-linecap="round"/>
<path d="M167.0,261.0 L170.0,257.5 L177.0,258.0 L179.0,262.0 L174.0,266.0 L168.0,265.0 L167.0,261.0" fill="none" stroke="#000" stroke-width="1.1" stroke-linejoin="round" stroke-linecap="round"/>
<path d="M298.0,230.0 L282.9,235.8 L271.3,253.0 L268.4,270.5 L256.9,282.0 L254.0,292.0" fill="none" stroke="#000" stroke-width="1.3" stroke-linejoin="round" stroke-linecap="round"/>
<path d="M192.0,240.5 L195.0,237.0 L199.0,239.0 L197.0,244.0 L193.0,244.0 L192.0,240.5" fill="none" stroke="#000" stroke-width="1.1" stroke-linejoin="round" stroke-linecap="round"/>
<path d="M277.0,221.0 L280.0,218.5 L284.0,220.0 L283.0,224.0 L278.0,224.0 L277.0,221.0" fill="none" stroke="#000" stroke-width="1.1" stroke-linejoin="round" stroke-linecap="round"/>
<path d="M158.6,107.5 L170.2,110.4 L196.2,110.4 L202.0,119.0 L204.8,136.4 L207.7,142.0 L204.8,153.7 L196.2,159.5 L190.4,168.0 L184.6,180.0" fill="none" stroke="#000" stroke-width="1.3" stroke-linejoin="round" stroke-linecap="round"/>
<path d="M257.0,96.5 L258.8,89.0 L268.0,83.6 L275.4,78.0 L284.6,74.4 L293.9,72.5 L298.0,74.4" fill="none" stroke="#000" stroke-width="1.3" stroke-linejoin="round" stroke-linecap="round"/>
<path d="M273.6,92.9 L277.2,113.2 L282.8,126.0 L290.2,137.0 L295.7,146.4 L298.0,153.8" fill="none" stroke="#000" stroke-width="1.3" stroke-linejoin="round" stroke-linecap="round"/>
<path d="M288.3,89.0 L286.5,96.5 L290.2,104.0 L295.7,109.5 L298.0,112.0" fill="none" stroke="#000" stroke-width="1.3" stroke-linejoin="round" stroke-linecap="round"/>
<path d="M224.0,67.0 L220.0,76.3 L211.0,87.5 L198.0,95.0 L183.0,102.4 L170.0,108.0" fill="none" stroke="#000" stroke-width="1.3" stroke-linejoin="round" stroke-linecap="round"/>
<path d="M69.0,92.1 L76.4,93.3 L81.3,95.8 L86.2,95.2 L91.0,97.6 L93.5,99.5" fill="none" stroke="#000" stroke-width="1.3" stroke-linejoin="round" stroke-linecap="round"/>
<path d="M115.6,103.8 L119.2,102.5 L122.9,103.8 L126.6,101.3 L132.7,96.4 L137.6,91.5 L142.5,84.2 L146.0,83.0" fill="none" stroke="#000" stroke-width="1.3" stroke-linejoin="round" stroke-linecap="round"/>
<path d="M69.0,103.8 L76.4,105.0 L81.3,107.4 L87.4,108.7 L92.3,107.4" fill="none" stroke="#000" stroke-width="1.3" stroke-linejoin="round" stroke-linecap="round"/>
<path d="M69.0,116.0 L78.8,114.8 L87.4,116.0 L94.7,113.6" fill="none" stroke="#000" stroke-width="1.3" stroke-linejoin="round" stroke-linecap="round"/>
<path d="M73.9,129.5 L81.3,125.8 L88.6,123.4 L96.0,120.9 L100.9,116.0" fill="none" stroke="#000" stroke-width="1.3" stroke-linejoin="round" stroke-linecap="round"/>
<path d="M78.8,140.5 L86.2,135.6 L93.5,130.7 L100.9,127.0 L109.4,123.4 L115.6,122.1" fill="none" stroke="#000" stroke-width="1.3" stroke-linejoin="round" stroke-linecap="round"/>
<path d="M124.1,142.0 L126.6,135.6 L132.7,132.0 L140.0,128.3 L146.0,125.8" fill="none" stroke="#000" stroke-width="1.3" stroke-linejoin="round" stroke-linecap="round"/>
<path d="M97.0,140.0 L95.0,158.6 L80.2,168.0 L69.0,171.7" fill="none" stroke="#000" stroke-width="1.3" stroke-linejoin="round" stroke-linecap="round"/>
<path d="M113.7,141.9 L95.0,168.0 L84.0,177.0 L75.0,190.0" fill="none" stroke="#000" stroke-width="1.3" stroke-linejoin="round" stroke-linecap="round"/>
<path d="M69.0,94.4 L78.4,95.2 L84.7,97.5 L91.0,97.5 L94.1,102.3" fill="none" stroke="#000" stroke-width="1.2" stroke-linejoin="round" stroke-linecap="round"/>
<path d="M100.4,94.4 L108.2,94.4 L116.0,97.5 L120.8,102.3 L125.5,100.7 L128.6,97.5 L136.5,91.3 L139.6,85.0" fill="none" stroke="#000" stroke-width="1.2" stroke-linejoin="round" stroke-linecap="round"/>
<path d="M95.7,85.0 L97.2,91.3 L103.5,94.4 L102.0,97.5" fill="none" stroke="#000" stroke-width="1.2" stroke-linejoin="round" stroke-linecap="round"/>
<path d="M69.0,132.0 L75.3,130.5 L84.7,125.8 L94.1,121.0 L100.4,120.3" fill="none" stroke="#000" stroke-width="1.2" stroke-linejoin="round" stroke-linecap="round"/>
<path d="M69.0,143.0 L80.0,140.0 L92.5,135.2 L102.0,132.0 L113.0,127.4" fill="none" stroke="#000" stroke-width="1.2" stroke-linejoin="round" stroke-linecap="round"/>
<path d="M69.0,158.7 L76.8,154.0 L84.7,154.0 L94.1,152.5 L103.5,147.7" fill="none" stroke="#000" stroke-width="1.2" stroke-linejoin="round" stroke-linecap="round"/>
<path d="M69.0,165.0 L78.4,163.4 L87.8,160.3 L97.2,157.2" fill="none" stroke="#000" stroke-width="1.2" stroke-linejoin="round" stroke-linecap="round"/>
<path d="M91.0,176.0 L100.4,168.0 L109.8,161.9 L119.2,155.6 L122.3,147.7" fill="none" stroke="#000" stroke-width="1.2" stroke-linejoin="round" stroke-linecap="round"/>
<rect x="174.5" y="87.8" width="23.1" height="8.5" fill="#fff"/>
<text x="186.1" y="95.5" font-size="11" text-anchor="middle" font-weight="normal" fill="#000" textLength="22.1" lengthAdjust="spacingAndGlyphs" >1010</text>
<rect x="239.5" y="100.0" width="23.1" height="8.8" fill="#fff"/>
<text x="251.1" y="108.0" font-size="11" text-anchor="middle" font-weight="normal" fill="#000" textLength="22.1" lengthAdjust="spacingAndGlyphs" >1010</text>
<rect x="92.0" y="100.0" width="23.0" height="8.8" fill="#fff"/>
<text x="103.5" y="108.0" font-size="11" text-anchor="middle" font-weight="normal" fill="#000" textLength="22.0" lengthAdjust="spacingAndGlyphs" >1002</text>
<rect x="94.0" y="110.0" width="23.0" height="8.6" fill="#fff"/>
<text x="105.5" y="117.8" font-size="11" text-anchor="middle" font-weight="normal" fill="#000" textLength="22.0" lengthAdjust="spacingAndGlyphs" >1004</text>
<rect x="124.0" y="109.0" width="24.0" height="8.5" fill="#fff"/>
<text x="136.0" y="116.7" font-size="11" text-anchor="middle" font-weight="normal" fill="#000" textLength="23.0" lengthAdjust="spacingAndGlyphs" >1008</text>
<rect x="98.0" y="115.5" width="23.6" height="8.5" fill="#fff"/>
<text x="109.8" y="123.2" font-size="11" text-anchor="middle" font-weight="normal" fill="#000" textLength="22.6" lengthAdjust="spacingAndGlyphs" >1006</text>
<rect x="115.0" y="124.0" width="23.6" height="8.5" fill="#fff"/>
<text x="126.8" y="131.7" font-size="11" text-anchor="middle" font-weight="normal" fill="#000" textLength="22.6" lengthAdjust="spacingAndGlyphs" >1012</text>
<rect x="199.0" y="144.5" width="23.5" height="8.5" fill="#fff"/>
<text x="210.8" y="152.2" font-size="11" text-anchor="middle" font-weight="normal" fill="#000" textLength="22.5" lengthAdjust="spacingAndGlyphs" >1012</text>
<rect x="77.7" y="177.0" width="23.1" height="8.5" fill="#fff"/>
<text x="89.2" y="184.7" font-size="11" text-anchor="middle" font-weight="normal" fill="#000" textLength="22.1" lengthAdjust="spacingAndGlyphs" >1010</text>
<rect x="116.7" y="181.5" width="23.1" height="8.5" fill="#fff"/>
<text x="128.2" y="189.2" font-size="11" text-anchor="middle" font-weight="normal" fill="#000" textLength="22.1" lengthAdjust="spacingAndGlyphs" >1012</text>
<rect x="187.4" y="172.6" width="23.4" height="8.4" fill="#fff"/>
<text x="199.1" y="180.2" font-size="11" text-anchor="middle" font-weight="normal" fill="#000" textLength="22.4" lengthAdjust="spacingAndGlyphs" >1010</text>
<rect x="200.5" y="197.7" width="23.1" height="8.6" fill="#fff"/>
<text x="212.1" y="205.5" font-size="11" text-anchor="middle" font-weight="normal" fill="#000" textLength="22.1" lengthAdjust="spacingAndGlyphs" >1010</text>
<rect x="168.7" y="226.6" width="23.1" height="8.6" fill="#fff"/>
<text x="180.2" y="234.4" font-size="11" text-anchor="middle" font-weight="normal" fill="#000" textLength="22.1" lengthAdjust="spacingAndGlyphs" >1010</text>
<rect x="148.0" y="275.8" width="24.0" height="8.5" fill="#fff"/>
<text x="160.0" y="283.5" font-size="11" text-anchor="middle" font-weight="normal" fill="#000" textLength="23.0" lengthAdjust="spacingAndGlyphs" >1008</text>
<rect x="86.3" y="281.5" width="23.2" height="8.5" fill="#fff"/>
<text x="97.9" y="289.2" font-size="11" text-anchor="middle" font-weight="normal" fill="#000" textLength="22.2" lengthAdjust="spacingAndGlyphs" >1006</text>
</g>
<rect x="69" y="67" width="229" height="224" fill="none" stroke="#000" stroke-width="1.6"/>
<text x="84.0" y="63.0" font-size="18" text-anchor="start" font-weight="bold" fill="#000" textLength="198" lengthAdjust="spacingAndGlyphs" >15Z,16JUN2017  (init)</text>
<text x="76.0" y="82.0" font-size="12.5" text-anchor="start" font-weight="normal" fill="#000" textLength="139" lengthAdjust="spacingAndGlyphs" >Temp(C)+Pres(hPa)</text>
<line x1="65" y1="99.8" x2="69" y2="99.8" stroke="#000" stroke-width="1.2"/>
<text x="64.5" y="103.4" font-size="9.5" text-anchor="end" font-weight="bold" fill="#000" textLength="17" lengthAdjust="spacingAndGlyphs"  stroke="#000" stroke-width="0.35">44N</text>
<line x1="65" y1="134.6" x2="69" y2="134.6" stroke="#000" stroke-width="1.2"/>
<text x="64.5" y="138.2" font-size="9.5" text-anchor="end" font-weight="bold" fill="#000" textLength="17" lengthAdjust="spacingAndGlyphs"  stroke="#000" stroke-width="0.35">40N</text>
<line x1="65" y1="169.8" x2="69" y2="169.8" stroke="#000" stroke-width="1.2"/>
<text x="64.5" y="173.4" font-size="9.5" text-anchor="end" font-weight="bold" fill="#000" textLength="17" lengthAdjust="spacingAndGlyphs"  stroke="#000" stroke-width="0.35">36N</text>
<line x1="65" y1="205" x2="69" y2="205" stroke="#000" stroke-width="1.2"/>
<text x="64.5" y="208.6" font-size="9.5" text-anchor="end" font-weight="bold" fill="#000" textLength="17" lengthAdjust="spacingAndGlyphs"  stroke="#000" stroke-width="0.35">32N</text>
<line x1="65" y1="240.3" x2="69" y2="240.3" stroke="#000" stroke-width="1.2"/>
<text x="64.5" y="243.9" font-size="9.5" text-anchor="end" font-weight="bold" fill="#000" textLength="17" lengthAdjust="spacingAndGlyphs"  stroke="#000" stroke-width="0.35">28N</text>
<line x1="65" y1="275.6" x2="69" y2="275.6" stroke="#000" stroke-width="1.2"/>
<text x="64.5" y="279.2" font-size="9.5" text-anchor="end" font-weight="bold" fill="#000" textLength="17" lengthAdjust="spacingAndGlyphs"  stroke="#000" stroke-width="0.35">24N</text>
<line x1="69.5" y1="291" x2="69.5" y2="294" stroke="#000" stroke-width="1.2"/>
<text x="69.5" y="302.0" font-size="9.5" text-anchor="middle" font-weight="bold" fill="#000" textLength="23" lengthAdjust="spacingAndGlyphs"  stroke="#000" stroke-width="0.35">120E</text>
<line x1="99.9" y1="291" x2="99.9" y2="294" stroke="#000" stroke-width="1.2"/>
<text x="99.9" y="302.0" font-size="9.5" text-anchor="middle" font-weight="bold" fill="#000" textLength="23" lengthAdjust="spacingAndGlyphs"  stroke="#000" stroke-width="0.35">124E</text>
<line x1="130.3" y1="291" x2="130.3" y2="294" stroke="#000" stroke-width="1.2"/>
<text x="130.3" y="302.0" font-size="9.5" text-anchor="middle" font-weight="bold" fill="#000" textLength="23" lengthAdjust="spacingAndGlyphs"  stroke="#000" stroke-width="0.35">128E</text>
<line x1="160.7" y1="291" x2="160.7" y2="294" stroke="#000" stroke-width="1.2"/>
<text x="160.7" y="302.0" font-size="9.5" text-anchor="middle" font-weight="bold" fill="#000" textLength="23" lengthAdjust="spacingAndGlyphs"  stroke="#000" stroke-width="0.35">132E</text>
<line x1="191.1" y1="291" x2="191.1" y2="294" stroke="#000" stroke-width="1.2"/>
<text x="191.1" y="302.0" font-size="9.5" text-anchor="middle" font-weight="bold" fill="#000" textLength="23" lengthAdjust="spacingAndGlyphs"  stroke="#000" stroke-width="0.35">136E</text>
<line x1="221.5" y1="291" x2="221.5" y2="294" stroke="#000" stroke-width="1.2"/>
<text x="221.5" y="302.0" font-size="9.5" text-anchor="middle" font-weight="bold" fill="#000" textLength="23" lengthAdjust="spacingAndGlyphs"  stroke="#000" stroke-width="0.35">140E</text>
<line x1="251.89999999999998" y1="291" x2="251.89999999999998" y2="294" stroke="#000" stroke-width="1.2"/>
<text x="251.9" y="302.0" font-size="9.5" text-anchor="middle" font-weight="bold" fill="#000" textLength="23" lengthAdjust="spacingAndGlyphs"  stroke="#000" stroke-width="0.35">144E</text>
<line x1="282.29999999999995" y1="291" x2="282.29999999999995" y2="294" stroke="#000" stroke-width="1.2"/>
<text x="282.3" y="302.0" font-size="9.5" text-anchor="middle" font-weight="bold" fill="#000" textLength="23" lengthAdjust="spacingAndGlyphs"  stroke="#000" stroke-width="0.35">148E</text>
<path d="M67,306.75 L86.5,304 L86.5,309.5 Z" fill="#a000c8" stroke="#000" stroke-width="0.8"/>
<rect x="86.5" y="304" width="19.1" height="5.5" fill="#8200dc" stroke="#000" stroke-width="0.8"/>
<rect x="105.7" y="304" width="19.1" height="5.5" fill="#1e3cff" stroke="#000" stroke-width="0.8"/>
<rect x="124.8" y="304" width="19.1" height="5.5" fill="#00a0ff" stroke="#000" stroke-width="0.8"/>
<rect x="143.9" y="304" width="19.1" height="5.5" fill="#00c8c8" stroke="#000" stroke-width="0.8"/>
<rect x="163.1" y="304" width="19.1" height="5.5" fill="#00d28c" stroke="#000" stroke-width="0.8"/>
<rect x="182.2" y="304" width="19.1" height="5.5" fill="#a0e632" stroke="#000" stroke-width="0.8"/>
<rect x="201.4" y="304" width="19.1" height="5.5" fill="#e6dc32" stroke="#000" stroke-width="0.8"/>
<rect x="220.5" y="304" width="19.1" height="5.5" fill="#e6af2d" stroke="#000" stroke-width="0.8"/>
<rect x="239.7" y="304" width="19.1" height="5.5" fill="#f08228" stroke="#000" stroke-width="0.8"/>
<rect x="258.9" y="304" width="19.1" height="5.5" fill="#fa3c3c" stroke="#000" stroke-width="0.8"/>
<path d="M278.0,304 L300,306.75 L278.0,309.5 Z" fill="#f00082" stroke="#000" stroke-width="0.8"/>
<text x="86.5" y="318.0" font-size="9" text-anchor="middle" font-weight="bold" fill="#000" textLength="6" lengthAdjust="spacingAndGlyphs"  stroke="#000" stroke-width="0.35">0</text>
<text x="105.7" y="318.0" font-size="9" text-anchor="middle" font-weight="bold" fill="#000" textLength="6" lengthAdjust="spacingAndGlyphs"  stroke="#000" stroke-width="0.35">3</text>
<text x="124.8" y="318.0" font-size="9" text-anchor="middle" font-weight="bold" fill="#000" textLength="6" lengthAdjust="spacingAndGlyphs"  stroke="#000" stroke-width="0.35">6</text>
<text x="143.9" y="318.0" font-size="9" text-anchor="middle" font-weight="bold" fill="#000" textLength="6" lengthAdjust="spacingAndGlyphs"  stroke="#000" stroke-width="0.35">9</text>
<text x="163.1" y="318.0" font-size="9" text-anchor="middle" font-weight="bold" fill="#000" textLength="11" lengthAdjust="spacingAndGlyphs"  stroke="#000" stroke-width="0.35">12</text>
<text x="182.2" y="318.0" font-size="9" text-anchor="middle" font-weight="bold" fill="#000" textLength="11" lengthAdjust="spacingAndGlyphs"  stroke="#000" stroke-width="0.35">15</text>
<text x="201.4" y="318.0" font-size="9" text-anchor="middle" font-weight="bold" fill="#000" textLength="11" lengthAdjust="spacingAndGlyphs"  stroke="#000" stroke-width="0.35">18</text>
<text x="220.5" y="318.0" font-size="9" text-anchor="middle" font-weight="bold" fill="#000" textLength="11" lengthAdjust="spacingAndGlyphs"  stroke="#000" stroke-width="0.35">21</text>
<text x="239.7" y="318.0" font-size="9" text-anchor="middle" font-weight="bold" fill="#000" textLength="11" lengthAdjust="spacingAndGlyphs"  stroke="#000" stroke-width="0.35">24</text>
<text x="258.9" y="318.0" font-size="9" text-anchor="middle" font-weight="bold" fill="#000" textLength="11" lengthAdjust="spacingAndGlyphs"  stroke="#000" stroke-width="0.35">27</text>
<text x="278.0" y="318.0" font-size="9" text-anchor="middle" font-weight="bold" fill="#000" textLength="11" lengthAdjust="spacingAndGlyphs"  stroke="#000" stroke-width="0.35">30</text>
<clipPath id="cu"><rect x="69" y="335" width="229" height="94"/></clipPath>
<g clip-path="url(#cu)">
<rect x="69" y="335" width="229" height="94" fill="#1e3cff"/>
<path d="M69.0,347.8 L183.0,348.0 L230.0,349.0 L298.0,352.5 L298.0,430.0 L69.0,430.0 Z" fill="#8200dc" />
<path d="M69.0,355.5 L183.0,357.5 L230.0,358.5 L298.0,361.0 L298.0,430.0 L69.0,430.0 Z" fill="#a000c8" />
<path d="M69.0,359.2 L183.0,360.5 L298.0,363.0 L298.0,430.0 L69.0,430.0 Z" fill="#c9a6d8" />
<path d="M69.0,360.8 L183.0,361.2 L298.0,364.0 L298.0,430.0 L69.0,430.0 Z" fill="#a0e632" />
<path d="M69.0,364.6 L183.0,365.0 L298.0,366.0 L298.0,430.0 L69.0,430.0 Z" fill="#e6dc32" />
<path d="M69.0,367.5 L264.0,367.5 L266.0,380.0 L264.0,392.0 L258.0,398.0 L244.0,402.0 L240.0,408.0 L245.0,416.0 L252.0,420.0 L69.0,420.0 Z" fill="#e6af2d" />
<path d="M273.0,367.5 L298.0,367.5 L298.0,421.0 L290.0,421.0 L287.0,410.0 L280.0,402.0 L276.0,396.0 L280.0,388.0 L276.0,378.0 Z" fill="#a0e632" />
<path d="M289.0,384.0 L298.0,383.0 L298.0,400.0 L290.0,399.0 L287.0,396.0 L291.0,392.0 Z" fill="#aaaaaa" />
<path d="M294.0,389.0 L298.0,388.0 L298.0,398.0 L294.0,397.0 Z" fill="#a000c8" />
<path d="M69.0,375.0 L222.0,374.0 L223.0,385.0 L221.0,393.0 L205.0,395.0 L185.0,394.0 L178.0,390.0 L170.0,384.5 L164.0,386.0 L165.0,393.0 L172.0,400.0 L170.0,408.0 L160.0,411.0 L130.0,411.0 L100.0,408.0 L97.0,402.0 L85.0,399.0 L69.0,397.0 Z" fill="#f08228" />
<path d="M69.0,419.5 L110.0,419.5 L140.0,418.0 L160.0,416.5 L175.0,418.0 L200.0,421.0 L250.0,421.5 L298.0,421.0 L298.0,430.0 L69.0,430.0 Z" fill="#e6dc32" />
<path d="M69.0,421.5 L110.0,422.0 L140.0,421.0 L160.0,419.5 L172.0,421.0 L190.0,425.0 L230.0,424.0 L298.0,423.5 L298.0,430.0 L69.0,430.0 Z" fill="#a0e632" />
<path d="M69.0,423.0 L120.0,424.0 L170.0,424.5 L200.0,426.0 L298.0,426.5 L298.0,430.0 L69.0,430.0 Z" fill="#a000c8" />
<path d="M69.0,425.5 L200.0,427.5 L298.0,428.0 L298.0,430.0 L69.0,430.0 Z" fill="#8200dc" />
<path d="M69.0,427.0 L120.0,427.5 L298.0,428.5 L298.0,430.0 L69.0,430.0 Z" fill="#1e3cff" />
<line x1="69" y1="367.3" x2="298" y2="367.3" stroke="#aaaaaa" stroke-width="0.7"/>
<line x1="69" y1="391.8" x2="298" y2="391.8" stroke="#aaaaaa" stroke-width="0.7"/>
</g>
<rect x="69" y="335" width="229" height="94" fill="none" stroke="#000" stroke-width="1.6"/>
<text x="76.0" y="346.5" font-size="12.5" text-anchor="start" font-weight="normal" fill="#000" textLength="51" lengthAdjust="spacingAndGlyphs" >U-wind</text>
<text x="293.5" y="346.5" font-size="12.5" text-anchor="end" font-weight="normal" fill="#000" textLength="24.5" lengthAdjust="spacingAndGlyphs" >15Z</text>
<line x1="65" y1="335.0" x2="69" y2="335.0" stroke="#000" stroke-width="1.2"/>
<text x="64.5" y="338.6" font-size="9.5" text-anchor="end" font-weight="bold" fill="#000" textLength="11" lengthAdjust="spacingAndGlyphs"  stroke="#000" stroke-width="0.35">30</text>
<line x1="65" y1="348.7" x2="69" y2="348.7" stroke="#000" stroke-width="1.2"/>
<text x="64.5" y="352.3" font-size="9.5" text-anchor="end" font-weight="bold" fill="#000" textLength="11" lengthAdjust="spacingAndGlyphs"  stroke="#000" stroke-width="0.35">50</text>
<line x1="65" y1="367.3" x2="69" y2="367.3" stroke="#000" stroke-width="1.2"/>
<text x="64.5" y="370.9" font-size="9.5" text-anchor="end" font-weight="bold" fill="#000" textLength="17" lengthAdjust="spacingAndGlyphs"  stroke="#000" stroke-width="0.35">100</text>
<line x1="65" y1="385.9" x2="69" y2="385.9" stroke="#000" stroke-width="1.2"/>
<text x="64.5" y="389.5" font-size="9.5" text-anchor="end" font-weight="bold" fill="#000" textLength="17" lengthAdjust="spacingAndGlyphs"  stroke="#000" stroke-width="0.35">200</text>
<line x1="65" y1="396.7" x2="69" y2="396.7" stroke="#000" stroke-width="1.2"/>
<text x="64.5" y="400.3" font-size="9.5" text-anchor="end" font-weight="bold" fill="#000" textLength="17" lengthAdjust="spacingAndGlyphs"  stroke="#000" stroke-width="0.35">300</text>
<line x1="65" y1="410.4" x2="69" y2="410.4" stroke="#000" stroke-width="1.2"/>
<text x="64.5" y="414.0" font-size="9.5" text-anchor="end" font-weight="bold" fill="#000" textLength="17" lengthAdjust="spacingAndGlyphs"  stroke="#000" stroke-width="0.35">500</text>
<line x1="65" y1="419.4" x2="69" y2="419.4" stroke="#000" stroke-width="1.2"/>
<text x="64.5" y="423.0" font-size="9.5" text-anchor="end" font-weight="bold" fill="#000" textLength="17" lengthAdjust="spacingAndGlyphs"  stroke="#000" stroke-width="0.35">700</text>
<line x1="65" y1="429.0" x2="69" y2="429.0" stroke="#000" stroke-width="1.2"/>
<text x="64.5" y="432.6" font-size="9.5" text-anchor="end" font-weight="bold" fill="#000" textLength="22" lengthAdjust="spacingAndGlyphs"  stroke="#000" stroke-width="0.35">1000</text>
<line x1="69.5" y1="429" x2="69.5" y2="432" stroke="#000" stroke-width="1.2"/>
<text x="69.5" y="441.0" font-size="9.5" text-anchor="middle" font-weight="bold" fill="#000" textLength="23" lengthAdjust="spacingAndGlyphs"  stroke="#000" stroke-width="0.35">120E</text>
<line x1="99.9" y1="429" x2="99.9" y2="432" stroke="#000" stroke-width="1.2"/>
<text x="99.9" y="441.0" font-size="9.5" text-anchor="middle" font-weight="bold" fill="#000" textLength="23" lengthAdjust="spacingAndGlyphs"  stroke="#000" stroke-width="0.35">124E</text>
<line x1="130.3" y1="429" x2="130.3" y2="432" stroke="#000" stroke-width="1.2"/>
<text x="130.3" y="441.0" font-size="9.5" text-anchor="middle" font-weight="bold" fill="#000" textLength="23" lengthAdjust="spacingAndGlyphs"  stroke="#000" stroke-width="0.35">128E</text>
<line x1="160.7" y1="429" x2="160.7" y2="432" stroke="#000" stroke-width="1.2"/>
<text x="160.7" y="441.0" font-size="9.5" text-anchor="middle" font-weight="bold" fill="#000" textLength="23" lengthAdjust="spacingAndGlyphs"  stroke="#000" stroke-width="0.35">132E</text>
<line x1="191.1" y1="429" x2="191.1" y2="432" stroke="#000" stroke-width="1.2"/>
<text x="191.1" y="441.0" font-size="9.5" text-anchor="middle" font-weight="bold" fill="#000" textLength="23" lengthAdjust="spacingAndGlyphs"  stroke="#000" stroke-width="0.35">136E</text>
<line x1="221.5" y1="429" x2="221.5" y2="432" stroke="#000" stroke-width="1.2"/>
<text x="221.5" y="441.0" font-size="9.5" text-anchor="middle" font-weight="bold" fill="#000" textLength="23" lengthAdjust="spacingAndGlyphs"  stroke="#000" stroke-width="0.35">140E</text>
<line x1="251.89999999999998" y1="429" x2="251.89999999999998" y2="432" stroke="#000" stroke-width="1.2"/>
<text x="251.9" y="441.0" font-size="9.5" text-anchor="middle" font-weight="bold" fill="#000" textLength="23" lengthAdjust="spacingAndGlyphs"  stroke="#000" stroke-width="0.35">144E</text>
<line x1="282.29999999999995" y1="429" x2="282.29999999999995" y2="432" stroke="#000" stroke-width="1.2"/>
<text x="282.3" y="441.0" font-size="9.5" text-anchor="middle" font-weight="bold" fill="#000" textLength="23" lengthAdjust="spacingAndGlyphs"  stroke="#000" stroke-width="0.35">148E</text>
<clipPath id="cv"><rect x="154" y="448.5" width="144" height="95.5"/></clipPath>
<g clip-path="url(#cv)">
<rect x="154" y="448.5" width="144" height="95.5" fill="#a0e632"/>
<path d="M154.0,471.0 L298.0,473.0 L298.0,545.0 L154.0,545.0 Z" fill="#aaaaaa" />
<path d="M154.0,474.0 L298.0,476.0 L298.0,545.0 L154.0,545.0 Z" fill="#a000c8" />
<path d="M154.0,479.8 L230.0,480.5 L298.0,481.0 L298.0,494.0 L240.0,493.5 L200.0,494.0 L154.0,494.0 Z" fill="#8200dc" />
<path d="M165.0,499.5 L186.0,498.0 L200.0,497.0 L227.0,496.5 L269.0,497.0 L270.0,507.0 L253.0,507.0 L253.0,520.0 L299.0,520.0 L299.0,545.0 L154.0,545.0 L154.0,521.0 L165.0,521.0 Z" fill="#aaaaaa" />
<path d="M186.0,497.0 L227.0,496.0 L260.0,497.5 L260.5,506.8 L253.0,507.0 L253.0,514.0 L230.0,513.5 L227.0,513.4 L215.0,513.4 L193.0,513.0 L186.0,504.0 Z" fill="#a0e632" />
<path d="M206.0,499.3 L227.0,499.0 L253.0,499.3 L253.0,509.6 L227.0,510.6 L206.0,510.6 Z" fill="#e6dc32" />
<path d="M185.7,513.4 L227.0,513.4 L238.0,515.0 L236.0,520.0 L230.0,524.0 L225.0,528.0 L209.0,527.4 L207.0,529.0 L198.0,528.0 L190.0,526.0 L185.7,523.6 Z" fill="#a0e632" />
<path d="M198.0,518.0 L207.0,518.0 L207.0,529.0 L198.0,529.0 Z" fill="#aaaaaa" />
<path d="M155.0,521.0 L165.0,521.0 L164.0,525.5 L188.5,525.5 L188.5,534.0 L209.0,536.0 L227.0,536.7 L240.0,535.0 L250.0,537.0 L230.0,542.0 L155.0,542.0 Z" fill="#a0e632" />
<path d="M155.0,538.6 L186.0,538.6 L186.0,542.3 L155.0,542.3 Z" fill="#e6dc32" />
<path d="M219.4,517.0 L227.0,517.0 L227.0,522.7 L219.4,522.7 Z" fill="#a000c8" />
<path d="M210.0,523.6 L217.5,523.6 L217.5,528.3 L210.0,528.3 Z" fill="#a000c8" />
<path d="M238.0,510.6 L248.0,510.6 L248.0,515.2 L238.0,515.2 Z" fill="#a000c8" />
<path d="M240.0,515.0 L245.0,515.0 L245.0,522.0 L240.0,524.0 Z" fill="#a0e632" />
<path d="M269.0,494.0 L299.0,494.0 L299.0,506.8 L253.0,506.8 L253.0,506.0 L269.0,506.0 Z" fill="#a000c8" />
<path d="M281.0,497.5 L292.0,497.5 L292.0,504.0 L281.0,504.0 Z" fill="#aaaaaa" />
<path d="M293.0,498.5 L297.0,498.5 L297.0,506.8 L293.0,506.8 Z" fill="#aaaaaa" />
<path d="M253.0,506.8 L297.0,506.8 L297.0,517.0 L290.0,520.0 L275.0,519.0 L262.0,520.0 L253.0,518.0 Z" fill="#a000c8" />
<path d="M230.6,525.5 L297.0,525.0 L297.0,540.5 L250.0,540.5 L236.0,535.0 L230.6,530.0 Z" fill="#a000c8" />
<path d="M250.0,529.0 L297.0,529.0 L297.0,537.7 L255.0,537.7 Z" fill="#8200dc" />
<path d="M154.0,521.0 L160.0,521.0 L160.0,528.0 L154.0,528.0 Z" fill="#a000c8" />
<path d="M276.0,540.0 L298.0,539.0 L298.0,544.0 L276.0,544.0 Z" fill="#a0e632" />
<path d="M154.0,494.0 L165.0,494.0 L165.0,521.0 L154.0,521.0 Z" fill="#a000c8" />
<line x1="154" y1="481.3" x2="298" y2="481.3" stroke="#8a4ae0" stroke-width="0.7" opacity="0.8"/>
<line x1="154" y1="506.2" x2="298" y2="506.2" stroke="#8a4ae0" stroke-width="0.7" opacity="0.8"/>
<line x1="154" y1="525.1" x2="298" y2="525.1" stroke="#8a4ae0" stroke-width="0.7" opacity="0.8"/>
<line x1="154" y1="539.6" x2="298" y2="539.6" stroke="#8a4ae0" stroke-width="0.7" opacity="0.8"/>
</g>
<rect x="154" y="448.5" width="144" height="95.5" fill="none" stroke="#000" stroke-width="1.6"/>
<text x="160.5" y="461.5" font-size="12.5" text-anchor="start" font-weight="normal" fill="#000" textLength="50" lengthAdjust="spacingAndGlyphs" >V-wind</text>
<text x="293.5" y="461.5" font-size="12.5" text-anchor="end" font-weight="normal" fill="#000" textLength="24.5" lengthAdjust="spacingAndGlyphs" >15Z</text>
<line x1="149.5" y1="448.5" x2="153.5" y2="448.5" stroke="#000" stroke-width="1.2"/>
<text x="149.0" y="452.1" font-size="9.5" text-anchor="end" font-weight="bold" fill="#000" textLength="11" lengthAdjust="spacingAndGlyphs"  stroke="#000" stroke-width="0.35">30</text>
<line x1="149.5" y1="462.4" x2="153.5" y2="462.4" stroke="#000" stroke-width="1.2"/>
<text x="149.0" y="466.0" font-size="9.5" text-anchor="end" font-weight="bold" fill="#000" textLength="11" lengthAdjust="spacingAndGlyphs"  stroke="#000" stroke-width="0.35">50</text>
<line x1="149.5" y1="481.3" x2="153.5" y2="481.3" stroke="#000" stroke-width="1.2"/>
<text x="149.0" y="484.9" font-size="9.5" text-anchor="end" font-weight="bold" fill="#000" textLength="17" lengthAdjust="spacingAndGlyphs"  stroke="#000" stroke-width="0.35">100</text>
<line x1="149.5" y1="500.2" x2="153.5" y2="500.2" stroke="#000" stroke-width="1.2"/>
<text x="149.0" y="503.8" font-size="9.5" text-anchor="end" font-weight="bold" fill="#000" textLength="17" lengthAdjust="spacingAndGlyphs"  stroke="#000" stroke-width="0.35">200</text>
<line x1="149.5" y1="511.2" x2="153.5" y2="511.2" stroke="#000" stroke-width="1.2"/>
<text x="149.0" y="514.8" font-size="9.5" text-anchor="end" font-weight="bold" fill="#000" textLength="17" lengthAdjust="spacingAndGlyphs"  stroke="#000" stroke-width="0.35">300</text>
<line x1="149.5" y1="525.1" x2="153.5" y2="525.1" stroke="#000" stroke-width="1.2"/>
<text x="149.0" y="528.7" font-size="9.5" text-anchor="end" font-weight="bold" fill="#000" textLength="17" lengthAdjust="spacingAndGlyphs"  stroke="#000" stroke-width="0.35">500</text>
<line x1="149.5" y1="534.3" x2="153.5" y2="534.3" stroke="#000" stroke-width="1.2"/>
<text x="149.0" y="537.9" font-size="9.5" text-anchor="end" font-weight="bold" fill="#000" textLength="17" lengthAdjust="spacingAndGlyphs"  stroke="#000" stroke-width="0.35">700</text>
<line x1="149.5" y1="544.0" x2="153.5" y2="544.0" stroke="#000" stroke-width="1.2"/>
<text x="149.0" y="547.6" font-size="9.5" text-anchor="end" font-weight="bold" fill="#000" textLength="22" lengthAdjust="spacingAndGlyphs"  stroke="#000" stroke-width="0.35">1000</text>
<line x1="167.9" y1="544" x2="167.9" y2="547" stroke="#000" stroke-width="1.2"/>
<text x="167.9" y="556.0" font-size="9.5" text-anchor="middle" font-weight="bold" fill="#000" textLength="17" lengthAdjust="spacingAndGlyphs"  stroke="#000" stroke-width="0.35">24N</text>
<line x1="203.7" y1="544" x2="203.7" y2="547" stroke="#000" stroke-width="1.2"/>
<text x="203.7" y="556.0" font-size="9.5" text-anchor="middle" font-weight="bold" fill="#000" textLength="17" lengthAdjust="spacingAndGlyphs"  stroke="#000" stroke-width="0.35">28N</text>
<line x1="239.5" y1="544" x2="239.5" y2="547" stroke="#000" stroke-width="1.2"/>
<text x="239.5" y="556.0" font-size="9.5" text-anchor="middle" font-weight="bold" fill="#000" textLength="17" lengthAdjust="spacingAndGlyphs"  stroke="#000" stroke-width="0.35">32N</text>
<line x1="275.3" y1="544" x2="275.3" y2="547" stroke="#000" stroke-width="1.2"/>
<text x="275.3" y="556.0" font-size="9.5" text-anchor="middle" font-weight="bold" fill="#000" textLength="17" lengthAdjust="spacingAndGlyphs"  stroke="#000" stroke-width="0.35">36N</text>
<text x="46.2" y="468.3" font-size="9.5" text-anchor="start" font-weight="bold" fill="#000" textLength="78.4" lengthAdjust="spacingAndGlyphs"  stroke="#000" stroke-width="0.35">(up) tmp+pres</text>
<text x="72.6" y="479.3" font-size="9.5" text-anchor="start" font-weight="bold" fill="#000" textLength="28" lengthAdjust="spacingAndGlyphs"  stroke="#000" stroke-width="0.35">@surf</text>
<text x="46.2" y="500.0" font-size="9.5" text-anchor="start" font-weight="bold" fill="#000" textLength="70" lengthAdjust="spacingAndGlyphs"  stroke="#000" stroke-width="0.35">(mid) u-wind</text>
<text x="72.6" y="511.8" font-size="9.5" text-anchor="start" font-weight="bold" fill="#000" textLength="44" lengthAdjust="spacingAndGlyphs"  stroke="#000" stroke-width="0.35">@26.50N</text>
<text x="46.2" y="531.6" font-size="9.5" text-anchor="start" font-weight="bold" fill="#000" textLength="67" lengthAdjust="spacingAndGlyphs"  stroke="#000" stroke-width="0.35">(bot) v-wind</text>
<text x="72.6" y="542.6" font-size="9.5" text-anchor="start" font-weight="bold" fill="#000" textLength="51" lengthAdjust="spacingAndGlyphs"  stroke="#000" stroke-width="0.35">@127.84E</text>
<path d="M67,560.5 L85,557.5 L85,563.5 Z" fill="#00d28c" stroke="#000" stroke-width="0.8"/>
<rect x="85.0" y="557.5" width="17.8" height="6.0" fill="#00c8c8" stroke="#000" stroke-width="0.8"/>
<rect x="102.8" y="557.5" width="17.8" height="6.0" fill="#00a0ff" stroke="#000" stroke-width="0.8"/>
<rect x="120.5" y="557.5" width="17.8" height="6.0" fill="#1e3cff" stroke="#000" stroke-width="0.8"/>
<rect x="138.2" y="557.5" width="17.8" height="6.0" fill="#8200dc" stroke="#000" stroke-width="0.8"/>
<rect x="156.0" y="557.5" width="17.8" height="6.0" fill="#a000c8" stroke="#000" stroke-width="0.8"/>
<rect x="173.8" y="557.5" width="17.8" height="6.0" fill="#aaaaaa" stroke="#000" stroke-width="0.8"/>
<rect x="191.5" y="557.5" width="17.8" height="6.0" fill="#a0e632" stroke="#000" stroke-width="0.8"/>
<rect x="209.2" y="557.5" width="17.8" height="6.0" fill="#e6dc32" stroke="#000" stroke-width="0.8"/>
<rect x="227.0" y="557.5" width="17.8" height="6.0" fill="#e6af2d" stroke="#000" stroke-width="0.8"/>
<rect x="244.8" y="557.5" width="17.8" height="6.0" fill="#f08228" stroke="#000" stroke-width="0.8"/>
<rect x="262.5" y="557.5" width="17.8" height="6.0" fill="#fa3c3c" stroke="#000" stroke-width="0.8"/>
<path d="M280.2,557.5 L290,560.5 L280.2,563.5 Z" fill="#f00082" stroke="#000" stroke-width="0.8"/>
<text x="85.0" y="571.5" font-size="9" text-anchor="middle" font-weight="bold" fill="#000" textLength="16" lengthAdjust="spacingAndGlyphs"  stroke="#000" stroke-width="0.35">&#8722;40</text>
<text x="102.8" y="571.5" font-size="9" text-anchor="middle" font-weight="bold" fill="#000" textLength="16" lengthAdjust="spacingAndGlyphs"  stroke="#000" stroke-width="0.35">&#8722;30</text>
<text x="120.5" y="571.5" font-size="9" text-anchor="middle" font-weight="bold" fill="#000" textLength="16" lengthAdjust="spacingAndGlyphs"  stroke="#000" stroke-width="0.35">&#8722;20</text>
<text x="138.2" y="571.5" font-size="9" text-anchor="middle" font-weight="bold" fill="#000" textLength="16" lengthAdjust="spacingAndGlyphs"  stroke="#000" stroke-width="0.35">&#8722;10</text>
<text x="156.0" y="571.5" font-size="9" text-anchor="middle" font-weight="bold" fill="#000" textLength="11" lengthAdjust="spacingAndGlyphs"  stroke="#000" stroke-width="0.35">&#8722;5</text>
<text x="173.8" y="571.5" font-size="9" text-anchor="middle" font-weight="bold" fill="#000" textLength="11" lengthAdjust="spacingAndGlyphs"  stroke="#000" stroke-width="0.35">&#8722;1</text>
<text x="191.5" y="571.5" font-size="9" text-anchor="middle" font-weight="bold" fill="#000" textLength="5" lengthAdjust="spacingAndGlyphs"  stroke="#000" stroke-width="0.35">1</text>
<text x="209.2" y="571.5" font-size="9" text-anchor="middle" font-weight="bold" fill="#000" textLength="5" lengthAdjust="spacingAndGlyphs"  stroke="#000" stroke-width="0.35">5</text>
<text x="227.0" y="571.5" font-size="9" text-anchor="middle" font-weight="bold" fill="#000" textLength="11" lengthAdjust="spacingAndGlyphs"  stroke="#000" stroke-width="0.35">10</text>
<text x="244.8" y="571.5" font-size="9" text-anchor="middle" font-weight="bold" fill="#000" textLength="11" lengthAdjust="spacingAndGlyphs"  stroke="#000" stroke-width="0.35">20</text>
<text x="262.5" y="571.5" font-size="9" text-anchor="middle" font-weight="bold" fill="#000" textLength="11" lengthAdjust="spacingAndGlyphs"  stroke="#000" stroke-width="0.35">30</text>
<text x="280.2" y="571.5" font-size="9" text-anchor="middle" font-weight="bold" fill="#000" textLength="11" lengthAdjust="spacingAndGlyphs"  stroke="#000" stroke-width="0.35">40</text>
<text x="418.5" y="60.8" font-size="18.5" text-anchor="start" font-weight="bold" fill="#000" textLength="256" lengthAdjust="spacingAndGlyphs" >Sonde Tracking Forecast</text>
<line x1="382.8" y1="67.5" x2="382.8" y2="335" stroke="#c8c8c8" stroke-width="0.8" stroke-dasharray="1,5"/>
<line x1="415.5" y1="67.5" x2="415.5" y2="335" stroke="#c8c8c8" stroke-width="0.8" stroke-dasharray="1,5"/>
<line x1="448.2" y1="67.5" x2="448.2" y2="335" stroke="#c8c8c8" stroke-width="0.8" stroke-dasharray="1,5"/>
<line x1="481.0" y1="67.5" x2="481.0" y2="335" stroke="#c8c8c8" stroke-width="0.8" stroke-dasharray="1,5"/>
<line x1="513.8" y1="67.5" x2="513.8" y2="335" stroke="#c8c8c8" stroke-width="0.8" stroke-dasharray="1,5"/>
<line x1="546.5" y1="67.5" x2="546.5" y2="335" stroke="#c8c8c8" stroke-width="0.8" stroke-dasharray="1,5"/>
<line x1="579.2" y1="67.5" x2="579.2" y2="335" stroke="#c8c8c8" stroke-width="0.8" stroke-dasharray="1,5"/>
<line x1="612.0" y1="67.5" x2="612.0" y2="335" stroke="#c8c8c8" stroke-width="0.8" stroke-dasharray="1,5"/>
<line x1="644.8" y1="67.5" x2="644.8" y2="335" stroke="#c8c8c8" stroke-width="0.8" stroke-dasharray="1,5"/>
<line x1="677.5" y1="67.5" x2="677.5" y2="335" stroke="#c8c8c8" stroke-width="0.8" stroke-dasharray="1,5"/>
<line x1="710.2" y1="67.5" x2="710.2" y2="335" stroke="#c8c8c8" stroke-width="0.8" stroke-dasharray="1,5"/>
<line x1="350" y1="105.7" x2="743" y2="105.7" stroke="#c8c8c8" stroke-width="0.8" stroke-dasharray="1,5"/>
<line x1="350" y1="143.9" x2="743" y2="143.9" stroke="#c8c8c8" stroke-width="0.8" stroke-dasharray="1,5"/>
<line x1="350" y1="182.1" x2="743" y2="182.1" stroke="#c8c8c8" stroke-width="0.8" stroke-dasharray="1,5"/>
<line x1="350" y1="220.4" x2="743" y2="220.4" stroke="#c8c8c8" stroke-width="0.8" stroke-dasharray="1,5"/>
<line x1="350" y1="258.6" x2="743" y2="258.6" stroke="#c8c8c8" stroke-width="0.8" stroke-dasharray="1,5"/>
<line x1="350" y1="296.8" x2="743" y2="296.8" stroke="#c8c8c8" stroke-width="0.8" stroke-dasharray="1,5"/>
<rect x="350" y="67.5" width="393" height="267.5" fill="none" stroke="#000" stroke-width="1.5"/>
<line x1="347" y1="67.5" x2="350" y2="67.5" stroke="#000" stroke-width="1.2"/>
<text x="345.0" y="71.0" font-size="9.5" text-anchor="end" font-weight="bold" fill="#000" textLength="24" lengthAdjust="spacingAndGlyphs"  stroke="#000" stroke-width="0.35">28.5N</text>
<line x1="347" y1="105.7" x2="350" y2="105.7" stroke="#000" stroke-width="1.2"/>
<text x="345.0" y="109.2" font-size="9.5" text-anchor="end" font-weight="bold" fill="#000" textLength="16" lengthAdjust="spacingAndGlyphs"  stroke="#000" stroke-width="0.35">28N</text>
<line x1="347" y1="143.9" x2="350" y2="143.9" stroke="#000" stroke-width="1.2"/>
<text x="345.0" y="147.4" font-size="9.5" text-anchor="end" font-weight="bold" fill="#000" textLength="24" lengthAdjust="spacingAndGlyphs"  stroke="#000" stroke-width="0.35">27.5N</text>
<line x1="347" y1="182.1" x2="350" y2="182.1" stroke="#000" stroke-width="1.2"/>
<text x="345.0" y="185.6" font-size="9.5" text-anchor="end" font-weight="bold" fill="#000" textLength="16" lengthAdjust="spacingAndGlyphs"  stroke="#000" stroke-width="0.35">27N</text>
<line x1="347" y1="220.4" x2="350" y2="220.4" stroke="#000" stroke-width="1.2"/>
<text x="345.0" y="223.9" font-size="9.5" text-anchor="end" font-weight="bold" fill="#000" textLength="24" lengthAdjust="spacingAndGlyphs"  stroke="#000" stroke-width="0.35">26.5N</text>
<line x1="347" y1="258.6" x2="350" y2="258.6" stroke="#000" stroke-width="1.2"/>
<text x="345.0" y="262.1" font-size="9.5" text-anchor="end" font-weight="bold" fill="#000" textLength="16" lengthAdjust="spacingAndGlyphs"  stroke="#000" stroke-width="0.35">26N</text>
<line x1="347" y1="296.8" x2="350" y2="296.8" stroke="#000" stroke-width="1.2"/>
<text x="345.0" y="300.3" font-size="9.5" text-anchor="end" font-weight="bold" fill="#000" textLength="24" lengthAdjust="spacingAndGlyphs"  stroke="#000" stroke-width="0.35">25.5N</text>
<line x1="347" y1="335.0" x2="350" y2="335.0" stroke="#000" stroke-width="1.2"/>
<text x="345.0" y="338.5" font-size="9.5" text-anchor="end" font-weight="bold" fill="#000" textLength="16" lengthAdjust="spacingAndGlyphs"  stroke="#000" stroke-width="0.35">25N</text>
<line x1="350.0" y1="335" x2="350.0" y2="338" stroke="#000" stroke-width="1.2"/>
<text x="350.0" y="346.0" font-size="10.5" text-anchor="middle" font-weight="bold" fill="#000" textLength="19" lengthAdjust="spacingAndGlyphs"  stroke="#000" stroke-width="0.35">126E</text>
<line x1="382.8" y1="335" x2="382.8" y2="338" stroke="#000" stroke-width="1.2"/>
<text x="382.8" y="346.0" font-size="10.5" text-anchor="middle" font-weight="bold" fill="#000" textLength="27" lengthAdjust="spacingAndGlyphs"  stroke="#000" stroke-width="0.35">126.5E</text>
<line x1="415.5" y1="335" x2="415.5" y2="338" stroke="#000" stroke-width="1.2"/>
<text x="415.5" y="346.0" font-size="10.5" text-anchor="middle" font-weight="bold" fill="#000" textLength="19" lengthAdjust="spacingAndGlyphs"  stroke="#000" stroke-width="0.35">127E</text>
<line x1="448.2" y1="335" x2="448.2" y2="338" stroke="#000" stroke-width="1.2"/>
<text x="448.2" y="346.0" font-size="10.5" text-anchor="middle" font-weight="bold" fill="#000" textLength="27" lengthAdjust="spacingAndGlyphs"  stroke="#000" stroke-width="0.35">127.5E</text>
<line x1="481.0" y1="335" x2="481.0" y2="338" stroke="#000" stroke-width="1.2"/>
<text x="481.0" y="346.0" font-size="10.5" text-anchor="middle" font-weight="bold" fill="#000" textLength="19" lengthAdjust="spacingAndGlyphs"  stroke="#000" stroke-width="0.35">128E</text>
<line x1="513.8" y1="335" x2="513.8" y2="338" stroke="#000" stroke-width="1.2"/>
<text x="513.8" y="346.0" font-size="10.5" text-anchor="middle" font-weight="bold" fill="#000" textLength="27" lengthAdjust="spacingAndGlyphs"  stroke="#000" stroke-width="0.35">128.5E</text>
<line x1="546.5" y1="335" x2="546.5" y2="338" stroke="#000" stroke-width="1.2"/>
<text x="546.5" y="346.0" font-size="10.5" text-anchor="middle" font-weight="bold" fill="#000" textLength="19" lengthAdjust="spacingAndGlyphs"  stroke="#000" stroke-width="0.35">129E</text>
<line x1="579.2" y1="335" x2="579.2" y2="338" stroke="#000" stroke-width="1.2"/>
<text x="579.2" y="346.0" font-size="10.5" text-anchor="middle" font-weight="bold" fill="#000" textLength="27" lengthAdjust="spacingAndGlyphs"  stroke="#000" stroke-width="0.35">129.5E</text>
<line x1="612.0" y1="335" x2="612.0" y2="338" stroke="#000" stroke-width="1.2"/>
<text x="612.0" y="346.0" font-size="10.5" text-anchor="middle" font-weight="bold" fill="#000" textLength="19" lengthAdjust="spacingAndGlyphs"  stroke="#000" stroke-width="0.35">130E</text>
<line x1="644.8" y1="335" x2="644.8" y2="338" stroke="#000" stroke-width="1.2"/>
<text x="644.8" y="346.0" font-size="10.5" text-anchor="middle" font-weight="bold" fill="#000" textLength="27" lengthAdjust="spacingAndGlyphs"  stroke="#000" stroke-width="0.35">130.5E</text>
<line x1="677.5" y1="335" x2="677.5" y2="338" stroke="#000" stroke-width="1.2"/>
<text x="677.5" y="346.0" font-size="10.5" text-anchor="middle" font-weight="bold" fill="#000" textLength="19" lengthAdjust="spacingAndGlyphs"  stroke="#000" stroke-width="0.35">131E</text>
<line x1="710.2" y1="335" x2="710.2" y2="338" stroke="#000" stroke-width="1.2"/>
<text x="710.2" y="346.0" font-size="10.5" text-anchor="middle" font-weight="bold" fill="#000" textLength="27" lengthAdjust="spacingAndGlyphs"  stroke="#000" stroke-width="0.35">131.5E</text>
<line x1="743.0" y1="335" x2="743.0" y2="338" stroke="#000" stroke-width="1.2"/>
<text x="743.0" y="346.0" font-size="10.5" text-anchor="middle" font-weight="bold" fill="#000" textLength="19" lengthAdjust="spacingAndGlyphs"  stroke="#000" stroke-width="0.35">132E</text>
<text x="357.5" y="84.3" font-size="11" text-anchor="start" font-weight="normal" fill="#000" textLength="151" lengthAdjust="spacingAndGlyphs" >(21Z)&#160;&#160;06JST,17JUN2017</text>
<text x="357.5" y="95.5" font-size="11" text-anchor="start" font-weight="normal" fill="#a000c8" textLength="117" lengthAdjust="spacingAndGlyphs" >(00Z)&#160;&#160;09JST,17JUN</text>
<text x="357.5" y="106.8" font-size="11" text-anchor="start" font-weight="normal" fill="#1e3cff" textLength="117" lengthAdjust="spacingAndGlyphs" >(03Z)&#160;&#160;12JST,17JUN</text>
<text x="357.5" y="118.0" font-size="11" text-anchor="start" font-weight="normal" fill="#00dc00" textLength="117" lengthAdjust="spacingAndGlyphs" >(06Z)&#160;&#160;15JST,17JUN</text>
<text x="357.5" y="129.3" font-size="11" text-anchor="start" font-weight="normal" fill="#e6dc32" textLength="117" lengthAdjust="spacingAndGlyphs" >(09Z)&#160;&#160;18JST,17JUN</text>
<text x="357.5" y="140.6" font-size="11" text-anchor="start" font-weight="normal" fill="#f08228" textLength="117" lengthAdjust="spacingAndGlyphs" >(12Z)&#160;&#160;21JST,17JUN</text>
<text x="737.0" y="309.5" font-size="10.5" text-anchor="end" font-weight="normal" fill="#000" textLength="87" lengthAdjust="spacingAndGlyphs" >VUP=&#160;&#160;5.0&#160;&#160;m/s</text>
<text x="737.0" y="319.0" font-size="10.5" text-anchor="end" font-weight="normal" fill="#000" textLength="97" lengthAdjust="spacingAndGlyphs" >VDW=&#160;&#160;&#8722;3.0&#160;&#160;m/s</text>
<text x="737.0" y="328.5" font-size="10.5" text-anchor="end" font-weight="normal" fill="#000" textLength="114" lengthAdjust="spacingAndGlyphs" >Burst&#160;Alt=&#160;&#160;15.0&#160;&#160;km</text>
<path d="M458.3,252.4 L457.7,244.9 L462.9,235.8 L462.9,226.6 L468.6,223.8 L469.5,219.0 L474.3,212.9 L474.3,206.0 L478.9,204.9 L480.0,207.2 L488.0,206.0 L497.2,191.1 L502.9,196.9 L502.4,203.7 L499.5,208.3 L483.5,218.6 L473.2,224.3 L474.3,233.5 L468.6,235.8 L466.3,242.6 L467.5,247.2 L461.7,252.4 Z" fill="none" stroke="#000" stroke-width="1" stroke-linejoin="round" stroke-linecap="round" />
<path d="M396.0,229.0 L401.0,228.0 L404.0,232.0 L402.0,235.0 L398.0,233.0 Z" fill="none" stroke="#000" stroke-width="1" stroke-linejoin="round" stroke-linecap="round" />
<path d="M540.0,114.0 L545.0,112.0 L548.0,118.0 L549.0,126.0 L546.0,131.0 L542.0,130.0 L539.0,124.0 L541.0,118.0 Z" fill="none" stroke="#000" stroke-width="1" stroke-linejoin="round" stroke-linecap="round" />
<path d="M515.0,152.0 L520.0,148.0 L525.0,147.5 L523.0,152.0 L517.0,155.0 Z" fill="none" stroke="#000" stroke-width="1" stroke-linejoin="round" stroke-linecap="round" />
<path d="M591.0,68.5 L593.6,71.0 L592.3,73.6 L587.9,76.1 L582.8,79.9 L577.1,84.3 L575.9,86.2 L577.1,89.4 L572.7,93.1 L571.5,96.3 L566.4,93.8 L565.2,90.0 L562.6,88.1 L557.6,87.5 L556.0,86.2 L561.4,86.2 L562.0,83.0 L563.9,80.5 L568.9,77.4 L572.7,77.7 L577.1,73.9 L580.3,75.5 L582.8,71.7 L586.0,69.2 Z" fill="none" stroke="#000" stroke-width="1.1" stroke-linejoin="round" stroke-linecap="round" />
<path d="M588.0,69.0 L590.0,69.5 L589.0,72.0 L587.5,72.0 Z" fill="none" stroke="#000" stroke-width="0.9" stroke-linejoin="round" stroke-linecap="round" />
<path d="M558.8,90.6 L560.1,94.4 L563.3,97.6 L568.9,98.8 L566.4,96.9 L562.6,95.0 L559.5,91.3 Z" fill="none" stroke="#000" stroke-width="1.0" stroke-linejoin="round" stroke-linecap="round" />
<path d="M608.0,84.0 L611.0,78.0 L612.5,84.0 Z" fill="none" stroke="#000" stroke-width="1" stroke-linejoin="round" stroke-linecap="round" />
<path d="M470.5,207.5 L500,205 L510,200 Q518,193 522,185 Q524,180 519,182" fill="none" stroke="#a000c8" stroke-width="1.6" stroke-linecap="round" stroke-linejoin="round"/>
<path d="M471,206 L500,203.5 L500,208 L472,209.5 Z" fill="#a000c8" opacity="0.9"/>
<circle cx="518.5" cy="181.5" r="2.3" fill="#a000c8"/>
<path d="M467.5,218.6 Q472,213 480,210 L502,205" fill="none" stroke="#a000c8" stroke-width="1.4" stroke-linecap="round" stroke-linejoin="round"/>
<path d="M469,219 Q480,214 495,212 L505,207" fill="none" stroke="#1e3cff" stroke-width="1.6" stroke-linecap="round" stroke-linejoin="round"/>
<path d="M505,207 L526,193" fill="none" stroke="#1e3cff" stroke-width="1.6" stroke-linecap="round" stroke-linejoin="round" stroke-dasharray="3,2"/>
<circle cx="526.5" cy="192.5" r="2.2" fill="#1e3cff"/>
<path d="M469,221 Q475,224 490,225.5 Q500,222 508,215 Q515,209 522,208 Q535,208 545,210" fill="none" stroke="#e6dc32" stroke-width="1.6" stroke-linecap="round" stroke-linejoin="round"/>
<path d="M469,220 Q476,223 489,223.5 Q500,219 510,212 Q520,204 535,205 Q545,206 550,210" fill="none" stroke="#f08228" stroke-width="1.4" stroke-linecap="round" stroke-linejoin="round"/>
<path d="M518,205 Q535,204 550,210" fill="none" stroke="#f08228" stroke-width="1.6" stroke-linecap="round" stroke-linejoin="round" stroke-dasharray="3,2"/>
<circle cx="550.5" cy="210" r="2.3" fill="#f08228"/>
<path d="M469,221 Q480,221 492,218 Q503,213 512,208 Q520,206 530,209" fill="none" stroke="#00dc00" stroke-width="1.6" stroke-linecap="round" stroke-linejoin="round"/>
<path d="M515,207 Q525,207 531,210" fill="none" stroke="#00dc00" stroke-width="1.6" stroke-linecap="round" stroke-linejoin="round" stroke-dasharray="3,2"/>
<circle cx="531" cy="209.5" r="2.3" fill="#00dc00"/>
<path d="M469,218 L468.5,215.5 Q470,214 478,214.5 L500,215 L505,217.5" fill="none" stroke="#000" stroke-width="1.6" stroke-linecap="round" stroke-linejoin="round"/>
<path d="M485,214 L503,215 L505,218.5 L487,218 Z" fill="#000"/>
<path d="M505,218 L535,218.5 Q545,218 545,213 Q544,210 540,211" fill="none" stroke="#000" stroke-width="1.5" stroke-linecap="round" stroke-linejoin="round" stroke-dasharray="3,2"/>
<circle cx="541" cy="211.5" r="2.3" fill="#000"/>
<clipPath id="cp"><rect x="330.5" y="366" width="196.5" height="191.5"/></clipPath>
<g clip-path="url(#cp)">
<ellipse cx="428.8" cy="461.6" rx="24.4" ry="23.7" fill="none" stroke="#000" stroke-width="1"/>
<ellipse cx="428.8" cy="461.6" rx="48.8" ry="47.4" fill="none" stroke="#000" stroke-width="1"/>
<ellipse cx="428.8" cy="461.6" rx="73.2" ry="71.1" fill="none" stroke="#000" stroke-width="1"/>
<ellipse cx="428.8" cy="461.6" rx="97.6" ry="94.8" fill="none" stroke="#000" stroke-width="1"/>
<line x1="330.5" y1="461.6" x2="527" y2="461.6" stroke="#000" stroke-width="1"/>
<line x1="428.8" y1="366" x2="428.8" y2="557.5" stroke="#000" stroke-width="1"/>
<line x1="331.2" y1="459.6" x2="331.2" y2="463.6" stroke="#000" stroke-width="0.9"/>
<line x1="426.8" y1="366.8" x2="430.8" y2="366.8" stroke="#000" stroke-width="0.9"/>
<line x1="343.4" y1="459.6" x2="343.4" y2="463.6" stroke="#000" stroke-width="0.9"/>
<line x1="426.8" y1="378.7" x2="430.8" y2="378.7" stroke="#000" stroke-width="0.9"/>
<line x1="355.6" y1="459.6" x2="355.6" y2="463.6" stroke="#000" stroke-width="0.9"/>
<line x1="426.8" y1="390.5" x2="430.8" y2="390.5" stroke="#000" stroke-width="0.9"/>
<line x1="367.8" y1="459.6" x2="367.8" y2="463.6" stroke="#000" stroke-width="0.9"/>
<line x1="426.8" y1="402.4" x2="430.8" y2="402.4" stroke="#000" stroke-width="0.9"/>
<line x1="380.0" y1="459.6" x2="380.0" y2="463.6" stroke="#000" stroke-width="0.9"/>
<line x1="426.8" y1="414.2" x2="430.8" y2="414.2" stroke="#000" stroke-width="0.9"/>
<line x1="392.2" y1="459.6" x2="392.2" y2="463.6" stroke="#000" stroke-width="0.9"/>
<line x1="426.8" y1="426.1" x2="430.8" y2="426.1" stroke="#000" stroke-width="0.9"/>
<line x1="404.4" y1="459.6" x2="404.4" y2="463.6" stroke="#000" stroke-width="0.9"/>
<line x1="426.8" y1="437.9" x2="430.8" y2="437.9" stroke="#000" stroke-width="0.9"/>
<line x1="416.6" y1="459.6" x2="416.6" y2="463.6" stroke="#000" stroke-width="0.9"/>
<line x1="426.8" y1="449.8" x2="430.8" y2="449.8" stroke="#000" stroke-width="0.9"/>
<line x1="441.0" y1="459.6" x2="441.0" y2="463.6" stroke="#000" stroke-width="0.9"/>
<line x1="426.8" y1="473.5" x2="430.8" y2="473.5" stroke="#000" stroke-width="0.9"/>
<line x1="453.2" y1="459.6" x2="453.2" y2="463.6" stroke="#000" stroke-width="0.9"/>
<line x1="426.8" y1="485.3" x2="430.8" y2="485.3" stroke="#000" stroke-width="0.9"/>
<line x1="465.4" y1="459.6" x2="465.4" y2="463.6" stroke="#000" stroke-width="0.9"/>
<line x1="426.8" y1="497.2" x2="430.8" y2="497.2" stroke="#000" stroke-width="0.9"/>
<line x1="477.6" y1="459.6" x2="477.6" y2="463.6" stroke="#000" stroke-width="0.9"/>
<line x1="426.8" y1="509.0" x2="430.8" y2="509.0" stroke="#000" stroke-width="0.9"/>
<line x1="489.8" y1="459.6" x2="489.8" y2="463.6" stroke="#000" stroke-width="0.9"/>
<line x1="426.8" y1="520.9" x2="430.8" y2="520.9" stroke="#000" stroke-width="0.9"/>
<line x1="502.0" y1="459.6" x2="502.0" y2="463.6" stroke="#000" stroke-width="0.9"/>
<line x1="426.8" y1="532.7" x2="430.8" y2="532.7" stroke="#000" stroke-width="0.9"/>
<line x1="514.2" y1="459.6" x2="514.2" y2="463.6" stroke="#000" stroke-width="0.9"/>
<line x1="426.8" y1="544.6" x2="430.8" y2="544.6" stroke="#000" stroke-width="0.9"/>
<line x1="526.4" y1="459.6" x2="526.4" y2="463.6" stroke="#000" stroke-width="0.9"/>
<line x1="426.8" y1="556.4" x2="430.8" y2="556.4" stroke="#000" stroke-width="0.9"/>
<path d="M414.4,464.3 L400.5,467.6 L393.3,466.1 L392.4,462.5 L396.9,453.5 L407.7,441.8" fill="none" stroke="#fa3c3c" stroke-width="2" stroke-linejoin="round" stroke-linecap="round" />
<circle cx="414.4" cy="464.3" r="1.7" fill="#fa3c3c"/>
<path d="M407.7,441.8 L428.4,437.7 L450.6,444.5" fill="none" stroke="#f08228" stroke-width="2" stroke-linejoin="round" stroke-linecap="round" />
<path d="M450.6,444.5 L456.0,452.0 L464.0,456.6" fill="none" stroke="#e6dc32" stroke-width="2" stroke-linejoin="round" stroke-linecap="round" />
<path d="M464.0,456.6 L488.3,459.8 L501.0,466.0 L510.0,468.0" fill="none" stroke="#00dc00" stroke-width="2" stroke-linejoin="round" stroke-linecap="round" />
<path d="M456.0,473.9 L492.0,462.2 L510.0,467.2" fill="none" stroke="#00c8c8" stroke-width="2" stroke-linejoin="round" stroke-linecap="round" />
<path d="M407.7,461.6 L418.5,452.0 L456.0,473.9" fill="none" stroke="#1e3cff" stroke-width="2" stroke-linejoin="round" stroke-linecap="round" />
</g>
<rect x="330.5" y="366" width="196.5" height="191.5" fill="none" stroke="#000" stroke-width="2"/>
<text x="335.0" y="379.0" font-size="13" text-anchor="start" font-weight="normal" fill="#000" textLength="43" lengthAdjust="spacingAndGlyphs" >06JST</text>
<text x="523.0" y="379.0" font-size="13" text-anchor="end" font-weight="normal" fill="#000" textLength="43" lengthAdjust="spacingAndGlyphs" >17JUN</text>
<text x="335.0" y="551.5" font-size="9.5" text-anchor="start" font-weight="normal" fill="#000" textLength="28" lengthAdjust="spacingAndGlyphs" >ms&#8722;1</text>
<text x="523.5" y="545.0" font-size="10" text-anchor="end" font-weight="normal" fill="#000" textLength="30" lengthAdjust="spacingAndGlyphs" >26.5N</text>
<text x="523.5" y="554.3" font-size="10" text-anchor="end" font-weight="normal" fill="#000" textLength="47" lengthAdjust="spacingAndGlyphs" >127.875E</text>
<text x="333.5" y="469.8" font-size="8" text-anchor="start" font-weight="bold" fill="#fa3c3c" textLength="37" lengthAdjust="spacingAndGlyphs"  stroke="#fa3c3c" stroke-width="0.35">&#8805;850hPa</text>
<text x="333.5" y="476.0" font-size="8" text-anchor="start" font-weight="bold" fill="#f08228" textLength="20" lengthAdjust="spacingAndGlyphs"  stroke="#f08228" stroke-width="0.35">&lt;850</text>
<text x="333.5" y="482.2" font-size="8" text-anchor="start" font-weight="bold" fill="#e6dc32" textLength="20" lengthAdjust="spacingAndGlyphs"  stroke="#e6dc32" stroke-width="0.35">&lt;700</text>
<text x="333.5" y="488.3" font-size="8" text-anchor="start" font-weight="bold" fill="#00dc00" textLength="20" lengthAdjust="spacingAndGlyphs"  stroke="#00dc00" stroke-width="0.35">&lt;500</text>
<text x="333.5" y="494.5" font-size="8" text-anchor="start" font-weight="bold" fill="#00c8c8" textLength="20" lengthAdjust="spacingAndGlyphs"  stroke="#00c8c8" stroke-width="0.35">&lt;250</text>
<text x="333.5" y="500.8" font-size="8" text-anchor="start" font-weight="bold" fill="#1e3cff" textLength="20" lengthAdjust="spacingAndGlyphs"  stroke="#1e3cff" stroke-width="0.35">&lt;100</text>
<text x="412.2" y="481.8" font-size="11" text-anchor="middle" transform="rotate(-45 412.2 478)">10</text>
<text x="394.2" y="499.3" font-size="11" text-anchor="middle" transform="rotate(-45 394.2 495.5)">20</text>
<text x="377.2" y="516.3" font-size="11" text-anchor="middle" transform="rotate(-45 377.2 512.5)">30</text>
<text x="360" y="533.4" font-size="11" text-anchor="middle" transform="rotate(-45 360 529.6)">40</text>
<text x="556.0" y="376.5" font-size="13" text-anchor="start" font-weight="normal" fill="#000" textLength="180" lengthAdjust="spacingAndGlyphs" stroke="#000" stroke-width="0.5">Sonde&#160;Dir&#160;from&#160;COBRA</text>
<rect x="546" y="380" width="197" height="177" fill="none" stroke="#000" stroke-width="1.8"/>
<line x1="546" y1="397.5" x2="743" y2="397.5" stroke="#000" stroke-width="1.8"/>
<line x1="599" y1="380" x2="599" y2="557" stroke="#000" stroke-width="1.8"/>
<line x1="645.5" y1="380" x2="645.5" y2="557" stroke="#000" stroke-width="1.8"/>
<line x1="690" y1="380" x2="690" y2="557" stroke="#000" stroke-width="1.8"/>
<text x="573.0" y="392.0" font-size="10" text-anchor="middle" font-weight="bold" fill="#000" textLength="38" lengthAdjust="spacingAndGlyphs"  stroke="#000" stroke-width="0.35">HT(km)</text>
<text x="622.0" y="392.0" font-size="10" text-anchor="middle" font-weight="bold" fill="#000" textLength="42" lengthAdjust="spacingAndGlyphs"  stroke="#000" stroke-width="0.35">AZ(deg)</text>
<text x="667.5" y="392.0" font-size="10" text-anchor="middle" font-weight="bold" fill="#000" textLength="40" lengthAdjust="spacingAndGlyphs"  stroke="#000" stroke-width="0.35">EL(deg)</text>
<text x="716.5" y="392.0" font-size="10" text-anchor="middle" font-weight="bold" fill="#000" textLength="46" lengthAdjust="spacingAndGlyphs"  stroke="#000" stroke-width="0.35">RNG(km)</text>
<text x="592.0" y="414.0" font-size="13" text-anchor="end" font-weight="normal" fill="#000" textLength="22" lengthAdjust="spacingAndGlyphs" stroke="#000" stroke-width="0.45">1.0</text>
<text x="637.5" y="414.0" font-size="13" text-anchor="end" font-weight="normal" fill="#000" textLength="28" lengthAdjust="spacingAndGlyphs" stroke="#000" stroke-width="0.45">248</text>
<text x="683.0" y="414.0" font-size="13" text-anchor="end" font-weight="normal" fill="#000" textLength="22" lengthAdjust="spacingAndGlyphs" stroke="#000" stroke-width="0.45">1.4</text>
<text x="729.0" y="414.0" font-size="13" text-anchor="end" font-weight="normal" fill="#000" textLength="31" lengthAdjust="spacingAndGlyphs" stroke="#000" stroke-width="0.45">26.3</text>
<text x="592.0" y="432.9" font-size="13" text-anchor="end" font-weight="normal" fill="#000" textLength="22" lengthAdjust="spacingAndGlyphs" stroke="#000" stroke-width="0.45">2.0</text>
<text x="637.5" y="432.9" font-size="13" text-anchor="end" font-weight="normal" fill="#000" textLength="28" lengthAdjust="spacingAndGlyphs" stroke="#000" stroke-width="0.45">253</text>
<text x="683.0" y="432.9" font-size="13" text-anchor="end" font-weight="normal" fill="#000" textLength="22" lengthAdjust="spacingAndGlyphs" stroke="#000" stroke-width="0.45">3.5</text>
<text x="729.0" y="432.9" font-size="13" text-anchor="end" font-weight="normal" fill="#000" textLength="31" lengthAdjust="spacingAndGlyphs" stroke="#000" stroke-width="0.45">27.0</text>
<text x="592.0" y="451.7" font-size="13" text-anchor="end" font-weight="normal" fill="#000" textLength="22" lengthAdjust="spacingAndGlyphs" stroke="#000" stroke-width="0.45">3.0</text>
<text x="637.5" y="451.7" font-size="13" text-anchor="end" font-weight="normal" fill="#000" textLength="28" lengthAdjust="spacingAndGlyphs" stroke="#000" stroke-width="0.45">258</text>
<text x="683.0" y="451.7" font-size="13" text-anchor="end" font-weight="normal" fill="#000" textLength="22" lengthAdjust="spacingAndGlyphs" stroke="#000" stroke-width="0.45">5.8</text>
<text x="729.0" y="451.7" font-size="13" text-anchor="end" font-weight="normal" fill="#000" textLength="31" lengthAdjust="spacingAndGlyphs" stroke="#000" stroke-width="0.45">26.1</text>
<text x="592.0" y="470.6" font-size="13" text-anchor="end" font-weight="normal" fill="#000" textLength="22" lengthAdjust="spacingAndGlyphs" stroke="#000" stroke-width="0.45">4.0</text>
<text x="637.5" y="470.6" font-size="13" text-anchor="end" font-weight="normal" fill="#000" textLength="28" lengthAdjust="spacingAndGlyphs" stroke="#000" stroke-width="0.45">260</text>
<text x="683.0" y="470.6" font-size="13" text-anchor="end" font-weight="normal" fill="#000" textLength="22" lengthAdjust="spacingAndGlyphs" stroke="#000" stroke-width="0.45">8.6</text>
<text x="729.0" y="470.6" font-size="13" text-anchor="end" font-weight="normal" fill="#000" textLength="31" lengthAdjust="spacingAndGlyphs" stroke="#000" stroke-width="0.45">24.4</text>
<text x="592.0" y="489.4" font-size="13" text-anchor="end" font-weight="normal" fill="#000" textLength="22" lengthAdjust="spacingAndGlyphs" stroke="#000" stroke-width="0.45">6.0</text>
<text x="637.5" y="489.4" font-size="13" text-anchor="end" font-weight="normal" fill="#000" textLength="28" lengthAdjust="spacingAndGlyphs" stroke="#000" stroke-width="0.45">258</text>
<text x="683.0" y="489.4" font-size="13" text-anchor="end" font-weight="normal" fill="#000" textLength="31" lengthAdjust="spacingAndGlyphs" stroke="#000" stroke-width="0.45">16.5</text>
<text x="729.0" y="489.4" font-size="13" text-anchor="end" font-weight="normal" fill="#000" textLength="31" lengthAdjust="spacingAndGlyphs" stroke="#000" stroke-width="0.45">19.9</text>
<text x="592.0" y="508.2" font-size="13" text-anchor="end" font-weight="normal" fill="#000" textLength="22" lengthAdjust="spacingAndGlyphs" stroke="#000" stroke-width="0.45">8.0</text>
<text x="637.5" y="508.2" font-size="13" text-anchor="end" font-weight="normal" fill="#000" textLength="28" lengthAdjust="spacingAndGlyphs" stroke="#000" stroke-width="0.45">254</text>
<text x="683.0" y="508.2" font-size="13" text-anchor="end" font-weight="normal" fill="#000" textLength="31" lengthAdjust="spacingAndGlyphs" stroke="#000" stroke-width="0.45">31.5</text>
<text x="729.0" y="508.2" font-size="13" text-anchor="end" font-weight="normal" fill="#000" textLength="31" lengthAdjust="spacingAndGlyphs" stroke="#000" stroke-width="0.45">14.6</text>
<text x="592.0" y="527.1" font-size="13" text-anchor="end" font-weight="normal" fill="#000" textLength="31" lengthAdjust="spacingAndGlyphs" stroke="#000" stroke-width="0.45">10.0</text>
<text x="637.5" y="527.1" font-size="13" text-anchor="end" font-weight="normal" fill="#000" textLength="28" lengthAdjust="spacingAndGlyphs" stroke="#000" stroke-width="0.45">228</text>
<text x="683.0" y="527.1" font-size="13" text-anchor="end" font-weight="normal" fill="#000" textLength="31" lengthAdjust="spacingAndGlyphs" stroke="#000" stroke-width="0.45">65.9</text>
<text x="729.0" y="527.1" font-size="13" text-anchor="end" font-weight="normal" fill="#000" textLength="31" lengthAdjust="spacingAndGlyphs" stroke="#000" stroke-width="0.45">10.6</text>
<text x="592.0" y="546.0" font-size="13" text-anchor="end" font-weight="normal" fill="#000" textLength="31" lengthAdjust="spacingAndGlyphs" stroke="#000" stroke-width="0.45">12.0</text>
<text x="637.5" y="546.0" font-size="13" text-anchor="end" font-weight="normal" fill="#000" textLength="28" lengthAdjust="spacingAndGlyphs" stroke="#000" stroke-width="0.45">115</text>
<text x="683.0" y="546.0" font-size="13" text-anchor="end" font-weight="normal" fill="#000" textLength="31" lengthAdjust="spacingAndGlyphs" stroke="#000" stroke-width="0.45">52.8</text>
<text x="729.0" y="546.0" font-size="13" text-anchor="end" font-weight="normal" fill="#000" textLength="31" lengthAdjust="spacingAndGlyphs" stroke="#000" stroke-width="0.45">14.6</text>
</g></svg>
</body></html>
